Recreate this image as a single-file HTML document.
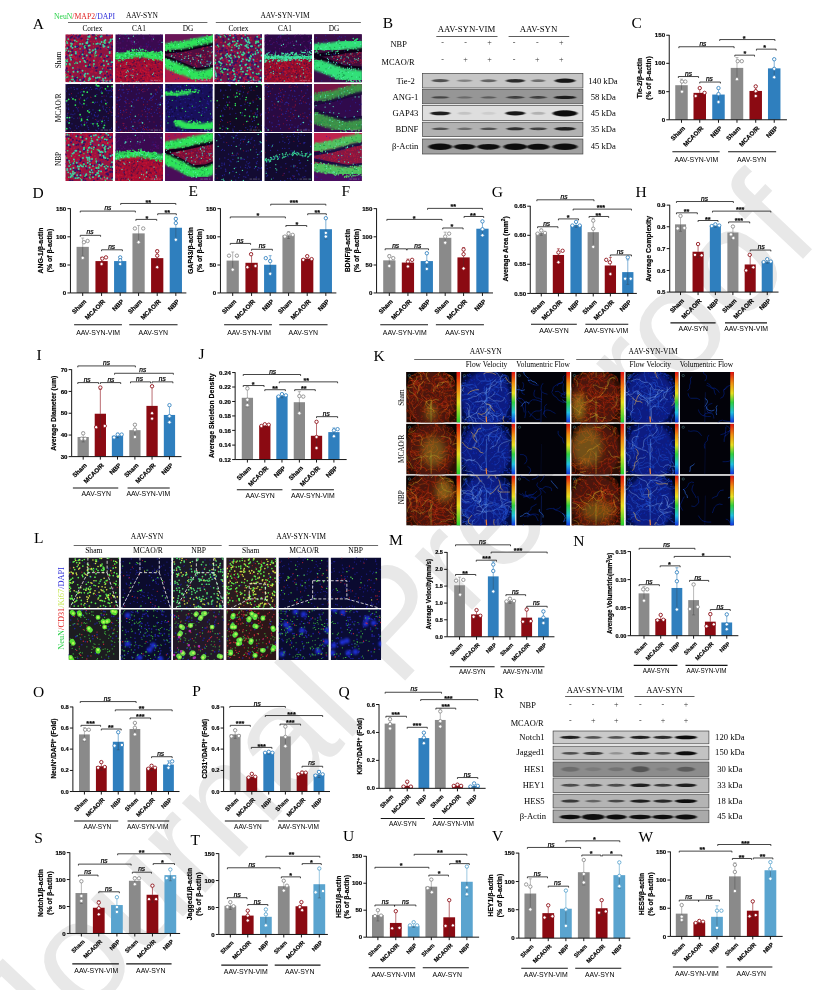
<!DOCTYPE html><html><head><meta charset="utf-8"><title>Figure</title>
<style>html,body{margin:0;padding:0;background:#fff}svg{display:block}.s{font-family:"Liberation Sans", sans-serif}.r{font-family:"Liberation Serif", serif}</style></head><body>
<svg width="816" height="990" viewBox="0 0 816 990">
<rect width="816" height="990" fill="#fff"/>
<text class="s" x="0" y="0" font-size="148.8" fill="#e8e8e8" transform="translate(33.8 1074.8) rotate(-46.7)">Journal Pre-proof</text>
<defs><filter id="b1" x="-20%" y="-20%" width="140%" height="140%"><feGaussianBlur stdDeviation="2.2"/></filter><filter id="b2" x="-20%" y="-20%" width="140%" height="140%"><feGaussianBlur stdDeviation="3"/></filter><filter id="b6" x="-60%" y="-60%" width="220%" height="220%"><feGaussianBlur stdDeviation="7"/></filter><filter id="b05" x="-20%" y="-20%" width="140%" height="140%"><feGaussianBlur stdDeviation="0.7"/></filter><filter id="bb" x="-30%" y="-80%" width="160%" height="260%"><feGaussianBlur stdDeviation="1.1 0.55"/></filter><filter id="bb2" x="-30%" y="-80%" width="160%" height="260%"><feGaussianBlur stdDeviation="1.6 0.9"/></filter><linearGradient id="cb1" x1="0" y1="0" x2="0" y2="1"><stop offset="0" stop-color="#e01010"/><stop offset="0.3" stop-color="#f08010"/><stop offset="0.6" stop-color="#e8e020"/><stop offset="1" stop-color="#20d030"/></linearGradient><linearGradient id="cb2" x1="0" y1="0" x2="0" y2="1"><stop offset="0" stop-color="#e01010"/><stop offset="0.22" stop-color="#f09010"/><stop offset="0.42" stop-color="#e8e020"/><stop offset="0.6" stop-color="#30d040"/><stop offset="0.8" stop-color="#20c0e0"/><stop offset="1" stop-color="#1030e0"/></linearGradient></defs>
<svg x="65.30" y="34.30" width="47.70" height="48.00" viewBox="0 0 100 100" preserveAspectRatio="none"><rect width="100" height="100" fill="#8e1440"/><g filter="url(#b05)"><path d="M32 15h.1M65 7h.1M54 37h.1M6 51h.1M4 43h.1M7 9h.1M42 83h.1M12 22h.1M63 95h.1M58 40h.1M98 5h.1M86 29h.1M14 12h.1M31 82h.1M18 58h.1M64 37h.1M55 6h.1M6 21h.1M68 43h.1M31 59h.1M45 30h.1M79 70h.1M24 57h.1M53 88h.1M73 29h.1M98 12h.1M42 76h.1M15 49h.1M4 67h.1M76 57h.1M88 31h.1M70 59h.1M58 46h.1M84 94h.1M47 66h.1M6 70h.1M65 99h.1M82 28h.1M39 67h.1M2 46h.1M17 12h.1M6 77h.1M13 25h.1M39 87h.1M8 45h.1M55 88h.1M82 86h.1M28 42h.1M36 88h.1M96 15h.1M18 23h.1M23 48h.1M59 26h.1M0 42h.1M37 57h.1M95 69h.1M52 62h.1M68 5h.1M90 78h.1M87 80h.1M39 40h.1M10 63h.1M6 7h.1M21 16h.1M34 5h.1M0 15h.1M10 36h.1M3 87h.1M61 15h.1M25 35h.1M36 12h.1M85 99h.1M47 48h.1M9 10h.1M34 26h.1M83 16h.1M2 95h.1M53 15h.1M54 3h.1M53 98h.1M86 70h.1M26 37h.1M17 77h.1M53 78h.1M33 22h.1M81 98h.1M85 81h.1M82 74h.1M23 52h.1M36 3h.1M3 28h.1M26 69h.1M96 45h.1M94 99h.1M96 36h.1M22 23h.1M20 20h.1M62 90h.1M84 48h.1M65 80h.1M8 66h.1M91 78h.1M75 48h.1M18 79h.1M33 80h.1M97 40h.1M40 95h.1M72 17h.1M13 15h.1M90 81h.1M15 83h.1M98 66h.1M35 55h.1M13 1h.1M97 65h.1M53 93h.1M43 87h.1M83 21h.1M25 29h.1M24 59h.1M26 42h.1M13 91h.1M35 46h.1M58 90h.1M42 92h.1M50 53h.1M52 2h.1M44 18h.1M0 80h.1M17 47h.1M73 56h.1M33 52h.1M56 78h.1M11 56h.1M25 28h.1M77 51h.1M56 76h.1M91 44h.1M61 51h.1M51 69h.1M45 53h.1M48 94h.1M70 88h.1M94 26h.1M56 94h.1M84 14h.1M12 44h.1M7 24h.1M7 67h.1M78 90h.1M15 72h.1M66 14h.1M88 97h.1M22 95h.1M40 49h.1M99 83h.1M16 43h.1M52 34h.1M20 32h.1M72 2h.1M55 44h.1M2 33h.1M62 51h.1M6 99h.1M79 97h.1M10 27h.1M4 78h.1M27 13h.1M42 91h.1M82 26h.1M15 92h.1M57 70h.1M9 6h.1M69 43h.1M7 94h.1M63 80h.1M8 86h.1M7 86h.1M45 34h.1M55 93h.1M27 13h.1M53 24h.1M11 16h.1M5 20h.1M31 31h.1M76 29h.1M50 18h.1M35 2h.1M25 2h.1M73 55h.1M19 47h.1M93 11h.1M82 43h.1M50 83h.1M39 51h.1M69 98h.1M34 83h.1M71 64h.1M40 35h.1M5 13h.1M7 74h.1M26 16h.1M8 84h.1M87 67h.1M28 24h.1M29 46h.1M16 45h.1M26 96h.1M97 55h.1M24 97h.1M31 36h.1M0 38h.1M47 50h.1M20 50h.1M0 26h.1M9 40h.1M4 2h.1M30 23h.1M59 53h.1M75 66h.1M72 88h.1M39 33h.1M98 15h.1M72 64h.1M4 84h.1M89 63h.1M73 81h.1M14 52h.1M50 83h.1M80 83h.1M58 89h.1M68 69h.1M23 3h.1M13 36h.1M10 84h.1M56 63h.1M63 68h.1M49 0h.1M80 75h.1M50 54h.1" stroke="#c8143a" stroke-width="3.6" stroke-linecap="round" fill="none" stroke-opacity="0.8"/><path d="M66 7h.1M74 25h.1M7 27h.1M73 21h.1M74 98h.1M49 38h.1M48 68h.1M77 62h.1M64 8h.1M15 25h.1M74 30h.1M57 1h.1M6 27h.1M67 69h.1M68 29h.1M52 46h.1M47 12h.1M89 20h.1M98 94h.1M2 46h.1M82 97h.1M45 27h.1M21 95h.1M21 58h.1M14 52h.1M95 13h.1M82 51h.1M89 70h.1M23 90h.1M49 2h.1M0 49h.1M45 30h.1M14 34h.1M32 84h.1M0 75h.1M84 12h.1M93 71h.1M90 29h.1M37 39h.1M100 59h.1M36 43h.1M28 5h.1M10 83h.1M29 94h.1M25 27h.1M51 19h.1M37 96h.1M88 81h.1M63 91h.1M94 55h.1M72 5h.1M73 45h.1M75 64h.1M29 5h.1M93 13h.1M47 34h.1M30 74h.1M98 26h.1M66 30h.1M56 39h.1M17 16h.1M21 91h.1M50 22h.1M91 100h.1M45 14h.1M19 9h.1M34 9h.1M24 26h.1M57 89h.1M75 41h.1M41 52h.1M38 34h.1M6 28h.1M97 13h.1M50 63h.1M86 22h.1M27 25h.1M40 45h.1M95 85h.1M87 2h.1M3 71h.1M90 47h.1M59 0h.1M39 93h.1M83 86h.1M97 25h.1M11 15h.1M52 68h.1M94 72h.1M65 76h.1M46 55h.1M4 78h.1M23 92h.1M65 30h.1M13 25h.1M64 70h.1M11 7h.1M52 58h.1M39 22h.1M60 1h.1M30 46h.1M96 64h.1M88 48h.1M23 25h.1M96 70h.1M31 2h.1M50 67h.1M42 26h.1M67 93h.1M23 3h.1M34 42h.1M68 20h.1M80 74h.1M50 21h.1M97 31h.1M82 23h.1M22 76h.1M29 95h.1M50 19h.1M22 42h.1M67 95h.1M15 39h.1M21 97h.1M14 5h.1M6 39h.1M90 88h.1M73 100h.1M93 33h.1M19 94h.1M75 3h.1" stroke="#24106a" stroke-width="4.2" stroke-linecap="round" fill="none" stroke-opacity="0.85"/><path d="M66 38h.1M37 33h.1M17 0h.1M28 35h.1M96 12h.1M96 21h.1M36 82h.1M82 43h.1M5 47h.1M37 92h.1M19 36h.1M90 3h.1M41 81h.1M77 4h.1M3 6h.1M92 26h.1M75 90h.1M34 27h.1M96 62h.1M26 72h.1M32 28h.1M0 76h.1M92 63h.1M94 2h.1M23 48h.1M96 95h.1M39 25h.1M43 49h.1M93 18h.1M80 74h.1M82 77h.1M61 33h.1M32 36h.1M78 8h.1M20 75h.1M25 6h.1M3 55h.1M33 98h.1M88 99h.1M26 8h.1M10 50h.1M71 45h.1M23 42h.1M62 67h.1M75 85h.1M66 12h.1M84 29h.1M57 37h.1M74 20h.1M25 25h.1" stroke="#3434b8" stroke-width="2.6" stroke-linecap="round" fill="none" stroke-opacity="0.8"/><path d="M15 88h.1M58 33h.1M40 99h.1M51 23h.1M81 65h.1M99 10h.1M47 82h.1M84 91h.1M4 29h.1M12 19h.1M97 58h.1M93 37h.1M87 45h.1M26 78h.1M95 11h.1M60 62h.1M22 37h.1M14 20h.1M25 60h.1M65 20h.1M1 33h.1M68 19h.1M31 20h.1M80 55h.1M6 10h.1M40 55h.1M64 9h.1M16 70h.1M41 28h.1M31 95h.1M31 57h.1M36 42h.1M86 100h.1M36 20h.1M73 20h.1M1 90h.1M42 82h.1M41 88h.1M46 16h.1M1 55h.1M64 91h.1M9 62h.1M37 50h.1M15 28h.1M52 93h.1M11 49h.1M80 97h.1M20 13h.1M94 98h.1M48 5h.1M93 39h.1M90 62h.1M82 16h.1M79 22h.1M40 85h.1M83 18h.1M22 40h.1M52 38h.1M12 25h.1M72 90h.1M4 56h.1M76 4h.1M84 12h.1M60 55h.1M63 31h.1M42 58h.1M43 66h.1M45 44h.1M2 62h.1M49 24h.1M76 78h.1M46 18h.1M47 11h.1M13 43h.1M9 44h.1M51 4h.1M64 8h.1M73 78h.1M51 5h.1M50 38h.1M95 14h.1M86 100h.1M73 81h.1M19 98h.1M49 96h.1M92 17h.1M79 93h.1M7 35h.1M76 16h.1M90 27h.1M82 14h.1M50 92h.1M21 26h.1M51 32h.1M4 18h.1M16 94h.1M68 90h.1M17 78h.1M12 53h.1M64 36h.1M87 56h.1M58 88h.1M10 99h.1M63 39h.1M80 26h.1M99 58h.1M36 76h.1M44 18h.1M74 5h.1M82 25h.1" stroke="#3fd0a0" stroke-width="4.0" stroke-linecap="round" fill="none"/><path d="M64 98h.1M59 66h.1M31 0h.1M3 15h.1M62 43h.1M51 90h.1M13 23h.1M65 2h.1M0 35h.1M11 36h.1M22 58h.1M59 20h.1M62 47h.1M13 94h.1M24 15h.1M10 64h.1M87 78h.1M40 26h.1M1 64h.1M56 35h.1M65 44h.1M94 73h.1M25 90h.1M4 53h.1M41 24h.1M6 78h.1M1 55h.1M94 14h.1M20 61h.1M51 64h.1M81 17h.1M31 30h.1M5 89h.1M78 72h.1M1 84h.1M75 47h.1" stroke="#30e070" stroke-width="3.0" stroke-linecap="round" fill="none"/></g><path d="M74 96H95" stroke="#d8d8e8" stroke-width="1.4" stroke-opacity="0.5" stroke-dasharray="5 2 9 2 3"/></svg>
<svg x="115.30" y="34.30" width="47.70" height="48.00" viewBox="0 0 100 100" preserveAspectRatio="none"><rect width="100" height="100" fill="#3a0a50"/><path d="M-5 48 L20 45 L45 39 L60 40 L80 45 L105 46 L110 110 L-10 110Z" fill="#a01030" filter="url(#b1)" fill-opacity="1"/><path d="M34 75h.1M70 85h.1M79 52h.1M27 64h.1M74 94h.1M24 91h.1M63 69h.1M67 98h.1M47 84h.1M70 86h.1M44 72h.1M21 62h.1M8 91h.1M11 93h.1M69 63h.1M70 74h.1M7 59h.1M36 82h.1M82 89h.1M7 87h.1M91 94h.1M85 81h.1M63 83h.1M28 72h.1M85 62h.1M44 77h.1M35 70h.1M76 98h.1M49 80h.1M35 83h.1M26 94h.1M11 64h.1M8 79h.1M70 79h.1M38 88h.1M53 75h.1M75 65h.1M16 84h.1M66 74h.1M77 58h.1M70 84h.1M98 73h.1M10 96h.1M98 79h.1M20 64h.1M40 79h.1M69 50h.1M14 60h.1M40 74h.1M57 75h.1M72 88h.1M77 70h.1M85 68h.1M31 63h.1M78 71h.1M68 93h.1M18 65h.1M49 97h.1M16 78h.1M10 57h.1M54 72h.1M51 64h.1M41 95h.1M21 68h.1M39 76h.1M12 98h.1M42 70h.1M22 74h.1M22 80h.1M13 78h.1M81 63h.1M47 56h.1M23 96h.1M35 64h.1M82 82h.1M0 72h.1M43 64h.1M93 85h.1M6 83h.1M91 78h.1M14 83h.1M1 95h.1M23 78h.1M90 79h.1M17 89h.1M61 78h.1M67 89h.1M79 84h.1M20 69h.1M53 74h.1M44 88h.1M49 50h.1M54 86h.1M1 84h.1M47 56h.1M67 84h.1M64 64h.1M3 61h.1M68 93h.1M33 98h.1M51 48h.1M72 63h.1M34 86h.1M53 77h.1M42 55h.1M51 97h.1M65 79h.1M30 59h.1M63 78h.1M4 72h.1M89 55h.1M92 61h.1M66 79h.1M91 61h.1M62 63h.1M70 60h.1M77 91h.1M82 79h.1M64 93h.1M5 57h.1M81 58h.1M59 94h.1M0 68h.1M12 97h.1M9 87h.1M5 77h.1M71 86h.1M63 71h.1M46 93h.1M25 96h.1M1 65h.1M31 73h.1M17 86h.1M37 57h.1M44 68h.1M14 80h.1M36 64h.1M39 79h.1M94 78h.1M6 97h.1M70 83h.1M33 61h.1M98 83h.1M43 89h.1M38 68h.1M60 90h.1M42 59h.1M82 89h.1M4 83h.1M81 87h.1M85 81h.1M68 91h.1M55 80h.1M20 75h.1M61 68h.1M25 75h.1M9 81h.1M58 90h.1M48 59h.1M18 70h.1M36 56h.1M40 52h.1M11 63h.1M3 99h.1M95 77h.1M82 96h.1M56 87h.1M46 95h.1M12 96h.1M26 56h.1M64 96h.1M97 99h.1M90 90h.1M79 71h.1M65 99h.1M75 94h.1M59 76h.1M4 93h.1M22 93h.1M87 89h.1M10 93h.1M84 63h.1M71 55h.1M14 87h.1M32 90h.1M11 98h.1M6 90h.1M36 99h.1M100 93h.1M83 53h.1M18 77h.1M61 50h.1M61 71h.1M81 58h.1M84 86h.1M19 83h.1M37 59h.1M45 52h.1M12 71h.1M82 87h.1M32 71h.1M38 75h.1M6 87h.1M51 53h.1M25 82h.1M2 60h.1M58 52h.1M87 72h.1M49 50h.1M59 86h.1M15 57h.1M83 94h.1M40 94h.1M44 98h.1M80 91h.1M82 85h.1M96 93h.1M43 50h.1M97 78h.1M94 63h.1" stroke="#c81434" stroke-width="3.0" stroke-linecap="round" fill="none" stroke-opacity="0.8"/><path d="M81 88h.1M54 92h.1M31 65h.1M12 59h.1M9 55h.1M84 61h.1M57 65h.1M20 71h.1M46 55h.1M38 59h.1M56 49h.1M28 99h.1M30 77h.1M44 74h.1M96 74h.1M35 68h.1M62 85h.1M74 74h.1M78 71h.1M77 59h.1M50 96h.1M78 87h.1M39 56h.1M79 85h.1M14 58h.1M84 84h.1M43 91h.1M56 50h.1M92 77h.1M54 100h.1M52 52h.1M36 59h.1M35 95h.1M68 53h.1M40 56h.1M57 88h.1M44 62h.1M53 82h.1M98 83h.1M89 69h.1M82 99h.1M51 50h.1M63 60h.1M35 99h.1M41 79h.1M31 69h.1M84 59h.1M50 55h.1M27 65h.1M53 100h.1M52 82h.1M61 81h.1M10 90h.1M5 89h.1M58 96h.1M44 62h.1M93 85h.1M31 90h.1M60 96h.1M50 95h.1M31 88h.1M48 79h.1M12 83h.1M16 71h.1M44 84h.1M35 72h.1M38 96h.1M21 95h.1M90 59h.1M51 54h.1M27 77h.1M38 66h.1M18 85h.1M32 66h.1M11 56h.1M36 50h.1M13 72h.1M91 77h.1M88 86h.1M3 68h.1M41 66h.1M12 91h.1M73 71h.1M84 57h.1M43 68h.1M83 78h.1M85 61h.1M11 79h.1M21 91h.1M75 83h.1" stroke="#40104a" stroke-width="3.0" stroke-linecap="round" fill="none" stroke-opacity="0.8"/><path d="M28 9h.1M93 13h.1M76 4h.1M54 25h.1M6 36h.1M41 20h.1M31 14h.1M24 24h.1M94 35h.1M11 29h.1M36 21h.1M6 28h.1M45 11h.1M36 17h.1M7 1h.1M43 19h.1M54 1h.1M65 25h.1M25 14h.1M84 30h.1M33 18h.1M83 32h.1M24 4h.1M16 30h.1M58 8h.1M69 16h.1M9 4h.1M44 19h.1M72 0h.1M90 16h.1M20 9h.1M81 6h.1M65 30h.1M3 19h.1M11 18h.1M25 9h.1M53 25h.1M59 8h.1M41 7h.1M76 11h.1M39 17h.1M77 14h.1M78 6h.1M21 30h.1M12 37h.1M72 4h.1M60 10h.1M68 25h.1M11 2h.1M38 14h.1M95 1h.1M34 15h.1M80 4h.1M48 16h.1M8 33h.1M59 4h.1M17 36h.1M33 2h.1M5 15h.1M67 27h.1M99 3h.1M36 28h.1M6 34h.1M24 23h.1M35 14h.1M57 30h.1M17 7h.1M30 31h.1M94 34h.1M8 18h.1" stroke="#5a1070" stroke-width="3.0" stroke-linecap="round" fill="none" stroke-opacity="0.7"/><path d="M58 99h.1M36 77h.1M43 87h.1M7 48h.1M90 28h.1M26 2h.1M16 27h.1M70 22h.1M40 20h.1M60 86h.1M65 20h.1M73 96h.1M60 8h.1M81 88h.1M34 14h.1M19 54h.1M88 64h.1M92 21h.1M33 75h.1M65 41h.1M68 34h.1M6 41h.1M5 63h.1M33 49h.1M60 26h.1M46 1h.1M93 56h.1M99 6h.1M61 72h.1M33 9h.1M16 14h.1M77 9h.1M81 42h.1M54 59h.1M55 66h.1M60 33h.1M74 26h.1M71 76h.1M78 31h.1M77 98h.1" stroke="#2525a0" stroke-width="2.4" stroke-linecap="round" fill="none" stroke-opacity="0.7"/><path d="M-5 48 L20 45 L45 39 L60 40 L80 45 L105 46" stroke="#2fe45a" stroke-width="15" fill="none" filter="url(#b1)" stroke-opacity="1"/><path d="M77 36h.1M6 50h.1M94 37h.1M98 50h.1M64 34h.1M80 46h.1M26 43h.1M60 45h.1M12 49h.1M14 43h.1M35 50h.1M4 51h.1M40 32h.1M39 39h.1M85 51h.1M74 38h.1M71 39h.1M52 48h.1M93 53h.1M80 52h.1M70 45h.1M68 37h.1M37 34h.1M20 42h.1M44 37h.1M76 38h.1M46 46h.1M84 41h.1M71 48h.1M51 42h.1M54 37h.1M58 37h.1M53 41h.1M56 32h.1M6 43h.1M80 50h.1M58 32h.1M9 46h.1M73 43h.1M94 53h.1M29 35h.1M75 50h.1M33 45h.1M60 46h.1M3 51h.1M35 37h.1M87 48h.1M12 47h.1M16 54h.1M51 37h.1M20 40h.1M3 39h.1M81 46h.1M94 41h.1M59 44h.1M96 53h.1M0 49h.1M81 42h.1M60 46h.1M70 44h.1M96 36h.1M96 51h.1M25 35h.1M10 55h.1M86 51h.1M63 38h.1M91 50h.1M54 42h.1M14 52h.1M30 38h.1M32 44h.1M39 39h.1M76 47h.1M7 55h.1M77 39h.1M34 39h.1M7 41h.1M75 50h.1M80 36h.1M6 45h.1M63 34h.1M81 54h.1M3 50h.1M58 40h.1M71 45h.1M52 44h.1M26 36h.1M80 46h.1M98 44h.1M73 38h.1M89 53h.1M91 38h.1M47 40h.1M69 47h.1M23 39h.1M16 51h.1M98 55h.1M52 46h.1M35 32h.1M9 44h.1M25 41h.1M79 53h.1M18 44h.1M11 49h.1M30 41h.1M69 44h.1M98 38h.1M25 37h.1M29 38h.1M38 37h.1M64 47h.1M23 44h.1M36 47h.1M94 52h.1M92 46h.1M45 32h.1M98 48h.1M2 47h.1M23 50h.1M86 37h.1" stroke="#2fe45a" stroke-width="3.4" stroke-linecap="round" fill="none"/><path d="M23 48h.1M100 46h.1M32 41h.1M26 45h.1M59 45h.1M94 41h.1M1 48h.1M23 43h.1M41 42h.1M2 53h.1M32 42h.1M69 39h.1M26 42h.1M12 51h.1M52 36h.1M32 48h.1M37 45h.1M13 47h.1M77 44h.1M43 34h.1M26 47h.1M37 35h.1M66 38h.1M54 34h.1M55 46h.1M46 40h.1M89 47h.1M36 36h.1M43 38h.1M94 44h.1M14 46h.1M16 41h.1M18 48h.1M40 35h.1M43 35h.1M69 39h.1M92 40h.1M55 40h.1M48 33h.1M37 39h.1M43 39h.1M6 53h.1M58 45h.1M34 40h.1M59 43h.1M87 44h.1M10 49h.1M64 38h.1M3 48h.1M19 50h.1" stroke="#189048" stroke-width="2.6" stroke-linecap="round" fill="none" stroke-opacity="0.8"/><path d="M93 47h.1M85 44h.1M55 41h.1M27 37h.1M97 39h.1M5 43h.1M52 32h.1M97 41h.1M16 50h.1M9 48h.1M39 34h.1M6 51h.1M67 43h.1M22 40h.1M10 50h.1M20 52h.1M48 34h.1M28 50h.1M50 42h.1M78 52h.1M51 38h.1M29 40h.1M21 45h.1M96 52h.1M49 37h.1M27 49h.1M44 42h.1M77 37h.1M44 40h.1M31 42h.1" stroke="#60f0c0" stroke-width="2.2" stroke-linecap="round" fill="none" stroke-opacity="0.9"/><path d="M36 90h.1M12 99h.1M24 86h.1M24 59h.1M38 4h.1M80 81h.1M27 78h.1M48 99h.1M5 38h.1M23 62h.1M78 84h.1M55 39h.1M80 10h.1M26 75h.1M44 99h.1M9 46h.1M21 0h.1M9 9h.1M37 43h.1M51 29h.1M70 52h.1M98 17h.1M51 49h.1M37 86h.1M21 88h.1M36 34h.1M61 56h.1M28 8h.1M96 37h.1M11 66h.1M53 33h.1M33 85h.1M34 42h.1M96 36h.1M40 16h.1M66 66h.1M45 41h.1M23 79h.1M46 83h.1M37 73h.1" stroke="#4fe0b8" stroke-width="2.6" stroke-linecap="round" fill="none"/><path d="M74 96H95" stroke="#d8d8e8" stroke-width="1.4" stroke-opacity="0.5" stroke-dasharray="5 2 9 2 3"/></svg>
<svg x="165.10" y="34.30" width="47.70" height="48.00" viewBox="0 0 100 100" preserveAspectRatio="none"><rect width="100" height="100" fill="#4a0e48"/><path d="M-5 27 L40 22 L70 15 L105 8 L110 -10 L-10 -10Z" fill="#6a1258" filter="url(#b1)" fill-opacity="1"/><path d="M-5 58 L30 72 L65 86 L85 84 L105 78 L110 110 L-10 110Z" fill="#b01c48" filter="url(#b1)" fill-opacity="1"/><path d="M-5 27 L40 22 L70 15 L105 8 L105 78 L85 84 L65 86 L30 72 L-5 58Z" fill="#521040" filter="url(#b2)" fill-opacity="0.9"/><path d="M-5 27 L40 22 L70 15 L105 8" stroke="#0c0418" stroke-width="6.3" fill="none" filter="url(#b05)" transform="translate(0 11.1)"/><path d="M-5 58 L30 72 L65 86 L85 84 L105 78" stroke="#0c0418" stroke-width="6.08" fill="none" filter="url(#b05)" transform="translate(0 -12.920000000000002)"/><path d="M68 50h.1M68 55h.1M36 45h.1M83 52h.1M69 53h.1M90 34h.1M99 44h.1M80 28h.1M55 61h.1M70 46h.1M79 46h.1M70 40h.1M95 37h.1M51 50h.1M66 41h.1M92 47h.1M64 48h.1M22 44h.1M55 60h.1M78 29h.1M10 41h.1M19 48h.1M54 44h.1M77 57h.1M78 31h.1M37 48h.1M30 46h.1M51 44h.1M83 48h.1M18 41h.1M89 41h.1M66 56h.1M46 57h.1M63 63h.1M84 47h.1M66 66h.1M79 31h.1M39 50h.1M97 38h.1M97 32h.1M52 43h.1M82 42h.1M94 41h.1M69 59h.1M37 41h.1M89 27h.1M81 56h.1M96 39h.1M42 37h.1M65 40h.1M57 52h.1M99 47h.1M88 27h.1M79 48h.1M44 38h.1M58 50h.1M97 37h.1M27 40h.1M63 60h.1M93 37h.1M65 66h.1M45 46h.1M76 32h.1M78 59h.1M49 40h.1M65 51h.1M84 59h.1M54 38h.1M49 40h.1M80 60h.1" stroke="#c01838" stroke-width="2.8" stroke-linecap="round" fill="none" stroke-opacity="0.7"/><path d="M12 60h.1M87 99h.1M76 5h.1M88 67h.1M28 92h.1M83 90h.1M25 58h.1M38 30h.1M76 62h.1M33 54h.1M93 57h.1M91 57h.1M99 3h.1M46 55h.1M73 97h.1M62 48h.1M63 53h.1M70 95h.1M1 32h.1M88 6h.1M79 3h.1M65 80h.1M24 38h.1M23 70h.1M53 61h.1M33 59h.1M95 78h.1M95 25h.1M52 39h.1M35 80h.1M17 56h.1M77 94h.1M2 27h.1M49 94h.1M16 84h.1M40 55h.1M93 6h.1M33 16h.1M13 30h.1M70 58h.1M12 80h.1M51 14h.1M82 82h.1M22 94h.1M81 23h.1M0 87h.1M83 10h.1M77 77h.1M63 83h.1M98 33h.1" stroke="#2828a8" stroke-width="2.6" stroke-linecap="round" fill="none" stroke-opacity="0.7"/><path d="M-5 27 L40 22 L70 15 L105 8" stroke="#2fe45a" stroke-width="15" fill="none" filter="url(#b1)" stroke-opacity="1"/><path d="M-5 58 L30 72 L65 86 L85 84 L105 78" stroke="#2fe45a" stroke-width="19" fill="none" filter="url(#b1)" stroke-opacity="1"/><path d="M57 28h.1M10 28h.1M82 16h.1M88 16h.1M8 25h.1M3 34h.1M29 28h.1M74 21h.1M33 28h.1M51 29h.1M96 14h.1M99 3h.1M73 9h.1M43 25h.1M56 21h.1M65 22h.1M45 23h.1M19 18h.1M56 19h.1M10 33h.1M99 1h.1M88 3h.1M77 22h.1M67 21h.1M73 20h.1M10 35h.1M56 25h.1M1 33h.1M32 20h.1M18 25h.1M61 10h.1M4 27h.1M53 17h.1M79 10h.1M13 22h.1M89 20h.1M60 10h.1M96 10h.1M96 8h.1M21 15h.1M58 13h.1M80 13h.1M27 24h.1M2 33h.1M98 12h.1M57 13h.1M97 9h.1M24 25h.1M46 15h.1M62 10h.1M73 12h.1M61 11h.1M56 17h.1M16 26h.1M17 19h.1M13 21h.1M38 27h.1M21 18h.1M7 26h.1M25 29h.1M65 11h.1M43 24h.1M85 12h.1M10 20h.1M28 27h.1M35 19h.1M25 16h.1M51 18h.1M87 11h.1M17 24h.1M2 32h.1M78 13h.1M69 11h.1M41 16h.1M13 16h.1M40 13h.1M80 9h.1M12 26h.1M54 10h.1M32 15h.1M34 32h.1M8 20h.1M96 4h.1M93 5h.1M1 24h.1M78 15h.1M85 15h.1M32 26h.1M83 8h.1M12 35h.1" stroke="#2fe45a" stroke-width="3.2" stroke-linecap="round" fill="none"/><path d="M99 83h.1M86 88h.1M85 82h.1M27 74h.1M59 83h.1M6 54h.1M58 93h.1M95 88h.1M24 71h.1M100 80h.1M46 79h.1M56 85h.1M2 54h.1M26 81h.1M86 88h.1M10 63h.1M11 75h.1M13 61h.1M47 69h.1M55 90h.1M63 74h.1M25 69h.1M65 87h.1M3 53h.1M26 78h.1M30 61h.1M92 92h.1M90 81h.1M11 73h.1M81 79h.1M84 83h.1M77 80h.1M77 93h.1M41 74h.1M70 89h.1M5 72h.1M21 72h.1M63 93h.1M59 79h.1M98 79h.1M22 66h.1M86 91h.1M82 83h.1M52 85h.1M24 59h.1M23 78h.1M22 71h.1M32 74h.1M49 80h.1M37 64h.1M21 80h.1M57 86h.1M61 86h.1M31 83h.1M94 92h.1M26 74h.1M52 79h.1M10 58h.1M64 97h.1M97 86h.1M13 61h.1M62 86h.1M57 86h.1M47 71h.1M2 51h.1M84 90h.1M7 63h.1M44 68h.1M3 64h.1M57 92h.1M55 92h.1M20 62h.1M93 76h.1M16 71h.1M92 87h.1M65 81h.1M6 56h.1M90 77h.1M33 66h.1M27 77h.1M49 87h.1M28 80h.1M76 84h.1M36 69h.1M94 90h.1M87 90h.1M56 74h.1M16 76h.1M97 83h.1M79 95h.1M82 81h.1M5 65h.1M42 76h.1M14 68h.1M77 86h.1M87 94h.1M57 88h.1M21 65h.1M52 82h.1M31 80h.1M23 63h.1M8 58h.1M22 70h.1M17 69h.1M89 83h.1M34 82h.1M68 84h.1M40 80h.1M69 93h.1M9 54h.1" stroke="#2fe45a" stroke-width="3.2" stroke-linecap="round" fill="none"/><path d="M88 87h.1M18 75h.1M6 21h.1M17 31h.1M18 19h.1M70 81h.1M76 16h.1M35 74h.1M84 17h.1M92 89h.1M22 20h.1M83 9h.1M14 30h.1M21 23h.1M63 11h.1M71 86h.1M88 7h.1M51 22h.1M80 87h.1M68 11h.1M0 26h.1M68 19h.1M83 79h.1M33 74h.1M56 13h.1M89 13h.1M75 79h.1M32 65h.1M85 11h.1M60 79h.1M27 18h.1M92 13h.1M7 25h.1M68 15h.1M80 84h.1M82 8h.1M9 65h.1M15 67h.1M48 21h.1M52 87h.1M72 21h.1M12 26h.1M100 73h.1M37 70h.1M92 16h.1M46 73h.1M77 18h.1M13 65h.1M41 25h.1M75 88h.1" stroke="#189048" stroke-width="2.6" stroke-linecap="round" fill="none" stroke-opacity="0.8"/><path d="M29 26h.1M70 15h.1M98 14h.1M97 75h.1M81 75h.1M18 24h.1M4 55h.1M8 19h.1M97 16h.1M81 10h.1M76 20h.1M28 21h.1M15 73h.1M26 76h.1M52 77h.1M22 31h.1M75 89h.1M46 85h.1M74 78h.1M39 17h.1M11 57h.1M57 75h.1M49 77h.1M64 91h.1M1 63h.1M87 8h.1M51 80h.1M71 94h.1M81 11h.1M11 68h.1M100 5h.1M78 11h.1M98 71h.1M51 75h.1M38 71h.1M20 62h.1" stroke="#60f0c0" stroke-width="2.2" stroke-linecap="round" fill="none" stroke-opacity="0.9"/><path d="M18 35h.1M94 45h.1M78 65h.1M8 52h.1M61 69h.1M18 57h.1M97 25h.1M67 44h.1M42 47h.1M90 36h.1M88 56h.1M71 45h.1M24 56h.1M34 42h.1M99 36h.1M53 56h.1M92 62h.1M70 55h.1M13 46h.1M98 38h.1M14 44h.1M58 49h.1M35 52h.1M49 50h.1M49 45h.1M41 50h.1M19 48h.1M74 58h.1M75 47h.1M59 52h.1M77 53h.1M75 43h.1M84 67h.1M96 58h.1M80 34h.1M93 66h.1M95 61h.1M75 60h.1M74 45h.1M88 62h.1" stroke="#4fe0b8" stroke-width="2.6" stroke-linecap="round" fill="none"/><path d="M74 96H95" stroke="#d8d8e8" stroke-width="1.4" stroke-opacity="0.5" stroke-dasharray="5 2 9 2 3"/></svg>
<svg x="214.30" y="34.30" width="47.70" height="48.00" viewBox="0 0 100 100" preserveAspectRatio="none"><rect width="100" height="100" fill="#701448"/><g filter="url(#b05)"><path d="M75 82h.1M44 45h.1M43 36h.1M78 88h.1M30 71h.1M22 1h.1M69 78h.1M33 99h.1M72 32h.1M76 84h.1M14 91h.1M43 27h.1M38 53h.1M53 29h.1M6 63h.1M72 70h.1M40 86h.1M2 13h.1M2 55h.1M52 23h.1M53 0h.1M4 96h.1M89 7h.1M66 51h.1M54 84h.1M64 94h.1M68 92h.1M12 82h.1M32 92h.1M79 97h.1M76 39h.1M52 78h.1M6 54h.1M57 72h.1M34 61h.1M74 38h.1M68 90h.1M37 53h.1M48 84h.1M27 29h.1M39 65h.1M15 98h.1M50 73h.1M41 3h.1M39 57h.1M9 98h.1M59 46h.1M3 25h.1M34 65h.1M17 49h.1M27 56h.1M69 52h.1M75 62h.1M8 66h.1M48 76h.1M94 35h.1M85 23h.1M65 1h.1M82 45h.1M45 50h.1M37 23h.1M69 63h.1M5 27h.1M93 28h.1M29 58h.1M37 95h.1M98 13h.1M22 17h.1M44 28h.1M67 89h.1M7 3h.1M11 31h.1M13 43h.1M36 73h.1M97 98h.1M42 64h.1M13 61h.1M88 89h.1M14 17h.1M90 70h.1M76 7h.1M62 2h.1M74 79h.1M32 0h.1M73 100h.1M62 37h.1M33 81h.1M97 37h.1M22 100h.1M43 44h.1M31 72h.1M98 47h.1M86 40h.1M42 80h.1M97 76h.1M70 83h.1M92 95h.1M53 39h.1M1 53h.1M36 0h.1M99 31h.1M93 2h.1M36 78h.1M67 67h.1M49 9h.1M83 76h.1M48 56h.1M80 49h.1M48 48h.1M74 74h.1M33 78h.1M38 67h.1M38 90h.1M94 78h.1M38 35h.1M43 60h.1M3 55h.1M93 6h.1M89 57h.1M100 72h.1M72 75h.1M42 12h.1M85 88h.1M72 22h.1M50 51h.1M36 49h.1M46 98h.1M63 98h.1M91 18h.1M77 38h.1M60 56h.1M74 30h.1M68 37h.1M78 49h.1M64 100h.1M28 0h.1M90 52h.1M65 83h.1M89 39h.1M99 39h.1M73 83h.1M36 42h.1M37 34h.1M41 85h.1M6 99h.1M79 56h.1M64 30h.1M76 87h.1M38 50h.1M22 25h.1M85 64h.1M45 64h.1M19 0h.1M36 58h.1M18 54h.1M33 26h.1M74 36h.1M74 75h.1M38 3h.1M84 55h.1M58 69h.1M55 91h.1M1 97h.1M62 41h.1M91 90h.1M60 1h.1M62 41h.1M57 83h.1M13 84h.1M31 25h.1M4 11h.1M27 53h.1M94 17h.1M29 37h.1M64 35h.1M67 15h.1M4 58h.1M72 13h.1M5 67h.1M7 93h.1M69 16h.1M41 6h.1M9 35h.1M88 91h.1M75 64h.1M58 51h.1M66 50h.1M40 84h.1M30 41h.1M68 96h.1M34 43h.1M40 21h.1M35 79h.1M19 48h.1M28 58h.1M77 12h.1M49 19h.1M65 68h.1M22 23h.1M30 33h.1M89 87h.1M79 39h.1M46 20h.1M46 95h.1M9 39h.1M20 84h.1M30 49h.1M5 69h.1M51 80h.1M72 74h.1M26 25h.1M60 5h.1M94 72h.1M49 36h.1M8 55h.1M77 12h.1M10 69h.1M47 79h.1M41 98h.1M87 32h.1M54 59h.1M45 82h.1M71 82h.1M25 50h.1M54 58h.1M2 81h.1M45 16h.1M85 56h.1M74 74h.1M62 91h.1M6 33h.1M16 64h.1M22 3h.1M14 17h.1M54 46h.1M46 1h.1M53 25h.1M9 6h.1M15 40h.1M17 46h.1" stroke="#c8143a" stroke-width="3.6" stroke-linecap="round" fill="none" stroke-opacity="0.8"/><path d="M16 74h.1M88 32h.1M7 97h.1M8 65h.1M76 48h.1M89 15h.1M72 91h.1M90 85h.1M44 51h.1M85 38h.1M26 3h.1M20 14h.1M93 31h.1M35 97h.1M69 43h.1M11 37h.1M29 95h.1M42 97h.1M27 5h.1M90 8h.1M79 60h.1M28 83h.1M43 98h.1M56 94h.1M93 38h.1M69 73h.1M66 2h.1M69 76h.1M19 10h.1M7 54h.1M11 85h.1M42 100h.1M73 43h.1M18 43h.1M61 86h.1M89 32h.1M2 66h.1M69 65h.1M80 81h.1M63 82h.1M13 95h.1M67 9h.1M17 64h.1M31 94h.1M28 49h.1M50 94h.1M30 89h.1M72 57h.1M95 88h.1M75 55h.1M4 22h.1M65 12h.1M64 35h.1M39 82h.1M84 75h.1M45 54h.1M99 93h.1M61 8h.1M90 5h.1M12 66h.1M20 75h.1M69 17h.1M91 100h.1M66 98h.1M80 47h.1M82 94h.1M70 8h.1M37 70h.1M37 17h.1M46 14h.1M47 10h.1M73 21h.1M94 11h.1M63 64h.1M20 63h.1M55 62h.1M19 48h.1M84 62h.1M24 33h.1M88 5h.1M48 51h.1M43 0h.1M11 84h.1M46 29h.1M45 5h.1M8 83h.1M76 20h.1M32 8h.1M32 52h.1M75 51h.1M85 100h.1M57 4h.1M13 67h.1M13 90h.1M5 6h.1M100 41h.1M56 60h.1M12 34h.1M37 74h.1M78 69h.1M18 46h.1M92 17h.1M35 62h.1M100 3h.1M69 46h.1M53 84h.1M10 60h.1M32 76h.1M71 42h.1M15 76h.1M70 56h.1M75 95h.1M24 69h.1M81 27h.1M90 31h.1M96 58h.1M97 88h.1M78 37h.1M46 59h.1M81 42h.1M90 22h.1M52 15h.1M17 29h.1M5 57h.1M62 40h.1M80 55h.1M68 9h.1M33 2h.1M16 85h.1M14 60h.1M38 67h.1M87 83h.1M96 97h.1M40 99h.1M76 28h.1M33 52h.1M85 10h.1M89 67h.1M59 41h.1M38 41h.1M72 44h.1M71 88h.1M9 2h.1M94 19h.1M81 40h.1M22 1h.1M43 60h.1M5 1h.1M29 88h.1M75 26h.1M40 42h.1M71 28h.1M36 50h.1M24 43h.1M75 50h.1M6 35h.1M57 23h.1M39 56h.1M36 18h.1M87 7h.1M91 9h.1M55 55h.1M41 63h.1M88 32h.1M6 20h.1M88 60h.1M75 39h.1M32 69h.1M57 91h.1M16 34h.1M69 91h.1M47 79h.1M11 64h.1M33 69h.1M30 19h.1M27 72h.1M71 91h.1M41 7h.1M81 26h.1M72 49h.1M44 3h.1M23 75h.1M46 88h.1M81 53h.1M98 0h.1M40 53h.1M5 87h.1M15 58h.1M27 38h.1M47 29h.1" stroke="#24106a" stroke-width="4.2" stroke-linecap="round" fill="none" stroke-opacity="0.85"/><path d="M17 67h.1M63 8h.1M97 11h.1M22 28h.1M36 49h.1M90 10h.1M57 62h.1M26 36h.1M44 89h.1M78 48h.1M7 36h.1M82 43h.1M39 64h.1M4 65h.1M69 11h.1M42 86h.1M26 53h.1M35 55h.1M39 34h.1M92 69h.1M100 33h.1M47 37h.1M87 37h.1M68 18h.1M54 27h.1M91 37h.1M95 57h.1M34 55h.1M93 69h.1M82 57h.1M62 14h.1M83 64h.1M65 30h.1M76 53h.1M32 99h.1M77 68h.1M84 70h.1M38 96h.1M91 67h.1M43 50h.1M5 89h.1M83 59h.1M47 80h.1M2 40h.1M25 61h.1M35 61h.1M90 41h.1M11 1h.1M84 47h.1M44 3h.1" stroke="#3434b8" stroke-width="2.6" stroke-linecap="round" fill="none" stroke-opacity="0.8"/><path d="M10 0h.1M90 5h.1M32 47h.1M57 22h.1M65 64h.1M98 9h.1M30 10h.1M29 21h.1M3 81h.1M28 74h.1M81 80h.1M2 59h.1M85 63h.1M60 43h.1M82 53h.1M35 50h.1M47 19h.1M67 83h.1M65 1h.1M41 77h.1M13 51h.1M68 53h.1M33 2h.1M70 17h.1M60 52h.1M72 11h.1M97 75h.1M87 18h.1M72 38h.1M70 70h.1M41 95h.1M44 47h.1M72 15h.1M90 33h.1M89 15h.1M12 59h.1M24 44h.1M20 72h.1M74 69h.1M13 5h.1M58 8h.1M72 55h.1M93 82h.1M66 83h.1M51 29h.1M6 70h.1M67 63h.1M51 46h.1M92 38h.1M14 95h.1M76 90h.1M99 44h.1M16 49h.1M49 39h.1M79 25h.1M97 21h.1M28 83h.1M23 72h.1M27 41h.1M47 25h.1M82 94h.1M92 16h.1M3 44h.1M74 55h.1M96 99h.1M68 26h.1M40 7h.1M39 75h.1M32 19h.1M54 90h.1M65 11h.1M43 23h.1M81 42h.1M44 88h.1M30 45h.1M98 31h.1M54 65h.1M33 63h.1M42 83h.1M56 73h.1M57 70h.1M39 15h.1M36 33h.1M1 77h.1M52 48h.1M70 7h.1M13 72h.1M4 87h.1M51 97h.1M86 41h.1M34 43h.1M77 46h.1M72 99h.1M75 51h.1M74 49h.1M58 42h.1M94 99h.1M57 56h.1M10 57h.1M93 24h.1M77 25h.1M71 28h.1M60 78h.1M3 84h.1M52 24h.1M31 55h.1M74 18h.1M7 23h.1M63 40h.1M76 73h.1M37 59h.1M15 61h.1M65 24h.1M67 14h.1M97 55h.1M92 67h.1M21 73h.1M61 38h.1M69 76h.1M68 22h.1M97 91h.1M43 93h.1M99 34h.1M19 24h.1M49 14h.1" stroke="#3fd0a0" stroke-width="4.0" stroke-linecap="round" fill="none"/><path d="M24 73h.1M2 61h.1M41 71h.1M26 48h.1M21 2h.1M86 37h.1M30 93h.1M37 54h.1M14 41h.1M88 82h.1M82 91h.1M23 5h.1M13 65h.1M55 37h.1M71 22h.1M61 42h.1M14 78h.1M18 80h.1M76 44h.1M45 21h.1M14 70h.1M37 56h.1M37 27h.1M16 76h.1M43 15h.1M87 15h.1M23 16h.1M56 78h.1M3 92h.1M70 83h.1M42 44h.1M9 26h.1M87 29h.1M90 83h.1M92 14h.1M42 83h.1M31 24h.1M2 53h.1M55 21h.1M26 63h.1M17 79h.1" stroke="#30e070" stroke-width="3.0" stroke-linecap="round" fill="none"/></g><path d="M74 96H95" stroke="#d8d8e8" stroke-width="1.4" stroke-opacity="0.5" stroke-dasharray="5 2 9 2 3"/></svg>
<svg x="264.30" y="34.30" width="47.70" height="48.00" viewBox="0 0 100 100" preserveAspectRatio="none"><rect width="100" height="100" fill="#2c0846"/><path d="M-5 50 L30 48 L60 47 L105 47 L110 110 L-10 110Z" fill="#92102c" filter="url(#b1)" fill-opacity="1"/><path d="M13 57h.1M71 56h.1M72 92h.1M35 59h.1M60 54h.1M55 59h.1M63 89h.1M61 77h.1M12 87h.1M93 59h.1M83 55h.1M48 71h.1M79 89h.1M52 94h.1M3 72h.1M19 85h.1M52 77h.1M22 96h.1M59 68h.1M60 92h.1M69 57h.1M28 91h.1M19 70h.1M12 60h.1M34 55h.1M5 82h.1M60 97h.1M72 91h.1M35 96h.1M77 92h.1M77 57h.1M27 87h.1M26 90h.1M80 57h.1M12 83h.1M96 96h.1M28 94h.1M91 82h.1M22 88h.1M22 84h.1M97 81h.1M93 97h.1M41 79h.1M52 60h.1M61 95h.1M97 56h.1M34 65h.1M73 68h.1M55 81h.1M42 57h.1M11 76h.1M45 62h.1M43 79h.1M25 93h.1M43 68h.1M78 97h.1M27 62h.1M27 89h.1M22 62h.1M61 74h.1M34 63h.1M46 93h.1M53 59h.1M49 66h.1M60 100h.1M97 81h.1M66 71h.1M59 61h.1M51 92h.1M65 76h.1M28 71h.1M89 71h.1M3 92h.1M3 57h.1M93 72h.1M86 87h.1M31 58h.1M7 87h.1M47 87h.1M14 63h.1M23 90h.1M80 95h.1M95 97h.1M99 91h.1M49 66h.1M92 80h.1M11 91h.1M100 82h.1M50 75h.1M36 66h.1M87 78h.1M93 78h.1M83 81h.1M24 74h.1M74 77h.1M43 77h.1M83 69h.1M81 97h.1M4 94h.1M45 78h.1M81 64h.1M30 74h.1M19 80h.1M60 77h.1M62 99h.1M59 57h.1M80 82h.1M97 69h.1M71 65h.1M94 75h.1M4 78h.1M74 76h.1M66 60h.1M25 67h.1M58 97h.1M91 62h.1M34 65h.1M80 60h.1M45 99h.1M97 72h.1M47 64h.1M17 60h.1M34 67h.1M21 62h.1M98 91h.1M37 72h.1M50 67h.1M42 98h.1M57 70h.1M79 86h.1M28 56h.1M99 91h.1M11 81h.1M11 69h.1M18 71h.1M45 97h.1M56 81h.1M95 93h.1M83 64h.1M70 54h.1M95 79h.1M84 98h.1M34 91h.1M0 80h.1M64 79h.1M89 81h.1M39 67h.1M37 63h.1M58 66h.1M33 58h.1M11 62h.1M0 92h.1M26 64h.1M78 84h.1M40 67h.1M4 93h.1M21 96h.1M43 59h.1M51 75h.1M79 73h.1M4 77h.1M10 56h.1M95 62h.1M73 61h.1M56 87h.1M22 60h.1M39 92h.1M92 72h.1M91 86h.1M91 82h.1M29 80h.1M14 85h.1M43 68h.1M53 95h.1M48 98h.1M50 99h.1M90 69h.1M7 90h.1M27 98h.1M13 90h.1M76 56h.1M74 60h.1M46 81h.1M85 65h.1M14 84h.1M80 97h.1M42 100h.1M28 62h.1M7 87h.1M50 84h.1M67 81h.1M45 58h.1M33 82h.1M48 66h.1M91 55h.1M62 77h.1M64 95h.1M95 74h.1M26 71h.1M58 86h.1M17 66h.1M65 63h.1M89 70h.1M91 61h.1M65 89h.1M75 63h.1M72 85h.1M44 84h.1M14 88h.1M22 99h.1M87 91h.1M86 73h.1M72 60h.1M90 76h.1M44 85h.1M58 97h.1M24 85h.1M66 92h.1M30 66h.1M89 88h.1" stroke="#c81434" stroke-width="3.0" stroke-linecap="round" fill="none" stroke-opacity="0.8"/><path d="M70 84h.1M63 55h.1M98 95h.1M24 84h.1M18 77h.1M94 63h.1M91 74h.1M6 74h.1M89 66h.1M17 75h.1M27 99h.1M28 80h.1M74 64h.1M83 92h.1M3 79h.1M3 90h.1M81 76h.1M21 95h.1M98 70h.1M18 89h.1M60 64h.1M78 91h.1M36 79h.1M33 94h.1M34 63h.1M26 72h.1M72 83h.1M21 77h.1M67 72h.1M35 60h.1M26 79h.1M65 82h.1M68 86h.1M67 78h.1M84 60h.1M29 56h.1M89 83h.1M19 59h.1M81 87h.1M2 86h.1M11 71h.1M54 81h.1M93 78h.1M84 62h.1M98 56h.1M41 74h.1M87 100h.1M11 78h.1M77 70h.1M50 83h.1M78 59h.1M6 85h.1M40 70h.1M70 87h.1M96 57h.1M57 72h.1M73 63h.1M69 64h.1M38 98h.1M41 80h.1M12 60h.1M26 89h.1M64 72h.1M52 71h.1M96 74h.1M30 88h.1M83 89h.1M48 91h.1M65 95h.1M58 84h.1M55 57h.1M71 90h.1M8 83h.1M34 81h.1M90 54h.1M98 54h.1M95 69h.1M15 79h.1M16 64h.1M71 93h.1M24 66h.1M0 67h.1M89 61h.1M51 69h.1M50 74h.1M18 89h.1M47 85h.1M23 89h.1M24 60h.1M42 96h.1" stroke="#40104a" stroke-width="3.0" stroke-linecap="round" fill="none" stroke-opacity="0.8"/><path d="M71 22h.1M5 2h.1M27 18h.1M94 35h.1M36 23h.1M71 1h.1M11 14h.1M34 8h.1M43 27h.1M35 23h.1M81 38h.1M23 28h.1M92 15h.1M26 10h.1M19 39h.1M59 15h.1M38 14h.1M50 17h.1M32 30h.1M76 2h.1M64 5h.1M96 25h.1M67 21h.1M12 34h.1M95 29h.1M7 1h.1M6 33h.1M49 37h.1M34 5h.1M83 15h.1M7 21h.1M79 18h.1M79 7h.1M15 9h.1M85 0h.1M35 7h.1M55 17h.1M61 20h.1M34 20h.1M17 20h.1M50 20h.1M20 17h.1M97 33h.1M12 13h.1M12 36h.1M38 26h.1M1 26h.1M41 19h.1M89 29h.1M46 22h.1M95 14h.1M48 1h.1M1 15h.1M30 5h.1M32 35h.1M71 1h.1M93 5h.1M91 36h.1M2 4h.1M96 22h.1M43 12h.1M86 27h.1M46 25h.1M2 17h.1M85 25h.1M90 32h.1M89 32h.1M68 16h.1M64 30h.1M65 2h.1" stroke="#5a1070" stroke-width="3.0" stroke-linecap="round" fill="none" stroke-opacity="0.7"/><path d="M46 12h.1M100 10h.1M64 54h.1M13 93h.1M57 62h.1M26 15h.1M33 3h.1M20 50h.1M39 76h.1M14 21h.1M52 69h.1M31 21h.1M13 36h.1M38 80h.1M24 34h.1M75 21h.1M4 97h.1M91 32h.1M28 46h.1M21 79h.1M89 71h.1M40 84h.1M94 18h.1M67 17h.1M99 80h.1M41 74h.1M29 6h.1M51 8h.1M46 85h.1M58 27h.1M21 56h.1M51 90h.1M17 47h.1M45 38h.1M19 38h.1M54 19h.1M32 53h.1M94 48h.1M35 3h.1M52 34h.1" stroke="#2525a0" stroke-width="2.4" stroke-linecap="round" fill="none" stroke-opacity="0.7"/><path d="M-5 50 L30 48 L60 47 L105 47" stroke="#40dca0" stroke-width="14" fill="none" filter="url(#b1)" stroke-opacity="1"/><path d="M12 47h.1M40 53h.1M70 47h.1M49 53h.1M95 54h.1M79 38h.1M54 52h.1M19 53h.1M1 54h.1M85 38h.1M30 53h.1M35 47h.1M96 48h.1M32 48h.1M1 44h.1M30 53h.1M37 56h.1M60 38h.1M45 44h.1M66 40h.1M89 49h.1M44 44h.1M1 58h.1M1 50h.1M37 39h.1M98 40h.1M71 46h.1M73 51h.1M47 55h.1M42 44h.1M22 50h.1M73 52h.1M77 55h.1M55 49h.1M50 50h.1M6 43h.1M46 42h.1M97 54h.1M40 51h.1M66 53h.1M72 47h.1M23 44h.1M32 55h.1M93 43h.1M23 47h.1M2 51h.1M53 54h.1M54 42h.1M67 47h.1M87 49h.1M40 40h.1M52 43h.1M75 50h.1M27 48h.1M46 52h.1M5 41h.1M27 45h.1M58 38h.1M55 54h.1M23 41h.1M46 55h.1M58 40h.1M6 49h.1M78 55h.1M64 43h.1M84 45h.1M68 47h.1M65 42h.1M47 42h.1M91 49h.1M49 46h.1M97 39h.1M87 48h.1M98 45h.1M85 46h.1M79 45h.1M75 42h.1M16 43h.1M9 52h.1M25 50h.1M24 51h.1M73 54h.1M3 57h.1M95 48h.1M43 51h.1M42 55h.1M90 52h.1M99 48h.1M67 40h.1M37 41h.1M2 44h.1M35 52h.1M29 56h.1M21 49h.1M6 41h.1M30 44h.1M63 45h.1M91 52h.1M52 49h.1M71 47h.1M58 51h.1M95 38h.1M28 55h.1M22 45h.1M20 46h.1M70 44h.1M1 52h.1M44 54h.1M11 57h.1M13 47h.1M14 46h.1M67 43h.1M29 54h.1M5 46h.1M56 39h.1M82 38h.1M49 40h.1M94 56h.1M17 55h.1M67 39h.1" stroke="#40dca0" stroke-width="3.4" stroke-linecap="round" fill="none"/><path d="M0 54h.1M26 48h.1M41 51h.1M79 42h.1M92 52h.1M13 46h.1M52 45h.1M92 41h.1M64 45h.1M8 46h.1M10 51h.1M95 46h.1M95 49h.1M41 47h.1M26 50h.1M33 51h.1M9 44h.1M54 46h.1M91 49h.1M35 44h.1M20 45h.1M93 45h.1M69 44h.1M19 46h.1M87 49h.1M5 50h.1M13 48h.1M78 46h.1M72 50h.1M60 47h.1M12 49h.1M49 50h.1M59 50h.1M30 50h.1M11 45h.1M6 54h.1M81 48h.1M42 45h.1M93 42h.1M79 42h.1M72 43h.1M62 43h.1M89 49h.1M30 50h.1M31 52h.1M80 51h.1M54 45h.1M42 53h.1M76 43h.1M35 51h.1" stroke="#189048" stroke-width="2.6" stroke-linecap="round" fill="none" stroke-opacity="0.8"/><path d="M96 53h.1M9 46h.1M12 42h.1M5 54h.1M13 50h.1M80 43h.1M2 55h.1M47 52h.1M63 41h.1M94 46h.1M72 47h.1M30 44h.1M53 49h.1M37 44h.1M37 44h.1M4 55h.1M18 47h.1M15 48h.1M59 42h.1M56 50h.1M82 52h.1M78 50h.1M32 54h.1M89 41h.1M42 52h.1M18 49h.1M2 43h.1M64 51h.1M0 44h.1M44 54h.1" stroke="#60f0c0" stroke-width="2.2" stroke-linecap="round" fill="none" stroke-opacity="0.9"/><path d="M76 87h.1M58 53h.1M10 38h.1M19 77h.1M67 14h.1M58 87h.1M85 38h.1M37 53h.1M42 97h.1M85 89h.1M100 11h.1M95 36h.1M26 60h.1M40 21h.1M97 18h.1M8 39h.1M82 81h.1M45 40h.1M14 80h.1M76 22h.1M67 89h.1M36 23h.1M74 62h.1M39 0h.1M32 70h.1M19 48h.1M77 35h.1M13 68h.1M69 61h.1M91 37h.1M51 45h.1M86 33h.1M24 37h.1M82 74h.1M19 82h.1M99 34h.1M79 69h.1M62 23h.1M0 87h.1M33 82h.1" stroke="#4fe0b8" stroke-width="2.6" stroke-linecap="round" fill="none"/><path d="M74 96H95" stroke="#d8d8e8" stroke-width="1.4" stroke-opacity="0.5" stroke-dasharray="5 2 9 2 3"/></svg>
<svg x="314.10" y="34.30" width="47.70" height="48.00" viewBox="0 0 100 100" preserveAspectRatio="none"><rect width="100" height="100" fill="#3a0c48"/><path d="M-5 30 L35 27 L70 21 L105 18 L110 -10 L-10 -10Z" fill="#3a0a4a" filter="url(#b1)" fill-opacity="1"/><path d="M-5 60 L30 72 L60 84 L105 88 L110 110 L-10 110Z" fill="#3a0c48" filter="url(#b1)" fill-opacity="1"/><path d="M-5 30 L35 27 L70 21 L105 18 L105 88 L60 84 L30 72 L-5 60Z" fill="#42103c" filter="url(#b2)" fill-opacity="0.9"/><path d="M-5 30 L35 27 L70 21 L105 18" stroke="#0c0418" stroke-width="7.9799999999999995" fill="none" filter="url(#b05)" transform="translate(0 14.06)"/><path d="M-5 60 L30 72 L60 84 L105 88" stroke="#0c0418" stroke-width="7.68" fill="none" filter="url(#b05)" transform="translate(0 -16.32)"/><path d="M87 55h.1M49 48h.1M41 46h.1M63 57h.1M97 53h.1M62 53h.1M51 44h.1M99 58h.1M61 58h.1M45 46h.1M56 53h.1M96 56h.1M63 56h.1M53 54h.1M96 46h.1M95 38h.1M82 57h.1M52 48h.1M63 52h.1M91 42h.1M85 59h.1M75 54h.1M62 56h.1M98 39h.1M64 50h.1M79 58h.1M74 43h.1M92 52h.1M81 61h.1M86 55h.1M49 47h.1M71 46h.1M41 50h.1M89 58h.1M77 57h.1M66 41h.1M77 56h.1M93 40h.1M81 46h.1M85 45h.1M51 47h.1M98 61h.1M75 43h.1M80 40h.1M84 50h.1M61 55h.1M42 50h.1M47 54h.1M49 47h.1M92 39h.1M99 54h.1M67 60h.1M58 44h.1M73 59h.1M63 51h.1M65 44h.1M53 46h.1M79 43h.1M56 44h.1M85 55h.1" stroke="#c01838" stroke-width="2.8" stroke-linecap="round" fill="none" stroke-opacity="0.7"/><path d="M65 63h.1M79 83h.1M96 95h.1M34 95h.1M25 11h.1M65 5h.1M88 98h.1M80 26h.1M53 5h.1M45 82h.1M20 16h.1M35 35h.1M33 32h.1M7 64h.1M49 61h.1M33 90h.1M77 56h.1M38 85h.1M44 42h.1M57 6h.1M50 8h.1M92 79h.1M12 21h.1M66 54h.1M41 41h.1M23 41h.1M5 7h.1M24 3h.1M24 20h.1M35 59h.1M99 70h.1M82 56h.1M76 63h.1M1 37h.1M13 69h.1M36 43h.1M16 97h.1M28 14h.1M37 32h.1M19 70h.1M43 1h.1M95 12h.1M87 99h.1M55 77h.1M1 20h.1M79 69h.1M12 27h.1M8 79h.1M64 35h.1M57 50h.1" stroke="#2828a8" stroke-width="2.6" stroke-linecap="round" fill="none" stroke-opacity="0.7"/><path d="M-5 30 L35 27 L70 21 L105 18" stroke="#30e078" stroke-width="19" fill="none" filter="url(#b1)" stroke-opacity="1"/><path d="M-5 60 L30 72 L60 84 L105 88" stroke="#30e078" stroke-width="24" fill="none" filter="url(#b1)" stroke-opacity="1"/><path d="M96 16h.1M89 18h.1M50 35h.1M49 36h.1M30 23h.1M30 22h.1M2 30h.1M82 30h.1M93 21h.1M1 30h.1M48 16h.1M13 31h.1M61 29h.1M66 13h.1M3 37h.1M58 26h.1M99 23h.1M86 27h.1M14 26h.1M64 20h.1M32 18h.1M14 31h.1M47 26h.1M85 14h.1M93 19h.1M3 30h.1M28 20h.1M32 30h.1M88 30h.1M38 35h.1M11 31h.1M84 25h.1M83 19h.1M52 14h.1M6 36h.1M95 15h.1M21 33h.1M60 22h.1M41 26h.1M17 31h.1M6 28h.1M85 23h.1M98 24h.1M4 22h.1M16 20h.1M46 24h.1M55 30h.1M91 10h.1M62 23h.1M52 13h.1M46 31h.1M49 36h.1M20 22h.1M30 38h.1M87 12h.1M31 18h.1M79 17h.1M48 16h.1M85 13h.1M17 32h.1M98 23h.1M84 24h.1M26 23h.1M35 30h.1M31 25h.1M66 24h.1M9 18h.1M88 11h.1M46 18h.1M16 20h.1M90 10h.1M6 22h.1M17 20h.1M88 13h.1M71 32h.1M91 23h.1M20 22h.1M46 23h.1M60 22h.1M89 18h.1M48 26h.1M82 9h.1M37 24h.1M21 22h.1M67 23h.1M5 33h.1M21 21h.1M77 29h.1M82 29h.1M11 30h.1" stroke="#30e078" stroke-width="3.2" stroke-linecap="round" fill="none"/><path d="M4 54h.1M43 87h.1M25 65h.1M39 68h.1M74 77h.1M16 72h.1M45 89h.1M37 88h.1M79 73h.1M39 68h.1M11 71h.1M17 58h.1M93 81h.1M68 98h.1M29 72h.1M83 73h.1M79 88h.1M24 61h.1M44 76h.1M87 79h.1M7 55h.1M27 69h.1M3 71h.1M77 97h.1M32 69h.1M94 86h.1M59 94h.1M21 81h.1M73 74h.1M29 73h.1M28 71h.1M38 81h.1M57 90h.1M63 88h.1M21 61h.1M9 69h.1M52 78h.1M18 70h.1M48 93h.1M22 71h.1M7 55h.1M65 85h.1M26 80h.1M87 75h.1M16 63h.1M41 79h.1M77 96h.1M89 98h.1M44 77h.1M45 92h.1M38 69h.1M91 93h.1M2 70h.1M30 81h.1M48 90h.1M49 69h.1M53 93h.1M61 71h.1M26 83h.1M66 73h.1M44 84h.1M22 78h.1M83 74h.1M2 58h.1M70 82h.1M11 58h.1M79 99h.1M73 81h.1M68 84h.1M4 59h.1M53 69h.1M26 70h.1M17 70h.1M23 62h.1M22 64h.1M79 94h.1M30 79h.1M96 92h.1M61 71h.1M32 64h.1M40 74h.1M80 81h.1M72 96h.1M76 92h.1M70 73h.1M91 93h.1M37 71h.1M33 79h.1M49 86h.1M63 93h.1M24 66h.1M97 99h.1M66 93h.1M87 76h.1M26 61h.1M15 54h.1M53 68h.1M9 73h.1M82 99h.1M11 61h.1M30 80h.1M11 72h.1M25 80h.1M95 97h.1M4 72h.1M94 85h.1M95 90h.1M87 92h.1M22 61h.1M54 93h.1" stroke="#30e078" stroke-width="3.2" stroke-linecap="round" fill="none"/><path d="M11 69h.1M9 29h.1M54 77h.1M61 84h.1M18 62h.1M54 21h.1M86 14h.1M89 27h.1M67 77h.1M6 70h.1M6 56h.1M1 62h.1M0 51h.1M23 60h.1M35 31h.1M36 34h.1M36 85h.1M99 24h.1M0 51h.1M97 20h.1M64 85h.1M73 14h.1M49 85h.1M44 68h.1M50 18h.1M53 84h.1M33 28h.1M79 88h.1M59 80h.1M35 70h.1M60 88h.1M19 79h.1M30 69h.1M43 27h.1M53 89h.1M72 92h.1M57 26h.1M12 31h.1M11 22h.1M69 94h.1M9 27h.1M78 14h.1M2 57h.1M25 72h.1M98 12h.1M62 86h.1M41 33h.1M7 31h.1M95 89h.1M65 25h.1" stroke="#189048" stroke-width="2.6" stroke-linecap="round" fill="none" stroke-opacity="0.8"/><path d="M23 28h.1M52 31h.1M63 74h.1M35 64h.1M71 91h.1M61 27h.1M33 22h.1M96 97h.1M30 70h.1M24 77h.1M56 78h.1M89 89h.1M97 21h.1M57 92h.1M54 18h.1M28 19h.1M47 18h.1M85 18h.1M53 28h.1M94 26h.1M17 79h.1M8 64h.1M72 79h.1M15 30h.1M25 25h.1M81 82h.1M13 29h.1M77 75h.1M97 18h.1M25 32h.1M42 87h.1M61 90h.1M32 68h.1M87 18h.1M73 28h.1M40 85h.1" stroke="#60f0c0" stroke-width="2.2" stroke-linecap="round" fill="none" stroke-opacity="0.9"/><path d="M41 58h.1M77 41h.1M58 60h.1M90 38h.1M38 47h.1M26 41h.1M78 68h.1M13 43h.1M70 70h.1M56 50h.1M74 71h.1M46 36h.1M30 57h.1M28 50h.1M78 73h.1M92 54h.1M58 60h.1M92 33h.1M85 51h.1M29 59h.1M69 47h.1M52 45h.1M57 47h.1M8 39h.1M70 33h.1M70 60h.1M86 72h.1M74 63h.1M72 49h.1M45 39h.1M47 59h.1M63 57h.1M49 52h.1M30 53h.1M31 42h.1M45 62h.1M93 72h.1M93 50h.1M51 40h.1M88 52h.1" stroke="#4fe0b8" stroke-width="2.6" stroke-linecap="round" fill="none"/><path d="M74 96H95" stroke="#d8d8e8" stroke-width="1.4" stroke-opacity="0.5" stroke-dasharray="5 2 9 2 3"/></svg>
<svg x="65.30" y="84.00" width="47.70" height="48.00" viewBox="0 0 100 100" preserveAspectRatio="none"><rect width="100" height="100" fill="#170b34"/><path d="M77 26h.1M50 53h.1M31 41h.1M2 15h.1M33 68h.1M58 71h.1M9 22h.1M93 14h.1M17 56h.1M46 87h.1M86 58h.1M45 44h.1M99 11h.1M48 76h.1M67 10h.1M81 93h.1M75 17h.1M90 14h.1M2 70h.1M69 78h.1M53 7h.1M4 65h.1M76 35h.1M76 38h.1M46 69h.1M69 65h.1M14 69h.1M78 75h.1M63 59h.1M24 100h.1M97 26h.1M66 75h.1M47 29h.1M35 16h.1M80 52h.1M100 21h.1M98 65h.1M55 11h.1M7 50h.1M12 63h.1M24 92h.1M65 5h.1M86 68h.1M22 37h.1M68 89h.1M40 81h.1M94 95h.1M62 82h.1M7 71h.1M85 35h.1M85 35h.1M83 33h.1M55 62h.1M12 8h.1M35 43h.1M64 96h.1M94 13h.1M71 12h.1M7 10h.1M90 71h.1M52 58h.1M63 10h.1M48 91h.1M3 71h.1M7 53h.1M18 7h.1M6 43h.1M97 15h.1M44 31h.1M37 22h.1M40 98h.1M14 83h.1M79 46h.1M69 55h.1M99 5h.1M76 82h.1M65 97h.1M5 61h.1M75 7h.1M54 82h.1M67 38h.1M82 91h.1M23 25h.1M82 76h.1M43 99h.1M98 59h.1M38 9h.1M1 39h.1M43 9h.1M22 87h.1M75 36h.1M11 93h.1M90 76h.1M68 68h.1M27 56h.1M0 32h.1M19 11h.1M72 44h.1M32 78h.1M64 67h.1M90 19h.1M45 7h.1M73 75h.1M3 34h.1M7 82h.1M61 25h.1M70 93h.1M88 39h.1M2 37h.1M26 71h.1M33 85h.1M28 89h.1M93 54h.1M4 79h.1M86 13h.1M73 9h.1M32 29h.1M16 64h.1M99 50h.1M94 27h.1M13 28h.1M82 33h.1M35 87h.1M61 40h.1M87 14h.1M20 62h.1M49 68h.1M81 68h.1M18 72h.1M24 10h.1M30 38h.1M50 12h.1M63 38h.1M99 48h.1M83 81h.1M61 66h.1M9 91h.1M97 92h.1M8 21h.1M32 17h.1M26 10h.1M59 87h.1M34 84h.1M87 57h.1M86 25h.1M61 64h.1M0 99h.1M26 52h.1M79 48h.1M13 99h.1M87 49h.1M32 1h.1M31 98h.1M76 15h.1M65 9h.1M49 95h.1M3 50h.1M97 10h.1M45 80h.1M84 54h.1M58 54h.1M67 98h.1M66 22h.1M23 49h.1M67 79h.1M27 19h.1M9 76h.1M3 1h.1M44 81h.1M98 27h.1" stroke="#2a2ab0" stroke-width="2.6" stroke-linecap="round" fill="none" stroke-opacity="0.8"/><path d="M35 11h.1M13 20h.1M79 71h.1M70 77h.1M20 97h.1M53 27h.1M81 25h.1M2 76h.1M13 99h.1M84 34h.1M97 59h.1M54 28h.1M90 61h.1M29 31h.1M30 33h.1M94 58h.1M63 74h.1M6 60h.1M78 8h.1M93 49h.1M2 97h.1M41 83h.1M98 3h.1M27 49h.1M30 71h.1M36 48h.1M41 78h.1M54 39h.1M87 44h.1M99 13h.1" stroke="#a01030" stroke-width="2.2" stroke-linecap="round" fill="none" stroke-opacity="0.8"/><path d="M9 70h.1M89 5h.1M34 73h.1M72 55h.1M69 87h.1M58 38h.1M21 33h.1M82 86h.1M36 23h.1M98 5h.1M39 41h.1M70 4h.1M68 4h.1M21 44h.1M77 19h.1M65 2h.1M16 31h.1M8 81h.1M58 83h.1M47 56h.1M3 93h.1M31 64h.1M85 41h.1M34 76h.1M80 91h.1M40 34h.1M50 59h.1M67 83h.1M63 25h.1M77 78h.1M84 10h.1M40 85h.1M39 16h.1M4 70h.1M3 35h.1M46 17h.1M46 74h.1M7 32h.1" stroke="#2fe45a" stroke-width="3.6" stroke-linecap="round" fill="none"/><path d="M74 96H95" stroke="#d8d8e8" stroke-width="1.4" stroke-opacity="0.5" stroke-dasharray="5 2 9 2 3"/></svg>
<svg x="115.30" y="84.00" width="47.70" height="48.00" viewBox="0 0 100 100" preserveAspectRatio="none"><rect width="100" height="100" fill="#2c0a47"/><path d="M67 62h.1M56 28h.1M36 93h.1M48 29h.1M47 12h.1M57 94h.1M65 0h.1M84 20h.1M4 28h.1M53 0h.1M99 41h.1M1 68h.1M98 2h.1M16 12h.1M36 38h.1M3 96h.1M77 28h.1M63 48h.1M80 24h.1M96 73h.1M63 57h.1M65 2h.1M89 49h.1M20 36h.1M72 78h.1M22 38h.1M99 6h.1M39 95h.1M72 52h.1M45 7h.1M75 34h.1M7 97h.1M9 47h.1M69 54h.1M39 74h.1M25 70h.1M42 97h.1M85 22h.1M89 44h.1M34 15h.1M17 4h.1M22 39h.1M68 90h.1M69 96h.1M95 87h.1M29 4h.1M59 37h.1M98 2h.1M95 28h.1M68 73h.1M48 77h.1M84 12h.1M82 99h.1M82 59h.1M60 10h.1M56 30h.1M23 93h.1M26 20h.1M86 54h.1M88 17h.1M90 42h.1M88 61h.1M34 36h.1M11 55h.1M7 90h.1M26 32h.1M39 48h.1M93 8h.1M35 54h.1M52 87h.1M54 67h.1M67 37h.1M44 21h.1M11 96h.1M68 12h.1M84 41h.1M41 79h.1M30 68h.1M78 67h.1M17 12h.1M75 61h.1M36 94h.1M55 99h.1M18 83h.1M98 17h.1M20 47h.1M32 59h.1M11 4h.1M9 11h.1M34 79h.1M58 16h.1M60 98h.1M96 14h.1M70 9h.1M86 32h.1M63 91h.1M45 32h.1M6 67h.1M67 68h.1M8 34h.1M27 16h.1M11 23h.1M86 87h.1M61 32h.1M33 90h.1M14 12h.1M95 27h.1M95 29h.1M10 32h.1M86 86h.1M61 53h.1M44 34h.1M94 39h.1M11 59h.1M38 32h.1M94 67h.1M46 92h.1M18 18h.1M97 11h.1M74 29h.1M11 95h.1M72 32h.1M21 72h.1M75 30h.1M4 35h.1M55 30h.1M77 47h.1M22 54h.1M14 71h.1M98 23h.1M18 58h.1M24 11h.1M50 19h.1M68 51h.1M22 91h.1M55 79h.1M79 26h.1M22 29h.1M51 74h.1M12 26h.1" stroke="#2a2ab0" stroke-width="2.6" stroke-linecap="round" fill="none" stroke-opacity="0.8"/><path d="M2 80h.1M93 59h.1M59 43h.1M33 37h.1M0 23h.1M48 34h.1M62 15h.1M39 93h.1M22 99h.1M0 97h.1M97 91h.1M100 98h.1M50 81h.1M18 82h.1M17 86h.1M77 68h.1M78 33h.1M81 92h.1M64 68h.1M23 40h.1M71 59h.1M55 13h.1M2 48h.1M82 99h.1M14 98h.1M28 98h.1M41 80h.1M57 64h.1M7 13h.1M91 6h.1M61 95h.1M64 58h.1M71 79h.1M29 11h.1M31 63h.1M22 35h.1M47 34h.1M65 94h.1M54 80h.1M23 89h.1M86 11h.1M2 42h.1M25 1h.1M16 82h.1M49 64h.1M50 11h.1M98 94h.1M45 97h.1M67 42h.1M12 99h.1M4 42h.1M32 73h.1M38 6h.1M39 3h.1M59 93h.1M67 96h.1M56 56h.1M57 2h.1M31 47h.1M54 90h.1M71 34h.1M99 61h.1M7 52h.1M29 40h.1M61 84h.1M72 95h.1M57 11h.1M59 88h.1M33 97h.1M7 61h.1M23 59h.1M24 53h.1M19 92h.1M92 51h.1M17 55h.1M20 92h.1M84 12h.1M15 64h.1M26 12h.1M17 4h.1M86 14h.1M7 28h.1M3 78h.1M76 53h.1M98 92h.1M58 16h.1M75 1h.1M96 79h.1M67 12h.1M81 79h.1" stroke="#a01030" stroke-width="2.2" stroke-linecap="round" fill="none" stroke-opacity="0.8"/><path d="M94 43h.1M37 88h.1M42 67h.1M75 21h.1M57 81h.1M98 25h.1M34 46h.1M17 0h.1" stroke="#4fe0b8" stroke-width="3.2" stroke-linecap="round" fill="none"/><path d="M74 96H95" stroke="#d8d8e8" stroke-width="1.4" stroke-opacity="0.5" stroke-dasharray="5 2 9 2 3"/></svg>
<svg x="165.10" y="84.00" width="47.70" height="48.00" viewBox="0 0 100 100" preserveAspectRatio="none"><rect width="100" height="100" fill="#18105a"/><path d="M66 74h.1M42 14h.1M40 12h.1M62 7h.1M27 5h.1M50 92h.1M68 12h.1M14 67h.1M9 59h.1M4 10h.1M88 40h.1M32 5h.1M73 55h.1M71 10h.1M38 32h.1M1 43h.1M53 50h.1M72 45h.1M47 18h.1M40 23h.1M43 65h.1M48 23h.1M75 14h.1M83 88h.1M20 18h.1M56 4h.1M51 49h.1M79 19h.1M75 8h.1M52 42h.1M37 48h.1M34 71h.1M67 0h.1M42 30h.1M66 83h.1M78 90h.1M93 55h.1M2 71h.1M88 91h.1M43 12h.1M49 15h.1M30 18h.1M84 97h.1M83 59h.1M88 91h.1M42 38h.1M30 19h.1M82 32h.1M41 86h.1M59 4h.1M62 10h.1M50 25h.1M78 57h.1M45 76h.1M91 42h.1M70 15h.1M95 8h.1M65 39h.1M10 13h.1M40 15h.1M52 99h.1M76 88h.1M45 18h.1M4 57h.1M41 68h.1M31 28h.1M64 91h.1M45 77h.1M3 51h.1M87 3h.1M78 44h.1M9 64h.1M98 37h.1M13 53h.1M6 97h.1M63 48h.1M7 37h.1M0 14h.1M48 30h.1M48 68h.1M4 94h.1M63 55h.1M4 96h.1M38 24h.1M70 48h.1M21 10h.1M88 81h.1M97 68h.1M43 92h.1M7 45h.1M87 54h.1M80 78h.1M29 96h.1M3 77h.1M1 12h.1M4 19h.1M56 42h.1M57 90h.1M33 7h.1M90 98h.1M97 91h.1M55 10h.1M93 95h.1M36 18h.1M5 40h.1M23 35h.1M34 80h.1M41 17h.1M60 49h.1M7 47h.1M29 26h.1M90 100h.1M49 89h.1M42 86h.1M51 31h.1M32 90h.1M87 93h.1M92 25h.1M3 68h.1M59 33h.1M25 73h.1M78 15h.1M33 32h.1M28 76h.1M2 34h.1M79 7h.1M43 97h.1M98 70h.1M78 62h.1M41 3h.1M49 0h.1M9 52h.1M90 40h.1M51 13h.1M62 91h.1M98 5h.1M24 47h.1M47 92h.1M72 59h.1M18 67h.1M50 68h.1M0 38h.1M33 41h.1M51 79h.1M53 21h.1M48 57h.1M5 58h.1M56 64h.1M67 76h.1M9 32h.1M27 63h.1M89 36h.1M78 2h.1M25 54h.1M90 73h.1M89 96h.1M27 94h.1M16 58h.1M20 11h.1M32 70h.1M69 16h.1M35 97h.1M59 82h.1M100 12h.1M5 82h.1M81 31h.1M81 69h.1M33 69h.1M79 51h.1M54 20h.1" stroke="#261e98" stroke-width="3" stroke-linecap="round" fill="none" stroke-opacity="0.8"/><path d="M7 6h.1M79 99h.1M81 87h.1M47 11h.1M92 54h.1M59 72h.1M23 93h.1M56 61h.1M34 57h.1M95 17h.1M22 70h.1M71 49h.1M75 53h.1M21 31h.1M31 37h.1M15 90h.1M34 19h.1M12 48h.1M7 44h.1M14 48h.1M13 24h.1M96 5h.1M51 82h.1M76 14h.1M31 56h.1M73 92h.1M54 14h.1M3 57h.1M87 25h.1M69 75h.1M0 19h.1M49 23h.1M11 65h.1M15 62h.1M100 3h.1M25 10h.1M48 78h.1M76 32h.1M32 54h.1M54 8h.1M91 80h.1M74 9h.1M55 14h.1M93 18h.1M10 51h.1M49 44h.1M73 56h.1M42 88h.1M21 53h.1M7 79h.1M20 57h.1M70 8h.1M9 50h.1M61 20h.1M34 94h.1M65 17h.1M61 27h.1M3 1h.1M80 96h.1M24 73h.1M77 16h.1M96 89h.1M5 24h.1M73 39h.1M13 3h.1M89 94h.1M45 74h.1M67 99h.1M30 48h.1M61 94h.1M92 78h.1M53 34h.1M98 74h.1M97 28h.1M47 46h.1M42 88h.1M49 74h.1M51 90h.1M83 30h.1M100 86h.1M80 68h.1M44 14h.1M10 36h.1M63 87h.1M38 70h.1M60 90h.1M92 1h.1M74 29h.1M94 7h.1M37 4h.1" stroke="#12083a" stroke-width="3.4" stroke-linecap="round" fill="none" stroke-opacity="0.85"/><path d="M0 20 L25 22 L55 16" stroke="#2fe45a" stroke-width="7" fill="none" filter="url(#b1)" stroke-opacity="1"/><path d="M61 17h.1M4 23h.1M44 12h.1M15 18h.1M53 12h.1M32 18h.1M28 15h.1M63 12h.1M69 18h.1M40 15h.1M13 15h.1M46 16h.1M62 17h.1M2 20h.1M58 16h.1M25 25h.1M53 15h.1M64 16h.1M24 15h.1M33 19h.1M25 21h.1M20 21h.1M36 15h.1M24 21h.1M12 17h.1M24 16h.1M1 18h.1M11 20h.1M13 22h.1M52 13h.1M41 16h.1M47 22h.1M8 20h.1M49 12h.1M35 13h.1M44 19h.1M39 20h.1M26 22h.1M3 17h.1M71 14h.1" stroke="#2fe45a" stroke-width="3.4" stroke-linecap="round" fill="none"/><path d="M22 78 L45 88 L75 90 L105 86" stroke="#2fe45a" stroke-width="14" fill="none" filter="url(#b1)" stroke-opacity="1"/><path d="M92 84h.1M67 83h.1M74 80h.1M82 88h.1M68 81h.1M98 82h.1M95 87h.1M47 84h.1M47 89h.1M60 79h.1M27 79h.1M75 92h.1M89 79h.1M83 91h.1M58 83h.1M31 85h.1M63 91h.1M94 94h.1M22 83h.1M76 89h.1M51 84h.1M61 91h.1M32 78h.1M66 84h.1M99 85h.1M36 83h.1M35 90h.1M83 93h.1M52 87h.1M54 87h.1M61 81h.1M35 84h.1M71 92h.1M76 88h.1M49 79h.1M66 85h.1M41 88h.1M59 92h.1M88 88h.1M86 83h.1M82 88h.1M77 87h.1M22 76h.1M61 90h.1M49 84h.1M99 90h.1M22 78h.1M90 83h.1M94 89h.1M41 87h.1M25 87h.1M60 84h.1M60 81h.1M52 78h.1M54 84h.1M37 87h.1M19 79h.1M72 79h.1M50 87h.1M67 77h.1M63 82h.1M68 88h.1M85 93h.1M58 88h.1M90 94h.1M41 85h.1M97 82h.1M60 88h.1M23 87h.1M83 94h.1" stroke="#2fe45a" stroke-width="3.4" stroke-linecap="round" fill="none"/><path d="M91 26h.1M5 20h.1M55 76h.1M51 87h.1M36 51h.1M48 83h.1M57 46h.1M37 96h.1M45 3h.1M90 99h.1M73 36h.1M66 12h.1M15 34h.1M24 50h.1M71 59h.1M43 85h.1M35 16h.1M86 49h.1M8 68h.1M6 81h.1M43 57h.1M76 65h.1M96 35h.1M21 76h.1M95 62h.1" stroke="#2fe45a" stroke-width="2.6" stroke-linecap="round" fill="none"/><path d="M74 96H95" stroke="#d8d8e8" stroke-width="1.4" stroke-opacity="0.5" stroke-dasharray="5 2 9 2 3"/></svg>
<svg x="214.30" y="84.00" width="47.70" height="48.00" viewBox="0 0 100 100" preserveAspectRatio="none"><rect width="100" height="100" fill="#110a24"/><path d="M15 56h.1M23 45h.1M90 24h.1M97 65h.1M61 17h.1M42 89h.1M66 91h.1M77 92h.1M31 27h.1M13 12h.1M70 39h.1M19 30h.1M26 38h.1M56 97h.1M53 97h.1M77 56h.1M53 15h.1M54 31h.1M0 38h.1M6 49h.1M48 13h.1M91 45h.1M33 63h.1M10 44h.1M55 15h.1M13 15h.1M86 63h.1M87 60h.1M57 45h.1M33 50h.1M17 95h.1M46 23h.1M86 91h.1M18 88h.1M90 54h.1M33 2h.1M66 54h.1M90 66h.1M88 69h.1M70 95h.1M40 99h.1M59 25h.1M84 76h.1M25 48h.1M17 76h.1M74 69h.1M24 13h.1M55 45h.1M25 91h.1M64 42h.1M70 20h.1M77 13h.1M58 65h.1M39 97h.1M99 63h.1M20 23h.1M81 37h.1M38 52h.1M34 12h.1M32 38h.1M33 4h.1M80 89h.1M15 74h.1M70 77h.1M82 38h.1M34 83h.1M73 45h.1M45 61h.1M14 13h.1M59 60h.1M74 8h.1M78 6h.1M29 2h.1M18 65h.1M75 88h.1M87 89h.1M22 53h.1M18 67h.1M25 92h.1M80 78h.1M93 28h.1M91 58h.1M84 71h.1M56 4h.1M90 64h.1M20 50h.1M39 94h.1M31 3h.1M100 86h.1M17 66h.1" stroke="#2a2ab0" stroke-width="2.6" stroke-linecap="round" fill="none" stroke-opacity="0.8"/><path d="M11 85h.1M41 23h.1M61 84h.1M63 9h.1M65 37h.1M90 91h.1M81 62h.1M81 34h.1M64 97h.1M13 78h.1M59 5h.1M78 73h.1M22 99h.1M71 78h.1M50 16h.1M28 80h.1M88 31h.1M83 13h.1M33 78h.1M70 17h.1M97 66h.1M81 98h.1M84 60h.1M31 39h.1M85 99h.1M96 62h.1M32 49h.1M72 16h.1M63 5h.1M32 52h.1" stroke="#a01030" stroke-width="2.2" stroke-linecap="round" fill="none" stroke-opacity="0.8"/><path d="M92 84h.1M53 21h.1M48 26h.1M99 1h.1M44 27h.1M55 60h.1M46 1h.1M96 31h.1M44 45h.1M28 27h.1M12 92h.1M75 40h.1M89 5h.1M68 78h.1M89 69h.1M13 67h.1M44 41h.1M74 67h.1M47 19h.1M90 52h.1M28 44h.1M67 28h.1M46 72h.1M65 53h.1M66 33h.1M97 99h.1M83 68h.1M6 35h.1M28 93h.1M64 66h.1" stroke="#2fe45a" stroke-width="3.2" stroke-linecap="round" fill="none"/><path d="M74 96H95" stroke="#d8d8e8" stroke-width="1.4" stroke-opacity="0.5" stroke-dasharray="5 2 9 2 3"/></svg>
<svg x="264.30" y="84.00" width="47.70" height="48.00" viewBox="0 0 100 100" preserveAspectRatio="none"><rect width="100" height="100" fill="#290a42"/><path d="M61 100h.1M52 23h.1M98 27h.1M64 55h.1M96 77h.1M99 79h.1M63 14h.1M16 36h.1M35 18h.1M64 90h.1M55 76h.1M37 38h.1M64 15h.1M72 69h.1M34 93h.1M81 72h.1M46 57h.1M63 99h.1M64 26h.1M85 60h.1M45 61h.1M48 39h.1M53 85h.1M89 94h.1M67 1h.1M85 2h.1M88 40h.1M47 38h.1M77 83h.1M92 30h.1M100 38h.1M55 59h.1M16 54h.1M30 20h.1M3 60h.1M7 71h.1M65 72h.1M32 84h.1M89 68h.1M25 89h.1M50 29h.1M31 35h.1M47 85h.1M23 50h.1M12 15h.1M45 39h.1M29 84h.1M2 5h.1M7 1h.1M34 26h.1M75 34h.1M11 50h.1M94 52h.1M16 81h.1M9 26h.1M75 72h.1M51 41h.1M8 50h.1M44 16h.1M73 24h.1M26 32h.1M56 52h.1M74 41h.1M43 42h.1M1 90h.1M30 77h.1M76 84h.1M71 87h.1M28 69h.1M16 100h.1M95 42h.1M59 25h.1M61 64h.1M6 7h.1M90 3h.1M44 72h.1M25 30h.1M78 40h.1M11 54h.1M30 26h.1M87 19h.1M80 27h.1M95 64h.1M17 89h.1M23 22h.1M86 94h.1M5 92h.1M48 52h.1M1 90h.1M11 79h.1M41 24h.1M93 84h.1M78 14h.1M55 14h.1M55 91h.1M58 85h.1M33 52h.1M39 63h.1M67 31h.1M48 76h.1M26 29h.1M70 90h.1M19 67h.1M21 1h.1M8 16h.1M100 97h.1M17 44h.1M80 80h.1M90 12h.1M38 62h.1" stroke="#2a2ab0" stroke-width="2.6" stroke-linecap="round" fill="none" stroke-opacity="0.8"/><path d="M40 27h.1M38 35h.1M91 71h.1M36 54h.1M36 63h.1M82 37h.1M31 67h.1M3 32h.1M22 49h.1M41 22h.1M20 66h.1M56 7h.1M91 5h.1M31 19h.1M57 13h.1M9 5h.1M52 6h.1M59 62h.1M66 55h.1M15 97h.1M54 3h.1M69 6h.1M33 46h.1M81 61h.1M79 29h.1M86 38h.1M82 26h.1M32 10h.1M83 68h.1M65 36h.1M47 76h.1M64 5h.1M32 87h.1M70 98h.1M38 11h.1M51 44h.1M52 93h.1M76 34h.1M62 68h.1M32 52h.1M78 16h.1M34 37h.1M65 45h.1M1 26h.1M97 59h.1M34 14h.1M5 2h.1M60 48h.1M59 33h.1M90 70h.1M13 20h.1M40 83h.1M17 10h.1M22 42h.1M84 24h.1M65 42h.1M63 48h.1M21 41h.1M28 44h.1M9 59h.1M66 99h.1M7 51h.1M58 71h.1M1 3h.1M50 56h.1M52 67h.1M7 21h.1M36 32h.1M98 85h.1M76 64h.1" stroke="#a01030" stroke-width="2.2" stroke-linecap="round" fill="none" stroke-opacity="0.8"/><path d="M82 80h.1M29 37h.1M78 100h.1M70 96h.1M72 67h.1M8 96h.1" stroke="#4fe0b8" stroke-width="3.2" stroke-linecap="round" fill="none"/><path d="M74 96H95" stroke="#d8d8e8" stroke-width="1.4" stroke-opacity="0.5" stroke-dasharray="5 2 9 2 3"/></svg>
<svg x="314.10" y="84.00" width="47.70" height="48.00" viewBox="0 0 100 100" preserveAspectRatio="none"><rect width="100" height="100" fill="#300a4c"/><path d="M-5 30 L40 22 L75 12 L105 6 L110 -10 L-10 -10Z" fill="#7a1644" filter="url(#b1)" fill-opacity="1"/><path d="M-5 68 L30 80 L65 90 L105 84 L110 110 L-10 110Z" fill="#3a0c50" filter="url(#b1)" fill-opacity="1"/><path d="M-5 30 L40 22 L75 12 L105 6" stroke="#1a0838" stroke-width="6.72" fill="none" filter="url(#b05)" transform="translate(0 11.84)"/><path d="M-5 68 L30 80 L65 90 L105 84" stroke="#1a0838" stroke-width="7.04" fill="none" filter="url(#b05)" transform="translate(0 -14.96)"/><path d="M55 41h.1M24 40h.1M7 70h.1M69 100h.1M60 84h.1M83 69h.1M9 68h.1M24 31h.1M34 56h.1M78 16h.1M69 92h.1M34 19h.1M63 17h.1M17 100h.1M38 82h.1M53 0h.1M55 31h.1M15 13h.1M62 26h.1M19 75h.1M36 21h.1M8 29h.1M49 35h.1M76 46h.1M0 0h.1M31 81h.1M81 33h.1M96 53h.1M64 70h.1M87 72h.1M15 16h.1M35 36h.1M99 42h.1M25 21h.1M24 60h.1M2 26h.1M84 10h.1M87 39h.1M75 55h.1M2 95h.1M23 11h.1M38 92h.1M44 79h.1M32 31h.1M6 22h.1M95 43h.1M86 7h.1M66 56h.1M22 80h.1M58 37h.1" stroke="#2828a8" stroke-width="2.6" stroke-linecap="round" fill="none" stroke-opacity="0.7"/><path d="M-5 30 L40 22 L75 12 L105 6" stroke="#3e9c48" stroke-width="16" fill="none" filter="url(#b1)" stroke-opacity="0.9"/><path d="M-5 68 L30 80 L65 90 L105 84" stroke="#3e9c48" stroke-width="22" fill="none" filter="url(#b1)" stroke-opacity="0.9"/><path d="M41 27h.1M18 21h.1M92 14h.1M79 19h.1M7 32h.1M34 21h.1M82 5h.1M41 29h.1M14 17h.1M44 20h.1M28 21h.1M81 10h.1M57 11h.1M51 22h.1M66 15h.1M32 30h.1M84 17h.1M11 22h.1M22 17h.1M85 7h.1M61 22h.1M85 8h.1M7 35h.1M41 27h.1M22 20h.1M18 23h.1M80 15h.1M82 1h.1M87 12h.1M52 9h.1M67 23h.1M10 18h.1M32 20h.1M80 19h.1M18 25h.1M30 33h.1M37 20h.1M22 23h.1M72 18h.1M10 22h.1M56 9h.1M63 11h.1M5 30h.1M33 23h.1M80 13h.1M26 17h.1M29 16h.1M61 11h.1M79 2h.1M92 2h.1M37 23h.1M19 27h.1M21 35h.1M60 11h.1M18 19h.1M65 8h.1M2 29h.1M17 23h.1M68 23h.1M30 22h.1M64 13h.1M65 13h.1M93 11h.1M61 25h.1M83 16h.1M40 20h.1M26 16h.1M1 24h.1M24 34h.1M18 17h.1M69 5h.1M35 32h.1M35 29h.1M95 8h.1M81 3h.1M46 15h.1M34 14h.1M58 27h.1M71 21h.1M91 3h.1M54 14h.1M56 10h.1M44 16h.1M74 20h.1M91 8h.1M18 35h.1M7 28h.1M85 7h.1M3 19h.1M15 27h.1" stroke="#3e9c48" stroke-width="3.2" stroke-linecap="round" fill="none"/><path d="M8 65h.1M19 82h.1M45 88h.1M88 99h.1M19 72h.1M94 85h.1M45 93h.1M61 79h.1M13 75h.1M94 80h.1M0 63h.1M53 76h.1M18 66h.1M26 84h.1M86 93h.1M71 83h.1M0 63h.1M97 79h.1M5 69h.1M3 62h.1M27 71h.1M25 84h.1M37 70h.1M39 95h.1M53 85h.1M64 83h.1M25 74h.1M93 98h.1M6 71h.1M58 85h.1M27 67h.1M2 83h.1M42 84h.1M48 89h.1M82 92h.1M17 87h.1M3 72h.1M24 90h.1M32 70h.1M6 61h.1M55 95h.1M8 63h.1M83 79h.1M93 91h.1M56 79h.1M92 92h.1M39 71h.1M25 72h.1M86 82h.1M4 69h.1M38 75h.1M71 89h.1M60 80h.1M24 86h.1M33 71h.1M1 79h.1M7 85h.1M83 84h.1M75 81h.1M22 77h.1M3 60h.1M46 90h.1M19 65h.1M41 76h.1M52 86h.1M65 97h.1M65 92h.1M58 88h.1M48 81h.1M8 60h.1M21 86h.1M57 85h.1M66 81h.1M21 79h.1M33 80h.1M96 91h.1M6 60h.1M53 77h.1M16 81h.1M74 78h.1M11 86h.1M25 79h.1M28 85h.1M78 84h.1M89 93h.1M96 79h.1M21 70h.1M60 83h.1M84 93h.1M37 85h.1M12 63h.1M14 66h.1M43 75h.1M12 65h.1M51 85h.1M66 98h.1M56 99h.1M91 91h.1M88 78h.1M7 82h.1M70 90h.1M13 75h.1M4 70h.1M80 91h.1M80 97h.1M40 78h.1M84 85h.1M37 95h.1M95 97h.1M96 74h.1" stroke="#3e9c48" stroke-width="3.2" stroke-linecap="round" fill="none"/><path d="M56 22h.1M21 80h.1M44 21h.1M35 21h.1M71 16h.1M7 22h.1M28 79h.1M82 7h.1M68 86h.1M69 15h.1M79 8h.1M44 87h.1M37 73h.1M8 81h.1M22 24h.1M65 13h.1M100 75h.1M66 95h.1M6 63h.1M66 91h.1M10 81h.1M15 80h.1M54 16h.1M73 92h.1M58 92h.1M52 88h.1M59 12h.1M64 21h.1M6 26h.1M37 74h.1M1 24h.1M16 27h.1M50 24h.1M11 29h.1M95 85h.1M12 79h.1M33 21h.1M62 97h.1M32 81h.1M25 22h.1M80 91h.1M33 82h.1M72 94h.1M55 18h.1M69 83h.1M93 87h.1M64 15h.1M95 87h.1M17 76h.1M60 83h.1" stroke="#189048" stroke-width="2.6" stroke-linecap="round" fill="none" stroke-opacity="0.8"/><path d="M39 22h.1M53 80h.1M71 95h.1M64 8h.1M79 11h.1M14 25h.1M66 95h.1M6 63h.1M23 28h.1M79 98h.1M34 86h.1M29 24h.1M13 27h.1M34 75h.1M24 23h.1M67 99h.1M89 85h.1M53 79h.1M74 93h.1M3 64h.1M32 75h.1M51 25h.1M57 10h.1M38 78h.1M24 25h.1M99 85h.1M15 84h.1M63 16h.1M59 84h.1M52 93h.1M54 87h.1M75 18h.1M50 76h.1M60 78h.1M70 14h.1M58 19h.1" stroke="#60f0c0" stroke-width="2.2" stroke-linecap="round" fill="none" stroke-opacity="0.9"/><path d="M20 59h.1M65 69h.1M33 59h.1M33 41h.1M94 27h.1M52 61h.1M84 68h.1M41 60h.1M91 57h.1M23 48h.1M49 68h.1M40 47h.1M52 29h.1M4 45h.1M86 27h.1" stroke="#4fe0b8" stroke-width="2.6" stroke-linecap="round" fill="none"/><path d="M74 96H95" stroke="#d8d8e8" stroke-width="1.4" stroke-opacity="0.5" stroke-dasharray="5 2 9 2 3"/></svg>
<svg x="65.30" y="133.00" width="47.70" height="48.00" viewBox="0 0 100 100" preserveAspectRatio="none"><rect width="100" height="100" fill="#9a1440"/><g filter="url(#b05)"><path d="M45 95h.1M96 82h.1M77 82h.1M16 98h.1M90 77h.1M15 2h.1M83 21h.1M5 11h.1M61 69h.1M2 75h.1M22 88h.1M33 62h.1M91 59h.1M33 7h.1M63 93h.1M32 65h.1M28 72h.1M53 78h.1M20 49h.1M15 58h.1M4 23h.1M8 78h.1M35 45h.1M5 19h.1M94 19h.1M71 73h.1M30 65h.1M52 97h.1M13 33h.1M50 71h.1M22 45h.1M77 19h.1M3 15h.1M50 47h.1M96 4h.1M51 10h.1M23 22h.1M57 52h.1M90 24h.1M65 70h.1M59 77h.1M27 18h.1M14 2h.1M98 16h.1M49 58h.1M24 88h.1M25 89h.1M73 59h.1M62 7h.1M70 6h.1M2 94h.1M52 2h.1M26 43h.1M25 35h.1M46 39h.1M33 2h.1M58 60h.1M46 73h.1M100 54h.1M54 65h.1M84 84h.1M45 6h.1M42 14h.1M11 14h.1M14 60h.1M59 84h.1M44 3h.1M78 47h.1M35 90h.1M19 7h.1M87 96h.1M87 5h.1M27 61h.1M74 63h.1M63 78h.1M92 55h.1M53 50h.1M45 65h.1M19 3h.1M95 50h.1M83 82h.1M17 87h.1M38 48h.1M48 41h.1M87 22h.1M51 46h.1M29 8h.1M75 76h.1M7 49h.1M51 68h.1M18 93h.1M70 14h.1M99 53h.1M75 70h.1M44 47h.1M3 83h.1M67 7h.1M62 74h.1M19 85h.1M69 33h.1M54 74h.1M84 83h.1M29 54h.1M94 76h.1M18 14h.1M93 1h.1M13 3h.1M62 3h.1M28 93h.1M25 44h.1M34 77h.1M2 43h.1M5 96h.1M93 87h.1M45 94h.1M76 17h.1M42 50h.1M15 62h.1M73 8h.1M59 75h.1M88 82h.1M71 11h.1M67 64h.1M36 19h.1M37 9h.1M65 52h.1M98 27h.1M33 16h.1M92 45h.1M79 2h.1M88 82h.1M51 25h.1M59 98h.1M19 51h.1M97 74h.1M2 13h.1M45 29h.1M26 55h.1M72 62h.1M81 18h.1M21 8h.1M62 95h.1M19 32h.1M51 18h.1M86 23h.1M71 12h.1M100 39h.1M46 41h.1M56 28h.1M53 57h.1M12 41h.1M85 40h.1M60 0h.1M63 7h.1M36 94h.1M47 27h.1M77 44h.1M42 24h.1M27 13h.1M51 42h.1M50 38h.1M60 30h.1M17 53h.1M31 3h.1M57 45h.1M39 17h.1M87 95h.1M14 79h.1M92 19h.1M83 72h.1M48 61h.1M36 36h.1M67 87h.1M30 16h.1M49 68h.1M22 8h.1M5 29h.1M67 66h.1M94 19h.1M15 67h.1M61 29h.1M3 55h.1M52 48h.1M30 56h.1M57 64h.1M13 48h.1M81 13h.1M69 97h.1M6 23h.1M76 54h.1M53 82h.1M31 55h.1M92 97h.1M37 47h.1M11 53h.1M70 12h.1M70 63h.1M63 42h.1M14 79h.1M78 69h.1M69 14h.1M89 69h.1M98 7h.1M90 39h.1M3 74h.1M63 4h.1M32 50h.1M95 29h.1M3 98h.1M17 81h.1M6 51h.1M62 58h.1M98 26h.1M29 55h.1M18 72h.1M70 39h.1M27 32h.1M50 45h.1M6 18h.1M78 95h.1M17 45h.1M45 38h.1M56 0h.1M99 100h.1M59 66h.1M49 22h.1M86 17h.1M3 95h.1M76 6h.1M79 31h.1M69 14h.1M88 44h.1M55 53h.1M5 48h.1M53 9h.1M62 48h.1M82 23h.1M56 36h.1M24 14h.1M44 14h.1" stroke="#c8143a" stroke-width="3.6" stroke-linecap="round" fill="none" stroke-opacity="0.8"/><path d="M21 79h.1M76 90h.1M79 43h.1M6 7h.1M68 96h.1M84 36h.1M85 78h.1M63 85h.1M22 65h.1M77 52h.1M81 69h.1M25 66h.1M74 64h.1M26 6h.1M45 74h.1M75 92h.1M82 49h.1M32 53h.1M88 29h.1M20 89h.1M95 73h.1M98 81h.1M61 67h.1M55 88h.1M26 78h.1M70 41h.1M2 8h.1M88 70h.1M85 54h.1M33 42h.1M39 24h.1M32 42h.1M16 14h.1M90 87h.1M4 26h.1M51 43h.1M79 50h.1M31 59h.1M71 63h.1M10 99h.1M39 19h.1M36 12h.1M20 93h.1M18 91h.1M80 24h.1M91 7h.1M42 99h.1M31 85h.1M55 66h.1M94 81h.1M24 68h.1M38 62h.1M80 27h.1M24 15h.1M15 99h.1M84 15h.1M11 10h.1M64 76h.1M52 27h.1M27 24h.1M54 4h.1M87 77h.1M40 92h.1M89 56h.1M4 56h.1M31 79h.1M57 79h.1M23 25h.1M23 36h.1M53 46h.1M97 65h.1M63 29h.1M74 3h.1M60 99h.1M11 87h.1M27 34h.1M39 37h.1M93 45h.1M36 8h.1M93 51h.1M99 22h.1M33 56h.1M89 84h.1M83 7h.1M49 51h.1M73 17h.1M42 69h.1M1 45h.1M45 91h.1M99 75h.1M60 88h.1M71 8h.1M51 5h.1M18 76h.1M93 11h.1M70 74h.1M96 66h.1M73 61h.1M97 8h.1M42 35h.1M98 94h.1M30 17h.1M56 25h.1M97 70h.1M78 34h.1M54 58h.1M73 51h.1M41 19h.1M23 76h.1M66 62h.1M88 15h.1M86 36h.1M38 97h.1M36 26h.1M95 73h.1M47 65h.1M10 29h.1M53 78h.1M92 96h.1M86 85h.1M67 62h.1M11 66h.1M84 39h.1M12 20h.1M89 87h.1M29 17h.1M72 41h.1M28 90h.1M15 63h.1M96 10h.1" stroke="#24106a" stroke-width="4.2" stroke-linecap="round" fill="none" stroke-opacity="0.85"/><path d="M59 8h.1M62 8h.1M55 58h.1M77 39h.1M13 90h.1M64 67h.1M50 93h.1M54 24h.1M47 72h.1M47 43h.1M32 28h.1M36 35h.1M69 59h.1M1 36h.1M0 72h.1M26 85h.1M65 66h.1M79 59h.1M74 78h.1M7 68h.1M84 26h.1M38 86h.1M93 24h.1M50 49h.1M58 20h.1M38 85h.1M24 86h.1M97 8h.1M91 27h.1M12 47h.1M100 59h.1M27 58h.1M71 17h.1M94 46h.1M15 65h.1M51 29h.1M88 2h.1M28 61h.1M15 2h.1M76 15h.1M19 39h.1M43 48h.1M8 77h.1M1 64h.1M62 23h.1M26 92h.1M73 28h.1M11 77h.1M13 18h.1M70 57h.1" stroke="#3434b8" stroke-width="2.6" stroke-linecap="round" fill="none" stroke-opacity="0.8"/><path d="M70 9h.1M34 98h.1M70 36h.1M32 9h.1M24 62h.1M26 70h.1M33 0h.1M4 3h.1M67 83h.1M55 77h.1M55 16h.1M23 37h.1M57 82h.1M84 39h.1M82 31h.1M58 69h.1M70 73h.1M70 25h.1M85 74h.1M84 28h.1M39 34h.1M84 52h.1M64 87h.1M37 52h.1M49 31h.1M51 59h.1M8 58h.1M35 20h.1M67 84h.1M69 84h.1M18 41h.1M23 7h.1M67 14h.1M83 51h.1M44 86h.1M32 88h.1M71 66h.1M81 51h.1M37 70h.1M17 73h.1M11 92h.1M94 29h.1M34 69h.1M95 48h.1M45 51h.1M11 85h.1M65 73h.1M83 13h.1M29 70h.1M18 55h.1M51 30h.1M8 58h.1M11 75h.1M87 14h.1M65 59h.1M60 30h.1M25 94h.1M77 10h.1M21 37h.1M44 12h.1M89 70h.1M31 39h.1M17 24h.1M25 88h.1M54 7h.1M90 32h.1M4 75h.1M75 80h.1M12 90h.1M17 63h.1M99 71h.1M39 65h.1M52 65h.1M58 92h.1M75 39h.1M75 68h.1M26 69h.1M57 17h.1M56 54h.1M52 82h.1M70 90h.1M17 86h.1M86 1h.1M43 88h.1M28 93h.1M6 82h.1M98 61h.1M51 54h.1M39 31h.1M73 40h.1M60 5h.1M99 97h.1M28 75h.1M55 77h.1M20 83h.1M47 62h.1M64 4h.1M51 72h.1M15 43h.1M53 20h.1M78 26h.1M47 56h.1M16 80h.1M0 16h.1M78 65h.1M71 89h.1M70 79h.1M21 94h.1M71 37h.1M79 25h.1M82 70h.1M14 88h.1M73 46h.1M80 48h.1M90 4h.1M8 69h.1M50 51h.1M32 67h.1M99 46h.1M78 40h.1M47 52h.1M83 34h.1M4 77h.1M88 94h.1M36 17h.1M7 25h.1M55 32h.1M43 69h.1M47 36h.1M16 84h.1" stroke="#3fd0a0" stroke-width="4.0" stroke-linecap="round" fill="none"/><path d="M3 52h.1M51 92h.1M38 66h.1M51 80h.1M52 95h.1M55 12h.1M94 9h.1M5 37h.1M65 62h.1M9 62h.1M70 70h.1M59 34h.1M7 12h.1M13 48h.1M64 54h.1M67 35h.1M19 59h.1M83 37h.1M16 91h.1M11 66h.1M39 43h.1M89 21h.1M82 92h.1M84 99h.1M79 8h.1M32 9h.1M29 47h.1M41 90h.1M95 71h.1M52 87h.1M8 4h.1M89 53h.1M86 68h.1M55 38h.1M74 94h.1M53 24h.1M40 30h.1M83 34h.1M55 40h.1M7 92h.1M67 73h.1M32 95h.1M47 40h.1" stroke="#30e070" stroke-width="3.0" stroke-linecap="round" fill="none"/></g><path d="M74 96H95" stroke="#d8d8e8" stroke-width="1.4" stroke-opacity="0.5" stroke-dasharray="5 2 9 2 3"/></svg>
<svg x="115.30" y="133.00" width="47.70" height="48.00" viewBox="0 0 100 100" preserveAspectRatio="none"><rect width="100" height="100" fill="#3a0a50"/><path d="M-5 48 L25 44 L50 42 L75 47 L105 53 L110 110 L-10 110Z" fill="#a41032" filter="url(#b1)" fill-opacity="1"/><path d="M5 69h.1M65 64h.1M11 68h.1M22 80h.1M36 73h.1M60 88h.1M31 91h.1M22 84h.1M83 71h.1M9 99h.1M30 84h.1M14 78h.1M98 83h.1M37 62h.1M82 59h.1M70 73h.1M16 61h.1M95 96h.1M33 89h.1M93 81h.1M68 71h.1M49 52h.1M99 85h.1M20 81h.1M71 53h.1M12 57h.1M65 54h.1M79 85h.1M19 65h.1M96 68h.1M55 52h.1M38 50h.1M3 57h.1M77 92h.1M29 59h.1M43 53h.1M32 52h.1M17 52h.1M62 57h.1M31 64h.1M43 93h.1M83 74h.1M76 65h.1M90 94h.1M21 83h.1M37 73h.1M49 69h.1M3 95h.1M48 50h.1M5 88h.1M35 93h.1M86 91h.1M78 84h.1M87 72h.1M58 63h.1M48 73h.1M30 68h.1M7 99h.1M52 54h.1M9 76h.1M23 88h.1M18 95h.1M82 99h.1M81 61h.1M21 80h.1M78 95h.1M84 72h.1M3 70h.1M6 95h.1M97 59h.1M68 93h.1M3 71h.1M94 77h.1M22 76h.1M15 52h.1M8 72h.1M41 91h.1M12 88h.1M14 54h.1M52 53h.1M48 56h.1M90 68h.1M5 78h.1M95 75h.1M14 75h.1M72 87h.1M1 65h.1M38 93h.1M22 90h.1M59 74h.1M39 87h.1M65 63h.1M61 87h.1M41 58h.1M61 87h.1M97 96h.1M89 65h.1M35 65h.1M63 84h.1M63 95h.1M93 77h.1M16 70h.1M80 94h.1M22 75h.1M19 95h.1M77 61h.1M70 76h.1M16 83h.1M38 83h.1M29 52h.1M46 52h.1M70 87h.1M45 77h.1M10 74h.1M59 90h.1M10 97h.1M94 59h.1M52 84h.1M30 79h.1M69 61h.1M69 86h.1M80 61h.1M43 53h.1M53 68h.1M37 77h.1M18 62h.1M38 97h.1M16 72h.1M67 83h.1M4 95h.1M44 89h.1M69 80h.1M14 89h.1M38 58h.1M44 65h.1M20 93h.1M95 78h.1M88 96h.1M60 68h.1M60 86h.1M58 63h.1M75 77h.1M82 82h.1M98 86h.1M84 72h.1M59 75h.1M45 92h.1M24 60h.1M14 89h.1M65 62h.1M77 74h.1M62 67h.1M7 97h.1M82 98h.1M0 72h.1M72 79h.1M1 70h.1M55 86h.1M12 65h.1M81 91h.1M88 79h.1M90 57h.1M75 90h.1M53 61h.1M1 73h.1M38 59h.1M23 66h.1M44 62h.1M38 70h.1M89 63h.1M50 82h.1M71 54h.1M9 62h.1M21 60h.1M75 75h.1M75 55h.1M3 71h.1M36 52h.1M9 55h.1M18 64h.1M60 79h.1M21 94h.1M82 70h.1M62 62h.1M7 89h.1M58 62h.1M23 82h.1M37 91h.1M85 72h.1M35 70h.1M6 91h.1M31 54h.1M40 68h.1M22 51h.1M26 78h.1M29 80h.1M50 60h.1M6 53h.1M32 53h.1M37 78h.1M38 63h.1M19 64h.1M28 92h.1M49 95h.1M83 82h.1M58 93h.1M9 87h.1M23 98h.1M15 98h.1M0 98h.1M56 78h.1M60 52h.1M92 97h.1M3 60h.1M66 85h.1M31 97h.1M2 56h.1M22 80h.1M1 85h.1M18 65h.1" stroke="#c81434" stroke-width="3.0" stroke-linecap="round" fill="none" stroke-opacity="0.8"/><path d="M42 75h.1M73 70h.1M40 63h.1M8 59h.1M98 97h.1M35 70h.1M82 74h.1M55 79h.1M22 95h.1M13 95h.1M54 53h.1M38 77h.1M71 77h.1M34 87h.1M9 77h.1M81 61h.1M19 81h.1M70 84h.1M52 50h.1M47 67h.1M19 80h.1M2 83h.1M68 89h.1M69 57h.1M86 83h.1M21 96h.1M66 78h.1M16 57h.1M37 82h.1M98 88h.1M66 77h.1M3 78h.1M3 68h.1M3 63h.1M4 96h.1M1 96h.1M83 78h.1M48 81h.1M74 82h.1M47 59h.1M17 95h.1M0 65h.1M87 62h.1M7 69h.1M92 66h.1M75 84h.1M57 60h.1M75 56h.1M35 73h.1M11 98h.1M20 87h.1M52 97h.1M25 60h.1M76 70h.1M10 62h.1M51 57h.1M69 56h.1M54 68h.1M16 64h.1M11 69h.1M71 81h.1M29 68h.1M38 64h.1M67 87h.1M39 77h.1M23 66h.1M60 53h.1M39 72h.1M91 63h.1M40 58h.1M83 97h.1M34 80h.1M83 91h.1M25 77h.1M6 59h.1M35 60h.1M35 66h.1M35 89h.1M72 92h.1M17 57h.1M45 71h.1M33 89h.1M7 67h.1M84 94h.1M34 97h.1M57 70h.1M4 66h.1M46 84h.1M19 85h.1M39 79h.1" stroke="#40104a" stroke-width="3.0" stroke-linecap="round" fill="none" stroke-opacity="0.8"/><path d="M29 36h.1M26 7h.1M78 36h.1M25 13h.1M46 11h.1M74 35h.1M0 36h.1M51 24h.1M51 23h.1M57 8h.1M72 9h.1M26 17h.1M80 24h.1M31 26h.1M88 3h.1M34 33h.1M33 18h.1M44 1h.1M90 32h.1M53 4h.1M85 27h.1M85 19h.1M90 31h.1M3 2h.1M57 12h.1M7 16h.1M20 32h.1M98 28h.1M27 11h.1M11 38h.1M98 21h.1M61 1h.1M51 33h.1M17 29h.1M87 31h.1M90 26h.1M93 6h.1M71 5h.1M37 2h.1M57 5h.1M98 13h.1M57 37h.1M88 43h.1M1 9h.1M49 34h.1M87 28h.1M4 18h.1M27 34h.1M20 14h.1M31 12h.1M12 7h.1M95 0h.1M58 20h.1M47 22h.1M61 36h.1M25 19h.1M47 10h.1M68 1h.1M82 24h.1M14 33h.1M95 19h.1M81 25h.1M11 26h.1M52 16h.1M81 32h.1M2 20h.1M34 14h.1M2 36h.1M59 16h.1M31 34h.1" stroke="#5a1070" stroke-width="3.0" stroke-linecap="round" fill="none" stroke-opacity="0.7"/><path d="M84 24h.1M100 14h.1M28 63h.1M58 81h.1M12 70h.1M84 28h.1M19 18h.1M19 74h.1M49 75h.1M1 58h.1M9 50h.1M8 82h.1M85 81h.1M47 63h.1M34 32h.1M77 25h.1M79 19h.1M43 27h.1M19 58h.1M8 12h.1M83 9h.1M79 90h.1M20 93h.1M89 73h.1M6 32h.1M99 73h.1M65 76h.1M17 82h.1M49 40h.1M99 99h.1M22 49h.1M50 55h.1M54 48h.1M80 62h.1M21 51h.1M100 1h.1M54 33h.1M6 53h.1M91 89h.1M45 21h.1" stroke="#2525a0" stroke-width="2.4" stroke-linecap="round" fill="none" stroke-opacity="0.7"/><path d="M-5 48 L25 44 L50 42 L75 47 L105 53" stroke="#2fe45a" stroke-width="13" fill="none" filter="url(#b1)" stroke-opacity="1"/><path d="M63 53h.1M86 46h.1M49 35h.1M36 48h.1M85 48h.1M16 39h.1M28 46h.1M10 50h.1M27 51h.1M53 41h.1M90 51h.1M4 49h.1M9 38h.1M55 38h.1M11 44h.1M64 41h.1M28 47h.1M50 45h.1M31 37h.1M63 41h.1M38 49h.1M50 41h.1M17 46h.1M84 47h.1M30 41h.1M22 45h.1M2 55h.1M10 40h.1M25 40h.1M10 41h.1M28 38h.1M28 48h.1M59 44h.1M69 44h.1M16 39h.1M15 44h.1M77 52h.1M76 47h.1M42 44h.1M64 43h.1M6 48h.1M19 49h.1M17 50h.1M20 46h.1M25 37h.1M37 45h.1M84 45h.1M83 45h.1M64 48h.1M11 50h.1M58 39h.1M20 39h.1M77 50h.1M17 51h.1M84 44h.1M48 39h.1M70 42h.1M7 54h.1M36 49h.1M61 39h.1M85 57h.1M33 41h.1M60 51h.1M54 34h.1M9 48h.1M11 41h.1M25 37h.1M0 53h.1M41 40h.1M42 49h.1M2 49h.1M28 51h.1M87 58h.1M43 39h.1M25 49h.1M43 44h.1M19 47h.1M81 43h.1M59 39h.1M52 41h.1M4 38h.1M30 41h.1M85 41h.1M26 43h.1M80 41h.1M53 39h.1M56 45h.1M40 38h.1M54 39h.1M26 47h.1M93 53h.1M82 49h.1M29 51h.1M12 50h.1M69 40h.1M53 37h.1M100 51h.1M41 45h.1M82 40h.1M42 50h.1M86 43h.1M47 46h.1M76 52h.1M74 54h.1M28 50h.1M17 48h.1M77 46h.1M77 44h.1M96 59h.1M81 51h.1M93 58h.1M1 55h.1M24 41h.1M8 46h.1M12 40h.1M3 54h.1M37 36h.1M75 50h.1M99 44h.1M66 47h.1" stroke="#2fe45a" stroke-width="3.4" stroke-linecap="round" fill="none"/><path d="M86 49h.1M53 47h.1M80 43h.1M4 46h.1M79 51h.1M78 45h.1M9 50h.1M90 55h.1M21 43h.1M19 46h.1M89 48h.1M18 44h.1M19 45h.1M12 41h.1M23 44h.1M66 47h.1M83 47h.1M67 50h.1M66 44h.1M30 43h.1M77 45h.1M85 48h.1M23 42h.1M77 51h.1M7 42h.1M93 52h.1M36 48h.1M56 47h.1M98 55h.1M58 44h.1M14 51h.1M87 44h.1M14 50h.1M43 42h.1M57 48h.1M61 42h.1M99 56h.1M6 43h.1M67 49h.1M10 44h.1M3 47h.1M0 48h.1M83 53h.1M81 51h.1M98 53h.1M94 47h.1M19 43h.1M61 44h.1M7 43h.1M14 44h.1" stroke="#189048" stroke-width="2.6" stroke-linecap="round" fill="none" stroke-opacity="0.8"/><path d="M42 41h.1M6 50h.1M3 53h.1M66 44h.1M61 38h.1M11 48h.1M26 48h.1M45 41h.1M72 50h.1M38 46h.1M54 37h.1M39 42h.1M92 50h.1M46 41h.1M0 53h.1M89 49h.1M86 51h.1M68 44h.1M81 53h.1M52 42h.1M26 49h.1M65 47h.1M51 40h.1M97 50h.1M37 48h.1M84 53h.1M51 48h.1M19 48h.1M5 42h.1M57 45h.1" stroke="#60f0c0" stroke-width="2.2" stroke-linecap="round" fill="none" stroke-opacity="0.9"/><path d="M22 18h.1M18 63h.1M66 81h.1M32 18h.1M51 93h.1M85 89h.1M65 91h.1M30 99h.1M55 86h.1M42 5h.1M14 76h.1M45 44h.1M69 40h.1M81 71h.1M45 46h.1M55 54h.1M42 5h.1M61 96h.1M86 43h.1M30 61h.1M22 20h.1M66 47h.1M96 10h.1M65 83h.1M55 45h.1M47 18h.1M59 87h.1M10 57h.1M13 51h.1M1 52h.1M20 65h.1M86 92h.1M20 21h.1M47 59h.1M8 44h.1M82 96h.1M52 19h.1M27 96h.1M61 15h.1M100 69h.1" stroke="#4fe0b8" stroke-width="2.6" stroke-linecap="round" fill="none"/><path d="M74 96H95" stroke="#d8d8e8" stroke-width="1.4" stroke-opacity="0.5" stroke-dasharray="5 2 9 2 3"/></svg>
<svg x="165.10" y="133.00" width="47.70" height="48.00" viewBox="0 0 100 100" preserveAspectRatio="none"><rect width="100" height="100" fill="#561048"/><path d="M-5 28 L40 20 L75 12 L105 6 L110 -10 L-10 -10Z" fill="#a01850" filter="url(#b1)" fill-opacity="1"/><path d="M-5 52 L30 68 L60 84 L85 82 L105 74 L110 110 L-10 110Z" fill="#4a1058" filter="url(#b1)" fill-opacity="1"/><path d="M-5 28 L40 20 L75 12 L105 6 L105 74 L85 82 L60 84 L30 68 L-5 52Z" fill="#7a1238" filter="url(#b2)" fill-opacity="0.9"/><path d="M-5 28 L40 20 L75 12 L105 6" stroke="#0c0418" stroke-width="7.14" fill="none" filter="url(#b05)" transform="translate(0 12.58)"/><path d="M-5 52 L30 68 L60 84 L85 82 L105 74" stroke="#0c0418" stroke-width="6.4" fill="none" filter="url(#b05)" transform="translate(0 -13.600000000000001)"/><path d="M91 45h.1M96 38h.1M55 39h.1M52 52h.1M63 36h.1M78 51h.1M91 33h.1M89 29h.1M95 47h.1M73 40h.1M81 53h.1M33 42h.1M81 37h.1M35 46h.1M59 49h.1M30 48h.1M94 28h.1M78 49h.1M51 43h.1M73 61h.1M85 58h.1M42 38h.1M80 38h.1M65 57h.1M57 60h.1M81 58h.1M87 47h.1M70 37h.1M75 32h.1M38 49h.1M75 34h.1M78 29h.1M93 38h.1M96 38h.1M31 40h.1M91 41h.1M64 54h.1M89 52h.1M50 58h.1M72 48h.1M68 41h.1M70 35h.1M68 51h.1M59 41h.1M80 48h.1M30 47h.1M30 39h.1M56 44h.1M31 41h.1M81 35h.1M36 40h.1M42 44h.1M32 38h.1M84 60h.1M92 53h.1M96 38h.1M74 63h.1M95 53h.1M78 57h.1M75 51h.1M58 41h.1M40 52h.1M56 60h.1M76 36h.1M27 40h.1M83 43h.1M90 50h.1M50 42h.1M67 60h.1M56 42h.1M90 40h.1M69 48h.1M48 45h.1M28 40h.1M78 60h.1M55 42h.1M87 32h.1M75 60h.1M30 43h.1M54 53h.1M66 52h.1M49 44h.1M56 48h.1M80 49h.1M30 47h.1M89 28h.1M49 42h.1M74 29h.1M98 51h.1M87 51h.1M87 58h.1M71 49h.1M60 54h.1M96 48h.1M64 61h.1M55 49h.1M92 32h.1M95 45h.1M75 40h.1M91 52h.1M62 56h.1M88 39h.1M95 29h.1M96 32h.1M69 33h.1M60 58h.1M56 34h.1M86 51h.1M80 38h.1M60 48h.1" stroke="#c01838" stroke-width="2.8" stroke-linecap="round" fill="none" stroke-opacity="0.7"/><path d="M24 57h.1M30 29h.1M48 11h.1M64 91h.1M86 33h.1M93 27h.1M38 14h.1M79 46h.1M60 76h.1M26 16h.1M93 12h.1M74 100h.1M37 91h.1M43 52h.1M87 43h.1M39 77h.1M85 20h.1M37 92h.1M54 67h.1M55 38h.1M68 48h.1M98 42h.1M60 53h.1M100 64h.1M4 21h.1M93 48h.1M76 31h.1M44 87h.1M10 13h.1M87 23h.1M67 41h.1M86 68h.1M45 72h.1M14 45h.1M50 17h.1M86 95h.1M5 20h.1M76 73h.1M18 18h.1M6 87h.1M54 19h.1M52 79h.1M34 2h.1M19 65h.1M21 4h.1M45 55h.1M71 34h.1M64 98h.1M72 54h.1M8 7h.1" stroke="#2828a8" stroke-width="2.6" stroke-linecap="round" fill="none" stroke-opacity="0.7"/><path d="M-5 28 L40 20 L75 12 L105 6" stroke="#2fe45a" stroke-width="17" fill="none" filter="url(#b1)" stroke-opacity="1"/><path d="M-5 52 L30 68 L60 84 L85 82 L105 74" stroke="#2fe45a" stroke-width="20" fill="none" filter="url(#b1)" stroke-opacity="1"/><path d="M96 16h.1M72 14h.1M56 24h.1M59 6h.1M16 19h.1M17 25h.1M83 20h.1M77 14h.1M91 9h.1M48 9h.1M46 13h.1M12 17h.1M58 23h.1M99 5h.1M21 31h.1M1 26h.1M11 27h.1M78 5h.1M71 12h.1M92 1h.1M42 19h.1M83 13h.1M70 18h.1M6 25h.1M98 9h.1M25 24h.1M95 4h.1M81 7h.1M37 30h.1M42 20h.1M46 24h.1M39 19h.1M79 15h.1M89 3h.1M51 23h.1M24 24h.1M51 9h.1M85 6h.1M79 8h.1M52 26h.1M67 12h.1M66 16h.1M13 20h.1M33 23h.1M74 9h.1M19 22h.1M23 30h.1M49 27h.1M69 9h.1M32 28h.1M67 22h.1M88 17h.1M62 19h.1M95 9h.1M38 20h.1M36 13h.1M40 29h.1M40 22h.1M37 14h.1M86 6h.1M25 26h.1M18 24h.1M52 24h.1M46 27h.1M88 0h.1M30 28h.1M11 21h.1M15 17h.1M36 30h.1M6 34h.1M45 17h.1M85 18h.1M73 18h.1M54 24h.1M39 16h.1M85 10h.1M10 25h.1M4 25h.1M10 27h.1M92 5h.1M31 28h.1M25 26h.1M30 22h.1M26 17h.1M51 12h.1M71 23h.1M15 22h.1M4 19h.1M27 13h.1M95 10h.1" stroke="#2fe45a" stroke-width="3.2" stroke-linecap="round" fill="none"/><path d="M6 52h.1M77 72h.1M35 77h.1M43 72h.1M10 53h.1M31 68h.1M23 68h.1M11 57h.1M31 73h.1M78 82h.1M77 77h.1M40 73h.1M21 75h.1M23 72h.1M7 58h.1M42 69h.1M5 66h.1M54 79h.1M26 70h.1M36 65h.1M80 71h.1M10 48h.1M44 86h.1M88 83h.1M57 82h.1M60 73h.1M33 60h.1M56 88h.1M1 53h.1M41 71h.1M65 92h.1M71 85h.1M38 70h.1M6 60h.1M0 53h.1M97 76h.1M28 75h.1M12 61h.1M36 64h.1M11 67h.1M5 52h.1M46 76h.1M85 83h.1M37 80h.1M75 74h.1M86 74h.1M68 77h.1M56 87h.1M57 77h.1M32 68h.1M0 46h.1M53 86h.1M40 63h.1M15 63h.1M19 64h.1M32 69h.1M77 81h.1M51 73h.1M2 51h.1M85 81h.1M22 58h.1M14 59h.1M78 80h.1M41 82h.1M7 69h.1M74 88h.1M40 85h.1M62 75h.1M16 61h.1M62 73h.1M49 71h.1M61 74h.1M89 85h.1M20 60h.1M48 70h.1M1 50h.1M98 66h.1M82 82h.1M34 81h.1M80 86h.1M67 87h.1M48 72h.1M9 66h.1M35 63h.1M88 90h.1M21 69h.1M72 89h.1M79 85h.1M96 86h.1M92 76h.1M19 65h.1M13 56h.1M79 76h.1M41 65h.1M63 86h.1M84 76h.1M72 77h.1M76 82h.1M7 57h.1M23 55h.1M59 91h.1M41 72h.1M14 61h.1M30 65h.1M85 73h.1M47 88h.1M18 60h.1M54 80h.1M99 70h.1M17 56h.1" stroke="#2fe45a" stroke-width="3.2" stroke-linecap="round" fill="none"/><path d="M67 91h.1M78 86h.1M59 76h.1M54 77h.1M35 68h.1M83 16h.1M18 19h.1M62 88h.1M14 58h.1M89 77h.1M32 62h.1M73 83h.1M7 26h.1M25 18h.1M19 25h.1M77 89h.1M45 22h.1M63 90h.1M22 64h.1M94 14h.1M24 64h.1M83 81h.1M93 3h.1M32 74h.1M82 85h.1M22 62h.1M38 80h.1M58 75h.1M49 76h.1M35 62h.1M5 62h.1M65 10h.1M11 25h.1M77 10h.1M93 85h.1M62 76h.1M44 74h.1M6 52h.1M88 6h.1M82 15h.1M35 17h.1M79 78h.1M36 64h.1M76 77h.1M15 59h.1M69 76h.1M30 66h.1M48 11h.1M78 12h.1M23 16h.1" stroke="#189048" stroke-width="2.6" stroke-linecap="round" fill="none" stroke-opacity="0.8"/><path d="M50 77h.1M52 21h.1M19 58h.1M8 67h.1M66 92h.1M68 20h.1M46 82h.1M63 18h.1M84 16h.1M77 18h.1M6 33h.1M64 17h.1M3 28h.1M64 82h.1M58 9h.1M1 29h.1M66 91h.1M87 76h.1M33 20h.1M23 64h.1M59 81h.1M33 78h.1M13 23h.1M12 18h.1M60 90h.1M45 67h.1M43 73h.1M83 8h.1M58 15h.1M92 84h.1M56 92h.1M31 19h.1M68 86h.1M36 77h.1M82 73h.1M40 13h.1" stroke="#60f0c0" stroke-width="2.2" stroke-linecap="round" fill="none" stroke-opacity="0.9"/><path d="M25 41h.1M44 54h.1M94 55h.1M82 38h.1M67 50h.1M92 43h.1M77 37h.1M66 46h.1M100 49h.1M3 36h.1M71 73h.1M79 29h.1M78 46h.1M38 60h.1M48 63h.1M78 42h.1M74 34h.1M1 43h.1M43 58h.1M15 45h.1M56 58h.1M76 53h.1M58 25h.1M88 58h.1M46 51h.1M82 31h.1M74 32h.1M55 51h.1M17 46h.1M29 40h.1M96 43h.1M72 22h.1M39 38h.1M63 60h.1M27 51h.1M60 66h.1M93 20h.1M11 40h.1M93 46h.1M44 43h.1" stroke="#4fe0b8" stroke-width="2.6" stroke-linecap="round" fill="none"/><path d="M74 96H95" stroke="#d8d8e8" stroke-width="1.4" stroke-opacity="0.5" stroke-dasharray="5 2 9 2 3"/></svg>
<svg x="214.30" y="133.00" width="47.70" height="48.00" viewBox="0 0 100 100" preserveAspectRatio="none"><rect width="100" height="100" fill="#130b32"/><path d="M55 71h.1M45 98h.1M47 60h.1M62 14h.1M23 75h.1M14 11h.1M46 46h.1M88 62h.1M22 52h.1M69 73h.1M88 34h.1M83 53h.1M98 99h.1M43 10h.1M16 67h.1M89 64h.1M72 69h.1M29 55h.1M24 80h.1M90 51h.1M30 26h.1M94 44h.1M3 86h.1M66 92h.1M68 83h.1M37 47h.1M25 1h.1M20 19h.1M41 18h.1M37 7h.1M1 11h.1M70 20h.1M1 96h.1M75 71h.1M20 8h.1M77 13h.1M90 59h.1M98 50h.1M42 90h.1M31 85h.1M94 73h.1M68 24h.1M30 44h.1M91 77h.1M48 1h.1M71 64h.1M67 38h.1M36 26h.1M72 19h.1M17 89h.1M53 86h.1M98 21h.1M11 4h.1M14 73h.1M71 37h.1M11 54h.1M88 92h.1M51 93h.1M16 63h.1M55 21h.1M52 25h.1M65 72h.1M9 3h.1M45 72h.1M92 72h.1M64 13h.1M76 21h.1M66 67h.1M96 40h.1M60 54h.1M39 55h.1M58 13h.1M72 14h.1M21 66h.1M47 5h.1M21 36h.1M71 88h.1M49 11h.1M21 63h.1M21 87h.1M62 91h.1M45 6h.1M74 62h.1M33 58h.1M24 77h.1M86 72h.1M69 81h.1M48 42h.1M65 8h.1M56 55h.1M15 36h.1M63 55h.1M84 16h.1M84 74h.1M12 6h.1M79 10h.1M88 40h.1M85 25h.1M98 74h.1M17 34h.1M68 60h.1M70 50h.1M39 80h.1M94 23h.1M35 60h.1M74 72h.1M99 72h.1M55 15h.1M41 47h.1M32 67h.1" stroke="#2a2ab0" stroke-width="2.6" stroke-linecap="round" fill="none" stroke-opacity="0.8"/><path d="M82 29h.1M50 44h.1M26 20h.1M47 28h.1M61 18h.1M6 94h.1M61 37h.1M39 45h.1M33 98h.1M4 74h.1" stroke="#a01030" stroke-width="2.2" stroke-linecap="round" fill="none" stroke-opacity="0.8"/><path d="M10 69h.1M71 19h.1M96 18h.1M98 20h.1M40 10h.1M36 99h.1M59 78h.1M20 99h.1M46 28h.1M16 97h.1M32 83h.1M99 38h.1M38 42h.1M5 16h.1M92 3h.1M19 96h.1M56 52h.1M8 28h.1M91 45h.1M55 33h.1M42 74h.1M87 70h.1M50 59h.1M76 35h.1M50 52h.1M72 18h.1M46 82h.1M61 99h.1" stroke="#3fd0a0" stroke-width="2.8" stroke-linecap="round" fill="none"/><path d="M74 96H95" stroke="#d8d8e8" stroke-width="1.4" stroke-opacity="0.5" stroke-dasharray="5 2 9 2 3"/></svg>
<svg x="264.30" y="133.00" width="47.70" height="48.00" viewBox="0 0 100 100" preserveAspectRatio="none"><rect width="100" height="100" fill="#120a2e"/><path d="M19 49h.1M72 17h.1M59 55h.1M64 95h.1M70 96h.1M29 54h.1M5 4h.1M5 90h.1M85 20h.1M76 62h.1M21 53h.1M90 41h.1M84 5h.1M25 82h.1M70 27h.1M32 51h.1M81 50h.1M37 3h.1M51 14h.1M81 92h.1M62 67h.1M9 26h.1M69 79h.1M13 36h.1M62 72h.1M56 37h.1M52 81h.1M49 7h.1M54 95h.1M83 22h.1M68 78h.1M99 64h.1M63 7h.1M35 71h.1M39 17h.1M85 91h.1M74 63h.1M50 49h.1M4 67h.1M68 40h.1M7 88h.1M60 89h.1M28 36h.1M10 56h.1M52 32h.1M32 19h.1M87 79h.1M73 57h.1M32 49h.1M72 85h.1M2 2h.1M97 28h.1M42 84h.1M83 20h.1M54 7h.1M38 32h.1M71 8h.1M65 42h.1M53 19h.1M55 94h.1M51 22h.1M43 20h.1M60 38h.1M100 1h.1M60 41h.1M18 24h.1M95 40h.1M79 45h.1M56 97h.1M12 72h.1M45 64h.1M6 74h.1M16 53h.1M87 68h.1M21 51h.1M61 3h.1M73 87h.1M9 60h.1M19 94h.1M56 69h.1M56 45h.1M72 2h.1M43 99h.1M27 51h.1M81 73h.1M34 99h.1M43 32h.1M65 68h.1M63 41h.1M5 61h.1M39 9h.1M69 72h.1M4 81h.1M63 90h.1M15 29h.1M61 46h.1M75 74h.1M70 12h.1M49 95h.1M77 4h.1" stroke="#2a2ab0" stroke-width="2.6" stroke-linecap="round" fill="none" stroke-opacity="0.8"/><path d="M4 16h.1M39 88h.1M61 91h.1M47 9h.1M75 22h.1M62 17h.1M2 41h.1M41 85h.1M46 74h.1M66 69h.1" stroke="#a01030" stroke-width="2.2" stroke-linecap="round" fill="none" stroke-opacity="0.8"/><path d="M17 27h.1M96 96h.1M62 69h.1M15 96h.1M91 57h.1M4 84h.1M24 74h.1M24 66h.1M26 46h.1M26 77h.1" stroke="#3fd0a0" stroke-width="2.6" stroke-linecap="round" fill="none"/><path d="M2 55h.1M28 55h.1M85 48h.1M10 57h.1M61 41h.1M32 45h.1M68 45h.1M79 43h.1M6 56h.1M9 55h.1M97 45h.1M64 42h.1M79 47h.1M97 44h.1M86 43h.1M45 49h.1M66 43h.1M1 57h.1M58 45h.1M75 46h.1M91 50h.1M78 39h.1M86 48h.1M87 46h.1M44 45h.1M63 38h.1M4 58h.1M0 57h.1M46 41h.1M3 56h.1M59 42h.1M72 42h.1M81 48h.1M95 46h.1M4 53h.1M9 56h.1M40 50h.1M96 44h.1M53 44h.1M98 44h.1M38 52h.1M45 44h.1M61 45h.1M86 43h.1M72 44h.1M69 46h.1M42 50h.1M22 52h.1M20 55h.1M27 49h.1M13 56h.1M16 55h.1M59 47h.1M29 53h.1M13 51h.1M13 59h.1M89 43h.1M39 46h.1M20 49h.1M28 50h.1M11 60h.1M5 60h.1M69 41h.1M24 48h.1M93 49h.1M86 43h.1M49 46h.1M15 52h.1M63 42h.1M38 43h.1" stroke="#35d090" stroke-width="3.0" stroke-linecap="round" fill="none"/><path d="M74 96H95" stroke="#d8d8e8" stroke-width="1.4" stroke-opacity="0.5" stroke-dasharray="5 2 9 2 3"/></svg>
<svg x="314.10" y="133.00" width="47.70" height="48.00" viewBox="0 0 100 100" preserveAspectRatio="none"><rect width="100" height="100" fill="#5a1048"/><path d="M-5 32 L40 24 L75 14 L105 8 L110 -10 L-10 -10Z" fill="#c0204e" filter="url(#b1)" fill-opacity="1"/><path d="M-5 68 L35 76 L70 82 L105 78 L110 110 L-10 110Z" fill="#4a1060" filter="url(#b1)" fill-opacity="1"/><path d="M-5 32 L40 24 L75 14 L105 8 L105 78 L70 82 L35 76 L-5 68Z" fill="#8a1640" filter="url(#b2)" fill-opacity="0.9"/><path d="M-5 32 L40 24 L75 14 L105 8" stroke="#1a0a40" stroke-width="7.14" fill="none" filter="url(#b05)" transform="translate(0 12.58)"/><path d="M-5 68 L35 76 L70 82 L105 78" stroke="#1a0a40" stroke-width="6.08" fill="none" filter="url(#b05)" transform="translate(0 -12.920000000000002)"/><path d="M70 36h.1M21 46h.1M92 36h.1M77 42h.1M97 39h.1M95 33h.1M92 49h.1M86 48h.1M43 57h.1M86 53h.1M46 55h.1M16 50h.1M45 41h.1M58 42h.1M96 55h.1M27 48h.1M44 51h.1M42 52h.1M85 33h.1M80 35h.1M66 61h.1M64 44h.1M91 40h.1M86 33h.1M85 55h.1M93 44h.1M32 44h.1M83 49h.1M58 60h.1M75 44h.1M32 54h.1M89 44h.1M96 41h.1M78 48h.1M65 48h.1M91 53h.1M91 60h.1M57 47h.1M34 50h.1M70 50h.1M71 36h.1M83 48h.1M65 39h.1M53 50h.1M49 39h.1M42 47h.1M40 51h.1M84 44h.1M81 32h.1M91 56h.1M82 36h.1M30 45h.1M98 32h.1M53 53h.1M22 51h.1M87 58h.1M36 54h.1M32 51h.1M69 55h.1M91 31h.1M63 55h.1M53 45h.1M71 34h.1M80 43h.1M39 49h.1M39 43h.1M91 29h.1M86 58h.1M58 51h.1M79 36h.1M76 49h.1M49 43h.1M43 48h.1M84 60h.1M57 57h.1M75 46h.1M75 37h.1M39 48h.1M45 50h.1M74 61h.1M100 28h.1M87 35h.1M20 46h.1M66 41h.1M80 42h.1M85 29h.1M97 38h.1M93 44h.1M69 43h.1M20 53h.1M44 50h.1M77 59h.1M37 55h.1M57 46h.1M99 44h.1M82 46h.1M68 35h.1M27 44h.1M96 29h.1M48 53h.1" stroke="#c01838" stroke-width="2.8" stroke-linecap="round" fill="none" stroke-opacity="0.7"/><path d="M12 44h.1M36 84h.1M15 97h.1M54 54h.1M98 78h.1M76 43h.1M47 87h.1M37 44h.1M11 53h.1M33 10h.1M13 43h.1M16 55h.1M36 79h.1M46 87h.1M61 47h.1M50 87h.1M92 36h.1M71 71h.1M93 14h.1M72 98h.1M58 35h.1M74 93h.1M34 50h.1M27 46h.1M64 35h.1M2 90h.1M6 92h.1M40 23h.1M26 7h.1M80 94h.1M84 62h.1M92 3h.1M98 92h.1M96 21h.1M58 13h.1M22 71h.1M25 64h.1M54 49h.1M57 69h.1M2 54h.1M89 66h.1M73 49h.1M51 55h.1M43 92h.1M92 96h.1M55 44h.1M34 36h.1M32 84h.1M0 75h.1M1 48h.1" stroke="#2828a8" stroke-width="2.6" stroke-linecap="round" fill="none" stroke-opacity="0.7"/><path d="M-5 32 L40 24 L75 14 L105 8" stroke="#50c860" stroke-width="17" fill="none" filter="url(#b1)" stroke-opacity="0.95"/><path d="M-5 68 L35 76 L70 82 L105 78" stroke="#50c860" stroke-width="19" fill="none" filter="url(#b1)" stroke-opacity="0.95"/><path d="M72 17h.1M77 10h.1M85 12h.1M68 11h.1M8 22h.1M83 15h.1M58 22h.1M7 33h.1M50 23h.1M19 30h.1M97 6h.1M21 23h.1M89 6h.1M12 30h.1M54 16h.1M42 31h.1M61 27h.1M4 24h.1M37 28h.1M72 22h.1M97 7h.1M58 20h.1M97 18h.1M95 19h.1M26 19h.1M87 1h.1M3 25h.1M80 13h.1M43 19h.1M32 21h.1M23 18h.1M56 20h.1M71 10h.1M79 16h.1M56 13h.1M33 30h.1M17 36h.1M21 25h.1M47 25h.1M38 30h.1M41 18h.1M31 21h.1M69 10h.1M66 10h.1M53 16h.1M66 9h.1M23 35h.1M6 31h.1M90 13h.1M49 16h.1M34 17h.1M52 16h.1M55 12h.1M56 22h.1M93 2h.1M4 21h.1M19 31h.1M60 11h.1M8 27h.1M4 25h.1M11 33h.1M6 35h.1M60 9h.1M14 29h.1M94 9h.1M13 35h.1M17 39h.1M24 30h.1M69 24h.1M63 18h.1M43 32h.1M19 32h.1M65 25h.1M42 15h.1M19 25h.1M12 31h.1M14 38h.1M34 22h.1M61 19h.1M22 27h.1M93 7h.1M46 14h.1M68 14h.1M7 22h.1M30 19h.1M32 17h.1M55 25h.1M91 11h.1M93 18h.1M91 2h.1" stroke="#50c860" stroke-width="3.2" stroke-linecap="round" fill="none"/><path d="M61 86h.1M16 80h.1M30 64h.1M24 69h.1M19 67h.1M67 90h.1M55 82h.1M74 74h.1M73 85h.1M69 89h.1M79 76h.1M64 91h.1M72 80h.1M64 92h.1M94 86h.1M61 86h.1M36 80h.1M5 80h.1M63 78h.1M52 74h.1M14 62h.1M99 88h.1M49 79h.1M85 70h.1M68 85h.1M22 78h.1M73 90h.1M61 75h.1M74 82h.1M98 76h.1M63 77h.1M36 75h.1M43 80h.1M9 70h.1M79 91h.1M6 63h.1M3 63h.1M73 81h.1M90 88h.1M68 91h.1M34 72h.1M76 75h.1M45 88h.1M99 75h.1M86 89h.1M71 74h.1M36 75h.1M93 72h.1M97 79h.1M64 91h.1M51 87h.1M11 70h.1M95 72h.1M20 64h.1M40 70h.1M41 85h.1M72 91h.1M11 73h.1M97 84h.1M18 74h.1M83 89h.1M88 71h.1M76 86h.1M14 77h.1M28 76h.1M40 85h.1M14 62h.1M11 79h.1M80 70h.1M76 70h.1M79 81h.1M68 92h.1M40 72h.1M16 70h.1M26 80h.1M76 88h.1M23 82h.1M65 72h.1M86 77h.1M99 69h.1M33 81h.1M94 73h.1M36 82h.1M10 66h.1M78 79h.1M60 81h.1M100 68h.1M35 68h.1M23 84h.1M27 69h.1M11 64h.1M60 87h.1M7 81h.1M77 76h.1M16 81h.1M41 67h.1M93 82h.1M20 76h.1M95 73h.1M47 77h.1M25 85h.1M72 83h.1M57 74h.1M91 74h.1M43 87h.1M71 79h.1M1 78h.1M51 77h.1M15 81h.1M47 86h.1" stroke="#50c860" stroke-width="3.2" stroke-linecap="round" fill="none"/><path d="M52 80h.1M88 10h.1M4 77h.1M80 80h.1M45 17h.1M34 27h.1M68 20h.1M23 80h.1M81 86h.1M55 14h.1M23 72h.1M54 76h.1M80 14h.1M14 25h.1M69 81h.1M70 19h.1M16 34h.1M84 74h.1M11 64h.1M76 84h.1M21 20h.1M3 63h.1M63 10h.1M59 72h.1M2 28h.1M86 18h.1M23 66h.1M88 84h.1M12 29h.1M89 76h.1M30 69h.1M35 79h.1M20 25h.1M54 26h.1M59 79h.1M54 17h.1M31 71h.1M82 85h.1M85 76h.1M78 9h.1M79 87h.1M88 76h.1M22 26h.1M20 26h.1M50 75h.1M44 82h.1M51 81h.1M83 17h.1M41 30h.1M7 68h.1" stroke="#189048" stroke-width="2.6" stroke-linecap="round" fill="none" stroke-opacity="0.8"/><path d="M13 26h.1M8 80h.1M26 74h.1M100 69h.1M31 23h.1M15 63h.1M67 72h.1M26 69h.1M31 82h.1M85 72h.1M81 84h.1M93 77h.1M81 88h.1M41 81h.1M76 10h.1M2 72h.1M64 19h.1M39 83h.1M60 77h.1M22 20h.1M44 28h.1M89 74h.1M21 64h.1M94 87h.1M80 83h.1M47 85h.1M93 87h.1M10 78h.1M47 23h.1M52 23h.1M22 65h.1M58 19h.1M25 32h.1M34 74h.1M7 65h.1M43 82h.1" stroke="#60f0c0" stroke-width="2.2" stroke-linecap="round" fill="none" stroke-opacity="0.9"/><path d="M76 44h.1M24 39h.1M99 25h.1M64 60h.1M82 65h.1M67 31h.1M28 42h.1M98 34h.1M58 47h.1M72 61h.1M94 40h.1M96 68h.1M52 59h.1M70 29h.1M47 67h.1M98 51h.1M38 44h.1M81 27h.1M70 30h.1M51 47h.1" stroke="#4fe0b8" stroke-width="2.6" stroke-linecap="round" fill="none"/><path d="M74 96H95" stroke="#d8d8e8" stroke-width="1.4" stroke-opacity="0.5" stroke-dasharray="5 2 9 2 3"/></svg>
<text class="r" x="54.00" y="18.60" font-size="7.7" fill="#000"><tspan fill="#2bd14a">NeuN</tspan><tspan fill="#e02020">/MAP2</tspan><tspan fill="#2a2ad8">/DAPI</tspan></text>
<text class="r" x="142.00" y="18.20" font-size="7.5" text-anchor="middle" fill="#000">AAV-SYN</text>
<text class="r" x="285.00" y="18.20" font-size="7.5" text-anchor="middle" fill="#000">AAV-SYN-VIM</text>
<path d="M68 22.5H207.4M215.8 22.5H360.9" stroke="#444" stroke-width="0.8"/>
<text class="r" x="92.40" y="30.50" font-size="7.3" text-anchor="middle" fill="#000">Cortex</text>
<text class="r" x="139.00" y="30.50" font-size="7.3" text-anchor="middle" fill="#000">CA1</text>
<text class="r" x="187.90" y="30.50" font-size="7.3" text-anchor="middle" fill="#000">DG</text>
<text class="r" x="238.40" y="30.50" font-size="7.3" text-anchor="middle" fill="#000">Cortex</text>
<text class="r" x="285.00" y="30.50" font-size="7.3" text-anchor="middle" fill="#000">CA1</text>
<text class="r" x="333.90" y="30.50" font-size="7.3" text-anchor="middle" fill="#000">DG</text>
<text class="r" x="61.30" y="60.00" font-size="7.3" text-anchor="middle" fill="#000" transform="rotate(-90 61.30 60.00)">Sham</text>
<text class="r" x="61.30" y="107.80" font-size="7.3" text-anchor="middle" fill="#000" transform="rotate(-90 61.30 107.80)">MCAO/R</text>
<text class="r" x="61.30" y="159.00" font-size="7.3" text-anchor="middle" fill="#000" transform="rotate(-90 61.30 159.00)">NBP</text>
<rect x="422.60" y="73.40" width="160.30" height="14.60" fill="#c6c6c6" stroke="#444" stroke-width="0.7"/>
<svg x="422.60" y="73.40" width="160.30" height="14.60" viewBox="422.60 73.40 160.30 14.60">
<ellipse cx="440.3" cy="80.70" rx="8.5" ry="1.60" fill="#0a0a0a" fill-opacity="0.6" filter="url(#bb)"/>
<ellipse cx="464.6" cy="80.70" rx="7.5" ry="1.30" fill="#0a0a0a" fill-opacity="0.35" filter="url(#bb)"/>
<ellipse cx="488.6" cy="80.70" rx="8.0" ry="1.50" fill="#0a0a0a" fill-opacity="0.5" filter="url(#bb)"/>
<ellipse cx="515.3" cy="80.70" rx="9.5" ry="1.80" fill="#0a0a0a" fill-opacity="0.85" filter="url(#bb)"/>
<ellipse cx="538.2" cy="80.70" rx="7.0" ry="1.40" fill="#0a0a0a" fill-opacity="0.45" filter="url(#bb)"/>
<ellipse cx="565.0" cy="80.70" rx="10.5" ry="2.10" fill="#0a0a0a" fill-opacity="0.95" filter="url(#bb)"/>
</svg>
<rect x="422.60" y="89.60" width="160.30" height="14.20" fill="#969696" stroke="#444" stroke-width="0.7"/>
<svg x="422.60" y="89.60" width="160.30" height="14.20" viewBox="422.60 89.60 160.30 14.20">
<ellipse cx="440.3" cy="97.41" rx="8.5" ry="1.20" fill="#0a0a0a" fill-opacity="0.55" filter="url(#bb)"/>
<ellipse cx="464.6" cy="97.41" rx="7.5" ry="1.10" fill="#0a0a0a" fill-opacity="0.3" filter="url(#bb)"/>
<ellipse cx="488.6" cy="97.41" rx="7.5" ry="1.10" fill="#0a0a0a" fill-opacity="0.4" filter="url(#bb)"/>
<ellipse cx="515.3" cy="97.41" rx="9.0" ry="1.30" fill="#0a0a0a" fill-opacity="0.65" filter="url(#bb)"/>
<ellipse cx="538.2" cy="97.41" rx="8.5" ry="1.30" fill="#0a0a0a" fill-opacity="0.65" filter="url(#bb)"/>
<ellipse cx="565.0" cy="97.41" rx="11.0" ry="1.70" fill="#0a0a0a" fill-opacity="0.9" filter="url(#bb)"/>
</svg>
<rect x="422.60" y="105.60" width="160.30" height="14.90" fill="#dedede" stroke="#444" stroke-width="0.7"/>
<svg x="422.60" y="105.60" width="160.30" height="14.90" viewBox="422.60 105.60 160.30 14.90">
<ellipse cx="440.3" cy="113.35" rx="10.0" ry="1.90" fill="#0a0a0a" fill-opacity="0.92" filter="url(#bb)"/>
<ellipse cx="464.6" cy="113.35" rx="7.0" ry="1.50" fill="#0a0a0a" fill-opacity="0.12" filter="url(#bb)"/>
<ellipse cx="488.6" cy="113.35" rx="7.0" ry="1.50" fill="#0a0a0a" fill-opacity="0.08" filter="url(#bb)"/>
<ellipse cx="515.3" cy="113.35" rx="10.0" ry="2.10" fill="#0a0a0a" fill-opacity="0.95" filter="url(#bb)"/>
<ellipse cx="538.2" cy="113.35" rx="7.0" ry="1.50" fill="#0a0a0a" fill-opacity="0.2" filter="url(#bb)"/>
<ellipse cx="565.0" cy="113.35" rx="12.5" ry="3.10" fill="#0a0a0a" fill-opacity="1" filter="url(#bb)"/>
</svg>
<rect x="422.60" y="122.20" width="160.30" height="14.40" fill="#b2b2b2" stroke="#444" stroke-width="0.7"/>
<svg x="422.60" y="122.20" width="160.30" height="14.40" viewBox="422.60 122.20 160.30 14.40">
<ellipse cx="440.3" cy="128.82" rx="8.5" ry="1.30" fill="#0a0a0a" fill-opacity="0.55" filter="url(#bb)"/>
<ellipse cx="464.6" cy="128.82" rx="7.5" ry="1.20" fill="#0a0a0a" fill-opacity="0.4" filter="url(#bb)"/>
<ellipse cx="488.6" cy="128.82" rx="8.5" ry="1.30" fill="#0a0a0a" fill-opacity="0.55" filter="url(#bb)"/>
<ellipse cx="515.3" cy="128.82" rx="9.0" ry="1.50" fill="#0a0a0a" fill-opacity="0.8" filter="url(#bb)"/>
<ellipse cx="538.2" cy="128.82" rx="8.5" ry="1.40" fill="#0a0a0a" fill-opacity="0.7" filter="url(#bb)"/>
<ellipse cx="565.0" cy="128.82" rx="10.5" ry="1.80" fill="#0a0a0a" fill-opacity="0.9" filter="url(#bb)"/>
</svg>
<rect x="422.60" y="139.00" width="160.30" height="15.00" fill="#a0a0a0" stroke="#444" stroke-width="0.7"/>
<svg x="422.60" y="139.00" width="160.30" height="15.00" viewBox="422.60 139.00 160.30 15.00">
<ellipse cx="440.3" cy="146.80" rx="12.0" ry="3.20" fill="#0a0a0a" fill-opacity="1" filter="url(#bb)"/>
<ellipse cx="464.6" cy="146.80" rx="11.0" ry="2.90" fill="#0a0a0a" fill-opacity="1" filter="url(#bb)"/>
<ellipse cx="488.6" cy="146.80" rx="11.5" ry="2.90" fill="#0a0a0a" fill-opacity="1" filter="url(#bb)"/>
<ellipse cx="515.3" cy="146.80" rx="12.0" ry="3.20" fill="#0a0a0a" fill-opacity="1" filter="url(#bb)"/>
<ellipse cx="538.2" cy="146.80" rx="11.5" ry="3.00" fill="#0a0a0a" fill-opacity="1" filter="url(#bb)"/>
<ellipse cx="565.0" cy="146.80" rx="12.5" ry="3.25" fill="#0a0a0a" fill-opacity="1" filter="url(#bb)"/>
</svg>
<text class="r" x="466.50" y="32.30" font-size="8.8" text-anchor="middle" fill="#000">AAV-SYN-VIM</text>
<text class="r" x="538.50" y="32.30" font-size="8.8" text-anchor="middle" fill="#000">AAV-SYN</text>
<path d="M436.3 36.5H497.5M508.6 36.5H569.2" stroke="#333" stroke-width="0.8"/>
<text class="r" x="406.80" y="47.30" font-size="8.4" text-anchor="end" fill="#000">NBP</text>
<text class="r" x="414.60" y="64.80" font-size="8.4" text-anchor="end" fill="#000">MCAO/R</text>
<text class="r" x="442.70" y="45.00" font-size="8" text-anchor="middle" fill="#333">-</text>
<text class="r" x="465.60" y="45.00" font-size="8" text-anchor="middle" fill="#333">-</text>
<text class="r" x="489.50" y="45.00" font-size="8" text-anchor="middle" fill="#333">+</text>
<text class="r" x="514.00" y="45.00" font-size="8" text-anchor="middle" fill="#333">-</text>
<text class="r" x="537.30" y="45.00" font-size="8" text-anchor="middle" fill="#333">-</text>
<text class="r" x="561.20" y="45.00" font-size="8" text-anchor="middle" fill="#333">+</text>
<text class="r" x="442.70" y="62.20" font-size="8" text-anchor="middle" fill="#333">-</text>
<text class="r" x="465.60" y="62.20" font-size="8" text-anchor="middle" fill="#333">+</text>
<text class="r" x="489.50" y="62.20" font-size="8" text-anchor="middle" fill="#333">+</text>
<text class="r" x="514.00" y="62.20" font-size="8" text-anchor="middle" fill="#333">-</text>
<text class="r" x="537.30" y="62.20" font-size="8" text-anchor="middle" fill="#333">+</text>
<text class="r" x="561.20" y="62.20" font-size="8" text-anchor="middle" fill="#333">+</text>
<text class="r" x="414.80" y="83.90" font-size="8.6" text-anchor="end" fill="#000">Tie-2</text>
<text class="r" x="418.40" y="99.80" font-size="8.6" text-anchor="end" fill="#000">ANG-1</text>
<text class="r" x="418.40" y="115.80" font-size="8.6" text-anchor="end" fill="#000">GAP43</text>
<text class="r" x="418.40" y="131.70" font-size="8.6" text-anchor="end" fill="#000">BDNF</text>
<text class="r" x="418.40" y="148.60" font-size="8.6" text-anchor="end" fill="#000">β-Actin</text>
<text class="r" x="588.30" y="83.90" font-size="8.6" fill="#000">140 kDa</text>
<text class="r" x="590.80" y="99.80" font-size="8.6" fill="#000">58 kDa</text>
<text class="r" x="590.80" y="115.80" font-size="8.6" fill="#000">45 kDa</text>
<text class="r" x="590.80" y="131.70" font-size="8.6" fill="#000">35 kDa</text>
<text class="r" x="590.80" y="148.60" font-size="8.6" fill="#000">45 kDa</text>
<rect x="553.10" y="731.00" width="155.80" height="12.80" fill="#cacaca" stroke="#444" stroke-width="0.7"/>
<svg x="553.10" y="731.00" width="155.80" height="12.80" viewBox="553.10 731.00 155.80 12.80">
<ellipse cx="570.3" cy="737.40" rx="10.0" ry="1.60" fill="#0a0a0a" fill-opacity="0.9" filter="url(#bb)"/>
<ellipse cx="593.2" cy="737.40" rx="8.5" ry="1.40" fill="#0a0a0a" fill-opacity="0.6" filter="url(#bb)"/>
<ellipse cx="616.2" cy="737.40" rx="8.5" ry="1.40" fill="#0a0a0a" fill-opacity="0.6" filter="url(#bb)"/>
<ellipse cx="640.3" cy="737.40" rx="10.0" ry="1.60" fill="#0a0a0a" fill-opacity="0.9" filter="url(#bb)"/>
<ellipse cx="662.9" cy="737.40" rx="9.5" ry="1.60" fill="#0a0a0a" fill-opacity="0.85" filter="url(#bb)"/>
<ellipse cx="685.9" cy="737.40" rx="11.0" ry="1.90" fill="#0a0a0a" fill-opacity="1" filter="url(#bb)"/>
</svg>
<rect x="553.10" y="746.20" width="155.80" height="13.70" fill="#c2c2c2" stroke="#444" stroke-width="0.7"/>
<svg x="553.10" y="746.20" width="155.80" height="13.70" viewBox="553.10 746.20 155.80 13.70">
<ellipse cx="570.3" cy="753.32" rx="8.5" ry="1.40" fill="#0a0a0a" fill-opacity="0.6" filter="url(#bb)"/>
<ellipse cx="593.2" cy="753.32" rx="10.0" ry="1.60" fill="#0a0a0a" fill-opacity="0.75" filter="url(#bb)"/>
<ellipse cx="616.2" cy="753.32" rx="7.0" ry="1.20" fill="#0a0a0a" fill-opacity="0.25" filter="url(#bb)"/>
<ellipse cx="640.3" cy="753.32" rx="9.5" ry="1.60" fill="#0a0a0a" fill-opacity="0.85" filter="url(#bb)"/>
<ellipse cx="662.9" cy="753.32" rx="8.0" ry="1.40" fill="#0a0a0a" fill-opacity="0.6" filter="url(#bb)"/>
<ellipse cx="685.9" cy="753.32" rx="11.0" ry="2.00" fill="#0a0a0a" fill-opacity="1" filter="url(#bb)"/>
</svg>
<rect x="553.10" y="762.00" width="155.80" height="14.40" fill="#8c8c8c" stroke="#444" stroke-width="0.7"/>
<svg x="553.10" y="762.00" width="155.80" height="14.40" viewBox="553.10 762.00 155.80 14.40">
<ellipse cx="570.3" cy="769.20" rx="9.0" ry="2.50" fill="#0a0a0a" fill-opacity="0.22" filter="url(#bb)"/>
<ellipse cx="593.2" cy="769.20" rx="8.0" ry="2.00" fill="#0a0a0a" fill-opacity="0.12" filter="url(#bb)"/>
<ellipse cx="616.2" cy="769.20" rx="8.0" ry="2.00" fill="#0a0a0a" fill-opacity="0.18" filter="url(#bb)"/>
<ellipse cx="640.3" cy="769.20" rx="9.0" ry="3.00" fill="#0a0a0a" fill-opacity="0.4" filter="url(#bb)"/>
<ellipse cx="662.9" cy="769.20" rx="7.0" ry="2.00" fill="#0a0a0a" fill-opacity="0.1" filter="url(#bb)"/>
<ellipse cx="685.9" cy="769.20" rx="9.0" ry="2.50" fill="#0a0a0a" fill-opacity="0.35" filter="url(#bb)"/>
</svg>
<rect x="553.10" y="778.00" width="155.80" height="14.50" fill="#bababa" stroke="#444" stroke-width="0.7"/>
<svg x="553.10" y="778.00" width="155.80" height="14.50" viewBox="553.10 778.00 155.80 14.50">
<ellipse cx="570.3" cy="785.25" rx="9.0" ry="1.40" fill="#0a0a0a" fill-opacity="0.65" filter="url(#bb)"/>
<ellipse cx="593.2" cy="785.25" rx="9.0" ry="1.40" fill="#0a0a0a" fill-opacity="0.65" filter="url(#bb)"/>
<ellipse cx="616.2" cy="785.25" rx="9.0" ry="1.40" fill="#0a0a0a" fill-opacity="0.65" filter="url(#bb)"/>
<ellipse cx="640.3" cy="785.25" rx="10.0" ry="1.70" fill="#0a0a0a" fill-opacity="0.9" filter="url(#bb)"/>
<ellipse cx="662.9" cy="785.25" rx="9.0" ry="1.50" fill="#0a0a0a" fill-opacity="0.75" filter="url(#bb)"/>
<ellipse cx="685.9" cy="785.25" rx="10.5" ry="1.80" fill="#0a0a0a" fill-opacity="0.9" filter="url(#bb)"/>
</svg>
<rect x="553.10" y="794.20" width="155.80" height="13.80" fill="#b4b4b4" stroke="#444" stroke-width="0.7"/>
<svg x="553.10" y="794.20" width="155.80" height="13.80" viewBox="553.10 794.20 155.80 13.80">
<ellipse cx="570.3" cy="801.10" rx="9.0" ry="1.50" fill="#0a0a0a" fill-opacity="0.75" filter="url(#bb)"/>
<ellipse cx="593.2" cy="801.10" rx="8.0" ry="1.30" fill="#0a0a0a" fill-opacity="0.45" filter="url(#bb)"/>
<ellipse cx="616.2" cy="801.10" rx="8.5" ry="1.40" fill="#0a0a0a" fill-opacity="0.6" filter="url(#bb)"/>
<ellipse cx="640.3" cy="801.10" rx="10.0" ry="1.70" fill="#0a0a0a" fill-opacity="0.9" filter="url(#bb)"/>
<ellipse cx="662.9" cy="801.10" rx="9.5" ry="1.60" fill="#0a0a0a" fill-opacity="0.85" filter="url(#bb)"/>
<ellipse cx="685.9" cy="801.10" rx="11.0" ry="1.90" fill="#0a0a0a" fill-opacity="1" filter="url(#bb)"/>
</svg>
<rect x="553.10" y="810.00" width="155.80" height="12.70" fill="#aaaaaa" stroke="#444" stroke-width="0.7"/>
<svg x="553.10" y="810.00" width="155.80" height="12.70" viewBox="553.10 810.00 155.80 12.70">
<ellipse cx="570.3" cy="816.99" rx="10.5" ry="2.30" fill="#0a0a0a" fill-opacity="1" filter="url(#bb)"/>
<ellipse cx="593.2" cy="816.99" rx="11.5" ry="3.00" fill="#0a0a0a" fill-opacity="1" filter="url(#bb)"/>
<ellipse cx="616.2" cy="816.99" rx="10.5" ry="2.50" fill="#0a0a0a" fill-opacity="1" filter="url(#bb)"/>
<ellipse cx="640.3" cy="816.99" rx="11.0" ry="2.30" fill="#0a0a0a" fill-opacity="1" filter="url(#bb)"/>
<ellipse cx="662.9" cy="816.99" rx="10.5" ry="2.30" fill="#0a0a0a" fill-opacity="1" filter="url(#bb)"/>
<ellipse cx="685.9" cy="816.99" rx="11.0" ry="2.50" fill="#0a0a0a" fill-opacity="1" filter="url(#bb)"/>
</svg>
<text class="r" x="594.60" y="693.30" font-size="8.5" text-anchor="middle" fill="#000">AAV-SYN-VIM</text>
<text class="r" x="664.40" y="693.30" font-size="8.5" text-anchor="middle" fill="#000">AAV-SYN</text>
<path d="M565.1 696.5H624.1M634.4 696.5H694.5" stroke="#333" stroke-width="0.8"/>
<text class="r" x="535.80" y="708.40" font-size="8.4" text-anchor="end" fill="#000">NBP</text>
<text class="r" x="543.70" y="725.90" font-size="8.4" text-anchor="end" fill="#000">MCAO/R</text>
<text class="r" x="570.30" y="706.60" font-size="8" text-anchor="middle" fill="#333">-</text>
<text class="r" x="593.20" y="706.60" font-size="8" text-anchor="middle" fill="#333">-</text>
<text class="r" x="616.20" y="706.60" font-size="8" text-anchor="middle" fill="#333">+</text>
<text class="r" x="640.30" y="706.60" font-size="8" text-anchor="middle" fill="#333">-</text>
<text class="r" x="662.90" y="706.60" font-size="8" text-anchor="middle" fill="#333">-</text>
<text class="r" x="685.90" y="706.60" font-size="8" text-anchor="middle" fill="#333">+</text>
<text class="r" x="570.30" y="723.20" font-size="8" text-anchor="middle" fill="#333">-</text>
<text class="r" x="593.20" y="723.20" font-size="8" text-anchor="middle" fill="#333">+</text>
<text class="r" x="616.20" y="723.20" font-size="8" text-anchor="middle" fill="#333">+</text>
<text class="r" x="640.30" y="723.20" font-size="8" text-anchor="middle" fill="#333">-</text>
<text class="r" x="662.90" y="723.20" font-size="8" text-anchor="middle" fill="#333">+</text>
<text class="r" x="685.90" y="723.20" font-size="8" text-anchor="middle" fill="#333">+</text>
<text class="r" x="544.60" y="740.30" font-size="8.6" text-anchor="end" fill="#000">Notch1</text>
<text class="r" x="544.60" y="755.10" font-size="8.6" text-anchor="end" fill="#000">Jagged1</text>
<text class="r" x="544.60" y="772.30" font-size="8.6" text-anchor="end" fill="#000">HES1</text>
<text class="r" x="544.60" y="788.40" font-size="8.6" text-anchor="end" fill="#000">HEY1</text>
<text class="r" x="544.60" y="803.80" font-size="8.6" text-anchor="end" fill="#000">HES5</text>
<text class="r" x="546.00" y="819.30" font-size="8.6" text-anchor="end" fill="#000">β-Actin</text>
<text class="r" x="715.10" y="740.30" font-size="8.6" fill="#000">120 kDa</text>
<text class="r" x="715.10" y="755.10" font-size="8.6" fill="#000">150 kDa</text>
<text class="r" x="717.20" y="772.30" font-size="8.6" fill="#000">30 kDa</text>
<text class="r" x="717.20" y="788.40" font-size="8.6" fill="#000">33 kDa</text>
<text class="r" x="717.20" y="803.80" font-size="8.6" fill="#000">18 kDa</text>
<text class="r" x="717.20" y="819.30" font-size="8.6" fill="#000">45 kDa</text>
<svg x="406.20" y="372.00" width="54.10" height="50.60" viewBox="0 0 100 100" preserveAspectRatio="none"><rect width="100" height="100" fill="#2a0e05"/><ellipse cx="46" cy="54" rx="45" ry="54" fill="#4c1508" filter="url(#b2)"/><g filter="url(#b05)"><path d="M15 47h.1M71 71h.1M68 44h.1M74 54h.1M9 47h.1M6 93h.1M87 35h.1M30 77h.1M20 19h.1M19 36h.1M58 96h.1M21 96h.1M52 90h.1M76 18h.1M60 14h.1M3 41h.1M72 57h.1M19 84h.1M84 25h.1M42 65h.1M83 14h.1M52 97h.1M57 72h.1M72 52h.1M28 60h.1M50 36h.1M79 38h.1M46 77h.1M75 89h.1M61 27h.1M78 91h.1M66 77h.1M48 50h.1M54 16h.1M63 86h.1M17 76h.1M66 14h.1M7 60h.1M22 32h.1M58 66h.1M69 58h.1M32 3h.1M12 21h.1M49 73h.1M21 40h.1M86 41h.1M66 63h.1M61 49h.1M51 71h.1M17 80h.1M81 7h.1M20 26h.1M10 16h.1M60 14h.1M8 95h.1M38 55h.1M45 36h.1M43 21h.1M54 27h.1M15 22h.1M39 93h.1M56 98h.1M38 28h.1M66 21h.1M92 40h.1M26 29h.1M29 94h.1M91 57h.1M23 3h.1M9 31h.1M60 63h.1M79 82h.1M34 68h.1M42 73h.1M19 98h.1M4 63h.1M34 80h.1M15 89h.1M2 74h.1M65 52h.1M18 39h.1M42 23h.1M16 85h.1M51 29h.1M58 64h.1M14 59h.1M55 13h.1M29 87h.1M54 24h.1M37 47h.1M66 86h.1M10 7h.1M42 4h.1M16 12h.1M10 63h.1M11 58h.1M89 16h.1M70 59h.1M17 95h.1M68 39h.1M82 12h.1M77 85h.1M12 92h.1M73 92h.1M27 74h.1M72 36h.1M5 3h.1M48 56h.1M13 64h.1M7 49h.1M48 22h.1M6 90h.1M79 60h.1M5 53h.1M89 77h.1M64 6h.1M54 25h.1M91 3h.1M22 88h.1M13 31h.1M30 88h.1M65 94h.1M19 11h.1M33 77h.1M58 94h.1M66 10h.1M30 22h.1M26 67h.1M42 76h.1M3 91h.1M17 75h.1M78 6h.1M51 98h.1M3 51h.1M40 39h.1M19 20h.1M26 23h.1M28 90h.1M87 27h.1M4 28h.1M79 19h.1M62 11h.1M34 19h.1M57 38h.1M72 53h.1M38 4h.1M77 6h.1M47 99h.1M73 37h.1M86 27h.1M54 58h.1M67 30h.1M38 34h.1M85 74h.1M33 78h.1M58 26h.1M47 12h.1M21 10h.1M9 62h.1M77 84h.1M22 95h.1M32 70h.1M56 49h.1M64 89h.1M65 52h.1M80 75h.1M36 98h.1M38 6h.1M89 94h.1M50 76h.1M65 12h.1M74 64h.1M89 49h.1M27 77h.1M52 88h.1M6 69h.1M84 20h.1M10 50h.1M61 64h.1M50 35h.1M66 99h.1M48 41h.1M89 19h.1M53 84h.1M73 75h.1M63 46h.1M89 2h.1M40 46h.1M67 30h.1M20 46h.1M59 54h.1M81 48h.1M20 65h.1M37 4h.1M38 13h.1M60 91h.1M68 96h.1M15 84h.1M71 26h.1M45 19h.1M30 53h.1M37 40h.1M66 68h.1M12 58h.1M72 5h.1M69 4h.1M41 39h.1M4 9h.1M62 28h.1M49 18h.1M57 94h.1M70 38h.1M88 36h.1M27 43h.1M91 40h.1M28 55h.1M59 76h.1M66 68h.1M39 45h.1M90 50h.1M70 37h.1M3 40h.1M49 41h.1M21 18h.1M6 71h.1M49 82h.1M80 76h.1M73 90h.1M84 82h.1M83 36h.1M92 90h.1M75 85h.1M69 58h.1M49 93h.1M28 65h.1M86 28h.1M16 32h.1M42 52h.1M23 26h.1M15 48h.1" stroke="#74190a" stroke-width="3.2" stroke-linecap="round" fill="none" stroke-opacity="0.8"/><path d="M16 36L17 41L18 46L20 50L18 55L18 60L15 63M30 56L26 53L21 51L18 47L16 42L15 37L13 32M28 41L30 36L34 34L39 34L42 38L47 41L52 42M90 43L88 38L83 36L78 37L74 38L70 42L70 47M65 55L60 55L56 57L51 60L48 63L44 66L40 69M54 55L49 57L44 56L41 52L36 52L32 49L27 46M68 4L72 5L77 7L82 5L87 6L91 4L96 5M72 71L74 67L76 62L75 58L75 53L73 48L68 47M69 8L70 3L71 -2L73 -7L76 -10L81 -12L86 -14M8 97L8 92L8 87L7 82L3 78L-2 79L-7 80M53 12L56 16L61 16L65 19L70 19L73 23L76 26M31 9L26 9L21 10L17 7L15 3L15 -2L16 -7M57 73L58 69L61 65L66 65L71 66L76 66L79 62M34 5L32 1L33 -4L36 -8L39 -12L43 -15L47 -16M52 8L56 5L59 1L64 -0L67 -4L66 -9L67 -14M66 53L62 49L62 44L62 39L65 35L68 31L68 26M73 7L75 11L78 15L77 20L79 25L80 30L84 33M76 37L78 32L78 27L76 23L77 18L74 14L74 9M18 43L13 46L8 47L3 47L-1 46L-6 48L-10 51M20 95L18 90L14 88L11 83L8 79L5 76L-0 76M56 87L51 87L47 84L43 82L38 82L34 78L29 78M7 66L3 63L-1 59L-5 58L-9 55L-14 52L-17 49M21 8L26 8L30 6L32 1L35 -2L40 -4L45 -6M77 80L82 79L87 80L90 76L95 74L97 70L101 67M75 60L70 61L65 63L60 63L57 60L52 60L47 61M73 19L69 21L64 22L60 25L56 29L54 33L52 38M89 26L85 28L80 30L75 31L71 28L66 30L63 33M16 19L21 19L25 22L26 27L25 32L24 36L21 41M86 29L83 26L78 23L74 20L71 16L66 15L61 14M18 37L18 32L16 27L14 22L11 19L10 14L8 10M30 33L25 35L21 37L17 40L16 45L18 50L17 55M76 73L72 70L67 70L63 73L58 73L53 72L49 71M48 71L48 66L47 61L50 56L53 53L58 51L63 53M15 45L14 40L13 35L13 30L16 26L17 21L16 16M30 16L27 13L27 8L28 3L26 -2L22 -4L18 -8M16 15L12 13L7 13L2 15L0 20L-4 22L-9 22M49 9L54 9L59 10L63 12L67 15L72 18L75 22M12 28L7 27L2 25L-2 23L-7 24L-10 28L-10 33M61 64L66 62L69 58L74 57L79 58L84 57L89 55M54 78L58 81L60 86L61 91L63 95L67 98L71 101M7 62L6 57L8 53L12 50L13 45L16 41L21 39M55 24L51 21L48 17L49 12L52 8L56 5L61 4M45 15L40 17L35 19L34 24L33 29L29 32L24 32M69 71L67 66L66 61L69 57L72 54L75 50L80 47M80 43L82 47L82 52L85 57L89 59L90 64L94 66M13 79L13 74L17 71L19 66L22 63L24 58L27 54M9 76L9 81L9 86L8 90L8 95L11 99L16 101M26 98L30 101L35 102L39 101L44 102L49 103L53 101M28 31L25 27L22 23L17 23L12 24L7 25L4 28M52 16L52 21L52 26L56 29L59 33L62 37L60 42M30 13L26 14L22 17L17 16L12 17L7 17L3 21M54 76L49 78L44 79L40 76L35 75L31 72L28 69M89 28L88 23L90 19L89 14L87 10L82 8L77 7M80 22L76 19L71 19L66 18L65 13L63 8L59 5M30 57L35 58L40 58L43 54L48 52L52 50L56 47M74 32L77 27L81 25L84 21L87 17L92 16L96 13M12 7L8 4L7 -1L9 -6L11 -10L13 -14L18 -17M63 7L62 12L63 17L59 21L60 26L57 30L52 31M37 37L32 37L29 33L27 28L25 24L22 20L19 16M56 72L58 67L55 63L53 59L50 55L49 50L46 46M31 29L27 31L22 29L20 24L17 21L14 17L9 17M58 45L53 46L50 43L47 38L47 33L48 28L52 25M53 93L54 98L55 103L57 107L58 112L62 115L63 120M72 17L75 12L79 10L80 5L84 1L88 -1L92 -3M37 50L37 55L36 60L35 65L34 70L35 75L34 80M86 97L82 100L77 98L74 94L73 89L73 84L76 80" stroke="#a8240c" stroke-width="1.1" fill="none" stroke-opacity="0.85"/><path d="M31 35L31 40L30 45L33 49L36 53L40 56M39 16L39 11L35 8L34 3L29 1L24 1M90 18L86 15L82 12L78 8L77 4L72 2M31 19L36 22L40 22L45 23L50 26L53 29M68 76L73 74L76 71L78 66L75 61L71 58M41 44L44 48L45 53L47 57L46 62L44 66M85 49L87 44L91 41L94 37L97 33L102 32M26 43L29 46L29 51L32 55L36 58L39 62M78 97L77 92L80 88L80 83L81 78L80 73M84 8L79 7L76 3L72 1L68 -3L63 -3M25 38L24 33L23 28L19 25L14 23L9 25M77 43L72 43L68 41L63 39L58 38L54 36M7 71L8 76L12 79L13 84L14 89L19 91M89 78L88 74L85 70L83 65L82 60L83 55M64 66L69 67L74 68L79 66L84 64L88 63M42 92L38 89L38 84L41 79L40 74L39 69M35 73L39 72L44 72L49 74L53 77L58 77M61 88L64 84L66 80L71 78L76 80L79 84M43 12L38 12L34 15L31 18L29 23L24 26M31 56L27 59L25 64L21 67L17 70L13 72M85 11L89 15L93 16L97 19L102 21L107 22M15 51L12 55L10 60L11 64L12 69L16 73M5 46L3 42L3 37L-1 33L-5 31L-10 29M77 64L77 69L74 74L70 77L66 79L61 80M89 87L85 85L82 81L79 77L75 74L70 74M75 12L70 14L65 12L61 13L56 13L51 15M66 48L64 43L67 39L69 34L66 30L62 27M5 8L10 7L15 6L19 3L22 -1L26 -3M52 37L54 33L59 32L64 30L69 30L73 32M31 21L27 19L22 22L18 20L13 18L8 16M46 21L50 25L51 30L49 34L52 39L55 42M70 52L73 48L78 46L83 47L88 47L92 45M8 14L7 9L4 5L-0 2L-5 3L-9 6M26 3L27 -2L26 -7L29 -11L34 -12L38 -10" stroke="#d04c10" stroke-width="0.8" fill="none" stroke-opacity="0.85"/><path d="M58 31L58 25L62 21L68 21L73 19L79 20M12 30L6 31L0 29L-5 26L-8 21L-11 16M28 16L28 10L26 4L22 -0L22 -6L19 -11M5 35L8 40L13 42L17 47L21 52L22 58M59 8L60 3L64 -2L67 -8L67 -13L64 -18M12 15L8 11L2 11L-3 7L-8 4L-11 -1M32 18L29 23L24 26L23 32L22 38L20 44M48 56L42 56L37 59L36 65L40 70L46 73M44 20L40 14L38 9L37 3L42 -1L43 -7M85 31L81 27L81 21L84 17L85 11L81 6M50 40L51 34L54 29L60 26L66 25L69 19M46 72L46 66L46 60L50 56L55 54L61 56M79 10L81 5L85 -0L91 -1L95 -5L101 -7M52 81L50 75L46 72L44 66L39 63L37 57M5 53L2 47L-1 42L-4 37L-8 33L-12 28M20 9L19 15L15 19L13 25L16 30L20 35" stroke="#c8b028" stroke-width="0.9" fill="none" stroke-opacity="0.8"/></g><ellipse cx="46" cy="80" rx="10" ry="18" fill="#b0a820" fill-opacity="0.44000000000000006" filter="url(#b6)"/><path d="M47 55 L46 75 L47 100" stroke="#a8b030" stroke-width="1.8" fill="none" filter="url(#b1)" stroke-opacity="0.8"/><path d="M0 0H20L5 10L0 34ZM93 0H70L86 8L93 26Z" fill="#070302"/><rect x="93.2" y="0" width="6.8" height="100" fill="url(#cb1)"/><circle cx="6" cy="7" r="2.2" fill="none" stroke="#4a8080" stroke-width="1"/></svg>
<svg x="461.20" y="372.00" width="54.10" height="50.60" viewBox="0 0 100 100" preserveAspectRatio="none"><rect width="100" height="100" fill="#040c40"/><ellipse cx="46" cy="54" rx="45" ry="56" fill="#081a82" filter="url(#b2)"/><g filter="url(#b05)"><path d="M54 21h.1M89 93h.1M44 67h.1M21 24h.1M28 70h.1M21 97h.1M8 21h.1M10 77h.1M35 48h.1M31 64h.1M38 22h.1M41 32h.1M12 83h.1M63 67h.1M81 41h.1M36 43h.1M38 68h.1M3 47h.1M50 36h.1M4 71h.1M3 57h.1M16 5h.1M18 8h.1M16 69h.1M68 38h.1M61 49h.1M47 88h.1M30 87h.1M64 69h.1M3 10h.1M5 36h.1M87 88h.1M77 14h.1M66 78h.1M75 80h.1M15 20h.1M73 74h.1M82 46h.1M82 16h.1M88 89h.1M32 9h.1M51 70h.1M34 8h.1M27 83h.1M10 94h.1M25 22h.1M12 98h.1M83 33h.1M11 66h.1M82 3h.1M59 86h.1M43 58h.1M74 25h.1M27 67h.1M52 54h.1M32 94h.1M28 69h.1M82 41h.1M7 24h.1M8 17h.1M13 36h.1M35 46h.1M62 68h.1M64 38h.1M62 56h.1M13 55h.1M31 68h.1M68 26h.1M41 47h.1M29 6h.1M6 99h.1M69 45h.1M62 28h.1M66 95h.1M72 48h.1M91 92h.1M7 42h.1M43 29h.1M57 16h.1M69 86h.1M8 70h.1M26 65h.1M64 98h.1M74 35h.1M68 16h.1M66 43h.1M26 25h.1M22 80h.1M11 25h.1M19 17h.1M68 60h.1M62 90h.1M42 6h.1M19 53h.1M66 92h.1M48 24h.1M55 94h.1M32 93h.1M83 59h.1M45 15h.1M12 6h.1M57 72h.1M91 61h.1M91 41h.1M14 8h.1M28 54h.1M91 31h.1M23 73h.1M37 57h.1M16 86h.1M85 76h.1M86 35h.1M5 32h.1M83 48h.1M20 17h.1M17 45h.1M85 89h.1M70 76h.1M19 78h.1M22 54h.1M5 89h.1M14 60h.1M62 65h.1M63 38h.1M73 94h.1M58 98h.1M78 7h.1M62 11h.1M62 38h.1M79 6h.1M87 6h.1M7 2h.1M13 99h.1M77 92h.1M19 69h.1M74 73h.1M26 97h.1M68 69h.1M28 41h.1M70 53h.1M46 92h.1M40 86h.1M6 54h.1M66 3h.1M65 30h.1M58 63h.1M14 94h.1M24 15h.1M42 8h.1M11 77h.1M11 55h.1M82 46h.1M75 83h.1M17 9h.1M73 87h.1M79 72h.1M48 96h.1M69 77h.1M84 7h.1M69 59h.1M3 27h.1M66 54h.1M53 30h.1M53 88h.1M90 56h.1M68 11h.1M15 57h.1M76 14h.1M15 51h.1M29 16h.1M16 44h.1M73 19h.1M75 9h.1M25 68h.1M3 34h.1M16 25h.1M82 18h.1M67 91h.1M24 87h.1M31 78h.1M54 36h.1M82 70h.1M31 58h.1M28 30h.1M86 98h.1M16 92h.1M66 3h.1M12 45h.1M82 88h.1M25 46h.1M85 23h.1M11 43h.1M63 88h.1M81 3h.1M18 15h.1M56 42h.1M85 62h.1M57 69h.1M20 90h.1M80 83h.1" stroke="#0e28a4" stroke-width="3" stroke-linecap="round" fill="none" stroke-opacity="0.8"/><path d="M71 19L77 19L83 22L89 22L94 25L95 31L95 37M46 16L44 11L43 5L44 -1L47 -6L47 -12L51 -17M32 42L26 42L22 47L17 50L12 54L6 54L0 56M53 95L57 100L61 104L66 107L72 107L78 105L84 106M21 94L16 96L10 95L4 93L1 87L-4 85L-8 81M6 20L3 24L1 30L-2 35L-6 39L-10 44L-14 48M71 24L75 19L78 14L83 11L86 6L88 -0L86 -6M88 86L93 89L99 89L102 84L103 78L106 73L110 68M29 58L35 59L40 56L46 57L52 56L58 58L64 58M40 57L39 63L35 68L36 74L40 79L46 79L52 79M13 52L16 57L21 61L24 66L23 72L18 76L14 80M80 85L75 86L70 82L64 82L59 79L55 75L51 69M65 29L70 25L72 19L78 17L84 18L88 13L88 7M19 66L22 61L28 59L32 55L33 49L30 44L26 39M40 39L44 34L50 32L55 33L60 37L64 42L69 45M50 46L51 40L53 35L53 29L54 23L54 17L51 12M13 45L19 45L23 41L29 41L35 43L40 46L46 44M31 34L26 38L21 41L16 44L10 44L4 45L-2 45M14 81L20 80L25 82L31 81L36 78L38 72L42 67M78 92L76 86L77 81L74 75L69 73L65 68L67 62M66 61L60 62L54 64L52 69L47 73L46 79L43 84M60 13L56 17L50 18L44 17L38 17L34 21L30 26M42 60L47 57L48 51L51 46L53 40L58 36L63 33M51 80L50 86L52 92L55 97L57 103L58 109L63 112M43 29L43 35L44 41L48 46L50 51L47 57L41 59M20 24L14 27L8 27L2 27L-4 26L-7 21L-6 15M73 26L69 22L70 16L72 10L78 8L83 5L89 5M26 91L31 92L37 91L43 92L49 93L53 97L56 103M71 92L77 91L82 87L83 81L85 75L89 71L90 65M47 26L52 24L57 20L62 17L68 20L73 18L79 16M44 62L43 68L44 74L45 80L46 86L47 92L44 97M57 35L61 30L67 30L73 31L79 30L83 34L85 40M48 80L54 81L60 82L63 86L68 90L67 96L66 102M66 77L66 83L65 89L67 94L73 97L76 102L79 107M84 85L78 84L73 80L73 74L70 69L68 63L63 60M8 8L3 11L-3 11L-8 8L-10 2L-13 -3L-13 -9M32 38L29 32L27 27L21 25L15 25L9 24L4 21M17 29L20 35L24 39L29 42L34 46L37 51L39 56M67 41L70 35L67 30L62 27L57 24L51 23L45 26M5 78L10 81L10 87L14 92L16 97L14 103L13 109M83 5L80 0L76 -4L76 -10L80 -14L86 -15L92 -16M63 86L57 86L52 89L47 91L44 97L45 103L40 107M47 97L52 94L57 90L60 85L58 79L53 75L49 71M56 16L51 19L45 18L39 19L34 17L29 13L29 7M28 28L23 31L17 33L12 30L7 27L1 27L-3 31M58 45L64 44L70 46L75 49L80 51L83 56L81 62M6 24L1 21L-5 22L-11 20L-13 14L-16 9L-13 3M54 62L49 59L47 53L46 47L44 41L46 36L51 32M61 17L66 21L71 19L77 16L81 12L82 6L79 1M59 88L58 93L57 99L62 103L62 109L66 114L70 118" stroke="#2454d0" stroke-width="1.0" fill="none" stroke-opacity="0.85"/><path d="M5 29L3 35L0 40L-6 42L-12 42L-17 43L-23 40M43 69L37 69L32 72L30 78L26 82L21 85L16 88M8 61L13 63L16 69L16 75L13 80L14 86L12 91M7 96L9 91L15 88L20 89L26 92L27 98L32 101M11 70L13 75L15 81L15 87L19 92L22 96L23 102M67 19L64 24L59 27L54 30L52 36L49 40L43 43M60 95L59 90L55 85L50 81L49 75L54 71L54 65M58 68L52 65L46 64L43 59L37 57L32 59L26 59M5 39L1 35L-5 34L-10 31L-15 26L-16 21L-17 15M84 45L89 41L94 40L99 36L105 33L111 33L115 29M71 10L68 4L64 1L58 -2L52 -1L46 -2L40 -1M75 38L74 33L73 27L74 21L72 15L74 9L77 4M52 66L54 71L53 77L50 82L47 87L41 88L36 85M65 14L61 18L57 22L54 28L52 33L47 36L45 42M12 53L17 52L22 49L28 48L33 44L38 41L44 41M62 40L60 45L55 49L49 51L45 55L43 61L38 64M75 82L71 86L66 88L60 85L56 81L50 81L46 85M28 79L30 84L32 90L37 94L42 97L46 101L50 106M51 51L56 54L61 57L67 57L73 58L78 56L80 50" stroke="#8ab8f4" stroke-width="0.8" fill="none" stroke-opacity="0.9"/><path d="M12 44L16 39L21 37L27 35L33 35M49 72L47 78L43 82L37 84L31 82M62 78L58 74L55 69L52 64L46 63M79 87L77 93L79 98L76 104L78 109M41 4L46 1L52 1L58 2L64 5M82 10L85 16L89 20L94 22L100 24" stroke="#e0b050" stroke-width="1.2" fill="none" stroke-opacity="0.9"/></g><path d="M47 30 L46 60 L47 100" stroke="#5a98f0" stroke-width="1.2" fill="none" filter="url(#b05)" stroke-opacity="0.7"/><path d="M46 88L47 100" stroke="#f08030" stroke-width="2.2"/><path d="M0 0H18L4 8L0 28ZM93 0H72L87 8L93 24Z" fill="#02030c"/><rect x="93.2" y="0" width="6.8" height="100" fill="url(#cb2)"/><circle cx="6" cy="7" r="2.2" fill="none" stroke="#4a8080" stroke-width="1"/></svg>
<svg x="516.20" y="372.00" width="53.80" height="50.60" viewBox="0 0 100 100" preserveAspectRatio="none"><rect width="100" height="100" fill="#020209"/><g filter="url(#b05)"><path d="M17 61L17 67L17 73L18 79L17 85L16 91M8 53L3 49L3 43L5 37L5 31L3 25M15 80L14 74L12 68L11 62L6 58L2 54M17 62L14 56L9 52L3 53L-2 55L-8 55M48 74L43 77L37 77L32 79L28 84L25 89M58 44L52 42L47 39L46 33L47 27L50 22M44 93L38 94L33 90L30 86L25 82L22 77M56 90L52 85L52 79L53 74L53 68L57 63M85 19L88 24L87 30L87 36L89 41L90 47M85 22L79 23L74 26L69 30L68 35L66 41M24 10L22 16L25 21L30 24L36 26L42 26M67 42L70 47L75 50L78 55L83 58L89 61M73 82L68 79L63 76L57 75L52 78L50 84M72 39L78 38L83 42L88 45L94 42L98 38M23 64L25 59L30 55L36 55L42 57L47 59M76 28L79 23L85 21L88 16L87 10L91 6M16 45L11 42L10 36L13 31L14 25L12 20M83 46L86 50L92 50L98 52L104 50L110 50M83 48L86 43L91 40L97 39L102 43L108 42M48 55L43 52L37 51L33 47L33 41L35 35" stroke="#0c2494" stroke-width="1.4" fill="none" stroke-opacity="0.75"/><path d="M86 55L90 59L95 60L99 62L102 66M22 17L27 16L31 19L35 20L39 24M16 35L11 37L6 35L1 35L-4 35M22 12L19 9L15 5L14 -0L9 -2M9 68L12 64L15 60L19 59L24 62" stroke="#2a66d8" stroke-width="1.4" fill="none" stroke-opacity="0.9"/></g><path d="M47 40 L46 100" stroke="#1438b8" stroke-width="1.2" fill="none" stroke-opacity="0.65"/><rect x="93.2" y="0" width="6.8" height="100" fill="url(#cb2)"/><circle cx="6" cy="7" r="2.2" fill="none" stroke="#4a8080" stroke-width="1"/></svg>
<svg x="571.30" y="372.00" width="52.90" height="50.60" viewBox="0 0 100 100" preserveAspectRatio="none"><rect width="100" height="100" fill="#2a0e05"/><ellipse cx="46" cy="54" rx="45" ry="54" fill="#4c1508" filter="url(#b2)"/><g filter="url(#b05)"><path d="M90 47h.1M67 74h.1M21 10h.1M56 14h.1M36 89h.1M80 14h.1M9 24h.1M77 4h.1M22 13h.1M13 53h.1M19 42h.1M68 73h.1M39 79h.1M54 83h.1M24 38h.1M54 95h.1M58 49h.1M25 30h.1M21 99h.1M82 90h.1M50 71h.1M29 49h.1M15 43h.1M25 12h.1M85 11h.1M75 71h.1M10 50h.1M92 99h.1M53 78h.1M66 31h.1M51 61h.1M37 82h.1M42 75h.1M8 46h.1M6 65h.1M81 55h.1M53 63h.1M23 40h.1M54 65h.1M36 49h.1M32 56h.1M63 34h.1M64 85h.1M50 98h.1M30 92h.1M18 38h.1M76 5h.1M57 87h.1M87 69h.1M33 35h.1M59 9h.1M5 88h.1M58 18h.1M41 30h.1M80 30h.1M67 75h.1M31 27h.1M49 41h.1M55 34h.1M74 43h.1M14 78h.1M83 69h.1M51 87h.1M86 3h.1M46 4h.1M32 26h.1M44 68h.1M79 28h.1M3 100h.1M72 56h.1M12 7h.1M86 54h.1M79 79h.1M70 81h.1M25 26h.1M41 77h.1M73 76h.1M54 49h.1M19 67h.1M61 52h.1M67 98h.1M87 13h.1M28 62h.1M64 30h.1M86 47h.1M71 7h.1M27 4h.1M73 53h.1M88 61h.1M31 37h.1M36 21h.1M12 66h.1M30 46h.1M66 29h.1M42 34h.1M31 67h.1M11 41h.1M12 68h.1M29 97h.1M45 67h.1M49 82h.1M65 65h.1M5 16h.1M70 42h.1M90 64h.1M76 75h.1M89 66h.1M86 44h.1M26 13h.1M25 90h.1M61 6h.1M5 47h.1M51 37h.1M4 28h.1M81 73h.1M76 28h.1M62 21h.1M29 96h.1M21 31h.1M22 87h.1M64 60h.1M79 47h.1M84 78h.1M29 25h.1M50 46h.1M73 66h.1M69 61h.1M26 75h.1M90 64h.1M66 25h.1M13 46h.1M55 73h.1M45 55h.1M10 7h.1M13 33h.1M24 16h.1M32 35h.1M76 94h.1M91 74h.1M3 25h.1M92 70h.1M79 22h.1M24 12h.1M49 38h.1M44 16h.1M4 40h.1M85 66h.1M53 8h.1M41 38h.1M59 41h.1M74 29h.1M68 2h.1M15 80h.1M79 32h.1M20 96h.1M55 11h.1M91 57h.1M29 52h.1M35 59h.1M39 39h.1M68 32h.1M77 75h.1M87 17h.1M79 72h.1M18 91h.1M47 19h.1M21 100h.1M74 25h.1M82 6h.1M65 64h.1M80 91h.1M68 85h.1M44 93h.1M41 73h.1M70 42h.1M76 72h.1M16 60h.1M46 60h.1M5 71h.1M38 74h.1M24 4h.1M44 65h.1M72 55h.1M81 18h.1M13 42h.1M61 77h.1M8 61h.1M33 54h.1M11 18h.1M59 35h.1M90 52h.1M33 20h.1M49 52h.1M25 97h.1M48 78h.1M64 84h.1M11 96h.1M56 18h.1M56 8h.1M40 12h.1M6 46h.1M78 76h.1M86 78h.1M58 61h.1M88 15h.1M49 55h.1M3 88h.1M63 35h.1M74 49h.1M67 56h.1M79 51h.1M10 77h.1M23 58h.1M86 73h.1M8 84h.1M89 48h.1M25 47h.1M50 7h.1M78 65h.1M38 82h.1M18 89h.1M79 49h.1M12 46h.1M12 56h.1M15 53h.1M39 34h.1M54 54h.1M81 46h.1M54 73h.1M17 55h.1M18 51h.1M48 91h.1M89 32h.1M79 38h.1M25 60h.1M29 95h.1M83 5h.1M91 89h.1M14 67h.1M52 18h.1" stroke="#74190a" stroke-width="3.2" stroke-linecap="round" fill="none" stroke-opacity="0.8"/><path d="M65 3L62 7L57 9L53 12L50 16L48 20L45 24M38 11L39 6L36 2L32 -1L31 -5L27 -8L23 -12M53 24L51 19L47 17L42 18L37 19L34 22L30 26M60 12L64 8L66 3L70 1L72 -4L77 -6L81 -7M69 38L69 43L67 48L70 52L74 54L79 53L82 49M69 95L64 96L59 98L55 96L51 93L48 89L45 85M83 61L80 66L82 71L86 73L91 73L96 72L101 72M75 26L80 27L84 31L85 35L85 40L86 45L90 49M37 24L37 29L34 32L31 36L32 41L35 45L39 48M11 67L8 71L6 75L6 80L2 84L-1 87L-6 88M62 74L62 69L61 64L61 59L57 56L52 54L49 51M77 4L77 -1L75 -5L77 -10L79 -15L79 -20L83 -23M10 70L11 65L12 60L12 55L9 51L8 46L7 41M6 69L8 64L10 59L13 55L17 52L22 51L26 48M23 83L26 86L29 91L28 96L25 99L20 99L17 103M85 29L90 31L95 30L96 26L95 21L95 16L91 13M69 2L73 6L78 6L81 3L85 -1L85 -6L82 -10M4 82L7 86L9 91L12 94L17 96L19 100L21 105M16 52L19 48L20 43L18 38L20 34L21 29L19 24M28 59L32 56L36 54L40 51L42 47L45 43L48 38M30 73L35 74L39 71L44 71L49 71L52 67L57 66M51 48L55 51L60 53L62 58L61 62L63 67L61 72M38 4L41 -1L45 -3L48 -7L51 -10L56 -10L59 -6M35 83L36 88L36 93L35 98L31 101L30 106L31 111M9 70L13 67L18 66L23 64L27 66L32 65L37 65M21 79L25 82L30 81L35 82L39 84L44 82L49 80M66 71L64 75L62 80L62 85L63 90L61 94L57 98M58 2L54 5L52 9L54 14L57 17L62 18L67 19M32 81L32 76L35 72L40 71L44 74L45 79L42 83M85 46L89 44L94 43L97 39L102 38L106 39L110 36M87 63L83 66L78 65L75 61L70 60L65 61L62 64M7 16L3 12L2 7L4 2L7 -1L12 -2L15 -6M88 44L89 40L92 36L96 33L98 29L101 24L99 19M79 73L79 78L81 83L85 86L89 89L91 93L95 97M41 85L37 82L32 82L29 78L26 73L22 71L17 69M36 60L41 59L44 55L46 51L45 46L41 42L39 38M61 52L58 48L53 47L48 49L43 48L38 47L33 47M78 29L83 30L88 28L93 28L98 29L103 28L106 25M15 40L14 35L16 31L16 26L18 21L19 16L21 11M60 49L62 54L67 56L71 58L75 61L80 60L85 61M11 16L14 12L17 8L20 4L24 1L26 -4L31 -5M60 50L55 51L51 50L46 49L41 51L39 55L34 57M89 79L86 75L84 71L79 69L74 69L69 70L66 74M50 91L49 86L48 81L50 77L53 73L54 68L56 63M18 79L15 83L11 85L8 90L5 94L6 99L8 104M34 96L32 91L27 89L22 90L17 92L12 92L9 88M46 17L50 20L53 24L52 29L55 33L60 34L65 32M47 78L46 83L49 88L52 92L56 95L59 99L62 102M59 17L55 15L51 11L46 10L41 11L38 15L34 18M80 54L75 53L72 49L69 45L64 46L59 48L55 51M21 36L24 32L23 27L19 24L14 23L9 21L5 19M31 55L33 60L38 61L42 61L47 63L51 66L55 70M28 17L30 12L31 7L33 3L36 -1L41 -3L44 -6M82 41L83 46L80 50L76 53L73 57L68 57L64 60M29 9L26 13L21 14L16 15L11 13L9 9L10 4M30 63L31 58L30 53L30 48L33 44L36 40L35 35M73 6L70 10L67 14L62 15L58 12L56 8L58 3M6 58L2 56L-2 53L-5 49L-10 49L-14 45L-15 40M45 55L48 59L48 64L51 67L55 71L60 72L62 76M68 84L64 81L59 80L54 79L50 77L47 72L43 69M5 47L8 51L13 53L16 57L19 61L23 64L28 65M54 50L54 45L57 41L58 36L59 31L63 28L68 26M16 51L12 54L9 58L5 61L1 64L-4 66L-9 66M34 27L37 31L38 36L41 40L44 43L49 43L53 47M62 93L58 95L54 98L50 101L48 106L43 108L39 111M20 34L23 30L28 28L33 29L37 26L40 22L44 19" stroke="#a8240c" stroke-width="1.1" fill="none" stroke-opacity="0.85"/><path d="M36 46L33 42L29 41L24 42L20 45L15 47M7 14L8 9L9 4L11 -0L13 -5L18 -7M16 79L17 74L21 71L25 68L27 63L28 58M22 45L17 46L12 45L7 46L2 45L-2 42M37 89L37 84L35 79L34 74L35 70L38 66M62 71L58 67L53 67L49 66L44 64L39 62M6 10L6 5L5 0L5 -5L1 -8L-2 -11M88 61L88 56L92 53L96 50L101 48L106 48M27 64L31 62L35 59L39 56L40 51L37 47M23 3L28 3L31 7L33 11L37 15L42 15M75 84L78 89L81 92L86 92L91 90L95 87M13 86L16 81L16 76L18 72L20 67L24 65M84 77L88 74L93 73L97 70L101 68L105 64M18 62L22 59L22 54L20 49L22 44L21 40M42 25L41 30L45 34L45 39L47 44L47 49M27 73L23 71L18 68L17 64L14 59L10 57M8 58L6 54L1 52L-3 49L-3 44L-4 39M37 6L42 4L43 -1L42 -6L38 -9L37 -14M76 88L80 91L85 92L89 95L94 95L99 94M59 46L63 48L68 48L73 47L77 44L78 39M19 26L18 31L20 36L22 40L24 45L22 50M83 32L81 36L82 41L85 45L86 50L90 52M16 86L16 81L16 76L17 71L20 67L23 63M88 81L85 85L81 88L78 92L75 96L70 95M67 44L62 44L58 42L53 41L49 38L45 35M88 80L92 82L96 85L101 87L105 89L109 92M72 43L74 48L79 49L84 50L87 46L92 46M57 36L54 40L54 45L57 49L62 49L67 48M43 68L39 67L34 68L30 71L26 74L21 75M33 20L34 15L33 10L34 6L38 3L43 1M60 37L59 42L56 46L53 50L48 51L43 51M39 24L39 29L35 32L35 37L37 41L37 46M13 60L16 56L16 51L18 46L17 42L16 37M77 48L79 52L80 57L84 59L86 64L89 68" stroke="#d04c10" stroke-width="0.8" fill="none" stroke-opacity="0.85"/><path d="M38 89L43 87L49 86L54 90L60 90L66 92M49 50L55 48L58 43L62 39L65 34L65 28M41 26L47 26L52 30L58 31L63 33L69 32M68 29L69 23L69 17L73 13L78 11L84 14M66 87L62 91L60 97L55 100L52 105L48 110M35 85L40 81L46 82L49 87L48 93L50 99M20 81L14 79L10 74L5 71L1 66L-2 61M47 10L47 4L47 -2L52 -6L53 -12L53 -18M85 50L87 55L85 61L84 67L79 70L75 74M25 96L31 95L35 90L41 89L45 84L51 84M11 29L12 23L10 17L5 13L4 7L3 2M66 30L70 25L71 19L74 13L79 11L85 9M62 10L62 4L59 -1L60 -7L57 -13L52 -14M18 6L21 1L24 -4L30 -6L32 -12L34 -18M28 46L30 52L34 56L40 56L45 60L51 61M46 50L41 53L38 58L32 59L26 60L20 62" stroke="#c8b028" stroke-width="0.9" fill="none" stroke-opacity="0.8"/></g><ellipse cx="14" cy="70" rx="12" ry="28" fill="#b0a820" fill-opacity="0.5599999999999999" filter="url(#b6)"/><path d="M47 55 L46 75 L47 100" stroke="#a8b030" stroke-width="1.8" fill="none" filter="url(#b1)" stroke-opacity="0.8"/><path d="M0 0H20L5 10L0 34ZM93 0H70L86 8L93 26Z" fill="#070302"/><rect x="93.2" y="0" width="6.8" height="100" fill="url(#cb1)"/><circle cx="6" cy="7" r="2.2" fill="none" stroke="#4a8080" stroke-width="1"/></svg>
<svg x="625.50" y="372.00" width="53.10" height="50.60" viewBox="0 0 100 100" preserveAspectRatio="none"><rect width="100" height="100" fill="#040c40"/><ellipse cx="46" cy="54" rx="45" ry="56" fill="#081a82" filter="url(#b2)"/><g filter="url(#b05)"><path d="M88 87h.1M68 24h.1M32 72h.1M75 4h.1M17 90h.1M13 66h.1M32 65h.1M80 59h.1M37 34h.1M58 64h.1M39 48h.1M50 27h.1M18 58h.1M11 61h.1M74 83h.1M25 43h.1M85 36h.1M91 22h.1M78 6h.1M62 81h.1M51 64h.1M84 100h.1M18 53h.1M6 39h.1M15 18h.1M58 10h.1M16 3h.1M75 26h.1M9 63h.1M67 64h.1M51 54h.1M67 32h.1M78 70h.1M79 89h.1M78 53h.1M49 74h.1M54 5h.1M85 22h.1M46 46h.1M10 59h.1M55 82h.1M57 32h.1M53 96h.1M59 85h.1M3 70h.1M21 18h.1M32 19h.1M10 23h.1M23 26h.1M74 10h.1M20 7h.1M48 24h.1M50 25h.1M20 50h.1M8 89h.1M53 41h.1M51 95h.1M46 41h.1M22 39h.1M72 62h.1M27 90h.1M14 37h.1M72 92h.1M43 3h.1M52 44h.1M5 36h.1M81 6h.1M18 18h.1M74 32h.1M64 68h.1M3 45h.1M13 80h.1M46 38h.1M75 83h.1M8 11h.1M31 33h.1M42 44h.1M90 68h.1M89 63h.1M23 58h.1M16 59h.1M15 93h.1M29 90h.1M22 22h.1M24 83h.1M77 75h.1M54 16h.1M23 5h.1M86 15h.1M66 2h.1M28 61h.1M18 9h.1M83 30h.1M3 71h.1M91 55h.1M5 43h.1M57 26h.1M40 75h.1M61 83h.1M88 53h.1M90 14h.1M49 68h.1M86 48h.1M41 89h.1M44 8h.1M43 28h.1M61 82h.1M6 33h.1M83 81h.1M73 40h.1M88 85h.1M76 55h.1M60 15h.1M5 3h.1M7 52h.1M87 58h.1M73 76h.1M87 29h.1M47 93h.1M32 70h.1M39 17h.1M20 37h.1M5 88h.1M34 26h.1M74 3h.1M71 46h.1M10 41h.1M91 6h.1M28 19h.1M55 21h.1M78 38h.1M88 14h.1M23 5h.1M6 20h.1M55 56h.1M67 25h.1M56 98h.1M31 25h.1M19 97h.1M59 50h.1M47 10h.1M22 71h.1M25 52h.1M83 20h.1M45 77h.1M69 83h.1M84 59h.1M22 52h.1M85 21h.1M28 21h.1M81 12h.1M16 62h.1M68 43h.1M69 71h.1M37 9h.1M64 63h.1M88 71h.1M8 21h.1M30 73h.1M30 25h.1M19 29h.1M47 71h.1M78 12h.1M52 97h.1M38 14h.1M61 83h.1M6 10h.1M30 38h.1M12 10h.1M40 96h.1M53 29h.1M88 30h.1M15 14h.1M4 92h.1M50 98h.1M51 9h.1M35 36h.1M16 10h.1M64 87h.1M86 25h.1M57 27h.1M78 91h.1M3 21h.1M80 98h.1M78 8h.1M56 77h.1M53 55h.1M72 8h.1M53 97h.1M51 37h.1M14 89h.1M62 96h.1M89 70h.1M79 82h.1M69 43h.1M63 79h.1M26 79h.1M56 39h.1M41 92h.1M8 6h.1" stroke="#0e28a4" stroke-width="3" stroke-linecap="round" fill="none" stroke-opacity="0.8"/><path d="M47 12L53 11L58 9L63 5L69 3L74 5L79 8M81 35L75 34L70 31L64 29L58 28L54 24L51 19M50 26L50 32L53 37L58 40L64 39L70 39L76 40M77 56L75 62L71 66L70 72L74 77L78 81L83 83M38 17L37 11L35 6L36 -0L32 -5L26 -5L20 -2M71 28L69 23L67 17L64 12L61 7L60 1L61 -5M51 15L57 16L60 21L61 27L65 32L69 36L72 41M19 81L13 80L9 76L4 73L-2 71L-8 69L-13 71M26 22L32 22L37 26L41 30L46 33L52 35L54 41M57 60L51 59L45 60L40 57L36 53L34 47L37 42M46 53L40 54L35 52L31 47L26 45L22 40L16 39M59 19L56 24L57 30L55 36L52 41L46 43L41 46M76 73L71 70L65 69L60 68L54 68L49 72L44 75M84 47L85 53L90 57L93 62L94 68L97 73L103 76M42 66L45 60L48 55L54 55L59 51L62 46L68 44M72 40L78 39L83 38L86 33L90 28L96 27L101 25M34 29L28 32L24 36L25 42L29 46L29 52L28 58M15 42L14 36L14 30L19 27L23 22L27 17L27 11M64 48L58 49L52 48L47 46L44 41L43 35L39 31M15 39L20 43L26 43L30 47L36 46L42 49L47 51M67 46L69 52L67 58L62 61L57 64L52 67L46 68M17 47L14 52L8 54L6 60L5 66L4 71L5 77M82 44L87 42L92 38L95 33L94 27L96 22L99 17M65 46L60 50L54 49L48 52L43 55L39 59L37 65M13 94L9 98L3 100L-3 98L-8 96L-14 95L-18 91M51 24L45 25L40 28L34 30L28 29L24 25L20 20M71 96L65 98L60 101L54 102L49 106L43 106L38 109M17 72L13 76L11 81L11 87L12 93L10 99L8 105M86 92L87 98L83 102L81 108L80 113L78 119L72 121M26 31L28 25L33 22L39 19L44 22L50 22L56 20M70 79L66 75L62 70L61 64L62 58L68 55L74 55M62 70L62 64L61 58L62 52L64 47L61 41L58 37M29 36L34 40L39 42L44 45L50 45L56 44L62 46M59 75L60 69L63 63L62 58L57 54L56 48L56 42M58 71L56 66L52 61L48 57L43 53L38 50L32 47M88 92L90 87L92 81L94 76L93 70L91 64L89 58M9 9L14 6L16 -0L20 -5L23 -10L28 -13L30 -18M6 37L4 31L2 25L3 20L6 15L10 10L9 4M17 19L12 17L6 18L-0 17L-5 14L-11 11L-14 6M16 96L22 97L27 94L30 89L28 83L27 77L23 72M89 52L90 58L95 61L100 64L106 66L112 65L118 65" stroke="#2454d0" stroke-width="1.0" fill="none" stroke-opacity="0.85"/><path d="M12 49L7 46L4 41L-2 39L-6 35L-11 32L-16 28M8 37L4 40L-2 43L-8 42L-13 43L-18 47L-22 51M9 13L3 12L-2 7L-7 6L-12 9L-14 15L-12 20M85 30L81 35L76 39L72 42L71 48L75 53L80 55M31 45L27 41L22 37L17 39L13 44L7 44L1 46M73 36L67 37L61 35L55 35L50 31L48 26L44 21M65 97L63 102L60 108L59 113L61 119L58 124L59 130M24 42L28 46L33 49L38 52L42 57L42 63L42 68M9 86L10 80L14 75L13 70L14 64L14 58L15 52M11 5L5 5L0 1L-6 -0L-11 -3L-16 -6L-22 -8M58 67L52 68L48 73L49 79L49 85L49 91L51 96M70 35L67 40L62 43L57 46L55 51L51 56L45 57M65 59L68 54L73 51L75 46L78 40L79 34L78 29M39 51L45 52L51 50L56 49L60 44L61 38L65 34M42 20L37 21L31 19L26 15L21 14L15 16L10 19M44 63L40 58L35 55L29 54L25 49L23 44L23 38" stroke="#8ab8f4" stroke-width="0.8" fill="none" stroke-opacity="0.9"/><path d="M27 44L23 48L21 54L19 60L17 65M55 3L56 -2L59 -7L59 -13L59 -19M32 61L27 58L21 58L16 54L12 50M87 67L91 62L93 56L92 51L90 45M61 13L58 8L57 2L54 -3L48 -5" stroke="#e0b050" stroke-width="1.2" fill="none" stroke-opacity="0.9"/></g><path d="M47 30 L46 60 L47 100" stroke="#5a98f0" stroke-width="1.2" fill="none" filter="url(#b05)" stroke-opacity="0.7"/><path d="M46 88L47 100" stroke="#f08030" stroke-width="2.2"/><path d="M0 0H18L4 8L0 28ZM93 0H72L87 8L93 24Z" fill="#02030c"/><rect x="93.2" y="0" width="6.8" height="100" fill="url(#cb2)"/><circle cx="6" cy="7" r="2.2" fill="none" stroke="#4a8080" stroke-width="1"/></svg>
<svg x="680.00" y="372.00" width="53.90" height="50.60" viewBox="0 0 100 100" preserveAspectRatio="none"><rect width="100" height="100" fill="#020209"/><g filter="url(#b05)"><path d="M80 36L85 33L89 28L94 26L99 22L101 17M34 74L36 80L40 85L45 87L51 88L57 88M44 87L47 82L53 81L59 81L62 86L63 92M49 26L55 29L59 32L65 32L70 36L73 41M80 96L85 97L91 98L97 99L103 100L108 103M58 81L52 80L49 74L50 68L54 64L60 62M15 42L16 48L20 52L26 52L32 52L37 55M79 95L73 97L69 102L70 108L67 113L66 119M66 45L64 40L63 34L58 30L55 25L50 22M88 28L84 32L81 37L82 43L80 49L75 52M46 18L49 13L49 7L44 3L43 -3L40 -8M14 37L18 32L18 26L20 20L19 14L22 9" stroke="#0c2494" stroke-width="1.4" fill="none" stroke-opacity="0.75"/><path d="M46 68L49 64L51 59L50 55L46 52M64 75L59 77L54 76L50 73L49 68M69 66L67 70L68 75L67 80L68 85" stroke="#2a66d8" stroke-width="1.4" fill="none" stroke-opacity="0.9"/></g><path d="M47 40 L46 100" stroke="#1438b8" stroke-width="1.2" fill="none" stroke-opacity="0.44999999999999996"/><rect x="93.2" y="0" width="6.8" height="100" fill="url(#cb2)"/><circle cx="6" cy="7" r="2.2" fill="none" stroke="#4a8080" stroke-width="1"/></svg>
<svg x="406.20" y="423.70" width="54.10" height="50.70" viewBox="0 0 100 100" preserveAspectRatio="none"><rect width="100" height="100" fill="#2a0e05"/><ellipse cx="46" cy="54" rx="45" ry="54" fill="#4c1508" filter="url(#b2)"/><g filter="url(#b05)"><path d="M66 90h.1M4 94h.1M76 8h.1M75 81h.1M19 97h.1M35 46h.1M61 70h.1M69 29h.1M46 15h.1M27 50h.1M9 36h.1M75 20h.1M41 6h.1M68 12h.1M18 75h.1M42 56h.1M57 51h.1M40 17h.1M15 22h.1M24 33h.1M82 23h.1M14 28h.1M14 83h.1M88 77h.1M88 56h.1M43 40h.1M61 25h.1M49 40h.1M62 87h.1M61 16h.1M55 74h.1M50 8h.1M10 55h.1M67 50h.1M68 56h.1M76 23h.1M77 75h.1M12 24h.1M28 79h.1M59 9h.1M68 32h.1M80 29h.1M11 34h.1M44 44h.1M50 13h.1M27 6h.1M91 50h.1M28 18h.1M56 2h.1M16 67h.1M50 71h.1M78 34h.1M71 81h.1M76 54h.1M71 5h.1M19 59h.1M52 62h.1M39 7h.1M31 22h.1M62 25h.1M70 55h.1M37 62h.1M82 35h.1M7 86h.1M28 89h.1M45 42h.1M78 13h.1M80 29h.1M72 96h.1M77 35h.1M89 54h.1M29 38h.1M10 64h.1M42 57h.1M82 46h.1M4 61h.1M10 61h.1M51 46h.1M61 11h.1M34 22h.1M21 14h.1M22 86h.1M90 62h.1M72 3h.1M33 73h.1M84 7h.1M91 97h.1M10 42h.1M84 36h.1M17 59h.1M58 78h.1M22 51h.1M19 94h.1M84 95h.1M14 19h.1M75 48h.1M78 65h.1M5 13h.1M67 29h.1M38 63h.1M7 12h.1M46 4h.1M33 40h.1M11 10h.1M71 69h.1M46 46h.1M84 48h.1M18 52h.1M46 56h.1M33 51h.1M6 68h.1M82 74h.1M78 98h.1M46 43h.1M69 24h.1M29 60h.1M5 98h.1M86 52h.1M58 36h.1M43 11h.1M33 21h.1M38 67h.1M79 10h.1M14 63h.1M86 57h.1M49 86h.1M21 2h.1M47 60h.1M13 69h.1M57 84h.1M32 9h.1M22 25h.1M32 66h.1M26 98h.1M17 88h.1M24 93h.1M22 56h.1M24 72h.1M57 74h.1M38 18h.1M31 86h.1M47 19h.1M9 53h.1M77 68h.1M72 8h.1M42 31h.1M23 94h.1M79 36h.1M91 22h.1M77 47h.1M41 99h.1M73 70h.1M61 65h.1M76 70h.1M34 60h.1M40 22h.1M10 91h.1M40 53h.1M16 55h.1M83 71h.1M61 58h.1M3 3h.1M11 61h.1M77 95h.1M68 73h.1M19 8h.1M71 28h.1M60 90h.1" stroke="#74190a" stroke-width="3.2" stroke-linecap="round" fill="none" stroke-opacity="0.8"/><path d="M10 77L7 82L5 86L1 89L-4 90L-9 88L-12 84M73 78L68 78L64 77L59 80L59 85L60 90L61 95M9 69L8 74L4 77L-1 76L-6 77L-11 77L-14 81M7 54L11 57L16 57L20 55L25 55L29 51L34 50M5 49L2 52L0 57L-4 60L-7 64L-7 69L-6 74M39 43L34 42L29 42L24 43L19 43L15 41L10 40M16 34L17 29L17 24L17 19L14 15L9 13L8 8M46 65L51 65L54 69L59 69L64 71L69 71L74 71M45 22L40 20L36 17L33 13L28 13L24 10L21 6M54 42L57 46L58 51L55 55L51 57L46 55L42 52M29 54L33 53L36 48L38 44L43 42L48 41L52 40M54 8L55 3L52 -1L52 -6L53 -11L54 -16L52 -20M58 68L59 63L59 58L62 54L67 55L72 54L77 55M21 77L25 74L27 70L32 69L36 65L41 64L46 64M71 45L75 47L79 50L84 50L87 54L86 59L85 64M10 38L10 33L13 30L16 26L19 22L23 19L28 18M61 64L56 64L51 67L48 71L48 76L47 81L50 85M79 34L81 29L79 25L82 20L85 16L88 13L93 13M83 45L78 44L74 46L71 51L70 55L67 59L62 58M82 94L78 92L73 90L69 87L65 85L60 82L56 80M57 11L58 16L55 21L54 26L51 29L50 34L50 39M6 76L4 81L1 85L-3 88L-5 92L-5 97L-9 100M17 90L16 85L18 81L22 78L25 74L30 72L33 69M77 85L72 83L69 80L64 77L60 76L56 72L54 68M46 89L47 94L47 99L49 103L53 106L58 106L62 105M5 90L5 85L4 80L2 75L-2 72L-5 69L-9 65M57 29L61 32L64 36L69 37L74 35L78 32L82 29M89 67L87 63L85 58L80 56L79 51L80 47L79 42M30 69L26 65L23 62L22 57L18 54L13 53L9 56M55 16L56 11L57 6L58 2L62 -2L62 -7L59 -11M38 94L36 89L32 86L27 87L22 87L18 84L15 80M14 78L19 77L24 80L27 83L31 86L36 88L38 93M46 36L51 36L56 37L60 35L64 32L67 28L72 26M14 92L19 92L23 88L27 85L30 82L34 78L37 75M41 78L40 73L37 69L33 66L29 63L24 62L19 62M34 27L29 26L24 25L19 25L14 23L12 19L8 15M59 75L64 76L69 73L74 74L78 71L78 66L79 61M23 6L22 1L20 -3L19 -8L17 -12L14 -16L12 -21M77 37L79 41L79 46L78 51L74 54L69 55L66 59M35 68L38 71L38 76L41 81L45 82L48 86L47 91M31 19L30 24L28 28L30 33L33 37L38 37L43 37M32 53L30 57L26 60L21 63L16 62L14 58L9 57M60 95L64 91L66 87L71 84L73 80L77 77L81 73M37 25L39 30L43 34L42 39L39 43L40 48L38 52M30 63L34 59L37 56L42 56L47 54L49 50L52 46M33 23L28 23L23 21L18 19L13 20L8 20L3 21" stroke="#a8240c" stroke-width="1.1" fill="none" stroke-opacity="0.85"/><path d="M65 24L70 21L71 16L69 12L68 7L69 2M6 19L10 22L14 25L19 25L23 23L28 21M89 42L87 37L89 33L91 28L91 23L93 18M19 65L17 60L15 56L11 53L9 48L12 44M20 74L17 70L13 67L9 64L8 59L8 54M64 89L69 86L71 82L72 77L72 72L73 67M34 16L37 19L38 24L41 28L44 32L48 36M11 37L15 35L20 34L25 32L30 31L32 27M27 43L26 39L24 34L19 32L14 31L10 34M75 15L80 18L83 22L88 24L92 26L96 28M4 96L-0 93L-4 90L-6 86L-10 83L-11 78M34 62L38 58L42 56L46 52L47 47L50 43M19 91L21 96L18 100L20 105L17 109L13 112M43 28L46 25L47 20L51 16L53 12L52 7M35 94L40 91L44 89L49 90L54 90L58 94M17 87L12 88L7 87L3 84L-1 82L-6 81M57 12L53 15L51 20L47 23L43 26L38 27M66 15L63 11L61 7L56 4L53 1L53 -4M67 68L70 64L74 61L79 61L83 64L86 68M86 49L91 51L95 54L100 55L105 55L109 56M7 21L2 20L-2 17L-2 12L2 8L4 4M31 30L36 28L39 24L44 24L49 25L54 24M16 43L14 38L10 35L9 30L5 26L2 23" stroke="#d04c10" stroke-width="0.8" fill="none" stroke-opacity="0.85"/><path d="M88 18L94 17L97 12L101 8L107 7L112 10M85 42L90 39L96 39L101 37L107 39L113 38M43 70L45 64L51 62L57 64L61 68L67 67M12 87L9 82L7 77L3 73L3 67L0 61M27 62L28 68L28 74L27 79L28 85L26 91M12 71L18 69L24 66L30 66L35 63L41 65M4 15L6 9L9 4L8 -2L5 -7L1 -11M22 23L27 24L30 30L28 35L28 41L33 46M17 12L13 16L7 17L2 14L-2 9L-6 5M64 25L70 25L75 27L81 29L83 34L82 40M87 2L93 5L98 8L102 12L108 15L113 18" stroke="#c8b028" stroke-width="0.9" fill="none" stroke-opacity="0.8"/></g><ellipse cx="50" cy="55" rx="22" ry="30" fill="#b0a820" fill-opacity="0.4" filter="url(#b6)"/><path d="M47 55 L46 75 L47 100" stroke="#a8b030" stroke-width="1.8" fill="none" filter="url(#b1)" stroke-opacity="0.8"/><path d="M0 0H20L5 10L0 34ZM93 0H70L86 8L93 26Z" fill="#070302"/><rect x="93.2" y="0" width="6.8" height="100" fill="url(#cb1)"/><circle cx="6" cy="7" r="2.2" fill="none" stroke="#4a8080" stroke-width="1"/></svg>
<svg x="461.20" y="423.70" width="54.10" height="50.70" viewBox="0 0 100 100" preserveAspectRatio="none"><rect width="100" height="100" fill="#040c40"/><ellipse cx="46" cy="54" rx="45" ry="56" fill="#081a82" filter="url(#b2)"/><g filter="url(#b05)"><path d="M24 59h.1M90 66h.1M45 32h.1M14 100h.1M70 27h.1M55 71h.1M84 29h.1M30 20h.1M55 92h.1M68 16h.1M35 9h.1M16 50h.1M16 29h.1M24 43h.1M79 25h.1M57 41h.1M28 31h.1M72 85h.1M68 89h.1M68 31h.1M23 58h.1M57 79h.1M84 80h.1M90 68h.1M63 80h.1M47 80h.1M81 52h.1M33 39h.1M57 57h.1M47 40h.1M68 69h.1M86 96h.1M3 41h.1M69 55h.1M58 27h.1M37 86h.1M62 88h.1M85 92h.1M80 92h.1M83 93h.1M39 42h.1M42 77h.1M90 68h.1M41 10h.1M14 9h.1M15 2h.1M38 32h.1M87 17h.1M10 90h.1M85 52h.1M51 35h.1M38 30h.1M11 98h.1M80 87h.1M15 64h.1M7 72h.1M8 62h.1M16 98h.1M84 44h.1M85 79h.1M18 86h.1M81 27h.1M62 32h.1M4 47h.1M14 82h.1M65 26h.1M38 8h.1M34 61h.1M77 97h.1M58 46h.1M81 59h.1M75 37h.1M82 21h.1M38 24h.1M36 62h.1M86 6h.1M54 23h.1M76 75h.1M89 97h.1M60 27h.1M67 47h.1M26 13h.1M82 45h.1M15 24h.1M14 7h.1M69 48h.1M29 34h.1M27 52h.1M53 9h.1M39 88h.1M66 52h.1M38 34h.1M15 32h.1M13 5h.1M13 99h.1M88 6h.1M34 13h.1M33 62h.1M24 46h.1M18 52h.1M15 33h.1M39 29h.1M46 78h.1M41 85h.1M17 72h.1M77 95h.1M64 33h.1M64 64h.1M38 61h.1M6 3h.1M18 92h.1M4 27h.1M71 88h.1M39 52h.1M84 30h.1M11 29h.1M67 34h.1M54 9h.1M76 96h.1M83 17h.1M89 89h.1M22 43h.1M16 38h.1M71 11h.1M61 80h.1M7 18h.1M72 82h.1M28 89h.1M60 3h.1M68 20h.1M32 82h.1M3 83h.1M34 61h.1M28 58h.1M22 59h.1M42 62h.1M2 74h.1M22 82h.1M45 68h.1M41 14h.1M90 73h.1M90 68h.1M39 41h.1M73 84h.1M72 23h.1M25 40h.1M6 21h.1M35 17h.1M23 56h.1M64 34h.1M78 4h.1M7 20h.1M72 24h.1M69 32h.1M74 50h.1M20 91h.1M92 92h.1M42 59h.1M26 84h.1M37 57h.1M55 94h.1M42 42h.1M85 14h.1M7 33h.1M5 92h.1M47 84h.1M7 47h.1M74 3h.1M71 95h.1M78 16h.1M46 51h.1M45 84h.1M30 21h.1M86 57h.1M62 55h.1M57 13h.1M12 16h.1M42 8h.1M79 16h.1M78 69h.1M18 29h.1M59 99h.1M36 25h.1M19 80h.1M15 8h.1M62 75h.1M19 51h.1M2 41h.1M5 59h.1M39 55h.1M84 43h.1M23 8h.1M51 63h.1M72 44h.1M37 57h.1M68 31h.1M28 86h.1M17 20h.1M42 54h.1M28 81h.1" stroke="#0e28a4" stroke-width="3" stroke-linecap="round" fill="none" stroke-opacity="0.8"/><path d="M18 49L23 46L24 40L27 35L33 32L35 27L34 21M12 52L13 57L17 62L19 68L19 74L21 79L26 81M13 39L16 34L18 29L20 23L24 18L25 12L29 8M79 57L78 63L80 69L81 75L80 81L81 87L86 90M39 11L45 12L51 12L56 10L61 7L67 7L72 11M80 14L75 18L69 19L65 23L60 26L54 25L48 23M82 11L84 5L88 1L94 2L100 4L106 5L110 9M42 13L36 15L30 16L25 12L22 7L21 1L18 -4M83 12L86 18L89 22L93 27L92 33L88 38L86 44M34 42L38 39L41 33L42 27L45 22L50 20L55 17M77 29L75 23L74 17L75 12L73 6L67 5L61 7M59 66L64 64L70 63L74 67L80 67L86 66L92 66M66 35L69 30L67 24L62 21L56 20L50 23L44 23M80 3L80 -3L79 -9L75 -14L71 -18L71 -24L67 -28M4 34L10 37L13 41L12 47L9 52L5 56L-1 58M11 73L8 78L4 82L-2 84L-7 87L-13 85L-18 83M34 6L36 11L38 17L42 21L46 26L49 31L53 35M58 50L60 44L59 38L56 33L52 29L52 23L57 19M41 29L40 35L37 40L33 44L27 47L23 51L17 49M90 75L85 72L81 67L77 63L75 57L78 52L83 48M62 82L67 79L70 75L70 69L74 64L77 58L82 57M44 64L45 70L44 76L39 78L37 84L38 90L35 95M46 16L43 11L38 8L37 2L41 -3L43 -9L49 -11M78 53L73 56L67 57L62 60L60 65L55 69L52 75M68 39L72 35L71 29L66 25L60 25L54 24L50 20M7 7L7 13L4 18L2 24L-2 28L-0 34L-2 40M35 56L36 50L33 45L32 39L31 33L27 28L27 22M55 40L59 36L64 32L63 26L65 20L67 15L68 9M81 3L82 -3L82 -9L84 -15L90 -17L95 -19L99 -24M50 39L47 44L48 50L45 56L40 60L36 64L32 69M77 30L83 31L89 32L95 34L101 34L106 31L110 26M63 4L66 -1L67 -7L66 -13L68 -19L69 -24L72 -30" stroke="#2454d0" stroke-width="1.0" fill="none" stroke-opacity="0.85"/><path d="M9 73L15 71L21 72L26 74L31 78L34 83L38 87M53 50L57 45L63 44L66 39L67 33L71 28L73 22M85 13L89 9L95 7L99 2L101 -3L107 -5L112 -9M65 93L59 94L53 95L48 92L42 92L36 90L34 84M7 92L13 94L18 94L23 98L24 104L28 109L32 113M68 56L69 50L70 44L74 40L79 37L85 35L90 33M52 34L50 28L51 22L55 18L60 15L66 13L69 8M8 83L3 87L-0 92L-6 94L-11 97L-15 101L-19 106M6 7L7 1L7 -5L10 -10L9 -16L10 -22L5 -26M26 70L21 73L15 71L9 72L4 68L-2 67L-8 66M24 46L26 40L29 35L28 29L26 23L29 18L30 12M89 54L94 51L100 51L106 54L110 58L114 63L119 64" stroke="#8ab8f4" stroke-width="0.8" fill="none" stroke-opacity="0.9"/><path d="M41 58L35 56L32 51L27 48L21 46M37 9L31 11L29 16L25 21L24 27M18 16L22 21L22 27L25 32L29 37M20 50L14 49L9 45L5 41L2 36" stroke="#e0b050" stroke-width="1.2" fill="none" stroke-opacity="0.9"/></g><path d="M47 30 L46 60 L47 100" stroke="#5a98f0" stroke-width="1.2" fill="none" filter="url(#b05)" stroke-opacity="0.7"/><path d="M46 88L47 100" stroke="#f08030" stroke-width="2.2"/><path d="M0 0H18L4 8L0 28ZM93 0H72L87 8L93 24Z" fill="#02030c"/><rect x="93.2" y="0" width="6.8" height="100" fill="url(#cb2)"/><circle cx="6" cy="7" r="2.2" fill="none" stroke="#4a8080" stroke-width="1"/></svg>
<svg x="516.20" y="423.70" width="53.80" height="50.70" viewBox="0 0 100 100" preserveAspectRatio="none"><rect width="100" height="100" fill="#020209"/><g filter="url(#b05)"><path d="M15 80L19 75L20 70L18 64L13 61L7 61M21 84L26 88L27 93L24 98L25 104L27 110M89 39L87 34L86 28L81 25L78 20L78 14" stroke="#0c2494" stroke-width="1.4" fill="none" stroke-opacity="0.75"/><path d="" stroke="#2a66d8" stroke-width="1.4" fill="none" stroke-opacity="0.9"/></g><path d="M47 40 L46 100" stroke="#1438b8" stroke-width="1.2" fill="none" stroke-opacity="0.22499999999999998"/><rect x="93.2" y="0" width="6.8" height="100" fill="url(#cb2)"/><circle cx="6" cy="7" r="2.2" fill="none" stroke="#4a8080" stroke-width="1"/></svg>
<svg x="571.30" y="423.70" width="52.90" height="50.70" viewBox="0 0 100 100" preserveAspectRatio="none"><rect width="100" height="100" fill="#2a0e05"/><ellipse cx="46" cy="54" rx="45" ry="54" fill="#4c1508" filter="url(#b2)"/><g filter="url(#b05)"><path d="M27 47h.1M51 12h.1M47 96h.1M53 53h.1M73 46h.1M27 84h.1M17 89h.1M82 56h.1M48 8h.1M18 78h.1M68 63h.1M14 73h.1M91 87h.1M62 46h.1M40 17h.1M6 97h.1M38 40h.1M46 98h.1M84 70h.1M73 54h.1M60 80h.1M62 7h.1M44 59h.1M62 93h.1M72 43h.1M45 78h.1M70 37h.1M38 62h.1M47 67h.1M79 43h.1M54 22h.1M75 70h.1M56 35h.1M10 26h.1M26 77h.1M54 86h.1M86 28h.1M16 73h.1M40 84h.1M42 24h.1M87 75h.1M74 71h.1M88 88h.1M8 10h.1M6 75h.1M47 72h.1M11 19h.1M81 63h.1M16 14h.1M74 84h.1M12 98h.1M13 40h.1M58 82h.1M81 4h.1M25 16h.1M9 68h.1M15 43h.1M63 78h.1M50 70h.1M61 25h.1M22 96h.1M25 91h.1M7 33h.1M63 25h.1M92 63h.1M81 68h.1M79 15h.1M35 26h.1M36 14h.1M14 52h.1M87 65h.1M60 91h.1M54 58h.1M56 54h.1M17 11h.1M79 48h.1M74 7h.1M47 92h.1M3 97h.1M34 52h.1M58 60h.1M31 94h.1M29 2h.1M3 97h.1M24 36h.1M55 53h.1M33 73h.1M54 13h.1M65 71h.1M69 71h.1M4 8h.1M81 26h.1M91 100h.1M79 71h.1M5 85h.1M38 85h.1M86 8h.1M36 29h.1M17 95h.1M64 58h.1M71 57h.1M4 56h.1M63 71h.1M75 30h.1M56 76h.1M41 96h.1M32 53h.1M40 91h.1M78 74h.1M64 60h.1M66 33h.1M9 44h.1M89 9h.1M55 15h.1M4 71h.1M63 27h.1M55 57h.1M46 72h.1M73 79h.1M55 94h.1M89 75h.1M27 19h.1M64 79h.1M91 94h.1M37 10h.1M59 54h.1M61 21h.1M56 64h.1M3 11h.1M42 66h.1M74 19h.1M88 23h.1M90 24h.1M61 88h.1M20 39h.1M84 77h.1M73 11h.1M84 45h.1M20 83h.1M44 81h.1M77 5h.1M24 66h.1M13 18h.1M58 85h.1" stroke="#74190a" stroke-width="3.2" stroke-linecap="round" fill="none" stroke-opacity="0.8"/><path d="M19 17L19 12L18 7L17 2L21 -2L25 -4L29 -8M42 89L40 84L37 81L37 76L33 72L29 69L24 69M22 15L21 20L24 24L28 28L33 27L36 24L38 19M33 88L28 88L25 84L21 80L18 77L17 72L20 68M89 24L87 28L84 32L82 37L83 41L86 46L85 51M37 35L39 30L38 25L35 21L31 18L30 13L27 9M34 25L31 30L30 34L25 37L21 36L16 36L12 40M8 41L5 46L4 50L4 55L6 60L7 65L8 70M76 90L75 85L71 81L70 76L70 71L73 67L77 64M76 90L77 95L74 99L70 102L66 105L64 110L60 113M25 71L30 73L34 75L37 79L40 83L45 84L50 84M52 40L55 36L59 33L63 30L64 25L61 20L61 15M27 16L22 15L18 17L13 16L8 17L3 16L-1 13M54 32L58 36L60 40L64 42L66 47L64 51L59 54M46 6L47 11L51 14L56 14L61 16L64 19L67 24M43 29L48 30L53 28L57 31L62 31L67 30L72 30M77 35L74 38L72 43L68 46L64 49L63 54L58 56M34 11L35 16L38 20L39 25L42 29L42 34L43 39M16 51L11 52L7 49L4 44L5 40L2 35L3 31M8 95L8 90L7 85L3 82L-2 83L-7 83L-11 80M43 27L46 23L46 18L48 13L47 8L44 5L42 -0M89 64L88 59L86 55L82 52L80 47L79 42L78 37M9 88L8 83L5 79L0 77L-5 78L-7 82L-11 85M15 24L15 20L15 15L16 10L14 5L9 3L4 2M85 6L84 11L84 16L84 21L84 26L82 31L82 36M49 11L54 12L59 11L62 7L62 2L66 -1L65 -6M58 74L57 79L57 84L53 88L49 89L44 88L39 89M68 80L71 84L75 88L75 93L76 98L77 103L74 107M81 89L77 86L73 84L68 86L65 90L62 94L62 99M83 65L83 70L80 74L76 77L71 78L66 77L62 80M88 77L93 76L97 72L96 68L94 63L92 58L92 53M28 6L32 9L36 11L41 12L46 11L51 10L56 9M50 20L48 16L45 12L45 7L48 2L49 -2L52 -7M6 27L9 31L13 34L18 35L22 33L26 31L28 26M81 16L83 11L87 9L91 5L95 3L97 -1L100 -5M11 6L13 1L16 -3L19 -6L24 -9L25 -14L26 -18M40 41L39 37L40 32L44 29L46 24L51 23L55 20M34 21L32 16L27 14L25 10L21 6L19 2L18 -3M18 76L23 74L27 71L31 69L36 69L41 70L46 70" stroke="#a8240c" stroke-width="1.1" fill="none" stroke-opacity="0.85"/><path d="M22 91L18 88L17 84L17 79L21 75L22 70M37 33L32 32L27 31L23 33L20 37L15 39M25 75L21 78L16 79L12 78L7 80L2 78M39 49L34 50L31 54L29 59L25 62L21 65M5 85L9 88L13 90L18 89L23 87L27 85M58 30L63 30L67 28L72 26L77 24L79 20M17 94L22 96L25 100L29 102L34 99L37 95M9 83L4 82L-0 81L-5 80L-9 76L-13 74M73 5L69 3L65 0L60 -1L55 -1L50 -2M57 60L55 56L52 51L51 46L49 42L45 39M41 50L43 46L47 44L52 45L56 48L60 51M70 71L75 71L78 67L82 65L87 64L92 66M20 88L25 89L29 86L32 82L32 77L32 72M35 54L37 58L35 63L34 68L33 73L30 76M69 29L67 34L68 39L71 43L76 43L80 46M55 64L50 65L46 63L44 58L40 55L36 52M73 68L68 68L63 70L61 74L56 75L51 76M26 80L27 75L25 70L21 68L16 67L12 69M69 25L74 23L78 21L80 16L79 11L78 6M8 83L13 81L17 79L19 74L23 71L27 68" stroke="#d04c10" stroke-width="0.8" fill="none" stroke-opacity="0.85"/><path d="M88 76L94 75L100 78L103 82L107 87L111 91M49 7L55 7L59 4L65 4L70 8L75 12M78 88L84 87L90 85L96 83L98 77L100 72M84 8L84 2L88 -3L89 -9L90 -14L88 -20M39 9L44 7L50 7L56 9L62 8L66 4M28 94L22 95L17 97L13 101L7 104L3 108M55 40L49 43L45 47L40 50L34 51L30 56M69 53L73 57L75 63L80 66L86 65L92 68M84 21L81 15L81 9L85 5L88 -1L90 -6" stroke="#c8b028" stroke-width="0.9" fill="none" stroke-opacity="0.8"/></g><ellipse cx="30" cy="45" rx="28" ry="40" fill="#b0a820" fill-opacity="0.4" filter="url(#b6)"/><path d="M47 55 L46 75 L47 100" stroke="#a8b030" stroke-width="1.8" fill="none" filter="url(#b1)" stroke-opacity="0.8"/><path d="M0 0H20L5 10L0 34ZM93 0H70L86 8L93 26Z" fill="#070302"/><rect x="93.2" y="0" width="6.8" height="100" fill="url(#cb1)"/><circle cx="6" cy="7" r="2.2" fill="none" stroke="#4a8080" stroke-width="1"/></svg>
<svg x="625.50" y="423.70" width="53.10" height="50.70" viewBox="0 0 100 100" preserveAspectRatio="none"><rect width="100" height="100" fill="#040c40"/><ellipse cx="46" cy="54" rx="45" ry="56" fill="#081a82" filter="url(#b2)"/><g filter="url(#b05)"><path d="M86 40h.1M76 26h.1M45 29h.1M51 9h.1M40 33h.1M6 82h.1M84 17h.1M59 54h.1M40 60h.1M62 29h.1M35 52h.1M91 93h.1M72 47h.1M84 98h.1M82 21h.1M39 24h.1M43 86h.1M47 34h.1M17 16h.1M76 95h.1M82 2h.1M26 16h.1M44 22h.1M46 46h.1M59 52h.1M47 6h.1M87 44h.1M80 34h.1M10 99h.1M46 19h.1M89 93h.1M12 95h.1M14 15h.1M15 88h.1M57 56h.1M65 31h.1M7 10h.1M23 59h.1M9 6h.1M20 3h.1M7 15h.1M13 35h.1M78 67h.1M3 9h.1M32 47h.1M43 55h.1M67 64h.1M24 29h.1M91 53h.1M84 93h.1M75 63h.1M69 30h.1M21 40h.1M19 20h.1M12 19h.1M3 15h.1M68 7h.1M66 71h.1M17 49h.1M56 94h.1M57 15h.1M7 19h.1M14 82h.1M78 13h.1M72 91h.1M22 51h.1M23 44h.1M71 22h.1M47 64h.1M80 96h.1M83 41h.1M33 91h.1M80 81h.1M57 96h.1M14 20h.1M70 29h.1M59 59h.1M57 28h.1M89 57h.1M2 33h.1M49 87h.1M57 95h.1M32 7h.1M42 92h.1M51 85h.1M77 90h.1M47 4h.1M53 12h.1M36 25h.1M34 49h.1M64 96h.1M78 82h.1M16 59h.1M36 45h.1M10 47h.1M88 88h.1M77 11h.1M78 42h.1M33 51h.1M31 27h.1M83 59h.1M43 54h.1M8 11h.1M5 37h.1M81 6h.1M28 88h.1M20 52h.1M83 77h.1M37 32h.1M27 34h.1M91 59h.1M41 94h.1M37 25h.1M48 13h.1M87 2h.1M36 5h.1M21 87h.1M16 78h.1M61 7h.1M89 7h.1M77 96h.1M38 39h.1M36 70h.1M59 18h.1M14 17h.1M9 11h.1M46 15h.1M63 32h.1M87 9h.1M58 46h.1M69 5h.1M19 94h.1M44 37h.1M10 59h.1M89 63h.1M88 64h.1M4 63h.1M52 98h.1M73 71h.1M14 45h.1M70 55h.1M54 10h.1M50 11h.1M4 74h.1M39 22h.1M44 10h.1M59 97h.1M74 88h.1M63 96h.1M40 13h.1M18 3h.1M21 13h.1M17 76h.1M36 35h.1M13 77h.1M25 89h.1M11 3h.1M76 50h.1M78 71h.1M65 27h.1M61 12h.1M84 86h.1M59 13h.1M21 47h.1M14 97h.1M85 49h.1M24 52h.1M91 46h.1M69 46h.1M14 32h.1M40 69h.1M37 24h.1M10 94h.1M78 44h.1M70 42h.1M26 9h.1M58 3h.1M83 17h.1M85 41h.1M63 21h.1M20 78h.1M51 57h.1M34 62h.1M90 97h.1M81 56h.1M41 85h.1M76 40h.1M49 3h.1M59 52h.1M14 95h.1M66 51h.1M77 57h.1M48 4h.1M65 50h.1M49 59h.1M68 71h.1M63 100h.1M38 98h.1M10 86h.1M56 49h.1" stroke="#0e28a4" stroke-width="3" stroke-linecap="round" fill="none" stroke-opacity="0.8"/><path d="M26 17L22 21L22 27L21 32L16 36L11 39L5 40M13 35L17 40L15 45L14 51L16 57L17 63L15 69M21 25L25 20L25 14L24 8L25 2L28 -3L34 -4M83 44L85 38L88 33L94 32L98 28L104 26L109 24M7 47L9 41L6 36L2 32L-3 28L-6 23L-12 21M56 32L52 27L51 21L47 17L44 12L42 6L39 1M85 74L90 77L91 83L96 87L100 91L106 90L112 92M25 60L20 56L15 53L9 55L4 58L-2 56L-8 54M16 37L17 43L15 48L9 50L3 49L-1 45L-7 42M75 62L69 61L63 64L62 70L60 76L55 79L52 84M73 26L67 29L62 31L56 34L53 39L47 41L41 41M23 91L28 88L34 87L40 85L45 83L51 86L56 85M23 22L20 28L21 34L22 40L20 46L16 49L10 51M53 89L52 83L48 79L42 77L36 78L32 82L26 83M47 62L51 66L57 68L59 74L62 79L65 84L71 85M36 72L32 76L26 78L24 84L26 90L28 95L32 100M68 5L69 11L67 17L64 22L60 26L54 28L49 25M68 74L74 71L80 71L84 75L86 81L84 86L81 92M86 45L92 47L95 52L101 55L106 56L112 55L116 50M49 40L47 46L46 52L46 58L50 62L52 67L51 73M24 22L20 27L18 32L19 38L19 44L23 49L29 51M43 52L44 46L42 40L41 34L42 28L46 24L46 18M75 21L69 23L64 25L58 27L57 33L60 38L66 39M47 3L47 -3L50 -9L47 -14L49 -20L55 -22L61 -23M75 48L79 51L83 56L86 61L86 67L87 73L90 79M82 68L77 66L71 68L66 65L64 60L63 54L61 48M47 31L52 28L57 25L61 21L62 15L58 10L54 6" stroke="#2454d0" stroke-width="1.0" fill="none" stroke-opacity="0.85"/><path d="M32 49L34 44L34 38L35 32L40 28L44 24L50 22M15 14L21 13L26 10L32 7L36 3L42 3L48 4M38 65L33 68L27 68L23 72L24 78L19 83L13 83M71 87L75 82L81 81L86 84L92 84L95 89L99 93M43 58L39 53L33 52L28 49L22 47L17 43L12 41M89 89L90 95L87 100L82 102L77 99L71 96L66 93M5 80L6 74L9 69L8 63L3 60L0 55L-2 49M50 25L54 20L58 16L60 10L57 5L57 -1L60 -6M10 50L13 45L14 39L12 34L14 28L19 25L25 26M47 71L47 65L46 59L50 54L50 48L47 43L48 37" stroke="#8ab8f4" stroke-width="0.8" fill="none" stroke-opacity="0.9"/><path d="M23 73L18 76L17 82L16 88L13 93M5 94L-1 96L-7 95L-13 93L-18 90M19 49L23 54L24 60L21 65L21 71" stroke="#e0b050" stroke-width="1.2" fill="none" stroke-opacity="0.9"/></g><path d="M47 30 L46 60 L47 100" stroke="#5a98f0" stroke-width="1.2" fill="none" filter="url(#b05)" stroke-opacity="0.7"/><path d="M46 88L47 100" stroke="#f08030" stroke-width="2.2"/><path d="M0 0H18L4 8L0 28ZM93 0H72L87 8L93 24Z" fill="#02030c"/><rect x="93.2" y="0" width="6.8" height="100" fill="url(#cb2)"/><circle cx="6" cy="7" r="2.2" fill="none" stroke="#4a8080" stroke-width="1"/></svg>
<svg x="680.00" y="423.70" width="53.90" height="50.70" viewBox="0 0 100 100" preserveAspectRatio="none"><rect width="100" height="100" fill="#020209"/><g filter="url(#b05)"><path d="M75 22L81 20L86 17L91 15L95 10L95 4M40 24L37 19L32 15L26 14L20 15L15 14M82 36L82 30L84 24L84 18L85 12L85 6M79 75L85 75L91 74L96 71L98 65L104 64M85 4L90 6L93 11L91 17L87 22L82 25M46 49L45 43L47 37L51 33L51 27L54 22" stroke="#0c2494" stroke-width="1.4" fill="none" stroke-opacity="0.75"/><path d="M18 95L19 90L19 85L24 82L27 79" stroke="#2a66d8" stroke-width="1.4" fill="none" stroke-opacity="0.9"/></g><path d="M47 40 L46 100" stroke="#1438b8" stroke-width="1.2" fill="none" stroke-opacity="0.3"/><rect x="93.2" y="0" width="6.8" height="100" fill="url(#cb2)"/><circle cx="6" cy="7" r="2.2" fill="none" stroke="#4a8080" stroke-width="1"/></svg>
<svg x="406.20" y="475.50" width="54.10" height="50.10" viewBox="0 0 100 100" preserveAspectRatio="none"><rect width="100" height="100" fill="#2a0e05"/><ellipse cx="46" cy="54" rx="45" ry="54" fill="#4c1508" filter="url(#b2)"/><g filter="url(#b05)"><path d="M45 67h.1M58 71h.1M83 76h.1M17 24h.1M43 40h.1M89 73h.1M44 36h.1M22 61h.1M85 18h.1M43 36h.1M57 27h.1M8 68h.1M30 65h.1M84 59h.1M84 81h.1M8 26h.1M62 49h.1M2 83h.1M60 45h.1M49 19h.1M52 16h.1M62 94h.1M21 28h.1M54 88h.1M17 40h.1M56 18h.1M8 75h.1M58 59h.1M51 12h.1M45 50h.1M48 18h.1M8 53h.1M65 67h.1M86 38h.1M37 34h.1M47 68h.1M80 11h.1M54 77h.1M69 44h.1M8 34h.1M56 78h.1M22 34h.1M35 7h.1M90 36h.1M42 97h.1M72 29h.1M87 83h.1M53 45h.1M78 92h.1M62 33h.1M80 67h.1M86 82h.1M64 90h.1M42 61h.1M69 45h.1M14 83h.1M50 47h.1M50 31h.1M78 30h.1M24 64h.1M46 33h.1M9 45h.1M39 56h.1M60 29h.1M8 8h.1M52 94h.1M69 93h.1M16 22h.1M66 42h.1M40 84h.1M9 94h.1M19 59h.1M61 57h.1M66 32h.1M23 67h.1M87 8h.1M11 99h.1M7 15h.1M47 34h.1M65 48h.1M74 13h.1M22 21h.1M74 100h.1M36 24h.1M9 20h.1M91 95h.1M85 20h.1M9 99h.1M67 88h.1M83 87h.1M3 87h.1M53 98h.1M20 40h.1M13 77h.1M55 87h.1M52 79h.1M35 8h.1M8 9h.1M4 74h.1M68 99h.1M73 21h.1M18 38h.1M33 15h.1M71 73h.1M40 58h.1M56 57h.1M57 64h.1M91 32h.1M9 15h.1M56 49h.1M86 55h.1M84 84h.1M34 25h.1M62 43h.1M16 7h.1M77 98h.1M68 14h.1M3 63h.1M38 93h.1M43 70h.1M5 6h.1M70 63h.1M82 38h.1M52 48h.1M71 61h.1M78 17h.1M61 38h.1M73 42h.1M16 3h.1M47 15h.1M70 88h.1M31 75h.1M63 56h.1M10 97h.1M30 9h.1M71 96h.1M75 67h.1M32 97h.1M45 72h.1M73 41h.1M91 42h.1M64 23h.1M24 50h.1M15 70h.1M19 33h.1M83 87h.1M87 78h.1M31 34h.1M72 56h.1M85 93h.1M42 17h.1M82 82h.1M49 64h.1M62 52h.1M28 41h.1M82 87h.1M84 93h.1M46 36h.1M80 2h.1M80 6h.1M63 9h.1M31 11h.1M47 46h.1M81 42h.1M73 92h.1M87 34h.1M85 24h.1M40 91h.1M53 23h.1M39 33h.1M84 69h.1M89 66h.1M91 20h.1M41 19h.1M44 52h.1M81 63h.1M59 58h.1M81 85h.1M30 50h.1M33 5h.1M25 30h.1M82 99h.1M13 36h.1M62 13h.1M42 40h.1M61 96h.1M76 25h.1M19 47h.1M47 70h.1M67 78h.1M23 34h.1M70 52h.1M81 69h.1M36 98h.1M50 22h.1M25 94h.1M21 29h.1M34 87h.1M65 59h.1M65 88h.1M38 87h.1M5 46h.1M78 21h.1M50 45h.1M38 11h.1M72 97h.1M90 90h.1M52 60h.1M86 5h.1M4 54h.1M72 63h.1M7 58h.1M52 74h.1M5 62h.1M39 53h.1M71 33h.1M21 13h.1M71 73h.1M30 59h.1M72 74h.1M30 47h.1M39 11h.1M61 26h.1M63 60h.1M34 35h.1M73 53h.1M81 92h.1M59 76h.1M60 56h.1M38 66h.1M68 14h.1M70 89h.1M92 66h.1M89 56h.1M4 56h.1M65 35h.1M39 60h.1M56 61h.1M58 54h.1M72 21h.1" stroke="#74190a" stroke-width="3.2" stroke-linecap="round" fill="none" stroke-opacity="0.8"/><path d="M5 38L9 36L13 33L17 30L21 28L23 23L26 19M87 15L90 12L90 7L90 2L94 -2L99 -3L103 -5M54 65L59 66L64 64L69 64L72 68L77 70L81 68M68 94L64 97L59 97L54 97L50 100L49 105L51 109M25 52L21 51L18 46L18 41L14 38L11 34L6 33M38 42L39 47L41 52L46 54L50 52L55 50L59 47M19 25L23 28L27 31L30 35L29 40L26 44L26 49M8 20L13 22L18 24L22 26L27 28L31 30L34 35M37 62L33 58L31 54L28 50L25 46L25 41L29 38M66 95L65 91L62 87L57 85L53 83L49 79L45 78M85 61L88 57L90 52L89 47L86 44L83 39L83 35M40 24L41 29L40 34L37 38L34 42L29 43L25 45M52 88L49 92L44 92L40 96L38 100L34 102L29 101M51 3L56 2L60 -1L61 -6L59 -11L62 -15L64 -20M75 96L77 101L81 103L84 107L89 109L94 109L99 110M31 65L27 62L22 62L17 61L13 62L8 63L3 65M45 62L48 66L52 69L57 68L62 69L66 71L71 70M73 42L69 40L64 39L59 40L54 39L50 41L45 42M73 30L70 26L68 22L70 17L68 12L66 8L61 6M81 85L76 87L72 88L67 88L62 86L57 85L52 84M36 12L41 10L46 12L51 13L53 17L55 22L56 27M56 67L51 67L46 69L41 69L37 72L34 76L29 77M5 42L3 38L3 33L2 28L3 23L2 18L4 14M20 58L19 63L18 68L19 73L19 78L18 83L21 87M11 48L6 47L3 44L2 39L-2 35L-5 31L-9 28M21 14L25 10L27 6L31 4L34 -0L36 -5L34 -10M86 21L82 24L83 29L83 34L81 39L77 42L72 41M64 79L59 78L54 77L49 78L44 80L40 82L35 84M60 39L62 34L67 31L71 29L75 26L75 21L72 17M71 14L70 9L67 5L66 0L61 -2L56 -1L51 -1M72 71L68 74L63 74L58 75L54 71L50 69L48 65M12 8L15 4L18 0L18 -5L20 -9L18 -14L15 -18M6 15L3 11L-1 7L-6 8L-9 11L-11 16L-15 18M85 11L80 11L76 14L72 16L67 16L62 16L57 13M59 58L64 55L68 52L69 48L72 44L76 41L78 36M56 73L57 69L56 64L55 59L51 56L47 54L42 52M79 73L83 76L85 80L90 83L93 87L93 92L90 95M56 96L61 95L66 97L71 96L76 96L80 98L84 101M64 64L59 62L55 58L50 57L47 60L42 63L37 61M67 65L66 70L69 74L68 79L71 83L75 86L80 88M50 77L55 77L59 79L64 79L69 80L74 82L79 80M40 81L35 82L32 86L29 90L24 91L21 95L20 100M39 15L35 13L31 9L29 5L25 2L21 -1L16 -3M37 60L36 55L36 50L38 45L43 43L48 44L53 44M55 54L60 53L62 49L64 44L68 41L72 37L74 33M47 13L52 14L57 14L61 11L65 8L69 5L73 2M29 47L34 50L39 49L41 45L40 40L41 35L40 30M40 6L41 1L45 -1L50 -1L54 2L54 7L54 12M78 29L83 28L87 32L92 33L94 38L96 43L98 47M33 40L30 44L28 49L26 53L27 58L27 63L25 68M51 76L53 81L51 85L49 90L49 95L49 100L50 105M35 12L39 16L42 20L41 25L39 30L34 32L29 32M81 15L84 19L88 21L93 20L98 21L100 26L105 27M56 3L59 -1L60 -6L57 -10L57 -15L57 -20L54 -24M10 45L15 45L19 47L23 51L26 54L27 59L29 64M8 81L10 86L9 90L4 92L-1 92L-6 94L-10 94M85 71L84 67L81 62L79 58L78 53L80 48L83 45M42 76L44 81L48 84L48 89L46 93L46 98L43 102M65 67L60 67L56 68L52 72L47 71L42 71L37 71M20 25L17 29L19 34L17 38L14 42L10 46L6 47M74 39L69 36L65 34L61 31L57 27L55 23L53 18M28 98L25 94L21 91L18 87L18 82L14 78L10 76M48 97L47 102L44 106L39 107L35 111L30 111L26 108M54 61L50 58L48 54L49 49L48 44L48 39L44 35M10 70L8 65L10 60L10 56L14 52L18 49L23 49M50 55L46 52L42 49L37 49L33 52L30 56L29 61" stroke="#a8240c" stroke-width="1.1" fill="none" stroke-opacity="0.85"/><path d="M14 81L9 81L5 84L0 86L-3 90L-8 90M7 81L12 83L14 88L16 93L19 96L23 100M10 53L8 57L9 62L11 67L13 71L15 76M82 53L83 48L85 44L87 39L87 34L91 31M15 52L20 51L24 48L27 44L32 45L37 46M8 61L10 56L8 51L9 46L13 43L18 44M74 70L79 68L81 64L86 62L91 61L95 58M18 40L19 45L24 47L26 52L29 56L29 61M34 69L29 68L24 71L20 70L15 69L11 65M37 73L41 69L45 67L47 62L45 57L45 52M25 84L27 80L26 75L29 71L33 68L34 63M7 42L12 44L16 46L20 50L19 55L20 60M31 48L35 51L40 53L45 51L48 47L52 44M12 11L14 16L12 21L9 25L8 30L4 33M59 71L54 73L49 75L45 77L42 81L40 85M34 81L39 81L43 85L45 89L50 90L55 88M13 47L14 42L11 38L12 33L17 31L18 26M13 42L9 39L6 35L1 34L-3 35L-8 33M82 10L83 5L81 0L80 -5L76 -8L75 -12M13 68L18 67L21 63L22 58L23 53L26 50M53 94L56 98L57 103L54 107L49 108L46 111M59 32L58 37L60 42L60 47L60 52L63 56M76 81L81 79L85 82L88 86L89 91L89 96M16 63L21 65L25 67L26 72L30 75L32 79M76 50L77 55L74 59L70 62L68 66L68 71M74 66L69 66L64 66L59 65L55 62L51 60M11 28L6 28L3 24L-2 23L-6 20L-8 15M22 34L19 38L17 42L18 47L21 51L21 56M26 24L21 24L17 27L12 28L7 28L3 24M78 39L74 43L69 43L65 45L61 48L56 48M59 27L60 32L64 35L67 39L71 40L74 45M57 67L54 71L54 76L56 81L59 85L59 90M49 40L46 36L41 34L37 36L34 40L31 44M39 18L35 16L30 17L25 18L21 15L16 12" stroke="#d04c10" stroke-width="0.8" fill="none" stroke-opacity="0.85"/><path d="M62 2L66 6L72 5L78 7L83 11L88 15M85 56L83 62L82 68L85 73L90 76L95 80M4 18L10 19L15 15L21 13L26 9L29 5M8 45L6 50L8 56L6 61L3 67L2 73M89 84L84 88L78 88L73 91L67 91L62 94M75 10L80 12L86 12L92 9L98 9L102 13M7 48L4 43L-0 38L-4 34L-3 28L2 24M36 71L31 74L25 76L20 72L15 70L9 72M5 30L-1 31L-6 27L-9 22L-8 16L-4 12M44 84L42 78L42 72L44 67L47 62L49 56M73 65L78 70L81 74L87 77L89 82L87 88M46 5L50 0L56 -1L62 1L66 4L69 9M19 54L20 48L19 42L15 37L10 34L9 29M65 14L66 20L67 26L72 30L78 32L84 33M82 43L83 37L88 34L93 31L98 27L104 27M51 55L47 51L41 48L36 51L33 57L29 61" stroke="#c8b028" stroke-width="0.9" fill="none" stroke-opacity="0.8"/></g><ellipse cx="70" cy="30" rx="16" ry="22" fill="#b0a820" fill-opacity="0.48" filter="url(#b6)"/><path d="M47 55 L46 75 L47 100" stroke="#a8b030" stroke-width="1.8" fill="none" filter="url(#b1)" stroke-opacity="0.8"/><path d="M0 0H20L5 10L0 34ZM93 0H70L86 8L93 26Z" fill="#070302"/><rect x="93.2" y="0" width="6.8" height="100" fill="url(#cb1)"/><circle cx="6" cy="7" r="2.2" fill="none" stroke="#4a8080" stroke-width="1"/></svg>
<svg x="461.20" y="475.50" width="54.10" height="50.10" viewBox="0 0 100 100" preserveAspectRatio="none"><rect width="100" height="100" fill="#040c40"/><ellipse cx="46" cy="54" rx="45" ry="56" fill="#081a82" filter="url(#b2)"/><g filter="url(#b05)"><path d="M5 87h.1M67 4h.1M51 25h.1M81 86h.1M29 61h.1M47 30h.1M41 41h.1M44 95h.1M68 6h.1M34 97h.1M70 61h.1M60 69h.1M17 42h.1M27 21h.1M64 5h.1M18 72h.1M82 32h.1M79 84h.1M16 92h.1M17 48h.1M10 11h.1M62 84h.1M12 34h.1M57 60h.1M15 70h.1M11 93h.1M62 67h.1M85 25h.1M20 63h.1M82 93h.1M74 61h.1M34 79h.1M59 88h.1M70 50h.1M60 22h.1M28 77h.1M65 5h.1M20 43h.1M53 36h.1M36 95h.1M37 46h.1M86 34h.1M50 18h.1M78 83h.1M23 63h.1M24 84h.1M47 30h.1M89 49h.1M53 97h.1M28 46h.1M84 37h.1M79 63h.1M88 59h.1M82 50h.1M22 36h.1M46 62h.1M43 38h.1M26 52h.1M64 64h.1M5 27h.1M63 50h.1M28 59h.1M6 52h.1M86 37h.1M16 69h.1M56 34h.1M24 2h.1M11 80h.1M39 86h.1M89 74h.1M34 13h.1M84 19h.1M15 43h.1M26 29h.1M18 7h.1M4 93h.1M11 44h.1M60 58h.1M81 96h.1M56 44h.1M59 37h.1M18 49h.1M48 26h.1M43 38h.1M9 96h.1M50 58h.1M10 32h.1M6 88h.1M60 51h.1M65 45h.1M49 100h.1M12 68h.1M39 21h.1M17 59h.1M10 82h.1M40 32h.1M41 42h.1M42 32h.1M38 27h.1M70 60h.1M34 35h.1M33 97h.1M62 94h.1M82 73h.1M57 34h.1M56 13h.1M45 71h.1M48 51h.1M61 59h.1M53 57h.1M37 56h.1M2 62h.1M22 67h.1M8 55h.1M29 48h.1M78 73h.1M77 58h.1M81 99h.1M81 24h.1M13 34h.1M52 24h.1M91 53h.1M89 15h.1M3 52h.1M75 30h.1M89 14h.1M86 100h.1M67 67h.1M62 28h.1M3 68h.1M68 38h.1M35 10h.1M8 78h.1M38 73h.1M82 5h.1M4 92h.1M22 22h.1M47 75h.1M54 85h.1M90 9h.1M62 29h.1M71 75h.1M86 52h.1M25 81h.1M91 72h.1M59 55h.1M63 73h.1M61 27h.1M45 49h.1M24 66h.1M59 90h.1M44 69h.1M83 76h.1M66 56h.1M9 12h.1M42 50h.1M5 54h.1M8 31h.1M30 35h.1M7 15h.1M76 33h.1M51 26h.1M15 27h.1M6 18h.1M19 12h.1M67 86h.1M31 20h.1M20 51h.1M26 84h.1M21 43h.1M7 8h.1M62 9h.1M34 4h.1M22 92h.1M86 21h.1M78 95h.1M47 46h.1M80 18h.1M18 55h.1M45 50h.1M88 78h.1M3 75h.1M22 12h.1M32 54h.1M34 49h.1M82 37h.1M86 47h.1M80 49h.1M39 27h.1M35 91h.1M31 80h.1M67 6h.1M57 31h.1M4 81h.1M37 5h.1M31 33h.1M25 18h.1M47 77h.1M30 32h.1M90 55h.1" stroke="#0e28a4" stroke-width="3" stroke-linecap="round" fill="none" stroke-opacity="0.8"/><path d="M21 27L16 23L12 19L9 14L8 8L5 3L0 -1M6 16L3 21L-2 25L-6 29L-6 35L-10 40L-10 46M71 63L67 59L63 54L57 53L52 51L47 47L41 46M8 78L9 72L12 67L15 62L20 59L26 60L32 62M8 33L2 32L-4 31L-9 34L-15 36L-20 33L-24 29M31 86L27 81L22 78L19 73L13 71L8 68L2 69M74 61L79 65L84 68L89 72L94 75L97 80L95 86M84 66L81 71L77 76L71 77L65 77L59 77L55 72M82 46L86 50L91 53L97 56L99 62L96 67L90 68M17 54L12 52L6 54L1 52L-4 47L-7 42L-11 38M6 46L8 40L14 37L19 34L25 33L29 29L31 23M14 79L9 76L3 79L-2 81L-7 78L-13 76L-19 76M14 21L10 17L11 11L9 5L12 -0L16 -5L21 -8M28 48L25 53L22 58L18 62L12 65L8 69L7 75M18 46L12 48L6 49L1 46L-4 48L-10 46L-15 49M26 91L20 90L14 91L8 92L2 94L-2 98L-7 101M7 55L13 55L19 54L23 50L23 44L22 38L22 32M88 81L83 84L78 86L75 91L71 95L71 101L67 106M50 7L49 2L43 -1L42 -7L39 -13L35 -17L35 -23M83 76L83 70L82 64L76 61L71 59L65 59L60 63M74 96L77 101L81 105L81 111L83 117L82 123L85 128M35 8L30 4L25 3L19 2L13 -1L11 -7L8 -11M53 68L47 70L42 72L39 78L39 84L43 88L43 94M78 53L80 59L82 65L85 70L86 76L82 80L77 84M61 56L56 60L50 59L46 55L40 52L35 50L29 52M84 70L82 76L78 80L76 86L77 91L81 96L87 97M61 72L63 77L68 81L71 86L77 88L81 92L86 94M80 64L74 64L68 65L63 68L59 72L60 78L60 84M56 4L55 10L56 16L54 21L55 27L54 33L55 39M14 82L9 79L3 80L-3 80L-8 77L-9 71L-5 66M26 58L26 53L29 48L32 42L35 37L37 32L35 26M83 23L86 28L86 34L85 40L86 46L83 51L77 52M62 38L58 33L52 33L46 31L41 29L35 31L32 36M65 68L71 68L77 68L81 72L84 78L82 83L80 89M39 53L43 58L48 62L53 63L58 60L64 57L70 56M50 53L44 56L43 62L40 67L39 73L36 78L30 81M33 81L33 87L29 92L25 96L19 97L13 96L8 93M62 68L67 66L72 68L78 71L79 77L78 83L81 88M81 61L76 64L70 65L65 61L63 56L62 50L62 44M75 44L76 50L75 56L78 61L81 66L83 72L81 78M37 65L38 59L37 53L32 50L31 44L30 38L34 33M81 79L85 74L87 68L88 62L93 59L99 59L104 61M11 40L17 39L20 34L22 28L24 22L29 18L32 14M47 51L43 56L38 59L32 57L29 51L25 47L20 45M39 72L42 66L45 61L45 55L44 49L44 43L43 37M49 52L50 46L53 41L52 35L47 32L41 33L35 30M76 19L80 16L81 10L80 4L82 -2L81 -8L80 -14M8 72L2 71L-2 67L-8 66L-14 68L-17 73L-17 79M6 76L10 80L13 85L14 91L11 97L8 102L5 107M35 19L40 23L45 25L51 26L57 29L63 28L67 25M19 88L13 90L7 92L2 90L-4 87L-10 88L-14 92M60 27L64 24L68 19L74 19L80 18L86 19L90 23M65 65L69 69L71 75L73 80L70 86L65 89L64 95M31 47L29 41L31 35L35 31L41 29L47 29L53 29M23 5L20 10L20 16L22 22L23 27L29 30L34 33M9 37L14 40L19 43L25 45L31 42L33 37L38 33M43 41L45 36L50 33L56 32L61 29L66 25L70 21M63 76L59 72L57 66L53 61L47 59L43 55L43 49M38 48L33 51L28 54L25 60L23 65L21 71L24 76" stroke="#2454d0" stroke-width="1.0" fill="none" stroke-opacity="0.85"/><path d="M85 16L90 18L96 19L102 20L106 25L111 28L116 26M26 87L21 91L20 97L23 102L28 106L32 110L32 116M74 63L78 59L83 55L88 53L94 52L100 54L106 53M68 87L68 92L68 98L67 104L65 110L64 116L68 120M31 5L34 11L32 17L28 21L22 23L21 29L16 33M36 52L30 51L24 50L21 45L22 39L20 34L18 28M83 49L77 47L72 43L72 37L68 33L69 27L73 22M8 30L2 30L-3 27L-9 24L-13 20L-19 22L-23 26M80 61L86 60L91 64L94 69L99 72L105 70L108 65M8 95L12 100L11 106L12 112L11 118L5 120L2 125M63 68L57 71L51 71L46 73L40 73L34 71L28 69M50 59L46 63L41 67L39 73L35 77L29 76L24 79M59 55L53 55L48 58L42 58L37 61L31 62L27 66M18 47L24 46L27 41L33 38L34 32L36 27L39 22M15 52L9 53L4 50L-0 46L-2 40L-5 35L-10 33M29 56L35 53L37 47L34 42L37 36L37 30L33 26M61 12L55 9L52 4L49 -1L48 -7L45 -12L40 -15M35 44L36 50L33 55L34 60L38 65L42 70L45 74M17 31L11 30L7 34L2 38L-4 39L-6 44L-11 48M30 48L27 43L22 39L17 37L11 36L5 35L2 30M70 64L75 60L76 54L73 49L74 43L72 37L74 31M54 38L51 33L46 29L43 23L42 17L38 14L38 8M15 85L10 83L5 80L2 74L1 68L-1 63L-4 58" stroke="#8ab8f4" stroke-width="0.8" fill="none" stroke-opacity="0.9"/><path d="M37 13L34 8L31 3L26 -0L23 -5M53 37L58 34L62 30L65 25L69 20M20 79L16 84L13 89L14 95L19 98M65 6L63 1L57 -1L52 1L49 6M67 29L72 33L78 33L84 33L90 33M61 87L60 93L61 99L65 103L70 106M77 30L73 25L72 19L71 13L69 8" stroke="#e0b050" stroke-width="1.2" fill="none" stroke-opacity="0.9"/></g><path d="M47 30 L46 60 L47 100" stroke="#5a98f0" stroke-width="1.2" fill="none" filter="url(#b05)" stroke-opacity="0.7"/><path d="M46 88L47 100" stroke="#f08030" stroke-width="2.2"/><path d="M0 0H18L4 8L0 28ZM93 0H72L87 8L93 24Z" fill="#02030c"/><rect x="93.2" y="0" width="6.8" height="100" fill="url(#cb2)"/><circle cx="6" cy="7" r="2.2" fill="none" stroke="#4a8080" stroke-width="1"/></svg>
<svg x="516.20" y="475.50" width="53.80" height="50.10" viewBox="0 0 100 100" preserveAspectRatio="none"><rect width="100" height="100" fill="#020209"/><g filter="url(#b05)"><path d="M25 11L20 8L16 4L10 3L7 -2L5 -8M29 8L35 6L40 3L42 -3L47 -5L53 -4M44 13L48 9L51 3L53 -2L58 -6L63 -7M83 62L79 66L73 68L68 66L62 66L56 68M88 91L94 90L98 86L103 83L107 78L107 72M49 94L45 99L45 105L46 111L50 116L55 118M11 35L15 39L21 40L27 41L32 45L37 47M13 43L19 42L24 38L30 39L35 35L39 31M5 36L11 39L16 41L22 42L27 39L33 37M42 27L46 31L46 37L41 41L37 45L33 49M14 97L12 102L6 104L-0 105L-6 102L-11 100M22 79L22 73L27 69L28 63L33 60L38 57M14 82L19 81L25 78L31 77L37 77L42 79M40 14L38 19L41 24L47 27L51 31L55 35M20 83L25 80L31 78L36 80L39 86L41 91M43 27L49 26L54 22L60 23L65 25L66 31M37 44L31 43L25 45L20 42L17 36L18 31M69 65L73 69L79 71L84 74L88 78L94 80" stroke="#0c2494" stroke-width="1.4" fill="none" stroke-opacity="0.75"/><path d="M65 10L67 14L71 18L74 22L77 26M50 84L50 79L47 75L43 72L43 67M25 78L20 75L16 76L12 80L7 82M88 93L90 88L91 84L89 79L86 75" stroke="#2a66d8" stroke-width="1.4" fill="none" stroke-opacity="0.9"/></g><path d="M47 40 L46 100" stroke="#1438b8" stroke-width="1.2" fill="none" stroke-opacity="0.6"/><rect x="93.2" y="0" width="6.8" height="100" fill="url(#cb2)"/><circle cx="6" cy="7" r="2.2" fill="none" stroke="#4a8080" stroke-width="1"/></svg>
<svg x="571.30" y="475.50" width="52.90" height="50.10" viewBox="0 0 100 100" preserveAspectRatio="none"><rect width="100" height="100" fill="#2a0e05"/><ellipse cx="46" cy="54" rx="45" ry="54" fill="#4c1508" filter="url(#b2)"/><g filter="url(#b05)"><path d="M83 21h.1M12 13h.1M70 86h.1M91 68h.1M60 69h.1M45 56h.1M15 6h.1M80 81h.1M89 75h.1M55 18h.1M80 54h.1M80 79h.1M73 64h.1M74 44h.1M66 53h.1M57 97h.1M82 72h.1M56 25h.1M78 42h.1M35 86h.1M45 70h.1M19 76h.1M88 62h.1M78 58h.1M67 46h.1M30 93h.1M61 93h.1M32 27h.1M51 60h.1M7 10h.1M56 5h.1M14 95h.1M88 90h.1M28 97h.1M36 81h.1M29 95h.1M17 8h.1M19 61h.1M8 67h.1M76 81h.1M77 69h.1M48 54h.1M26 55h.1M55 51h.1M82 79h.1M30 90h.1M32 52h.1M11 69h.1M7 17h.1M81 92h.1M49 80h.1M46 5h.1M15 62h.1M74 50h.1M86 92h.1M4 11h.1M62 94h.1M54 77h.1M56 66h.1M9 84h.1M76 86h.1M89 74h.1M13 59h.1M3 75h.1M87 25h.1M13 82h.1M84 26h.1M76 74h.1M10 61h.1M90 38h.1M3 3h.1M59 96h.1M19 67h.1M49 48h.1M60 42h.1M32 46h.1M69 62h.1M28 36h.1M9 85h.1M42 16h.1M86 62h.1M76 42h.1M23 24h.1M60 96h.1M28 50h.1M46 61h.1M75 64h.1M3 69h.1M43 92h.1M76 78h.1M91 86h.1M24 96h.1M56 55h.1M32 83h.1M56 60h.1M51 95h.1M52 66h.1M2 4h.1M35 79h.1M73 52h.1M32 62h.1M87 33h.1M64 9h.1M47 24h.1M91 56h.1M70 91h.1M49 58h.1M54 76h.1M80 57h.1M47 25h.1M72 95h.1M69 24h.1M92 56h.1M81 16h.1M53 15h.1M52 14h.1M74 50h.1M78 33h.1M51 19h.1M20 25h.1M53 7h.1M83 59h.1M55 44h.1M88 66h.1M23 40h.1M13 54h.1M4 28h.1M59 40h.1M29 70h.1M28 10h.1M67 72h.1M17 15h.1M83 58h.1M3 18h.1M74 7h.1M16 78h.1M42 18h.1M15 2h.1M10 52h.1M35 3h.1M56 83h.1M17 77h.1M73 13h.1M68 38h.1M91 45h.1M63 78h.1M7 66h.1M6 31h.1M51 11h.1M76 7h.1M39 8h.1M67 86h.1M46 18h.1M82 97h.1M60 87h.1M64 91h.1M88 35h.1M46 60h.1M79 11h.1M47 59h.1M32 33h.1M63 97h.1M76 96h.1M80 52h.1M70 21h.1M18 29h.1M21 4h.1M29 40h.1M55 50h.1M48 66h.1M32 49h.1M65 59h.1M49 71h.1M31 93h.1M41 35h.1M54 56h.1M88 17h.1M69 27h.1M5 51h.1M53 22h.1M86 82h.1M3 100h.1M42 96h.1M41 92h.1M31 18h.1M23 66h.1M46 49h.1M78 19h.1M52 32h.1M10 37h.1M20 74h.1M76 84h.1M70 70h.1M72 60h.1M19 31h.1M53 54h.1M19 90h.1M51 57h.1M60 28h.1M25 88h.1M62 44h.1M71 91h.1M45 90h.1M54 30h.1M63 31h.1M35 79h.1M58 71h.1M86 2h.1M85 74h.1M27 15h.1M13 59h.1M74 35h.1M63 63h.1M65 86h.1M81 32h.1M38 90h.1" stroke="#74190a" stroke-width="3.2" stroke-linecap="round" fill="none" stroke-opacity="0.8"/><path d="M73 87L78 89L83 89L87 92L92 93L96 95L98 100M62 38L58 40L54 44L50 45L45 45L41 49L36 50M10 74L13 78L17 81L19 85L20 90L17 94L16 99M42 54L40 50L40 45L42 40L42 35L41 30L40 25M66 87L70 84L71 79L76 77L79 73L83 71L87 68M7 8L3 10L-2 8L-7 7L-10 3L-11 -1L-13 -6M64 75L63 70L62 65L64 61L66 56L70 53L74 50M67 60L68 65L70 70L74 72L79 71L83 68L88 66M53 44L55 49L59 51L62 55L66 57L71 58L76 55M83 54L78 55L73 55L68 54L64 51L62 47L63 42M7 4L11 1L16 -2L20 -4L25 -4L30 -3L35 -2M78 40L73 41L69 37L68 33L64 30L61 26L56 25M54 60L51 63L51 68L50 73L46 77L48 82L47 87M35 91L30 90L26 87L25 82L28 77L32 76L35 72M19 8L24 8L28 12L27 17L29 22L33 24L37 28M22 71L23 66L20 62L18 58L14 55L9 53L4 52M33 60L28 58L23 57L18 55L14 53L9 52L4 52M86 29L90 25L95 24L99 21L104 21L109 21L114 23M77 54L77 59L76 64L72 67L67 68L63 65L58 64M84 34L79 36L77 41L76 46L76 51L75 56L76 60M23 41L27 44L31 47L35 49L39 53L40 57L40 62M85 32L88 28L92 25L96 21L97 16L101 13L105 10M61 7L56 9L54 14L55 18L58 22L60 27L61 32M69 67L66 63L61 61L59 56L57 52L54 48L49 48M65 2L70 2L74 5L79 4L84 3L87 -1L92 -3M23 85L27 84L32 83L36 80L41 78L43 74L46 70M76 14L80 16L82 21L85 25L87 30L91 31L96 34M60 61L61 56L64 52L65 47L63 42L64 37L67 33M69 62L73 60L78 61L83 63L87 63L92 65L93 70M22 13L18 10L14 7L9 5L4 6L0 9L-0 14M83 96L86 92L88 87L88 82L84 79L82 75L79 71M78 41L74 38L73 33L71 29L68 24L70 20L73 16M15 54L20 54L23 50L27 48L31 45L35 42L35 37M44 81L49 79L53 76L57 74L60 70L58 65L60 61M31 44L36 42L38 37L38 32L36 28L34 23L29 21M5 47L6 52L9 56L13 59L17 61L22 60L25 55M38 47L37 42L36 37L39 32L43 31L48 33L52 35M74 27L69 29L64 28L60 31L56 34L55 39L51 42M83 26L81 22L79 18L79 13L79 8L80 3L83 -2M75 41L78 37L82 33L86 31L88 26L86 22L88 17M10 38L14 41L19 41L24 38L26 34L28 30L32 26M63 51L61 55L60 60L60 65L62 70L66 72L68 77M29 77L24 77L20 80L15 82L11 84L6 85L2 88M36 55L31 56L26 56L22 53L20 49L17 45L16 40M60 76L64 77L69 77L74 78L78 75L83 73L85 69M41 97L46 97L49 101L53 104L56 108L61 110L66 109M64 68L63 63L60 60L55 60L50 62L46 65L45 70M30 82L29 77L28 72L28 67L26 62L24 58L26 53M88 22L85 19L82 15L82 10L79 5L76 2L72 -1M72 57L76 54L81 54L85 52L89 49L94 49L98 47M42 13L45 18L49 21L51 25L53 30L58 31L60 35M69 80L65 83L65 88L66 92L64 97L65 102L63 106M55 54L59 52L61 47L62 42L66 39L70 36L74 33M73 3L77 -0L79 -4L84 -7L85 -12L87 -16L88 -21M35 56L39 60L44 59L48 62L49 67L48 72L50 76M53 19L52 14L48 11L46 7L44 2L43 -3L43 -8M22 21L17 19L13 16L8 15L5 11L5 6L7 1M79 40L75 37L72 34L68 31L65 26L63 22L60 18M83 79L88 81L93 81L96 85L101 86L106 86L111 85" stroke="#a8240c" stroke-width="1.1" fill="none" stroke-opacity="0.85"/><path d="M62 51L62 46L61 41L60 36L62 31L65 27M9 78L11 73L13 69L16 65L15 60L11 57M88 77L92 74L94 69L96 65L98 60L101 56M89 15L94 18L99 18L102 14L106 11L110 8M12 9L7 11L3 14L2 19L-3 21L-8 21M59 4L54 2L52 -2L50 -7L48 -11L46 -16M21 41L16 43L12 45L7 47L2 46L-2 44M49 56L50 51L51 46L55 44L58 39L60 35M19 91L15 87L15 82L17 77L15 73L15 68M90 69L86 73L83 77L79 78L74 78L69 76M79 29L75 31L70 33L65 30L61 32L56 34M89 67L85 63L82 59L81 55L81 50L79 45M65 36L60 38L56 40L51 40L47 37L43 35M58 94L63 94L68 96L72 99L77 99L81 95M53 53L52 48L52 43L49 39L45 37L44 32M8 70L12 67L16 64L21 64L25 61L29 59M14 97L9 96L4 98L-1 97L-5 95L-7 90M17 92L20 96L25 98L26 103L30 106L34 110M84 60L80 63L78 68L74 70L69 72L68 77M14 3L18 6L22 9L25 13L28 17L32 18M87 44L83 47L81 51L79 56L74 57L70 55M25 4L28 -0L31 -4L32 -9L30 -14L25 -16M35 91L34 95L30 98L25 101L23 105L21 110M67 19L62 20L57 18L53 16L49 13L48 8M80 94L79 99L82 102L87 103L92 100L95 97M62 74L61 78L61 83L59 88L57 93L55 97M56 30L58 35L58 40L59 45L57 49L56 54M62 86L67 87L69 92L71 97L69 101L65 104M24 45L29 44L34 45L39 46L43 43L45 39M70 24L68 28L63 29L59 32L57 37L57 42" stroke="#d04c10" stroke-width="0.8" fill="none" stroke-opacity="0.85"/><path d="M18 8L12 9L8 13L2 15L-3 18L-8 21M28 37L34 38L39 42L44 45L47 50L53 51M36 67L35 61L31 57L25 54L20 52L17 46M78 74L83 70L85 65L82 59L81 53L79 48M53 50L58 47L60 41L58 35L56 29L57 23M28 67L22 68L17 64L13 59L8 56L2 54M4 89L10 91L14 96L14 102L14 108L11 113M16 57L13 61L8 65L2 65L-4 66L-10 65M42 41L44 35L50 32L56 31L61 33L66 37M9 28L6 23L9 18L10 12L9 6L9 -0M80 9L83 4L85 -2L85 -8L80 -11L74 -9M52 32L46 35L42 39L41 45L36 48L32 53M68 37L74 37L80 38L83 43L88 46L90 52M9 24L3 23L-2 24L-8 25L-14 24L-19 20" stroke="#c8b028" stroke-width="0.9" fill="none" stroke-opacity="0.8"/></g><ellipse cx="50" cy="70" rx="30" ry="20" fill="#b0a820" fill-opacity="0.36000000000000004" filter="url(#b6)"/><path d="M47 55 L46 75 L47 100" stroke="#a8b030" stroke-width="1.8" fill="none" filter="url(#b1)" stroke-opacity="0.8"/><path d="M0 0H20L5 10L0 34ZM93 0H70L86 8L93 26Z" fill="#070302"/><rect x="93.2" y="0" width="6.8" height="100" fill="url(#cb1)"/><circle cx="6" cy="7" r="2.2" fill="none" stroke="#4a8080" stroke-width="1"/></svg>
<svg x="625.50" y="475.50" width="53.10" height="50.10" viewBox="0 0 100 100" preserveAspectRatio="none"><rect width="100" height="100" fill="#040c40"/><ellipse cx="46" cy="54" rx="45" ry="56" fill="#081a82" filter="url(#b2)"/><g filter="url(#b05)"><path d="M76 61h.1M67 3h.1M60 74h.1M45 49h.1M24 42h.1M55 87h.1M54 46h.1M30 76h.1M31 8h.1M52 53h.1M77 45h.1M64 38h.1M46 10h.1M44 22h.1M38 28h.1M66 39h.1M38 43h.1M59 41h.1M70 71h.1M32 58h.1M59 4h.1M39 30h.1M34 42h.1M88 75h.1M29 6h.1M69 40h.1M5 31h.1M16 100h.1M25 50h.1M5 87h.1M47 4h.1M56 86h.1M45 56h.1M86 43h.1M52 88h.1M62 52h.1M32 62h.1M71 74h.1M21 32h.1M50 13h.1M71 28h.1M28 29h.1M22 84h.1M36 10h.1M74 79h.1M7 15h.1M6 52h.1M60 28h.1M74 18h.1M32 43h.1M40 56h.1M52 19h.1M6 39h.1M35 45h.1M7 87h.1M11 14h.1M42 59h.1M11 84h.1M45 71h.1M41 47h.1M38 40h.1M40 65h.1M66 58h.1M14 20h.1M48 25h.1M35 76h.1M85 12h.1M26 47h.1M14 82h.1M90 77h.1M75 30h.1M22 9h.1M43 41h.1M11 70h.1M35 67h.1M82 12h.1M47 78h.1M66 36h.1M44 20h.1M21 27h.1M6 63h.1M4 57h.1M65 85h.1M71 48h.1M44 72h.1M44 29h.1M9 17h.1M29 61h.1M26 23h.1M47 7h.1M31 95h.1M20 50h.1M29 28h.1M7 3h.1M4 42h.1M42 57h.1M38 52h.1M63 61h.1M60 11h.1M78 54h.1M79 76h.1M14 79h.1M5 78h.1M75 7h.1M60 19h.1M73 68h.1M84 26h.1M32 46h.1M3 47h.1M34 35h.1M17 31h.1M76 39h.1M34 29h.1M75 65h.1M11 16h.1M7 9h.1M87 12h.1M45 53h.1M31 28h.1M20 20h.1M28 66h.1M66 27h.1M30 18h.1M20 40h.1M58 3h.1M8 17h.1M70 83h.1M36 74h.1M5 70h.1M11 4h.1M16 72h.1M86 11h.1M67 8h.1M14 29h.1M82 64h.1M72 38h.1M59 12h.1M73 4h.1M18 27h.1M2 20h.1M39 52h.1M82 80h.1M28 7h.1M83 81h.1M44 48h.1M42 42h.1M11 16h.1M24 79h.1M22 93h.1M34 29h.1M63 29h.1M46 64h.1M78 27h.1M72 97h.1M54 99h.1M90 43h.1M87 54h.1M8 57h.1M34 89h.1M23 48h.1M11 39h.1M51 20h.1M4 43h.1M81 8h.1M29 45h.1M70 76h.1M79 42h.1M46 87h.1M78 59h.1M49 46h.1M88 92h.1M90 49h.1M18 91h.1M28 19h.1M13 92h.1M58 49h.1M70 94h.1M39 79h.1M68 7h.1M65 5h.1M74 23h.1M86 18h.1M47 2h.1M31 51h.1M15 66h.1M78 91h.1M66 28h.1M26 70h.1M65 49h.1M26 26h.1M41 44h.1M39 48h.1M48 31h.1M45 91h.1M16 23h.1M28 78h.1M33 4h.1M83 65h.1M11 62h.1M40 47h.1" stroke="#0e28a4" stroke-width="3" stroke-linecap="round" fill="none" stroke-opacity="0.8"/><path d="M10 71L13 66L11 60L6 57L1 55L-5 55L-11 56M16 78L22 77L26 81L28 87L34 89L39 88L45 90M68 29L66 23L62 19L56 17L52 13L48 9L42 8M81 86L86 90L90 94L96 94L102 92L105 86L108 82M48 73L53 70L54 64L58 59L58 53L58 47L61 42M57 47L52 50L48 54L42 55L36 57L32 61L33 67M59 35L64 31L67 26L73 23L77 20L80 14L83 9M20 60L26 62L31 60L37 57L43 58L47 62L48 68M9 89L12 83L17 81L22 77L26 72L26 66L23 61M73 88L73 82L71 76L67 71L65 66L64 60L58 57M82 36L76 38L71 40L69 46L69 52L67 57L67 63M31 38L34 33L37 28L40 23L44 19L47 13L50 8M17 82L20 77L22 71L28 69L34 68L40 69L46 67M36 25L42 26L47 28L49 34L50 40L48 45L43 49M83 6L79 10L74 14L69 16L63 17L57 20L52 23M88 86L83 85L77 82L72 79L69 74L63 72L58 69M31 43L30 37L28 32L30 26L30 20L26 16L26 10M27 14L23 18L18 21L12 22L6 21L3 16L4 10M39 51L45 53L48 58L53 61L56 66L59 71L63 76M45 54L40 51L36 47L35 41L33 35L32 30L28 25M10 78L16 77L21 74L25 70L30 66L34 61L39 58M20 66L23 60L22 55L17 51L12 48L10 42L6 38M31 62L26 58L21 56L15 54L12 49L14 43L19 40M84 22L90 23L96 22L101 26L106 29L112 32L117 33M8 15L9 10L14 6L14 -0L11 -5L7 -10L6 -16M56 43L51 39L45 38L40 42L34 43L28 40L24 36M24 91L23 85L18 81L15 76L14 70L10 66L4 66M16 29L22 29L27 27L33 27L39 26L45 23L51 24M7 27L1 27L-5 26L-10 24L-16 26L-21 29L-24 34M61 29L67 26L73 24L78 23L83 27L89 27L95 24M80 12L76 7L70 6L65 8L59 10L53 11L49 15M61 78L65 83L69 87L71 93L73 99L71 105L73 110M8 95L3 91L-3 90L-8 87L-13 84L-16 78L-21 75M25 27L29 32L31 38L33 43L39 44L45 42L47 36M79 81L75 85L74 91L70 96L65 98L59 99L54 96M39 49L41 55L44 60L46 65L47 71L52 75L58 77" stroke="#2454d0" stroke-width="1.0" fill="none" stroke-opacity="0.85"/><path d="M22 3L27 6L32 9L38 11L41 16L42 22L47 26M38 63L43 60L49 61L55 59L60 56L66 57L71 55M10 94L9 100L11 106L7 111L7 117L12 121L18 121M13 17L8 20L5 26L0 29L-6 30L-11 29L-17 28M32 39L38 38L44 38L49 36L54 31L58 28L60 22M69 52L66 58L63 63L63 69L67 73L73 73L79 73M68 40L74 40L79 43L81 49L79 54L78 60L82 65M65 68L71 69L76 67L81 63L83 57L89 55L92 49M57 93L61 98L66 102L71 104L76 108L79 113L84 115M7 29L10 34L16 37L21 39L24 44L29 47L35 48M56 8L60 3L66 2L72 2L78 0L84 2L88 6M87 72L82 73L76 75L70 77L65 80L62 85L60 91M40 20L44 15L47 10L53 9L59 10L65 12L70 15M74 44L77 49L79 55L80 61L86 63L91 66L97 66" stroke="#8ab8f4" stroke-width="0.8" fill="none" stroke-opacity="0.9"/><path d="M58 93L55 98L57 104L60 108L66 111M47 47L43 42L44 36L44 30L40 26M80 17L74 16L69 17L63 17L57 14M28 91L22 89L19 84L18 78L15 73" stroke="#e0b050" stroke-width="1.2" fill="none" stroke-opacity="0.9"/></g><path d="M47 30 L46 60 L47 100" stroke="#5a98f0" stroke-width="1.2" fill="none" filter="url(#b05)" stroke-opacity="0.7"/><path d="M46 88L47 100" stroke="#f08030" stroke-width="2.2"/><path d="M0 0H18L4 8L0 28ZM93 0H72L87 8L93 24Z" fill="#02030c"/><rect x="93.2" y="0" width="6.8" height="100" fill="url(#cb2)"/><circle cx="6" cy="7" r="2.2" fill="none" stroke="#4a8080" stroke-width="1"/></svg>
<svg x="680.00" y="475.50" width="53.90" height="50.10" viewBox="0 0 100 100" preserveAspectRatio="none"><rect width="100" height="100" fill="#020209"/><g filter="url(#b05)"><path d="M25 18L23 23L22 29L25 35L28 40L30 45M34 80L37 85L41 90L46 92L52 93L58 93M5 70L2 64L-0 59L3 53L5 48L8 42M85 87L90 89L93 95L95 101L100 103L106 103M33 41L34 47L35 53L32 58L27 62L21 61M5 29L10 26L14 22L16 16L21 13L26 14M60 75L62 69L64 63L68 59L73 57L79 58M81 29L75 30L71 35L69 41L64 43L59 46" stroke="#0c2494" stroke-width="1.4" fill="none" stroke-opacity="0.75"/><path d="M14 45L13 40L10 36L9 31L6 27M89 45L93 43L98 42L103 41L108 42" stroke="#2a66d8" stroke-width="1.4" fill="none" stroke-opacity="0.9"/></g><path d="M47 40 L46 100" stroke="#1438b8" stroke-width="1.2" fill="none" stroke-opacity="0.35"/><rect x="93.2" y="0" width="6.8" height="100" fill="url(#cb2)"/><circle cx="6" cy="7" r="2.2" fill="none" stroke="#4a8080" stroke-width="1"/></svg>
<text class="r" x="485.70" y="353.90" font-size="7.5" text-anchor="middle" fill="#000">AAV-SYN</text>
<text class="r" x="653.00" y="353.90" font-size="7.5" text-anchor="middle" fill="#000">AAV-SYN-VIM</text>
<path d="M414.2 359.5H564.2M576.2 359.5H723.1" stroke="#444" stroke-width="0.8"/>
<text class="r" x="486.50" y="367.10" font-size="7.4" text-anchor="middle" fill="#000">Flow Velocity</text>
<text class="r" x="543.10" y="367.10" font-size="7.4" text-anchor="middle" fill="#000">Volumentric Flow</text>
<text class="r" x="650.30" y="367.10" font-size="7.4" text-anchor="middle" fill="#000">Flow Velocity</text>
<text class="r" x="706.40" y="367.10" font-size="7.4" text-anchor="middle" fill="#000">Volumentric Flow</text>
<text class="r" x="404.20" y="397.60" font-size="7.2" text-anchor="middle" fill="#000" transform="rotate(-90 404.20 397.60)">Sham</text>
<text class="r" x="404.20" y="448.80" font-size="7.2" text-anchor="middle" fill="#000" transform="rotate(-90 404.20 448.80)">MCAO/R</text>
<text class="r" x="404.20" y="497.30" font-size="7.2" text-anchor="middle" fill="#000" transform="rotate(-90 404.20 497.30)">NBP</text>
<svg x="68.60" y="557.50" width="50.70" height="50.50" viewBox="0 0 100 100" preserveAspectRatio="none"><rect width="100" height="100" fill="#1c1c22"/><path d="M16 69h.1M63 48h.1M22 79h.1M81 51h.1M51 24h.1M0 37h.1M59 7h.1M79 23h.1M23 4h.1M100 74h.1M88 62h.1M3 33h.1M50 12h.1M95 37h.1M15 82h.1M12 93h.1M45 55h.1M34 48h.1M19 4h.1M87 23h.1M78 21h.1M97 89h.1M75 76h.1M58 73h.1M12 48h.1M83 20h.1M92 89h.1M41 37h.1M45 39h.1M99 39h.1M3 9h.1M72 99h.1M50 49h.1M55 75h.1M22 61h.1M56 62h.1M18 17h.1M35 93h.1M35 60h.1M31 10h.1" stroke="#2020a0" stroke-width="2.6" stroke-linecap="round" fill="none" stroke-opacity="0.8"/><path d="M7 81h.1M78 37h.1M68 68h.1M90 96h.1M41 99h.1M96 59h.1M88 49h.1M38 25h.1M88 16h.1M7 81h.1M77 48h.1M84 5h.1M26 29h.1M42 17h.1M7 34h.1M90 98h.1M75 48h.1M25 96h.1M53 73h.1M3 21h.1M84 80h.1M88 60h.1M43 58h.1M85 31h.1M53 28h.1" stroke="#c02030" stroke-width="2.4" stroke-linecap="round" fill="none" stroke-opacity="0.9"/><path d="M77 1h.1M69 95h.1M2 59h.1M64 85h.1M58 26h.1M41 96h.1M91 13h.1M9 9h.1M3 45h.1M14 87h.1M66 13h.1M54 32h.1M49 22h.1M17 18h.1M38 71h.1M55 5h.1M71 87h.1M77 79h.1M1 46h.1M6 76h.1M18 71h.1M25 70h.1M31 4h.1M39 31h.1M90 30h.1M50 55h.1M95 10h.1M60 51h.1M73 97h.1M31 70h.1M53 56h.1M6 81h.1M98 36h.1M32 99h.1M11 8h.1M7 81h.1M76 45h.1M62 2h.1M64 44h.1M52 39h.1M40 23h.1M5 43h.1M25 70h.1M82 72h.1M46 24h.1M39 49h.1M63 96h.1M9 48h.1M49 72h.1M89 78h.1M63 76h.1M67 86h.1M70 68h.1M25 92h.1M39 61h.1M82 96h.1M99 1h.1M31 31h.1M39 15h.1M55 8h.1M30 94h.1M74 46h.1M11 96h.1M70 21h.1M34 64h.1M68 26h.1M95 32h.1M25 85h.1M15 68h.1M20 60h.1M28 38h.1M94 47h.1M44 62h.1M28 17h.1M38 27h.1M19 96h.1M3 81h.1M93 70h.1M2 50h.1M4 61h.1M70 24h.1M1 54h.1M9 31h.1M45 89h.1M37 13h.1M79 82h.1M53 5h.1M19 40h.1M55 23h.1M80 84h.1M93 88h.1M2 58h.1M8 90h.1M75 76h.1M19 6h.1M82 61h.1M62 47h.1M80 34h.1M27 35h.1M30 63h.1M89 7h.1M7 51h.1M68 19h.1M27 6h.1M4 50h.1M68 65h.1M16 10h.1M93 54h.1M41 69h.1M73 52h.1M8 83h.1M21 4h.1M35 53h.1M63 17h.1M71 49h.1M16 85h.1M81 91h.1M68 22h.1M78 90h.1M53 91h.1M97 39h.1M94 94h.1M79 1h.1M35 61h.1M61 76h.1M65 16h.1M93 54h.1M88 21h.1M100 55h.1M78 74h.1M88 36h.1M8 41h.1M18 54h.1M81 36h.1M13 3h.1M42 58h.1M3 67h.1M21 11h.1M93 52h.1M90 51h.1M12 24h.1M42 64h.1M77 75h.1M65 25h.1M43 38h.1M49 27h.1M54 46h.1M4 82h.1M59 80h.1M74 73h.1" stroke="#58e848" stroke-width="3.3" stroke-linecap="round" fill="none"/><path d="M99 38h.1M39 0h.1M66 58h.1M58 100h.1M20 23h.1M73 81h.1M48 5h.1M37 83h.1M50 46h.1M39 63h.1M60 69h.1M87 75h.1M37 25h.1M78 79h.1M93 20h.1M85 89h.1M8 31h.1M63 15h.1M83 26h.1M68 30h.1M22 21h.1M50 71h.1M22 69h.1M34 65h.1M37 19h.1M14 6h.1M70 41h.1M12 88h.1M65 2h.1M72 59h.1M44 50h.1M96 37h.1M64 64h.1M37 35h.1M75 64h.1M46 51h.1M22 79h.1M2 64h.1M45 22h.1M59 58h.1M9 49h.1M17 80h.1M33 33h.1M22 5h.1M19 15h.1M62 85h.1M22 11h.1M53 12h.1M41 76h.1M20 70h.1M54 8h.1M24 60h.1M10 20h.1M58 82h.1M52 66h.1M1 30h.1M32 91h.1M36 78h.1M3 50h.1M89 77h.1M58 18h.1M93 8h.1M96 78h.1M72 53h.1M16 34h.1M66 66h.1M39 80h.1M5 29h.1M9 32h.1M79 75h.1M15 31h.1M11 66h.1M44 23h.1M37 87h.1M43 69h.1" stroke="#d0e048" stroke-width="3.0999999999999996" stroke-linecap="round" fill="none"/><path d="M38 0V30H76V0M38 30L2 100M76 30L98 100" stroke="#f4f4f4" stroke-width="1.6" stroke-dasharray="6 3.5" fill="none"/></svg>
<svg x="68.60" y="609.30" width="50.70" height="50.70" viewBox="0 0 100 100" preserveAspectRatio="none"><rect width="100" height="100" fill="#1c1c20"/><path d="M26 2h.1M16 53h.1M87 47h.1M24 59h.1M79 93h.1M56 19h.1M56 50h.1M21 10h.1M87 28h.1M87 57h.1M0 90h.1M98 18h.1M69 4h.1M89 14h.1M62 75h.1M59 88h.1M18 97h.1M65 11h.1M4 21h.1M12 38h.1M12 29h.1M85 70h.1M28 12h.1M9 31h.1M7 14h.1M99 33h.1M83 6h.1M16 5h.1M53 87h.1M85 37h.1M80 39h.1M52 29h.1M33 64h.1M39 20h.1M34 4h.1M38 92h.1M56 27h.1M47 53h.1M14 54h.1M27 11h.1M23 34h.1M72 5h.1M48 58h.1M85 14h.1M78 34h.1M13 67h.1M71 99h.1M26 70h.1M94 53h.1M69 12h.1" stroke="#2424b0" stroke-width="3.2" stroke-linecap="round" fill="none" stroke-opacity="0.8"/><path d="M29 40h.1M19 12h.1M37 64h.1M51 52h.1M52 75h.1M74 33h.1M11 14h.1M36 42h.1M70 10h.1M21 74h.1M85 26h.1M56 55h.1M26 50h.1M6 94h.1M24 91h.1M89 41h.1M17 29h.1M93 6h.1M26 27h.1M36 98h.1M44 92h.1M65 1h.1M36 33h.1M19 23h.1M22 89h.1M56 45h.1M29 63h.1M35 2h.1M16 81h.1M69 69h.1" stroke="#d02838" stroke-width="2.6" stroke-linecap="round" fill="none" stroke-opacity="0.9"/><path d="M43 62h.1M2 63h.1M84 62h.1M52 69h.1M78 41h.1M11 64h.1M65 94h.1M3 58h.1M91 4h.1M68 65h.1M83 54h.1M68 79h.1M22 1h.1M71 16h.1M12 11h.1M89 88h.1M48 73h.1M29 12h.1M61 27h.1M5 72h.1M0 66h.1M19 29h.1M36 74h.1M64 8h.1M32 54h.1M96 44h.1M81 82h.1M76 25h.1M14 79h.1M22 49h.1M42 61h.1M95 22h.1M7 77h.1M23 56h.1M27 86h.1M63 82h.1M35 20h.1M67 19h.1M6 99h.1M85 9h.1M41 8h.1M6 60h.1M79 96h.1M90 39h.1M3 66h.1M49 12h.1M24 16h.1M93 32h.1M98 57h.1M72 78h.1M23 85h.1M93 9h.1M31 26h.1M60 78h.1M87 48h.1M99 64h.1M72 44h.1M62 59h.1M80 51h.1M33 28h.1M36 27h.1M56 99h.1M99 26h.1M41 57h.1M34 7h.1M21 87h.1M45 5h.1M60 24h.1M90 73h.1M3 32h.1M9 29h.1M80 83h.1M89 47h.1M57 57h.1M27 95h.1M17 94h.1M21 78h.1M48 5h.1M79 57h.1M11 100h.1M86 63h.1M9 88h.1M4 96h.1M77 79h.1M91 65h.1M38 43h.1M40 51h.1M68 64h.1M49 76h.1M2 91h.1M25 31h.1M73 49h.1M36 9h.1M71 47h.1M31 41h.1M57 97h.1M63 32h.1M12 28h.1M18 19h.1M75 38h.1M32 16h.1M74 90h.1M70 26h.1M46 11h.1M29 13h.1M50 68h.1M52 76h.1M86 78h.1M43 64h.1M60 69h.1M77 84h.1M46 79h.1M45 85h.1M45 85h.1M13 95h.1M6 99h.1M75 10h.1M30 27h.1M43 23h.1M17 52h.1" stroke="#40d040" stroke-width="2.2" stroke-linecap="round" fill="none" stroke-opacity="0.9"/><g filter="url(#b05)"><path d="M71 35l-0 -0M9 8l-2 -2M4 95l2 4M69 25l-1 -1M87 4l2 2M92 5l-1 2M22 10l-1 -3M76 24l2 -1M40 38l3 3M58 80l0 3M58 16l-0 0M9 67l-2 -4" stroke="#58e030" stroke-width="9.5" stroke-linecap="round" fill="none"/><path d="M71 35h.1M9 8h.1M4 95h.1M69 25h.1M87 4h.1M92 5h.1M22 10h.1M76 24h.1M40 38h.1M58 80h.1M58 16h.1M9 67h.1" stroke="#b8f858" stroke-width="4.75" stroke-linecap="round" fill="none"/></g></svg>
<svg x="120.60" y="557.50" width="50.90" height="50.50" viewBox="0 0 100 100" preserveAspectRatio="none"><rect width="100" height="100" fill="#0b0b2c"/><path d="M63 47h.1M56 36h.1M20 49h.1M30 33h.1M19 91h.1M43 20h.1M3 21h.1M87 34h.1M67 23h.1M65 45h.1M74 53h.1M38 28h.1M59 83h.1M69 48h.1M33 89h.1M85 15h.1M68 77h.1M68 96h.1M88 25h.1M100 33h.1M38 98h.1M17 40h.1M63 27h.1M27 79h.1M61 74h.1M79 87h.1M89 82h.1M98 50h.1M70 51h.1M97 66h.1M43 66h.1M29 13h.1M39 14h.1M0 9h.1M45 76h.1M5 64h.1M11 51h.1M30 45h.1M71 41h.1M39 73h.1M12 35h.1M70 83h.1M98 26h.1M63 31h.1M70 85h.1M14 35h.1M94 35h.1M63 82h.1M28 78h.1M0 34h.1M17 35h.1M21 3h.1M80 17h.1M57 55h.1M85 85h.1M62 17h.1M76 10h.1M93 31h.1M25 22h.1M40 79h.1M85 75h.1M73 24h.1M32 30h.1M43 87h.1M100 8h.1M96 92h.1M46 69h.1M78 19h.1M62 98h.1M88 91h.1M8 71h.1M49 91h.1M17 55h.1M12 80h.1M72 3h.1M31 14h.1M64 63h.1M6 95h.1M97 44h.1M57 36h.1M61 40h.1M44 75h.1M19 30h.1M76 22h.1M7 91h.1M16 41h.1M31 26h.1M35 54h.1M12 53h.1M5 8h.1M20 24h.1M34 29h.1M84 66h.1M47 77h.1M69 32h.1M62 75h.1M53 75h.1M63 93h.1M26 67h.1M98 53h.1M91 9h.1M72 27h.1M75 42h.1M54 25h.1M26 87h.1M64 63h.1M12 29h.1M97 20h.1M54 70h.1M51 55h.1M97 78h.1M24 43h.1M42 68h.1M67 26h.1M69 43h.1M2 29h.1M38 20h.1M67 99h.1M93 63h.1M86 49h.1" stroke="#2020a0" stroke-width="2.6" stroke-linecap="round" fill="none" stroke-opacity="0.8"/><path d="M59 89h.1M6 36h.1M37 34h.1M43 6h.1M68 96h.1M23 19h.1M33 80h.1M23 77h.1M17 60h.1M72 67h.1M8 96h.1M85 48h.1M86 60h.1M17 40h.1" stroke="#c02030" stroke-width="2.4" stroke-linecap="round" fill="none" stroke-opacity="0.9"/><path d="M82 46h.1M4 17h.1M19 59h.1M64 45h.1M40 96h.1M34 67h.1M20 51h.1M18 11h.1M34 12h.1M38 65h.1M55 80h.1M48 8h.1M73 40h.1M75 98h.1M52 25h.1M36 50h.1M32 10h.1M40 66h.1M82 76h.1M88 80h.1M41 64h.1M5 79h.1" stroke="#58e848" stroke-width="2.6" stroke-linecap="round" fill="none"/><path d="M71 27h.1M47 27h.1" stroke="#d0e048" stroke-width="2.4" stroke-linecap="round" fill="none"/><path d="M38 0V30H76V0M38 30L2 100M76 30L98 100" stroke="#f4f4f4" stroke-width="1.6" stroke-dasharray="6 3.5" fill="none"/></svg>
<svg x="120.60" y="609.30" width="50.90" height="50.70" viewBox="0 0 100 100" preserveAspectRatio="none"><rect width="100" height="100" fill="#0a0c2a"/><path d="M43 14h.1M37 49h.1M35 76h.1M79 48h.1M54 99h.1M50 46h.1M72 4h.1M27 20h.1M51 2h.1M77 77h.1M46 91h.1M48 38h.1M10 41h.1M35 72h.1M83 11h.1M52 53h.1M39 45h.1M97 39h.1M41 56h.1M90 61h.1M98 36h.1M79 82h.1M92 100h.1M53 27h.1M53 65h.1M10 71h.1M73 26h.1M30 70h.1M0 91h.1M73 52h.1M55 32h.1M81 24h.1M69 1h.1M4 92h.1M0 8h.1M75 53h.1M14 87h.1M11 45h.1M67 81h.1M68 50h.1M12 24h.1M56 51h.1M30 98h.1M76 93h.1M22 94h.1M95 53h.1M94 97h.1M93 24h.1M21 5h.1M89 14h.1M51 2h.1M78 87h.1M91 26h.1M19 70h.1M53 12h.1M61 39h.1M71 72h.1M37 19h.1M4 92h.1M0 61h.1M68 94h.1M65 99h.1M97 64h.1M50 8h.1M34 7h.1M56 38h.1M92 88h.1M54 14h.1M53 79h.1M87 25h.1M2 71h.1M30 5h.1M29 47h.1M18 75h.1M68 53h.1M41 37h.1M49 31h.1M72 26h.1M45 51h.1M44 10h.1M80 28h.1M28 80h.1M86 62h.1M85 5h.1M8 91h.1M72 28h.1M97 76h.1M86 39h.1M81 5h.1M40 96h.1M99 11h.1M27 29h.1M86 48h.1M98 81h.1M15 44h.1M19 17h.1M28 57h.1M99 82h.1M36 40h.1M42 28h.1M70 40h.1M40 27h.1M23 97h.1M2 98h.1M69 60h.1M69 73h.1M24 6h.1M97 58h.1M77 89h.1M24 6h.1M88 69h.1M47 10h.1M79 2h.1M79 94h.1M37 33h.1M81 10h.1M25 85h.1M29 64h.1M59 69h.1M22 31h.1" stroke="#2424b0" stroke-width="3.2" stroke-linecap="round" fill="none" stroke-opacity="0.8"/><g filter="url(#b1)"><path d="M37 95h.1M14 68h.1M78 98h.1M14 12h.1M57 80h.1M64 71h.1" stroke="#2030e0" stroke-width="11" stroke-linecap="round" fill="none" stroke-opacity="0.9"/></g><path d="M44 88h.1M50 64h.1M4 64h.1M12 18h.1M94 24h.1M90 90h.1" stroke="#d02838" stroke-width="2.6" stroke-linecap="round" fill="none" stroke-opacity="0.9"/><path d="M14 63h.1M3 9h.1M68 1h.1M67 91h.1M24 95h.1M65 3h.1M27 27h.1M22 44h.1M13 64h.1M74 40h.1M9 63h.1M34 28h.1M73 71h.1M9 74h.1M92 62h.1M31 25h.1M39 45h.1M56 91h.1M12 58h.1M63 58h.1M67 91h.1M46 1h.1M53 43h.1M8 82h.1M41 0h.1M60 52h.1M29 66h.1M33 91h.1M23 43h.1M51 40h.1M58 62h.1M81 36h.1M78 38h.1M44 3h.1M42 73h.1M82 51h.1M91 60h.1M48 47h.1M65 33h.1M21 80h.1M15 83h.1M67 89h.1M74 26h.1M63 54h.1M67 72h.1M46 53h.1M28 28h.1M4 42h.1M74 83h.1M66 34h.1M6 82h.1M95 65h.1M82 3h.1M85 60h.1M38 71h.1M3 94h.1M3 80h.1M7 97h.1M95 49h.1M76 41h.1M21 70h.1M48 67h.1M49 92h.1M39 24h.1M80 71h.1M53 4h.1M23 22h.1M96 94h.1M21 39h.1M27 13h.1M88 22h.1M76 47h.1M49 84h.1M42 18h.1M34 89h.1M18 20h.1M22 11h.1M71 16h.1M36 26h.1M37 25h.1M97 31h.1M95 42h.1M79 70h.1M1 23h.1M8 90h.1M51 84h.1M26 85h.1M9 50h.1M69 76h.1M38 31h.1M75 95h.1M33 2h.1M20 55h.1M35 40h.1M17 26h.1M61 45h.1M24 1h.1M42 59h.1M27 72h.1M65 13h.1M41 34h.1M59 97h.1M33 4h.1M55 91h.1M8 2h.1M41 87h.1M69 33h.1M91 40h.1M4 35h.1M6 5h.1" stroke="#40d040" stroke-width="2.2" stroke-linecap="round" fill="none" stroke-opacity="0.9"/></svg>
<svg x="173.00" y="557.50" width="50.80" height="50.50" viewBox="0 0 100 100" preserveAspectRatio="none"><rect width="100" height="100" fill="#1c1a28"/><path d="M80 43h.1M78 92h.1M78 38h.1M34 95h.1M90 19h.1M36 79h.1M76 28h.1M45 96h.1M9 27h.1M66 91h.1M95 47h.1M79 97h.1M33 23h.1M26 78h.1M14 55h.1M93 20h.1M63 53h.1M97 51h.1M49 90h.1M75 15h.1M80 40h.1M97 96h.1M49 42h.1M23 28h.1M21 17h.1M73 5h.1M60 60h.1M74 57h.1M93 28h.1M9 58h.1M27 99h.1M92 69h.1M83 24h.1M48 38h.1M35 37h.1M48 65h.1M3 54h.1M13 97h.1M55 59h.1M32 71h.1M71 91h.1M58 27h.1M63 5h.1M74 31h.1M72 13h.1M60 17h.1M4 26h.1M85 39h.1M52 79h.1M98 26h.1M69 78h.1M79 35h.1M47 78h.1M25 49h.1M63 85h.1M24 67h.1M22 16h.1M48 65h.1M64 95h.1M16 53h.1" stroke="#2020a0" stroke-width="2.6" stroke-linecap="round" fill="none" stroke-opacity="0.8"/><path d="M48 26h.1M92 14h.1M26 4h.1M64 66h.1M22 92h.1M63 20h.1M94 85h.1M31 86h.1M13 35h.1M42 96h.1M30 39h.1M21 82h.1M18 85h.1M34 55h.1M88 27h.1M53 64h.1M58 41h.1M65 31h.1M16 1h.1M61 57h.1" stroke="#c02030" stroke-width="2.4" stroke-linecap="round" fill="none" stroke-opacity="0.9"/><path d="M80 16h.1M67 45h.1M53 83h.1M52 44h.1M65 15h.1M87 52h.1M4 48h.1M95 98h.1M43 27h.1M94 28h.1M2 25h.1M47 67h.1M7 33h.1M73 34h.1M18 71h.1M44 70h.1M48 81h.1M51 98h.1M81 72h.1M49 61h.1M38 8h.1M88 81h.1M77 86h.1M55 99h.1M47 98h.1M8 38h.1M57 82h.1M52 79h.1M37 68h.1M80 60h.1M2 66h.1M0 30h.1M11 76h.1M17 72h.1M7 21h.1M70 92h.1M7 61h.1M40 62h.1M8 2h.1M8 89h.1M49 61h.1M13 69h.1M90 20h.1M78 85h.1M99 57h.1M64 34h.1M78 31h.1M62 63h.1M99 79h.1M10 18h.1M36 40h.1M72 26h.1M56 45h.1M31 64h.1M43 98h.1M13 90h.1M64 46h.1M8 65h.1M80 35h.1M71 53h.1M9 86h.1M31 48h.1M76 88h.1M85 37h.1M85 15h.1M55 43h.1M87 72h.1M66 81h.1M35 44h.1M10 35h.1M20 73h.1M13 91h.1M60 45h.1M12 45h.1M56 14h.1M98 36h.1M43 29h.1M37 28h.1M85 7h.1M36 60h.1M48 32h.1M48 6h.1M31 44h.1M77 43h.1M42 65h.1M28 55h.1M19 62h.1M54 65h.1M87 80h.1M99 23h.1M95 44h.1M37 45h.1M92 95h.1M81 30h.1M12 20h.1M67 70h.1M7 0h.1M100 34h.1M4 47h.1M10 81h.1M53 61h.1M93 12h.1M22 79h.1M61 44h.1M36 62h.1M94 95h.1M92 98h.1M13 3h.1M83 25h.1M52 47h.1M97 44h.1M13 20h.1M90 82h.1M14 96h.1M37 73h.1M56 86h.1M49 3h.1M56 85h.1M41 83h.1M45 36h.1M36 23h.1M50 96h.1M59 77h.1M18 37h.1M58 38h.1M1 87h.1M13 66h.1M98 29h.1M27 33h.1M54 98h.1M14 24h.1M90 28h.1M67 72h.1M0 3h.1M76 92h.1M69 47h.1M10 53h.1M11 32h.1M4 51h.1M47 28h.1M22 7h.1M3 13h.1M98 3h.1M72 46h.1M59 30h.1M98 81h.1M40 43h.1M92 16h.1M87 62h.1M57 53h.1M59 9h.1M25 35h.1M22 9h.1M71 42h.1M74 39h.1M94 24h.1M51 42h.1M79 13h.1M55 45h.1M62 23h.1M54 99h.1M10 97h.1M97 45h.1M8 50h.1M96 0h.1M75 78h.1M12 60h.1M15 10h.1M52 30h.1M66 53h.1" stroke="#50d870" stroke-width="3.3" stroke-linecap="round" fill="none"/><path d="M23 92h.1M1 80h.1M28 90h.1M61 46h.1M22 86h.1M86 96h.1M59 92h.1M89 67h.1M34 60h.1M34 81h.1M55 87h.1M89 75h.1M20 34h.1M9 34h.1M16 30h.1M79 12h.1M92 92h.1M77 24h.1M29 46h.1M62 93h.1M2 9h.1M82 2h.1M89 19h.1M98 47h.1M61 83h.1M82 41h.1M46 79h.1M26 30h.1M87 88h.1M83 34h.1M34 10h.1M83 5h.1M18 2h.1M46 100h.1M7 25h.1M27 70h.1M36 17h.1M69 90h.1M17 6h.1M41 93h.1" stroke="#d0e048" stroke-width="3.0999999999999996" stroke-linecap="round" fill="none"/><path d="M46 2V30H80V2M46 30L6 100M80 30L100 96" stroke="#f4f4f4" stroke-width="1.6" stroke-dasharray="6 3.5" fill="none"/></svg>
<svg x="173.00" y="609.30" width="50.80" height="50.70" viewBox="0 0 100 100" preserveAspectRatio="none"><rect width="100" height="100" fill="#221828"/><path d="M82 25h.1M27 77h.1M31 24h.1M3 85h.1M68 25h.1M99 21h.1M26 37h.1M17 2h.1M23 88h.1M19 46h.1M81 6h.1M55 79h.1M10 84h.1M65 37h.1M92 63h.1M90 83h.1M28 15h.1M4 13h.1M9 77h.1M21 65h.1M2 15h.1M10 17h.1M48 49h.1M21 94h.1M83 14h.1M63 37h.1M71 21h.1M29 17h.1M58 42h.1M40 85h.1M90 10h.1M9 59h.1M32 15h.1M62 75h.1M33 79h.1M14 86h.1M61 57h.1M72 57h.1M37 22h.1M59 61h.1M82 30h.1M49 19h.1M52 72h.1M27 18h.1M82 33h.1M34 59h.1M82 84h.1M64 87h.1M9 31h.1M79 36h.1M30 99h.1M36 29h.1M5 47h.1M19 98h.1M89 49h.1M47 24h.1M93 0h.1M1 11h.1M25 22h.1M84 21h.1" stroke="#2424b0" stroke-width="3.2" stroke-linecap="round" fill="none" stroke-opacity="0.8"/><path d="M68 63h.1M72 1h.1M92 47h.1M9 76h.1M67 35h.1M73 45h.1M53 46h.1M79 82h.1M36 91h.1M82 70h.1M70 43h.1M58 79h.1M74 44h.1M2 54h.1M32 33h.1M35 46h.1M51 80h.1M74 39h.1M89 28h.1M64 70h.1M42 72h.1M92 72h.1M43 11h.1M71 60h.1M53 4h.1M3 12h.1M6 99h.1M43 89h.1M41 84h.1M3 19h.1M74 56h.1M30 9h.1M87 56h.1M54 53h.1M83 15h.1M28 34h.1M52 19h.1M31 9h.1M75 1h.1M11 13h.1M85 15h.1M38 58h.1M69 45h.1M47 10h.1M6 99h.1M52 75h.1M14 63h.1M76 54h.1M94 98h.1M15 25h.1" stroke="#d02838" stroke-width="2.6" stroke-linecap="round" fill="none" stroke-opacity="0.9"/><path d="M44 14h.1M51 26h.1M11 18h.1M4 28h.1M41 62h.1M6 85h.1M79 73h.1M45 10h.1M18 32h.1M64 100h.1M22 86h.1M91 80h.1M29 68h.1M77 81h.1M81 99h.1M78 43h.1M26 11h.1M37 81h.1M12 92h.1M80 13h.1M81 64h.1M25 48h.1M58 36h.1M49 7h.1M34 76h.1M69 93h.1M44 56h.1M34 92h.1M76 63h.1M28 68h.1M88 48h.1M6 35h.1M33 2h.1M14 31h.1M69 99h.1M97 54h.1M91 59h.1M24 61h.1M40 92h.1M32 2h.1M11 64h.1M58 47h.1M83 74h.1M72 29h.1M66 73h.1M8 4h.1M45 65h.1M24 28h.1M25 58h.1M91 5h.1M45 31h.1M47 6h.1M75 70h.1M57 5h.1M10 28h.1M6 25h.1M61 94h.1M7 15h.1M43 74h.1M14 43h.1M10 99h.1M46 50h.1M16 23h.1M55 19h.1M17 3h.1M15 58h.1M38 28h.1M37 8h.1M28 76h.1M54 82h.1M20 97h.1M97 15h.1M32 88h.1M22 56h.1M70 7h.1M49 89h.1M60 89h.1M83 48h.1M11 80h.1M91 74h.1M79 73h.1M41 28h.1M15 59h.1M75 88h.1M63 77h.1M37 17h.1M45 40h.1M31 61h.1M51 19h.1M91 74h.1" stroke="#40d040" stroke-width="2.2" stroke-linecap="round" fill="none" stroke-opacity="0.9"/><g filter="url(#b05)"><path d="M63 8l-3 1M59 95l2 -2M13 94l-2 -2M13 50l2 -3M19 86l1 1M40 86l-3 1M45 10l1 -1M55 16l-1 2M35 32l-1 -0M16 34l3 2M77 35l-0 0M94 93l-3 -1" stroke="#68d848" stroke-width="9.5" stroke-linecap="round" fill="none"/><path d="M63 8h.1M59 95h.1M13 94h.1M13 50h.1M19 86h.1M40 86h.1M45 10h.1M55 16h.1M35 32h.1M16 34h.1M77 35h.1M94 93h.1" stroke="#b8f858" stroke-width="4.75" stroke-linecap="round" fill="none"/></g><path d="M33 43h.1M43 95h.1M51 73h.1M2 90h.1M31 71h.1M12 55h.1M16 83h.1M41 96h.1" stroke="#b030b0" stroke-width="5" stroke-linecap="round" fill="none"/></svg>
<svg x="226.20" y="557.50" width="50.20" height="50.50" viewBox="0 0 100 100" preserveAspectRatio="none"><rect width="100" height="100" fill="#2a1c1e"/><path d="M6 14h.1M65 76h.1M45 5h.1M55 10h.1M7 6h.1M94 10h.1M48 82h.1M20 39h.1M79 56h.1M19 54h.1M99 82h.1M96 2h.1M6 50h.1M1 96h.1M29 55h.1M88 43h.1M77 15h.1M44 73h.1M47 19h.1M86 36h.1M91 31h.1M83 12h.1M67 95h.1M63 41h.1M98 97h.1M82 22h.1M9 61h.1M13 6h.1M56 94h.1M27 82h.1" stroke="#2020a0" stroke-width="2.6" stroke-linecap="round" fill="none" stroke-opacity="0.8"/><path d="M96 94h.1M8 13h.1M96 97h.1M17 18h.1M71 10h.1M10 16h.1M58 37h.1M84 15h.1M90 79h.1M37 60h.1M68 12h.1M93 44h.1M51 85h.1M2 27h.1M3 74h.1M22 72h.1M72 100h.1M18 41h.1M79 44h.1M18 67h.1M79 45h.1M38 13h.1M41 84h.1M35 95h.1M36 48h.1M78 91h.1M84 42h.1M45 13h.1M54 82h.1M19 32h.1M7 45h.1M48 99h.1M67 92h.1M20 44h.1M70 7h.1M57 63h.1M3 20h.1M78 16h.1M64 42h.1M39 88h.1M40 88h.1M82 55h.1M10 33h.1M95 26h.1M59 20h.1M73 69h.1M89 59h.1M11 80h.1M58 94h.1M52 32h.1M44 56h.1M70 63h.1M86 54h.1M20 86h.1M71 16h.1M46 85h.1M58 12h.1M87 73h.1M20 69h.1M86 58h.1M95 54h.1M1 66h.1M83 92h.1M76 94h.1M80 47h.1M6 17h.1M5 93h.1M81 91h.1M78 45h.1M56 3h.1M16 40h.1M5 32h.1M52 16h.1M18 9h.1M46 84h.1M45 70h.1M72 80h.1M80 50h.1M5 17h.1M28 34h.1" stroke="#c02030" stroke-width="2.4" stroke-linecap="round" fill="none" stroke-opacity="0.9"/><path d="M60 50h.1M29 17h.1M74 100h.1M70 14h.1M70 80h.1M54 63h.1M86 48h.1M71 17h.1M84 57h.1M19 62h.1M82 45h.1M31 71h.1M100 96h.1M31 49h.1M38 14h.1M55 29h.1M48 83h.1M56 99h.1M20 19h.1M6 71h.1M29 22h.1M64 99h.1M75 96h.1M93 53h.1M22 76h.1M22 7h.1M37 74h.1M63 41h.1M13 17h.1M60 49h.1M54 74h.1M57 87h.1M92 52h.1M36 50h.1M25 18h.1M72 44h.1M2 39h.1M32 6h.1M2 61h.1M81 84h.1M60 23h.1M64 27h.1M23 33h.1M14 11h.1M99 8h.1M97 69h.1M74 11h.1M68 20h.1M51 45h.1M90 10h.1M1 58h.1M53 65h.1M9 37h.1M71 59h.1M32 1h.1M4 89h.1M27 7h.1M29 21h.1M54 5h.1M54 65h.1M54 60h.1M24 39h.1M75 29h.1M83 19h.1M48 90h.1M66 28h.1M37 28h.1M75 36h.1M84 70h.1M83 53h.1M28 69h.1M44 5h.1M45 19h.1M7 27h.1M95 67h.1M43 58h.1M39 56h.1M26 85h.1M79 44h.1M56 37h.1M77 84h.1M93 11h.1M91 22h.1M11 41h.1M65 12h.1M64 97h.1M78 83h.1M16 34h.1M25 37h.1M88 100h.1M26 56h.1M61 97h.1M45 12h.1M10 15h.1M48 9h.1M69 19h.1M4 72h.1M46 76h.1M58 38h.1M7 85h.1M68 26h.1M8 63h.1M93 74h.1M92 99h.1M13 18h.1M47 11h.1M48 82h.1M26 82h.1M25 82h.1M8 12h.1M5 58h.1M2 69h.1M42 90h.1M39 83h.1M75 37h.1M78 60h.1M59 43h.1M15 52h.1M52 43h.1M98 17h.1M91 56h.1M10 56h.1M19 50h.1M48 77h.1M91 7h.1M88 94h.1M15 8h.1M46 3h.1M12 51h.1M21 60h.1M21 67h.1M62 8h.1M68 92h.1M99 4h.1M69 32h.1M42 46h.1M5 63h.1M13 86h.1M10 62h.1M55 3h.1M11 50h.1M39 16h.1M10 23h.1M81 14h.1M76 11h.1M82 77h.1M88 39h.1M97 41h.1M63 83h.1M15 5h.1" stroke="#58e848" stroke-width="3.3" stroke-linecap="round" fill="none"/><path d="M69 23h.1M22 49h.1M17 27h.1M20 9h.1M82 84h.1M73 44h.1M92 54h.1M55 2h.1M36 22h.1M66 96h.1M63 32h.1M83 8h.1M81 4h.1M96 75h.1M99 48h.1M66 40h.1M75 54h.1M46 80h.1M94 28h.1M26 99h.1M34 37h.1M55 29h.1M46 27h.1M44 80h.1M76 93h.1M93 27h.1M78 69h.1M63 49h.1M92 56h.1M94 11h.1M36 13h.1M72 46h.1M32 34h.1M48 31h.1M49 62h.1M2 22h.1M52 66h.1M59 73h.1M43 91h.1M77 50h.1M57 80h.1M28 28h.1M50 51h.1M5 50h.1M92 87h.1M54 70h.1M37 7h.1M82 54h.1M61 61h.1M97 30h.1M57 73h.1M69 91h.1M4 80h.1M4 32h.1M35 80h.1M89 55h.1M56 67h.1M3 37h.1M45 5h.1M31 28h.1M13 19h.1M37 66h.1M85 32h.1M79 71h.1M10 20h.1M88 14h.1M63 58h.1M81 78h.1M82 14h.1M72 90h.1M67 96h.1M8 47h.1M97 30h.1M35 29h.1M37 43h.1M51 26h.1M50 93h.1M35 25h.1M92 71h.1M79 92h.1M98 30h.1M0 74h.1M66 39h.1M90 80h.1M57 61h.1M42 18h.1M29 73h.1M49 52h.1M65 94h.1M12 9h.1M77 22h.1M57 51h.1M67 64h.1M40 60h.1M93 84h.1M46 73h.1M29 92h.1M0 57h.1M77 91h.1M54 51h.1" stroke="#d0e048" stroke-width="3.0999999999999996" stroke-linecap="round" fill="none"/><path d="M46 52H78V82H46ZM46 82L10 100M78 82L92 100" stroke="#f4f4f4" stroke-width="1.6" stroke-dasharray="6 3.5" fill="none"/></svg>
<svg x="226.20" y="609.30" width="50.20" height="50.70" viewBox="0 0 100 100" preserveAspectRatio="none"><rect width="100" height="100" fill="#2c1618"/><path d="M19 17h.1M44 87h.1M90 24h.1M12 2h.1M48 85h.1M96 78h.1M98 69h.1M41 27h.1M53 95h.1M32 17h.1M98 65h.1M74 59h.1M94 1h.1M46 89h.1M57 40h.1M87 28h.1M81 75h.1M78 79h.1M12 26h.1M33 96h.1M86 67h.1M5 39h.1M28 66h.1M88 30h.1M51 27h.1M2 58h.1M6 96h.1M33 71h.1M61 72h.1M41 2h.1" stroke="#2424b0" stroke-width="3.2" stroke-linecap="round" fill="none" stroke-opacity="0.8"/><path d="M25 57h.1M65 28h.1M74 58h.1M70 90h.1M46 96h.1M4 30h.1M7 67h.1M6 44h.1M2 85h.1M61 75h.1M42 17h.1M25 64h.1M82 56h.1M34 40h.1M80 92h.1M65 9h.1M37 51h.1M33 44h.1M34 5h.1M35 91h.1M9 76h.1M19 66h.1M11 45h.1M36 62h.1M9 66h.1M68 25h.1M4 93h.1M47 33h.1M77 20h.1M97 73h.1M4 0h.1M41 11h.1M45 83h.1M45 57h.1M0 40h.1M86 65h.1M10 34h.1M35 10h.1M60 85h.1M80 93h.1M3 72h.1M58 30h.1M3 3h.1M20 52h.1M31 10h.1M80 68h.1M26 0h.1M61 68h.1M78 80h.1M40 93h.1M15 65h.1M16 90h.1M15 91h.1M78 13h.1M68 78h.1M73 59h.1M3 85h.1M25 20h.1M71 36h.1M11 13h.1M92 15h.1M21 72h.1M65 7h.1M64 49h.1M43 64h.1M21 24h.1M56 50h.1M64 8h.1M19 81h.1M62 48h.1M90 47h.1M26 41h.1M17 47h.1M77 12h.1M33 43h.1M28 21h.1M64 22h.1M8 95h.1M71 90h.1M5 29h.1M56 77h.1M4 81h.1M56 98h.1M50 2h.1M36 76h.1M43 53h.1M56 52h.1M9 20h.1M86 63h.1M37 11h.1M83 9h.1M18 66h.1M32 27h.1M29 29h.1M98 81h.1M100 42h.1M6 44h.1M39 57h.1M62 86h.1M47 6h.1M60 85h.1M15 53h.1M74 16h.1M46 47h.1M34 13h.1M21 54h.1M15 8h.1M98 70h.1M21 85h.1M82 90h.1M91 51h.1M22 49h.1M39 60h.1M34 70h.1M60 19h.1M22 11h.1M7 61h.1M95 10h.1M48 59h.1M26 95h.1M8 87h.1M68 97h.1M42 88h.1M15 45h.1M85 35h.1M44 56h.1M63 86h.1M49 41h.1M31 3h.1M86 6h.1M57 4h.1M72 31h.1M24 29h.1M39 86h.1M87 21h.1M26 83h.1M63 8h.1M47 2h.1M27 18h.1M22 10h.1" stroke="#d02838" stroke-width="2.6" stroke-linecap="round" fill="none" stroke-opacity="0.9"/><path d="M40 18h.1M93 54h.1M75 14h.1M15 44h.1M60 62h.1M2 7h.1M47 58h.1M52 75h.1M41 11h.1M79 53h.1M9 51h.1M54 13h.1M36 89h.1M63 82h.1M65 67h.1M83 76h.1M52 56h.1M58 12h.1M26 6h.1M15 54h.1M15 27h.1M38 11h.1M69 95h.1M41 32h.1M11 35h.1M89 86h.1M83 73h.1M2 42h.1M34 28h.1M89 70h.1M77 14h.1M54 85h.1M40 57h.1M3 62h.1M44 58h.1M66 60h.1M44 76h.1M2 4h.1M17 16h.1M40 42h.1M17 91h.1M64 17h.1M89 58h.1M88 24h.1M67 33h.1M73 93h.1M97 56h.1M12 78h.1M93 41h.1M33 45h.1M21 33h.1M34 54h.1M51 59h.1M52 83h.1M4 92h.1M5 81h.1M65 78h.1M56 20h.1M43 82h.1M40 12h.1M36 56h.1M6 22h.1M43 7h.1M30 3h.1M18 76h.1M4 53h.1M24 65h.1M23 63h.1M77 48h.1M26 5h.1M73 66h.1M25 8h.1M4 89h.1M70 38h.1M64 48h.1M90 36h.1M13 26h.1M74 1h.1M60 60h.1M30 58h.1M66 0h.1M26 15h.1M35 58h.1M24 87h.1M22 16h.1M95 60h.1M90 83h.1M37 61h.1M92 69h.1M12 13h.1" stroke="#40d040" stroke-width="2.2" stroke-linecap="round" fill="none" stroke-opacity="0.9"/><g filter="url(#b05)"><path d="M60 34l-3 -1M58 13l-1 3M14 12l-1 3M58 91l-1 0M72 81l2 -0M50 62l-1 3M51 9l2 2M24 68l3 -1M93 79l2 -4M28 60l-3 1M12 35l1 -3M9 87l0 -3M17 35l-2 0M93 37l1 3M19 49l-2 2M46 18l-1 3M73 18l-0 -1" stroke="#58e040" stroke-width="9.5" stroke-linecap="round" fill="none"/><path d="M60 34h.1M58 13h.1M14 12h.1M58 91h.1M72 81h.1M50 62h.1M51 9h.1M24 68h.1M93 79h.1M28 60h.1M12 35h.1M9 87h.1M17 35h.1M93 37h.1M19 49h.1M46 18h.1M73 18h.1" stroke="#b8f858" stroke-width="4.75" stroke-linecap="round" fill="none"/></g></svg>
<svg x="278.50" y="557.50" width="50.20" height="50.50" viewBox="0 0 100 100" preserveAspectRatio="none"><rect width="100" height="100" fill="#0b0b2e"/><path d="M61 76h.1M37 64h.1M25 8h.1M8 18h.1M41 13h.1M78 69h.1M38 18h.1M42 87h.1M84 69h.1M38 83h.1M51 34h.1M90 67h.1M6 7h.1M47 78h.1M44 53h.1M14 60h.1M41 36h.1M21 59h.1M83 53h.1M61 56h.1M71 70h.1M1 97h.1M49 5h.1M72 76h.1M37 60h.1M4 74h.1M67 81h.1M47 92h.1M41 0h.1M9 32h.1M22 23h.1M9 65h.1M89 93h.1M35 50h.1M53 60h.1M73 43h.1M2 32h.1M1 68h.1M97 57h.1M69 57h.1M97 17h.1M57 33h.1M46 22h.1M78 33h.1M27 86h.1M2 19h.1M93 67h.1M20 13h.1M67 83h.1M100 94h.1M75 8h.1M79 44h.1M53 2h.1M1 52h.1M65 27h.1M97 7h.1M87 93h.1M9 83h.1M61 43h.1M44 55h.1M93 76h.1M47 46h.1M18 55h.1M86 63h.1M60 45h.1M98 85h.1M52 66h.1M81 26h.1M63 29h.1M76 31h.1M96 69h.1M53 57h.1M58 27h.1M2 45h.1M29 47h.1M21 21h.1M98 38h.1M75 14h.1M9 69h.1M44 80h.1M2 50h.1M60 22h.1M72 20h.1M11 16h.1M5 40h.1M78 17h.1M28 34h.1M22 87h.1M83 12h.1M66 91h.1M1 40h.1M3 32h.1M12 46h.1M20 73h.1M38 8h.1M55 46h.1M74 74h.1M25 38h.1M72 97h.1M55 61h.1" stroke="#2020a0" stroke-width="2.6" stroke-linecap="round" fill="none" stroke-opacity="0.8"/><path d="M33 43h.1M32 50h.1M29 32h.1M3 9h.1M87 35h.1M96 25h.1M36 89h.1M44 68h.1M78 39h.1M20 1h.1M86 57h.1M78 98h.1M87 59h.1M11 58h.1M48 10h.1M2 35h.1M37 88h.1M99 92h.1" stroke="#c02030" stroke-width="2.4" stroke-linecap="round" fill="none" stroke-opacity="0.9"/><path d="M32 85h.1M38 36h.1M58 4h.1M67 6h.1M59 75h.1M6 65h.1M51 35h.1M78 32h.1M19 41h.1M37 82h.1M21 40h.1M78 46h.1M34 15h.1M35 53h.1M78 100h.1M53 50h.1M76 47h.1M25 70h.1M83 22h.1M86 6h.1M19 38h.1M90 48h.1M35 24h.1M47 56h.1M60 89h.1M12 72h.1M96 61h.1M71 81h.1M89 32h.1M45 84h.1" stroke="#58e848" stroke-width="2.6" stroke-linecap="round" fill="none"/><path d="M16 45h.1M97 40h.1" stroke="#d0e048" stroke-width="2.4" stroke-linecap="round" fill="none"/><path d="M68 46H100M68 46V82H100M68 82L12 100" stroke="#f4f4f4" stroke-width="1.6" stroke-dasharray="6 3.5" fill="none"/></svg>
<svg x="278.50" y="609.30" width="50.20" height="50.70" viewBox="0 0 100 100" preserveAspectRatio="none"><rect width="100" height="100" fill="#0a0c30"/><path d="M10 99h.1M47 51h.1M31 48h.1M19 46h.1M30 28h.1M71 2h.1M58 3h.1M54 42h.1M89 72h.1M47 14h.1M52 28h.1M48 95h.1M55 47h.1M5 30h.1M12 23h.1M60 51h.1M55 15h.1M13 83h.1M34 0h.1M45 37h.1M26 65h.1M75 78h.1M83 69h.1M77 82h.1M0 34h.1M67 90h.1M69 48h.1M7 78h.1M28 48h.1M35 80h.1M62 89h.1M78 78h.1M54 52h.1M17 13h.1M96 20h.1M35 97h.1M0 46h.1M96 92h.1M5 19h.1M89 59h.1M5 47h.1M9 62h.1M22 89h.1M87 86h.1M47 64h.1M38 14h.1M88 77h.1M82 48h.1M81 10h.1M58 26h.1M38 96h.1M43 29h.1M7 77h.1M44 81h.1M82 11h.1M87 10h.1M26 67h.1M4 50h.1M97 28h.1M2 80h.1M78 17h.1M14 45h.1M56 44h.1M16 4h.1M7 59h.1M86 1h.1M42 50h.1M53 19h.1M62 22h.1M15 6h.1M26 24h.1M47 97h.1M71 32h.1M56 55h.1M88 95h.1M9 4h.1M92 73h.1M23 29h.1M50 78h.1M36 78h.1M65 19h.1M43 44h.1M56 10h.1M34 3h.1M2 28h.1M51 72h.1M13 32h.1M40 85h.1M68 80h.1M46 24h.1" stroke="#2424b0" stroke-width="3.2" stroke-linecap="round" fill="none" stroke-opacity="0.8"/><g filter="url(#b1)"><path d="M15 30h.1M7 88h.1M50 10h.1M22 39h.1M34 5h.1M97 41h.1M95 64h.1M79 83h.1M47 42h.1" stroke="#2030e0" stroke-width="11" stroke-linecap="round" fill="none" stroke-opacity="0.9"/></g><path d="M18 13h.1M61 27h.1M32 31h.1M85 89h.1M36 50h.1M23 70h.1M61 4h.1M89 38h.1M18 26h.1M90 63h.1M29 57h.1M80 45h.1M68 17h.1M95 90h.1" stroke="#d02838" stroke-width="2.6" stroke-linecap="round" fill="none" stroke-opacity="0.9"/><path d="M7 29h.1M88 31h.1M92 34h.1M11 86h.1M34 92h.1M73 70h.1M87 30h.1M35 66h.1M15 20h.1M6 32h.1M29 94h.1M17 60h.1M31 55h.1M31 52h.1M8 48h.1M73 90h.1M48 68h.1M73 19h.1M77 76h.1M65 53h.1M86 97h.1M80 87h.1M36 8h.1M82 72h.1M83 19h.1M86 30h.1M60 14h.1M47 49h.1M41 89h.1M16 65h.1M86 88h.1M24 21h.1M2 57h.1M5 8h.1M89 7h.1M91 34h.1M5 24h.1M79 57h.1M5 48h.1M52 35h.1M13 9h.1M88 78h.1M70 77h.1M59 66h.1M82 72h.1M26 76h.1M73 28h.1M44 49h.1M88 69h.1M79 29h.1M95 86h.1M63 76h.1M85 61h.1M42 53h.1M9 20h.1M56 66h.1M97 47h.1M85 71h.1M64 92h.1M79 29h.1M92 28h.1M18 38h.1M44 90h.1M30 73h.1M83 15h.1M85 39h.1M31 15h.1M71 1h.1M78 80h.1M7 20h.1M74 40h.1M9 90h.1M96 37h.1M13 4h.1M69 90h.1M1 48h.1M35 32h.1M11 84h.1M50 74h.1M98 31h.1M98 71h.1M80 76h.1M47 47h.1M70 27h.1M37 89h.1M15 47h.1M37 20h.1M85 21h.1M72 36h.1M25 40h.1M12 41h.1M27 29h.1M89 40h.1M17 63h.1M64 78h.1M93 44h.1M67 88h.1M68 62h.1M51 55h.1M62 6h.1M79 99h.1M6 40h.1M73 61h.1M52 96h.1M86 97h.1M85 88h.1M23 34h.1M99 73h.1M1 17h.1M69 37h.1M60 65h.1M49 93h.1M14 51h.1M21 58h.1M28 24h.1M78 22h.1M18 45h.1M22 2h.1M67 3h.1M46 36h.1M15 37h.1M5 3h.1M21 35h.1M80 38h.1M39 93h.1M77 26h.1M50 28h.1M67 74h.1M24 62h.1M0 6h.1" stroke="#40d040" stroke-width="2.2" stroke-linecap="round" fill="none" stroke-opacity="0.9"/></svg>
<svg x="330.70" y="557.50" width="50.50" height="50.50" viewBox="0 0 100 100" preserveAspectRatio="none"><rect width="100" height="100" fill="#0a0a30"/><path d="M43 42h.1M48 77h.1M11 46h.1M43 96h.1M85 29h.1M32 99h.1M1 70h.1M2 29h.1M65 68h.1M64 22h.1M40 85h.1M28 54h.1M56 86h.1M80 79h.1M34 74h.1M89 8h.1M73 46h.1M39 64h.1M81 90h.1M80 93h.1M86 51h.1M69 91h.1M59 7h.1M40 68h.1M2 11h.1M84 68h.1M2 78h.1M61 38h.1M65 9h.1M14 69h.1M68 62h.1M44 20h.1M13 94h.1M29 42h.1M51 0h.1M32 20h.1M10 93h.1M17 29h.1M27 79h.1M87 64h.1M63 60h.1M3 66h.1M95 88h.1M91 13h.1M71 99h.1M24 29h.1M98 24h.1M15 68h.1M32 62h.1M25 23h.1M59 43h.1M67 56h.1M24 21h.1M8 8h.1M71 33h.1M0 3h.1M86 63h.1M21 79h.1M89 5h.1M18 68h.1M78 27h.1M48 33h.1M38 84h.1M58 63h.1M91 92h.1M67 3h.1M37 97h.1M48 3h.1M67 55h.1M73 56h.1M28 38h.1M13 42h.1M51 13h.1M5 63h.1M64 77h.1M47 9h.1M52 30h.1M91 22h.1M81 64h.1M30 60h.1M7 27h.1M71 4h.1M56 90h.1M96 77h.1M83 32h.1M36 26h.1M6 8h.1M6 22h.1M33 38h.1M48 84h.1M37 47h.1M80 45h.1M72 97h.1M90 28h.1M84 93h.1M23 15h.1M73 66h.1M21 98h.1M47 98h.1M50 72h.1" stroke="#2020a0" stroke-width="2.6" stroke-linecap="round" fill="none" stroke-opacity="0.8"/><path d="M14 81h.1M44 22h.1M43 66h.1M89 76h.1M92 76h.1M37 17h.1M91 44h.1M96 67h.1M79 59h.1M20 49h.1M66 11h.1M37 80h.1M22 1h.1M22 43h.1M28 52h.1M27 43h.1M92 83h.1M76 44h.1M55 80h.1M21 36h.1M14 46h.1M31 67h.1M36 65h.1M58 59h.1" stroke="#c02030" stroke-width="2.4" stroke-linecap="round" fill="none" stroke-opacity="0.9"/><path d="M43 42h.1M13 65h.1M32 28h.1M90 42h.1M11 62h.1M40 39h.1M60 50h.1M90 30h.1" stroke="#58e848" stroke-width="2.6" stroke-linecap="round" fill="none"/><path d="M81 84h.1" stroke="#d0e048" stroke-width="2.4" stroke-linecap="round" fill="none"/><path d="M0 46H32V82H0M32 82L96 100" stroke="#f4f4f4" stroke-width="1.6" stroke-dasharray="6 3.5" fill="none"/></svg>
<svg x="330.70" y="609.30" width="50.50" height="50.70" viewBox="0 0 100 100" preserveAspectRatio="none"><rect width="100" height="100" fill="#0a0c34"/><path d="M43 76h.1M34 21h.1M80 84h.1M13 67h.1M87 100h.1M95 58h.1M15 57h.1M2 76h.1M95 50h.1M40 97h.1M37 94h.1M14 56h.1M51 4h.1M14 27h.1M58 14h.1M20 37h.1M52 59h.1M14 74h.1M87 77h.1M35 23h.1M40 0h.1M32 88h.1M43 25h.1M36 31h.1M42 69h.1M36 93h.1M1 2h.1M39 30h.1M82 20h.1M92 28h.1M68 30h.1M80 19h.1M56 29h.1M68 13h.1M46 6h.1M79 40h.1M81 9h.1M27 12h.1M87 19h.1M36 36h.1M82 53h.1M36 71h.1M38 16h.1M34 16h.1M53 40h.1M90 99h.1M65 35h.1M22 66h.1M79 11h.1M48 68h.1M21 56h.1M53 5h.1M97 54h.1M38 81h.1M96 79h.1M41 48h.1M55 73h.1M65 65h.1M55 85h.1M56 83h.1M44 97h.1M93 38h.1M31 28h.1M84 68h.1M93 15h.1M42 39h.1M47 31h.1M87 10h.1M61 94h.1M81 92h.1M35 85h.1M16 92h.1M86 53h.1M39 42h.1M7 66h.1M11 57h.1M22 45h.1M82 50h.1M31 31h.1M65 23h.1M94 1h.1M48 24h.1M75 15h.1M6 90h.1M79 37h.1M39 20h.1M96 24h.1M56 97h.1M56 46h.1M1 13h.1" stroke="#2424b0" stroke-width="3.2" stroke-linecap="round" fill="none" stroke-opacity="0.8"/><g filter="url(#b1)"><path d="M35 86h.1M6 71h.1M8 1h.1M24 6h.1M32 62h.1M3 86h.1M100 68h.1M85 27h.1M23 65h.1M49 84h.1M69 29h.1M72 18h.1" stroke="#2030e0" stroke-width="11" stroke-linecap="round" fill="none" stroke-opacity="0.9"/></g><path d="M99 26h.1M72 28h.1M22 10h.1M45 48h.1M87 79h.1M88 32h.1M74 82h.1M9 94h.1M97 16h.1M70 27h.1M30 4h.1M65 63h.1" stroke="#d02838" stroke-width="2.6" stroke-linecap="round" fill="none" stroke-opacity="0.9"/><path d="M69 17h.1M62 66h.1M29 95h.1M38 5h.1M96 21h.1M0 39h.1M6 28h.1M48 68h.1M40 2h.1M4 48h.1M15 47h.1M58 66h.1M98 53h.1M100 16h.1M3 62h.1M75 81h.1M2 26h.1M41 89h.1M60 53h.1M9 28h.1M60 43h.1M90 6h.1M12 100h.1M54 26h.1M60 56h.1M4 24h.1M63 92h.1M31 22h.1M97 13h.1M82 43h.1M52 70h.1M30 95h.1M32 4h.1M52 64h.1M68 40h.1M13 50h.1M37 46h.1M12 88h.1M25 96h.1M70 61h.1M49 0h.1M33 32h.1M86 84h.1M63 48h.1M93 0h.1M48 74h.1M39 42h.1M76 18h.1M46 62h.1M56 78h.1M100 37h.1M53 64h.1M90 14h.1M7 89h.1M83 8h.1M90 37h.1M52 51h.1M33 40h.1M10 7h.1M65 96h.1M76 63h.1M46 29h.1M90 5h.1M53 65h.1M35 29h.1M76 1h.1M76 4h.1M11 8h.1M23 76h.1M19 88h.1" stroke="#40d040" stroke-width="2.2" stroke-linecap="round" fill="none" stroke-opacity="0.9"/></svg>
<text class="r" x="147.10" y="538.50" font-size="7.6" text-anchor="middle" fill="#000">AAV-SYN</text>
<text class="r" x="301.10" y="538.50" font-size="7.6" text-anchor="middle" fill="#000">AAV-SYN-VIM</text>
<path d="M73.7 545.5H221.7M228.8 545.5H378.1" stroke="#444" stroke-width="0.8"/>
<text class="r" x="93.80" y="553.30" font-size="7.6" text-anchor="middle" fill="#000">Sham</text>
<text class="r" x="147.90" y="553.30" font-size="7.6" text-anchor="middle" fill="#000">MCAO/R</text>
<text class="r" x="198.60" y="553.30" font-size="7.6" text-anchor="middle" fill="#000">NBP</text>
<text class="r" x="250.70" y="553.30" font-size="7.6" text-anchor="middle" fill="#000">Sham</text>
<text class="r" x="304.20" y="553.30" font-size="7.6" text-anchor="middle" fill="#000">MCAO/R</text>
<text class="r" x="355.70" y="553.30" font-size="7.6" text-anchor="middle" fill="#000">NBP</text>
<text class="r" x="63.60" y="649.70" font-size="8.3" fill="#000" transform="rotate(-90 63.60 649.70)"><tspan fill="#2bd14a">NeuN</tspan><tspan fill="#e02020">/CD31</tspan><tspan fill="#c8e85a">/Ki67</tspan><tspan fill="#2a2ad8">/DAPI</tspan></text>
<text class="r" x="32.80" y="29.10" font-size="15.5" fill="#000">A</text>
<text class="r" x="382.70" y="27.50" font-size="15.5" fill="#000">B</text>
<text class="r" x="631.50" y="28.00" font-size="15.5" fill="#000">C</text>
<text class="r" x="32.50" y="197.50" font-size="15.5" fill="#000">D</text>
<text class="r" x="188.60" y="196.10" font-size="15.5" fill="#000">E</text>
<text class="r" x="341.50" y="196.10" font-size="15.5" fill="#000">F</text>
<text class="r" x="491.80" y="196.90" font-size="15.5" fill="#000">G</text>
<text class="r" x="635.60" y="197.20" font-size="15.5" fill="#000">H</text>
<text class="r" x="36.60" y="360.30" font-size="15.5" fill="#000">I</text>
<text class="r" x="198.40" y="359.30" font-size="15.5" fill="#000">J</text>
<text class="r" x="373.50" y="360.50" font-size="15.5" fill="#000">K</text>
<text class="r" x="33.90" y="542.90" font-size="15.5" fill="#000">L</text>
<text class="r" x="389.10" y="544.90" font-size="15.5" fill="#000">M</text>
<text class="r" x="573.30" y="546.20" font-size="15.5" fill="#000">N</text>
<text class="r" x="32.90" y="697.20" font-size="15.5" fill="#000">O</text>
<text class="r" x="192.30" y="695.90" font-size="15.5" fill="#000">P</text>
<text class="r" x="338.60" y="697.20" font-size="15.5" fill="#000">Q</text>
<text class="r" x="493.70" y="697.50" font-size="15.5" fill="#000">R</text>
<text class="r" x="34.30" y="842.50" font-size="15.5" fill="#000">S</text>
<text class="r" x="190.60" y="844.50" font-size="15.5" fill="#000">T</text>
<text class="r" x="343.10" y="840.80" font-size="15.5" fill="#000">U</text>
<text class="r" x="491.90" y="840.80" font-size="15.5" fill="#000">V</text>
<text class="r" x="638.50" y="842.00" font-size="15.5" fill="#000">W</text>
<g id="chartC">
<rect x="675.25" y="85.19" width="12.49" height="34.59" fill="#8a8a8a"/>
<rect x="693.50" y="92.87" width="12.49" height="26.90" fill="#8b0a12"/>
<rect x="712.24" y="94.55" width="12.49" height="25.22" fill="#2f7fbe"/>
<rect x="730.74" y="67.89" width="12.49" height="51.89" fill="#8a8a8a"/>
<rect x="749.47" y="90.95" width="12.49" height="28.83" fill="#8b0a12"/>
<rect x="767.97" y="68.37" width="12.49" height="51.41" fill="#2f7fbe"/>
<path d="M681.49 79.18V85.19M679.99 79.18H682.99" stroke="#8a8a8a" stroke-width="0.6" fill="none"/>
<path d="M681.49 85.19V91.67M679.99 91.67H682.99" stroke="#333" stroke-opacity="0.55" stroke-width="0.6" fill="none"/>
<path d="M699.75 88.07V92.87M698.25 88.07H701.25" stroke="#8b0a12" stroke-width="0.6" fill="none"/>
<path d="M699.75 92.87V96.48M698.25 96.48H701.25" stroke="#333" stroke-opacity="0.55" stroke-width="0.6" fill="none"/>
<path d="M718.49 88.07V94.55M716.99 88.07H719.99" stroke="#2f7fbe" stroke-width="0.6" fill="none"/>
<path d="M718.49 94.55V102.48M716.99 102.48H719.99" stroke="#333" stroke-opacity="0.55" stroke-width="0.6" fill="none"/>
<path d="M736.98 57.56V67.89M735.48 57.56H738.48" stroke="#8a8a8a" stroke-width="0.6" fill="none"/>
<path d="M736.98 67.89V78.46M735.48 78.46H738.48" stroke="#333" stroke-opacity="0.55" stroke-width="0.6" fill="none"/>
<path d="M755.72 85.67V90.95M754.22 85.67H757.22" stroke="#8b0a12" stroke-width="0.6" fill="none"/>
<path d="M755.72 90.95V96.48M754.22 96.48H757.22" stroke="#333" stroke-opacity="0.55" stroke-width="0.6" fill="none"/>
<path d="M774.22 59.24V68.37M772.72 59.24H775.72" stroke="#2f7fbe" stroke-width="0.6" fill="none"/>
<path d="M774.22 68.37V77.26M772.72 77.26H775.72" stroke="#333" stroke-opacity="0.55" stroke-width="0.6" fill="none"/>
<circle cx="681.97" cy="81.58" r="1.7" fill="#fff" stroke="#8a8a8a" stroke-width="0.85"/>
<circle cx="685.34" cy="81.58" r="1.7" fill="#fff" stroke="#8a8a8a" stroke-width="0.85"/>
<circle cx="681.97" cy="91.67" r="1.7" fill="#fff" stroke="#8a8a8a" stroke-width="0.85"/>
<circle cx="699.75" cy="88.07" r="1.7" fill="#fff" stroke="#8b0a12" stroke-width="0.85"/>
<circle cx="704.55" cy="92.87" r="1.7" fill="#fff" stroke="#8b0a12" stroke-width="0.85"/>
<circle cx="695.67" cy="96.00" r="1.7" fill="#fff" stroke="#8b0a12" stroke-width="0.85"/>
<circle cx="718.49" cy="88.07" r="1.7" fill="#fff" stroke="#2f7fbe" stroke-width="0.85"/>
<circle cx="718.49" cy="94.07" r="1.7" fill="#fff" stroke="#2f7fbe" stroke-width="0.85"/>
<circle cx="718.49" cy="102.00" r="1.7" fill="#fff" stroke="#2f7fbe" stroke-width="0.85"/>
<circle cx="737.70" cy="61.17" r="1.7" fill="#fff" stroke="#8a8a8a" stroke-width="0.85"/>
<circle cx="741.79" cy="61.17" r="1.7" fill="#fff" stroke="#8a8a8a" stroke-width="0.85"/>
<circle cx="736.98" cy="79.18" r="1.7" fill="#fff" stroke="#8a8a8a" stroke-width="0.85"/>
<circle cx="755.72" cy="86.39" r="1.7" fill="#fff" stroke="#8b0a12" stroke-width="0.85"/>
<circle cx="755.72" cy="91.19" r="1.7" fill="#fff" stroke="#8b0a12" stroke-width="0.85"/>
<circle cx="755.72" cy="96.00" r="1.7" fill="#fff" stroke="#8b0a12" stroke-width="0.85"/>
<circle cx="774.22" cy="59.24" r="1.7" fill="#fff" stroke="#2f7fbe" stroke-width="0.85"/>
<circle cx="774.22" cy="68.85" r="1.7" fill="#fff" stroke="#2f7fbe" stroke-width="0.85"/>
<circle cx="774.22" cy="77.26" r="1.7" fill="#fff" stroke="#2f7fbe" stroke-width="0.85"/>
<path d="M669.24 34.92V119.78H786.95M669.24 35.22h-3M669.24 63.33h-3M669.24 91.67h-3M669.24 119.78h-3M681.49 119.78v3M699.75 119.78v3M718.49 119.78v3M736.98 119.78v3M755.72 119.78v3M774.22 119.78v3" stroke="#161616" stroke-width="1.0" fill="none"/>
<text class="s" x="665.04" y="37.37" font-size="6.1" text-anchor="end" font-weight="bold" stroke="#000" stroke-width="0.18" fill="#000">150</text>
<text class="s" x="665.04" y="65.48" font-size="6.1" text-anchor="end" font-weight="bold" stroke="#000" stroke-width="0.18" fill="#000">100</text>
<text class="s" x="665.04" y="93.82" font-size="6.1" text-anchor="end" font-weight="bold" stroke="#000" stroke-width="0.18" fill="#000">50</text>
<text class="s" x="665.04" y="121.93" font-size="6.1" text-anchor="end" font-weight="bold" stroke="#000" stroke-width="0.18" fill="#000">0</text>
<text class="s" x="685.49" y="128.88" font-size="6.3" text-anchor="end" font-weight="bold" stroke="#000" stroke-width="0.18" fill="#000" transform="rotate(-45 685.49 128.88)">Sham</text>
<text class="s" x="703.75" y="128.88" font-size="6.3" text-anchor="end" font-weight="bold" stroke="#000" stroke-width="0.18" fill="#000" transform="rotate(-45 703.75 128.88)">MCAO/R</text>
<text class="s" x="722.49" y="128.88" font-size="6.3" text-anchor="end" font-weight="bold" stroke="#000" stroke-width="0.18" fill="#000" transform="rotate(-45 722.49 128.88)">NBP</text>
<text class="s" x="740.98" y="128.88" font-size="6.3" text-anchor="end" font-weight="bold" stroke="#000" stroke-width="0.18" fill="#000" transform="rotate(-45 740.98 128.88)">Sham</text>
<text class="s" x="759.72" y="128.88" font-size="6.3" text-anchor="end" font-weight="bold" stroke="#000" stroke-width="0.18" fill="#000" transform="rotate(-45 759.72 128.88)">MCAO/R</text>
<text class="s" x="778.22" y="128.88" font-size="6.3" text-anchor="end" font-weight="bold" stroke="#000" stroke-width="0.18" fill="#000" transform="rotate(-45 778.22 128.88)">NBP</text>
<path d="M672.37 151.72H719.69" stroke="#161616" stroke-width="1.1"/>
<text class="s" x="696.39" y="161.81" font-size="6.9" text-anchor="middle" fill="#000">AAV-SYN-VIM</text>
<path d="M728.10 151.72H776.14" stroke="#161616" stroke-width="1.1"/>
<text class="s" x="751.64" y="161.81" font-size="6.9" text-anchor="middle" fill="#000">AAV-SYN</text>
<text class="s" x="641.62" y="77.98" font-size="6.9" text-anchor="middle" font-weight="bold" stroke="#000" stroke-width="0.18" fill="#000" transform="rotate(-90 641.62 77.98)">Tie-2/β-actin</text>
<text class="s" x="650.74" y="77.98" font-size="6.9" text-anchor="middle" font-weight="bold" stroke="#000" stroke-width="0.18" fill="#000" transform="rotate(-90 650.74 77.98)">(% of β-actin)</text>
<path d="M678.85 48.15V46.75H734.10V48.15" stroke="#161616" stroke-width="0.8" fill="none"/>
<text class="s" x="702.87" y="45.85" font-size="6.6" text-anchor="middle" font-style="italic" fill="#000" stroke="#111" stroke-width="0.25">ns</text>
<path d="M719.69 40.95V39.55H774.94V40.95" stroke="#161616" stroke-width="0.8" fill="none"/>
<text class="s" x="744.19" y="40.65" font-size="7.2" text-anchor="middle" font-weight="bold" stroke="#000" stroke-width="0.18" fill="#000">*</text>
<path d="M734.82 56.56V55.16H754.52V56.56" stroke="#161616" stroke-width="0.8" fill="none"/>
<text class="s" x="744.91" y="56.26" font-size="7.2" text-anchor="middle" font-weight="bold" stroke="#000" stroke-width="0.18" fill="#000">*</text>
<path d="M756.44 50.55V49.15H776.14V50.55" stroke="#161616" stroke-width="0.8" fill="none"/>
<text class="s" x="764.61" y="50.25" font-size="7.2" text-anchor="middle" font-weight="bold" stroke="#000" stroke-width="0.18" fill="#000">*</text>
<path d="M678.37 77.94V76.54H698.55V77.94" stroke="#161616" stroke-width="0.8" fill="none"/>
<text class="s" x="688.46" y="75.64" font-size="6.6" text-anchor="middle" font-style="italic" fill="#000" stroke="#111" stroke-width="0.25">ns</text>
<path d="M699.75 83.46V82.06H720.41V83.46" stroke="#161616" stroke-width="0.8" fill="none"/>
<text class="s" x="709.36" y="81.16" font-size="6.6" text-anchor="middle" font-style="italic" fill="#000" stroke="#111" stroke-width="0.25">ns</text>
</g>
<g id="chartD">
<rect x="76.57" y="246.86" width="12.25" height="46.08" fill="#8a8a8a"/>
<rect x="95.44" y="261.08" width="12.25" height="31.86" fill="#8b0a12"/>
<rect x="114.07" y="261.08" width="12.25" height="31.86" fill="#2f7fbe"/>
<rect x="132.45" y="233.38" width="12.25" height="59.56" fill="#8a8a8a"/>
<rect x="151.08" y="258.14" width="12.25" height="34.80" fill="#8b0a12"/>
<rect x="169.71" y="227.75" width="12.25" height="65.20" fill="#2f7fbe"/>
<path d="M82.70 238.04V246.86M81.20 238.04H84.20" stroke="#8a8a8a" stroke-width="0.6" fill="none"/>
<path d="M82.70 246.86V256.18M81.20 256.18H84.20" stroke="#333" stroke-opacity="0.55" stroke-width="0.6" fill="none"/>
<path d="M101.57 257.40V261.08M100.07 257.40H103.07" stroke="#8b0a12" stroke-width="0.6" fill="none"/>
<path d="M101.57 261.08V264.75M100.07 264.75H103.07" stroke="#333" stroke-opacity="0.55" stroke-width="0.6" fill="none"/>
<path d="M120.20 256.67V261.08M118.70 256.67H121.70" stroke="#2f7fbe" stroke-width="0.6" fill="none"/>
<path d="M120.20 261.08V265.49M118.70 265.49H121.70" stroke="#333" stroke-opacity="0.55" stroke-width="0.6" fill="none"/>
<path d="M138.58 225.54V233.38M137.08 225.54H140.08" stroke="#8a8a8a" stroke-width="0.6" fill="none"/>
<path d="M138.58 233.38V241.47M137.08 241.47H140.08" stroke="#333" stroke-opacity="0.55" stroke-width="0.6" fill="none"/>
<path d="M157.21 250.05V258.14M155.71 250.05H158.71" stroke="#8b0a12" stroke-width="0.6" fill="none"/>
<path d="M157.21 258.14V267.21M155.71 267.21H158.71" stroke="#333" stroke-opacity="0.55" stroke-width="0.6" fill="none"/>
<path d="M175.83 217.45V227.75M174.33 217.45H177.33" stroke="#2f7fbe" stroke-width="0.6" fill="none"/>
<path d="M175.83 227.75V239.02M174.33 239.02H177.33" stroke="#333" stroke-opacity="0.55" stroke-width="0.6" fill="none"/>
<circle cx="83.92" cy="242.21" r="1.7" fill="#fff" stroke="#8a8a8a" stroke-width="0.85"/>
<circle cx="87.60" cy="240.98" r="1.7" fill="#fff" stroke="#8a8a8a" stroke-width="0.85"/>
<circle cx="82.70" cy="257.89" r="1.7" fill="#fff" stroke="#8a8a8a" stroke-width="0.85"/>
<circle cx="102.30" cy="258.63" r="1.7" fill="#fff" stroke="#8b0a12" stroke-width="0.85"/>
<circle cx="105.98" cy="257.40" r="1.7" fill="#fff" stroke="#8b0a12" stroke-width="0.85"/>
<circle cx="101.57" cy="264.02" r="1.7" fill="#fff" stroke="#8b0a12" stroke-width="0.85"/>
<circle cx="120.20" cy="257.40" r="1.7" fill="#fff" stroke="#2f7fbe" stroke-width="0.85"/>
<circle cx="120.20" cy="260.34" r="1.7" fill="#fff" stroke="#2f7fbe" stroke-width="0.85"/>
<circle cx="120.20" cy="264.02" r="1.7" fill="#fff" stroke="#2f7fbe" stroke-width="0.85"/>
<circle cx="134.90" cy="228.48" r="1.7" fill="#fff" stroke="#8a8a8a" stroke-width="0.85"/>
<circle cx="143.24" cy="228.48" r="1.7" fill="#fff" stroke="#8a8a8a" stroke-width="0.85"/>
<circle cx="138.58" cy="242.21" r="1.7" fill="#fff" stroke="#8a8a8a" stroke-width="0.85"/>
<circle cx="157.21" cy="251.27" r="1.7" fill="#fff" stroke="#8b0a12" stroke-width="0.85"/>
<circle cx="157.21" cy="255.69" r="1.7" fill="#fff" stroke="#8b0a12" stroke-width="0.85"/>
<circle cx="157.21" cy="267.21" r="1.7" fill="#fff" stroke="#8b0a12" stroke-width="0.85"/>
<circle cx="175.83" cy="218.92" r="1.7" fill="#fff" stroke="#2f7fbe" stroke-width="0.85"/>
<circle cx="175.83" cy="223.09" r="1.7" fill="#fff" stroke="#2f7fbe" stroke-width="0.85"/>
<circle cx="175.83" cy="239.75" r="1.7" fill="#fff" stroke="#2f7fbe" stroke-width="0.85"/>
<path d="M70.44 208.33V292.94H186.37M70.44 208.63h-3M70.44 236.81h-3M70.44 265.00h-3M70.44 292.94h-3M82.70 292.94v3M101.57 292.94v3M120.20 292.94v3M138.58 292.94v3M157.21 292.94v3M175.83 292.94v3" stroke="#161616" stroke-width="1.0" fill="none"/>
<text class="s" x="66.24" y="210.78" font-size="6.1" text-anchor="end" font-weight="bold" stroke="#000" stroke-width="0.18" fill="#000">150</text>
<text class="s" x="66.24" y="238.96" font-size="6.1" text-anchor="end" font-weight="bold" stroke="#000" stroke-width="0.18" fill="#000">100</text>
<text class="s" x="66.24" y="267.15" font-size="6.1" text-anchor="end" font-weight="bold" stroke="#000" stroke-width="0.18" fill="#000">50</text>
<text class="s" x="66.24" y="295.09" font-size="6.1" text-anchor="end" font-weight="bold" stroke="#000" stroke-width="0.18" fill="#000">0</text>
<text class="s" x="86.70" y="302.04" font-size="6.3" text-anchor="end" font-weight="bold" stroke="#000" stroke-width="0.18" fill="#000" transform="rotate(-45 86.70 302.04)">Sham</text>
<text class="s" x="105.57" y="302.04" font-size="6.3" text-anchor="end" font-weight="bold" stroke="#000" stroke-width="0.18" fill="#000" transform="rotate(-45 105.57 302.04)">MCAO/R</text>
<text class="s" x="124.20" y="302.04" font-size="6.3" text-anchor="end" font-weight="bold" stroke="#000" stroke-width="0.18" fill="#000" transform="rotate(-45 124.20 302.04)">NBP</text>
<text class="s" x="142.58" y="302.04" font-size="6.3" text-anchor="end" font-weight="bold" stroke="#000" stroke-width="0.18" fill="#000" transform="rotate(-45 142.58 302.04)">Sham</text>
<text class="s" x="161.21" y="302.04" font-size="6.3" text-anchor="end" font-weight="bold" stroke="#000" stroke-width="0.18" fill="#000" transform="rotate(-45 161.21 302.04)">MCAO/R</text>
<text class="s" x="179.83" y="302.04" font-size="6.3" text-anchor="end" font-weight="bold" stroke="#000" stroke-width="0.18" fill="#000" transform="rotate(-45 179.83 302.04)">NBP</text>
<path d="M74.12 324.80H121.91" stroke="#161616" stroke-width="1.1"/>
<text class="s" x="98.14" y="334.61" font-size="6.9" text-anchor="middle" fill="#000">AAV-SYN-VIM</text>
<path d="M129.26 324.80H177.55" stroke="#161616" stroke-width="1.1"/>
<text class="s" x="153.28" y="334.61" font-size="6.9" text-anchor="middle" fill="#000">AAV-SYN</text>
<text class="s" x="43.43" y="250.54" font-size="6.9" text-anchor="middle" font-weight="bold" stroke="#000" stroke-width="0.18" fill="#000" transform="rotate(-90 43.43 250.54)">ANG-1/β-actin</text>
<text class="s" x="52.50" y="250.54" font-size="6.9" text-anchor="middle" font-weight="bold" stroke="#000" stroke-width="0.18" fill="#000" transform="rotate(-90 52.50 250.54)">(% of β-actin)</text>
<path d="M80.25 212.48V211.08H135.39V212.48" stroke="#161616" stroke-width="0.8" fill="none"/>
<text class="s" x="107.94" y="210.18" font-size="6.6" text-anchor="middle" font-style="italic" fill="#000" stroke="#111" stroke-width="0.25">ns</text>
<path d="M120.69 204.88V203.48H175.83V204.88" stroke="#161616" stroke-width="0.8" fill="none"/>
<text class="s" x="148.38" y="204.58" font-size="7.2" text-anchor="middle" font-weight="bold" stroke="#000" stroke-width="0.18" fill="#000">**</text>
<path d="M135.88 220.81V219.41H156.72V220.81" stroke="#161616" stroke-width="0.8" fill="none"/>
<text class="s" x="146.91" y="220.51" font-size="7.2" text-anchor="middle" font-weight="bold" stroke="#000" stroke-width="0.18" fill="#000">*</text>
<path d="M157.70 215.17V213.77H176.32V215.17" stroke="#161616" stroke-width="0.8" fill="none"/>
<text class="s" x="167.25" y="214.87" font-size="7.2" text-anchor="middle" font-weight="bold" stroke="#000" stroke-width="0.18" fill="#000">**</text>
<path d="M80.25 236.74V235.34H100.59V236.74" stroke="#161616" stroke-width="0.8" fill="none"/>
<text class="s" x="90.05" y="234.44" font-size="6.6" text-anchor="middle" font-style="italic" fill="#000" stroke="#111" stroke-width="0.25">ns</text>
<path d="M101.57 251.20V249.80H122.40V251.20" stroke="#161616" stroke-width="0.8" fill="none"/>
<text class="s" x="111.62" y="248.90" font-size="6.6" text-anchor="middle" font-style="italic" fill="#000" stroke="#111" stroke-width="0.25">ns</text>
</g>
<g id="chartE">
<rect x="226.57" y="260.59" width="12.25" height="32.35" fill="#8a8a8a"/>
<rect x="245.44" y="262.79" width="12.25" height="30.15" fill="#8b0a12"/>
<rect x="264.07" y="264.75" width="12.25" height="28.19" fill="#2f7fbe"/>
<rect x="282.45" y="235.34" width="12.25" height="57.60" fill="#8a8a8a"/>
<rect x="301.08" y="258.63" width="12.25" height="34.31" fill="#8b0a12"/>
<rect x="319.71" y="229.22" width="12.25" height="63.73" fill="#2f7fbe"/>
<path d="M232.70 252.01V260.59M231.20 252.01H234.20" stroke="#8a8a8a" stroke-width="0.6" fill="none"/>
<path d="M232.70 260.59V269.66M231.20 269.66H234.20" stroke="#333" stroke-opacity="0.55" stroke-width="0.6" fill="none"/>
<path d="M251.57 253.24V262.79M250.07 253.24H253.07" stroke="#8b0a12" stroke-width="0.6" fill="none"/>
<path d="M251.57 262.79V269.66M250.07 269.66H253.07" stroke="#333" stroke-opacity="0.55" stroke-width="0.6" fill="none"/>
<path d="M270.20 255.69V264.75M268.70 255.69H271.70" stroke="#2f7fbe" stroke-width="0.6" fill="none"/>
<path d="M270.20 264.75V273.33M268.70 273.33H271.70" stroke="#333" stroke-opacity="0.55" stroke-width="0.6" fill="none"/>
<path d="M288.58 231.67V235.34M287.08 231.67H290.08" stroke="#8a8a8a" stroke-width="0.6" fill="none"/>
<path d="M288.58 235.34V238.53M287.08 238.53H290.08" stroke="#333" stroke-opacity="0.55" stroke-width="0.6" fill="none"/>
<path d="M307.21 255.69V258.63M305.71 255.69H308.71" stroke="#8b0a12" stroke-width="0.6" fill="none"/>
<path d="M307.21 258.63V261.08M305.71 261.08H308.71" stroke="#333" stroke-opacity="0.55" stroke-width="0.6" fill="none"/>
<path d="M325.83 218.19V229.22M324.33 218.19H327.33" stroke="#2f7fbe" stroke-width="0.6" fill="none"/>
<path d="M325.83 229.22V239.02M324.33 239.02H327.33" stroke="#333" stroke-opacity="0.55" stroke-width="0.6" fill="none"/>
<circle cx="229.02" cy="255.69" r="1.7" fill="#fff" stroke="#8a8a8a" stroke-width="0.85"/>
<circle cx="236.86" cy="255.69" r="1.7" fill="#fff" stroke="#8a8a8a" stroke-width="0.85"/>
<circle cx="232.70" cy="269.66" r="1.7" fill="#fff" stroke="#8a8a8a" stroke-width="0.85"/>
<circle cx="251.08" cy="254.22" r="1.7" fill="#fff" stroke="#8b0a12" stroke-width="0.85"/>
<circle cx="247.40" cy="267.21" r="1.7" fill="#fff" stroke="#8b0a12" stroke-width="0.85"/>
<circle cx="255.49" cy="265.98" r="1.7" fill="#fff" stroke="#8b0a12" stroke-width="0.85"/>
<circle cx="265.78" cy="258.14" r="1.7" fill="#fff" stroke="#2f7fbe" stroke-width="0.85"/>
<circle cx="270.20" cy="261.08" r="1.7" fill="#fff" stroke="#2f7fbe" stroke-width="0.85"/>
<circle cx="270.20" cy="273.82" r="1.7" fill="#fff" stroke="#2f7fbe" stroke-width="0.85"/>
<circle cx="284.90" cy="236.57" r="1.7" fill="#fff" stroke="#8a8a8a" stroke-width="0.85"/>
<circle cx="288.58" cy="233.63" r="1.7" fill="#fff" stroke="#8a8a8a" stroke-width="0.85"/>
<circle cx="292.75" cy="234.85" r="1.7" fill="#fff" stroke="#8a8a8a" stroke-width="0.85"/>
<circle cx="303.28" cy="259.85" r="1.7" fill="#fff" stroke="#8b0a12" stroke-width="0.85"/>
<circle cx="307.21" cy="256.18" r="1.7" fill="#fff" stroke="#8b0a12" stroke-width="0.85"/>
<circle cx="311.62" cy="259.12" r="1.7" fill="#fff" stroke="#8b0a12" stroke-width="0.85"/>
<circle cx="325.83" cy="218.19" r="1.7" fill="#fff" stroke="#2f7fbe" stroke-width="0.85"/>
<circle cx="325.83" cy="232.89" r="1.7" fill="#fff" stroke="#2f7fbe" stroke-width="0.85"/>
<circle cx="325.83" cy="236.57" r="1.7" fill="#fff" stroke="#2f7fbe" stroke-width="0.85"/>
<path d="M220.44 208.33V292.94H336.37M220.44 208.63h-3M220.44 236.81h-3M220.44 265.00h-3M220.44 292.94h-3M232.70 292.94v3M251.57 292.94v3M270.20 292.94v3M288.58 292.94v3M307.21 292.94v3M325.83 292.94v3" stroke="#161616" stroke-width="1.0" fill="none"/>
<text class="s" x="216.24" y="210.78" font-size="6.1" text-anchor="end" font-weight="bold" stroke="#000" stroke-width="0.18" fill="#000">150</text>
<text class="s" x="216.24" y="238.96" font-size="6.1" text-anchor="end" font-weight="bold" stroke="#000" stroke-width="0.18" fill="#000">100</text>
<text class="s" x="216.24" y="267.15" font-size="6.1" text-anchor="end" font-weight="bold" stroke="#000" stroke-width="0.18" fill="#000">50</text>
<text class="s" x="216.24" y="295.09" font-size="6.1" text-anchor="end" font-weight="bold" stroke="#000" stroke-width="0.18" fill="#000">0</text>
<text class="s" x="236.70" y="302.04" font-size="6.3" text-anchor="end" font-weight="bold" stroke="#000" stroke-width="0.18" fill="#000" transform="rotate(-45 236.70 302.04)">Sham</text>
<text class="s" x="255.57" y="302.04" font-size="6.3" text-anchor="end" font-weight="bold" stroke="#000" stroke-width="0.18" fill="#000" transform="rotate(-45 255.57 302.04)">MCAO/R</text>
<text class="s" x="274.20" y="302.04" font-size="6.3" text-anchor="end" font-weight="bold" stroke="#000" stroke-width="0.18" fill="#000" transform="rotate(-45 274.20 302.04)">NBP</text>
<text class="s" x="292.58" y="302.04" font-size="6.3" text-anchor="end" font-weight="bold" stroke="#000" stroke-width="0.18" fill="#000" transform="rotate(-45 292.58 302.04)">Sham</text>
<text class="s" x="311.21" y="302.04" font-size="6.3" text-anchor="end" font-weight="bold" stroke="#000" stroke-width="0.18" fill="#000" transform="rotate(-45 311.21 302.04)">MCAO/R</text>
<text class="s" x="329.83" y="302.04" font-size="6.3" text-anchor="end" font-weight="bold" stroke="#000" stroke-width="0.18" fill="#000" transform="rotate(-45 329.83 302.04)">NBP</text>
<path d="M224.12 324.80H271.91" stroke="#161616" stroke-width="1.1"/>
<text class="s" x="249.12" y="334.61" font-size="6.9" text-anchor="middle" fill="#000">AAV-SYN-VIM</text>
<path d="M279.26 324.80H327.55" stroke="#161616" stroke-width="1.1"/>
<text class="s" x="303.28" y="334.61" font-size="6.9" text-anchor="middle" fill="#000">AAV-SYN</text>
<text class="s" x="193.43" y="250.54" font-size="6.9" text-anchor="middle" font-weight="bold" stroke="#000" stroke-width="0.18" fill="#000" transform="rotate(-90 193.43 250.54)">GAP43/β-actin</text>
<text class="s" x="202.50" y="250.54" font-size="6.9" text-anchor="middle" font-weight="bold" stroke="#000" stroke-width="0.18" fill="#000" transform="rotate(-90 202.50 250.54)">(% of β-actin)</text>
<path d="M230.25 218.36V216.96H285.39V218.36" stroke="#161616" stroke-width="0.8" fill="none"/>
<text class="s" x="257.94" y="218.06" font-size="7.2" text-anchor="middle" font-weight="bold" stroke="#000" stroke-width="0.18" fill="#000">*</text>
<path d="M270.69 205.62V204.22H325.83V205.62" stroke="#161616" stroke-width="0.8" fill="none"/>
<text class="s" x="293.97" y="205.32" font-size="7.2" text-anchor="middle" font-weight="bold" stroke="#000" stroke-width="0.18" fill="#000">***</text>
<path d="M285.88 226.94V225.54H306.72V226.94" stroke="#161616" stroke-width="0.8" fill="none"/>
<text class="s" x="296.91" y="226.64" font-size="7.2" text-anchor="middle" font-weight="bold" stroke="#000" stroke-width="0.18" fill="#000">*</text>
<path d="M307.70 215.17V213.77H326.32V215.17" stroke="#161616" stroke-width="0.8" fill="none"/>
<text class="s" x="317.25" y="214.87" font-size="7.2" text-anchor="middle" font-weight="bold" stroke="#000" stroke-width="0.18" fill="#000">**</text>
<path d="M230.25 244.83V243.43H250.59V244.83" stroke="#161616" stroke-width="0.8" fill="none"/>
<text class="s" x="240.05" y="242.53" font-size="6.6" text-anchor="middle" font-style="italic" fill="#000" stroke="#111" stroke-width="0.25">ns</text>
<path d="M251.57 250.71V249.31H272.40V250.71" stroke="#161616" stroke-width="0.8" fill="none"/>
<text class="s" x="262.11" y="248.41" font-size="6.6" text-anchor="middle" font-style="italic" fill="#000" stroke="#111" stroke-width="0.25">ns</text>
</g>
<g id="chartF">
<rect x="383.19" y="260.34" width="12.25" height="32.60" fill="#8a8a8a"/>
<rect x="401.81" y="262.55" width="12.25" height="30.39" fill="#8b0a12"/>
<rect x="420.69" y="261.08" width="12.25" height="31.86" fill="#2f7fbe"/>
<rect x="439.07" y="237.79" width="12.25" height="55.15" fill="#8a8a8a"/>
<rect x="457.45" y="257.40" width="12.25" height="35.54" fill="#8b0a12"/>
<rect x="476.32" y="228.73" width="12.25" height="64.22" fill="#2f7fbe"/>
<path d="M389.31 254.95V260.34M387.81 254.95H390.81" stroke="#8a8a8a" stroke-width="0.6" fill="none"/>
<path d="M389.31 260.34V266.47M387.81 266.47H390.81" stroke="#333" stroke-opacity="0.55" stroke-width="0.6" fill="none"/>
<path d="M407.94 259.12V262.55M406.44 259.12H409.44" stroke="#8b0a12" stroke-width="0.6" fill="none"/>
<path d="M407.94 262.55V266.47M406.44 266.47H409.44" stroke="#333" stroke-opacity="0.55" stroke-width="0.6" fill="none"/>
<path d="M426.81 252.50V261.08M425.31 252.50H428.31" stroke="#2f7fbe" stroke-width="0.6" fill="none"/>
<path d="M426.81 261.08V269.66M425.31 269.66H428.31" stroke="#333" stroke-opacity="0.55" stroke-width="0.6" fill="none"/>
<path d="M445.20 232.16V237.79M443.70 232.16H446.70" stroke="#8a8a8a" stroke-width="0.6" fill="none"/>
<path d="M445.20 237.79V243.43M443.70 243.43H446.70" stroke="#333" stroke-opacity="0.55" stroke-width="0.6" fill="none"/>
<path d="M463.58 247.60V257.40M462.08 247.60H465.08" stroke="#8b0a12" stroke-width="0.6" fill="none"/>
<path d="M463.58 257.40V267.94M462.08 267.94H465.08" stroke="#333" stroke-opacity="0.55" stroke-width="0.6" fill="none"/>
<path d="M482.45 220.64V228.73M480.95 220.64H483.95" stroke="#2f7fbe" stroke-width="0.6" fill="none"/>
<path d="M482.45 228.73V236.57M480.95 236.57H483.95" stroke="#333" stroke-opacity="0.55" stroke-width="0.6" fill="none"/>
<circle cx="389.31" cy="256.18" r="1.7" fill="#fff" stroke="#8a8a8a" stroke-width="0.85"/>
<circle cx="393.24" cy="258.14" r="1.7" fill="#fff" stroke="#8a8a8a" stroke-width="0.85"/>
<circle cx="389.31" cy="265.98" r="1.7" fill="#fff" stroke="#8a8a8a" stroke-width="0.85"/>
<circle cx="407.94" cy="261.57" r="1.7" fill="#fff" stroke="#8b0a12" stroke-width="0.85"/>
<circle cx="412.11" cy="259.85" r="1.7" fill="#fff" stroke="#8b0a12" stroke-width="0.85"/>
<circle cx="407.94" cy="266.47" r="1.7" fill="#fff" stroke="#8b0a12" stroke-width="0.85"/>
<circle cx="426.81" cy="253.24" r="1.7" fill="#fff" stroke="#2f7fbe" stroke-width="0.85"/>
<circle cx="426.81" cy="262.30" r="1.7" fill="#fff" stroke="#2f7fbe" stroke-width="0.85"/>
<circle cx="426.81" cy="268.92" r="1.7" fill="#fff" stroke="#2f7fbe" stroke-width="0.85"/>
<circle cx="445.20" cy="236.57" r="1.7" fill="#fff" stroke="#8a8a8a" stroke-width="0.85"/>
<circle cx="449.12" cy="233.63" r="1.7" fill="#fff" stroke="#8a8a8a" stroke-width="0.85"/>
<circle cx="445.20" cy="242.70" r="1.7" fill="#fff" stroke="#8a8a8a" stroke-width="0.85"/>
<circle cx="463.58" cy="249.56" r="1.7" fill="#fff" stroke="#8b0a12" stroke-width="0.85"/>
<circle cx="463.58" cy="254.22" r="1.7" fill="#fff" stroke="#8b0a12" stroke-width="0.85"/>
<circle cx="463.58" cy="268.43" r="1.7" fill="#fff" stroke="#8b0a12" stroke-width="0.85"/>
<circle cx="482.45" cy="221.37" r="1.7" fill="#fff" stroke="#2f7fbe" stroke-width="0.85"/>
<circle cx="482.45" cy="229.22" r="1.7" fill="#fff" stroke="#2f7fbe" stroke-width="0.85"/>
<circle cx="482.45" cy="235.34" r="1.7" fill="#fff" stroke="#2f7fbe" stroke-width="0.85"/>
<path d="M376.57 208.33V292.94H492.99M376.57 208.63h-3M376.57 236.81h-3M376.57 265.00h-3M376.57 292.94h-3M389.31 292.94v3M407.94 292.94v3M426.81 292.94v3M445.20 292.94v3M463.58 292.94v3M482.45 292.94v3" stroke="#161616" stroke-width="1.0" fill="none"/>
<text class="s" x="372.37" y="210.78" font-size="6.1" text-anchor="end" font-weight="bold" stroke="#000" stroke-width="0.18" fill="#000">150</text>
<text class="s" x="372.37" y="238.96" font-size="6.1" text-anchor="end" font-weight="bold" stroke="#000" stroke-width="0.18" fill="#000">100</text>
<text class="s" x="372.37" y="267.15" font-size="6.1" text-anchor="end" font-weight="bold" stroke="#000" stroke-width="0.18" fill="#000">50</text>
<text class="s" x="372.37" y="295.09" font-size="6.1" text-anchor="end" font-weight="bold" stroke="#000" stroke-width="0.18" fill="#000">0</text>
<text class="s" x="393.31" y="302.04" font-size="6.3" text-anchor="end" font-weight="bold" stroke="#000" stroke-width="0.18" fill="#000" transform="rotate(-45 393.31 302.04)">Sham</text>
<text class="s" x="411.94" y="302.04" font-size="6.3" text-anchor="end" font-weight="bold" stroke="#000" stroke-width="0.18" fill="#000" transform="rotate(-45 411.94 302.04)">MCAO/R</text>
<text class="s" x="430.81" y="302.04" font-size="6.3" text-anchor="end" font-weight="bold" stroke="#000" stroke-width="0.18" fill="#000" transform="rotate(-45 430.81 302.04)">NBP</text>
<text class="s" x="449.20" y="302.04" font-size="6.3" text-anchor="end" font-weight="bold" stroke="#000" stroke-width="0.18" fill="#000" transform="rotate(-45 449.20 302.04)">Sham</text>
<text class="s" x="467.58" y="302.04" font-size="6.3" text-anchor="end" font-weight="bold" stroke="#000" stroke-width="0.18" fill="#000" transform="rotate(-45 467.58 302.04)">MCAO/R</text>
<text class="s" x="486.45" y="302.04" font-size="6.3" text-anchor="end" font-weight="bold" stroke="#000" stroke-width="0.18" fill="#000" transform="rotate(-45 486.45 302.04)">NBP</text>
<path d="M380.25 324.80H428.04" stroke="#161616" stroke-width="1.1"/>
<text class="s" x="404.75" y="334.61" font-size="6.9" text-anchor="middle" fill="#000">AAV-SYN-VIM</text>
<path d="M435.88 324.80H483.92" stroke="#161616" stroke-width="1.1"/>
<text class="s" x="459.90" y="334.61" font-size="6.9" text-anchor="middle" fill="#000">AAV-SYN</text>
<text class="s" x="350.05" y="250.54" font-size="6.9" text-anchor="middle" font-weight="bold" stroke="#000" stroke-width="0.18" fill="#000" transform="rotate(-90 350.05 250.54)">BDNF/β-actin</text>
<text class="s" x="358.87" y="250.54" font-size="6.9" text-anchor="middle" font-weight="bold" stroke="#000" stroke-width="0.18" fill="#000" transform="rotate(-90 358.87 250.54)">(% of β-actin)</text>
<path d="M386.86 220.81V219.41H442.01V220.81" stroke="#161616" stroke-width="0.8" fill="none"/>
<text class="s" x="414.07" y="220.51" font-size="7.2" text-anchor="middle" font-weight="bold" stroke="#000" stroke-width="0.18" fill="#000">*</text>
<path d="M427.55 209.78V208.38H482.45V209.78" stroke="#161616" stroke-width="0.8" fill="none"/>
<text class="s" x="453.28" y="209.48" font-size="7.2" text-anchor="middle" font-weight="bold" stroke="#000" stroke-width="0.18" fill="#000">**</text>
<path d="M442.75 229.39V227.99H463.09V229.39" stroke="#161616" stroke-width="0.8" fill="none"/>
<text class="s" x="451.81" y="229.09" font-size="7.2" text-anchor="middle" font-weight="bold" stroke="#000" stroke-width="0.18" fill="#000">*</text>
<path d="M464.07 217.87V216.47H483.68V217.87" stroke="#161616" stroke-width="0.8" fill="none"/>
<text class="s" x="472.89" y="217.57" font-size="7.2" text-anchor="middle" font-weight="bold" stroke="#000" stroke-width="0.18" fill="#000">**</text>
<path d="M385.15 250.22V248.82H406.47V250.22" stroke="#161616" stroke-width="0.8" fill="none"/>
<text class="s" x="395.69" y="247.92" font-size="6.6" text-anchor="middle" font-style="italic" fill="#000" stroke="#111" stroke-width="0.25">ns</text>
<path d="M407.21 250.22V248.82H428.53V250.22" stroke="#161616" stroke-width="0.8" fill="none"/>
<text class="s" x="417.75" y="247.92" font-size="6.6" text-anchor="middle" font-style="italic" fill="#000" stroke="#111" stroke-width="0.25">ns</text>
</g>
<g id="chartG">
<rect x="535.64" y="232.89" width="11.27" height="60.54" fill="#8a8a8a"/>
<rect x="552.79" y="254.95" width="11.27" height="38.48" fill="#8b0a12"/>
<rect x="570.44" y="225.05" width="11.27" height="68.38" fill="#2f7fbe"/>
<rect x="587.60" y="232.16" width="11.27" height="61.27" fill="#8a8a8a"/>
<rect x="604.75" y="265.49" width="11.27" height="27.94" fill="#8b0a12"/>
<rect x="622.16" y="272.11" width="11.27" height="21.32" fill="#2f7fbe"/>
<path d="M541.27 229.22V232.89M539.77 229.22H542.77" stroke="#8a8a8a" stroke-width="0.6" fill="none"/>
<path d="M541.27 232.89V235.34M539.77 235.34H542.77" stroke="#333" stroke-opacity="0.55" stroke-width="0.6" fill="none"/>
<path d="M558.43 248.82V254.95M556.93 248.82H559.93" stroke="#8b0a12" stroke-width="0.6" fill="none"/>
<path d="M558.43 254.95V261.08M556.93 261.08H559.93" stroke="#333" stroke-opacity="0.55" stroke-width="0.6" fill="none"/>
<path d="M576.08 221.86V225.05M574.58 221.86H577.58" stroke="#2f7fbe" stroke-width="0.6" fill="none"/>
<path d="M576.08 225.05V227.25M574.58 227.25H577.58" stroke="#333" stroke-opacity="0.55" stroke-width="0.6" fill="none"/>
<path d="M593.24 218.19V232.16M591.74 218.19H594.74" stroke="#8a8a8a" stroke-width="0.6" fill="none"/>
<path d="M593.24 232.16V246.37M591.74 246.37H594.74" stroke="#333" stroke-opacity="0.55" stroke-width="0.6" fill="none"/>
<path d="M610.39 257.40V265.49M608.89 257.40H611.89" stroke="#8b0a12" stroke-width="0.6" fill="none"/>
<path d="M610.39 265.49V274.56M608.89 274.56H611.89" stroke="#333" stroke-opacity="0.55" stroke-width="0.6" fill="none"/>
<path d="M627.79 259.85V272.11M626.29 259.85H629.29" stroke="#2f7fbe" stroke-width="0.6" fill="none"/>
<path d="M627.79 272.11V284.36M626.29 284.36H629.29" stroke="#333" stroke-opacity="0.55" stroke-width="0.6" fill="none"/>
<circle cx="537.60" cy="233.63" r="1.7" fill="#fff" stroke="#8a8a8a" stroke-width="0.85"/>
<circle cx="541.27" cy="230.44" r="1.7" fill="#fff" stroke="#8a8a8a" stroke-width="0.85"/>
<circle cx="544.95" cy="232.89" r="1.7" fill="#fff" stroke="#8a8a8a" stroke-width="0.85"/>
<circle cx="558.43" cy="252.50" r="1.7" fill="#fff" stroke="#8b0a12" stroke-width="0.85"/>
<circle cx="562.60" cy="250.78" r="1.7" fill="#fff" stroke="#8b0a12" stroke-width="0.85"/>
<circle cx="558.43" cy="262.30" r="1.7" fill="#fff" stroke="#8b0a12" stroke-width="0.85"/>
<circle cx="572.40" cy="225.54" r="1.7" fill="#fff" stroke="#2f7fbe" stroke-width="0.85"/>
<circle cx="576.08" cy="221.86" r="1.7" fill="#fff" stroke="#2f7fbe" stroke-width="0.85"/>
<circle cx="579.75" cy="225.54" r="1.7" fill="#fff" stroke="#2f7fbe" stroke-width="0.85"/>
<circle cx="593.24" cy="220.64" r="1.7" fill="#fff" stroke="#8a8a8a" stroke-width="0.85"/>
<circle cx="593.24" cy="228.73" r="1.7" fill="#fff" stroke="#8a8a8a" stroke-width="0.85"/>
<circle cx="593.24" cy="246.86" r="1.7" fill="#fff" stroke="#8a8a8a" stroke-width="0.85"/>
<circle cx="606.23" cy="259.85" r="1.7" fill="#fff" stroke="#8b0a12" stroke-width="0.85"/>
<circle cx="609.90" cy="262.30" r="1.7" fill="#fff" stroke="#8b0a12" stroke-width="0.85"/>
<circle cx="610.39" cy="274.07" r="1.7" fill="#fff" stroke="#8b0a12" stroke-width="0.85"/>
<circle cx="627.79" cy="257.40" r="1.7" fill="#fff" stroke="#2f7fbe" stroke-width="0.85"/>
<circle cx="625.10" cy="278.73" r="1.7" fill="#fff" stroke="#2f7fbe" stroke-width="0.85"/>
<circle cx="630.74" cy="278.73" r="1.7" fill="#fff" stroke="#2f7fbe" stroke-width="0.85"/>
<path d="M530.25 205.88V293.43H636.86M530.25 206.18h-3M530.25 235.34h-3M530.25 264.26h-3M530.25 293.43h-3M541.27 293.43v3M558.43 293.43v3M576.08 293.43v3M593.24 293.43v3M610.39 293.43v3M627.79 293.43v3" stroke="#161616" stroke-width="1.0" fill="none"/>
<text class="s" x="526.05" y="208.33" font-size="6.1" text-anchor="end" font-weight="bold" stroke="#000" stroke-width="0.18" fill="#000">0.65</text>
<text class="s" x="526.05" y="237.49" font-size="6.1" text-anchor="end" font-weight="bold" stroke="#000" stroke-width="0.18" fill="#000">0.60</text>
<text class="s" x="526.05" y="266.41" font-size="6.1" text-anchor="end" font-weight="bold" stroke="#000" stroke-width="0.18" fill="#000">0.55</text>
<text class="s" x="526.05" y="295.58" font-size="6.1" text-anchor="end" font-weight="bold" stroke="#000" stroke-width="0.18" fill="#000">0.50</text>
<text class="s" x="545.27" y="302.53" font-size="6.3" text-anchor="end" font-weight="bold" stroke="#000" stroke-width="0.18" fill="#000" transform="rotate(-45 545.27 302.53)">Sham</text>
<text class="s" x="562.43" y="302.53" font-size="6.3" text-anchor="end" font-weight="bold" stroke="#000" stroke-width="0.18" fill="#000" transform="rotate(-45 562.43 302.53)">MCAO/R</text>
<text class="s" x="580.08" y="302.53" font-size="6.3" text-anchor="end" font-weight="bold" stroke="#000" stroke-width="0.18" fill="#000" transform="rotate(-45 580.08 302.53)">NBP</text>
<text class="s" x="597.24" y="302.53" font-size="6.3" text-anchor="end" font-weight="bold" stroke="#000" stroke-width="0.18" fill="#000" transform="rotate(-45 597.24 302.53)">Sham</text>
<text class="s" x="614.39" y="302.53" font-size="6.3" text-anchor="end" font-weight="bold" stroke="#000" stroke-width="0.18" fill="#000" transform="rotate(-45 614.39 302.53)">MCAO/R</text>
<text class="s" x="631.79" y="302.53" font-size="6.3" text-anchor="end" font-weight="bold" stroke="#000" stroke-width="0.18" fill="#000" transform="rotate(-45 631.79 302.53)">NBP</text>
<path d="M530.98 324.31H576.81" stroke="#161616" stroke-width="1.1"/>
<text class="s" x="554.02" y="332.65" font-size="6.9" text-anchor="middle" fill="#000">AAV-SYN</text>
<path d="M585.39 324.31H628.28" stroke="#161616" stroke-width="1.1"/>
<text class="s" x="606.23" y="332.65" font-size="6.9" text-anchor="middle" fill="#000">AAV-SYN-VIM</text>
<text class="s" x="507.65" y="248.82" font-size="6.9" text-anchor="middle" font-weight="bold" stroke="#000" stroke-width="0.18" fill="#000" transform="rotate(-90 507.65 248.82)">Average Area (mm<tspan dy="-2.2" font-size="5" >2</tspan><tspan dy="2.2" font-size="6.9">​</tspan>)</text>
<path d="M536.86 201.20V199.80H593.97V201.20" stroke="#161616" stroke-width="0.8" fill="none"/>
<text class="s" x="564.07" y="198.90" font-size="6.6" text-anchor="middle" font-style="italic" fill="#000" stroke="#111" stroke-width="0.25">ns</text>
<path d="M573.14 210.52V209.12H631.47V210.52" stroke="#161616" stroke-width="0.8" fill="none"/>
<text class="s" x="600.83" y="210.22" font-size="7.2" text-anchor="middle" font-weight="bold" stroke="#000" stroke-width="0.18" fill="#000">***</text>
<path d="M558.43 220.32V218.92H578.53V220.32" stroke="#161616" stroke-width="0.8" fill="none"/>
<text class="s" x="568.24" y="220.02" font-size="7.2" text-anchor="middle" font-weight="bold" stroke="#000" stroke-width="0.18" fill="#000">*</text>
<path d="M589.07 217.87V216.47H608.68V217.87" stroke="#161616" stroke-width="0.8" fill="none"/>
<text class="s" x="598.38" y="217.57" font-size="7.2" text-anchor="middle" font-weight="bold" stroke="#000" stroke-width="0.18" fill="#000">**</text>
<path d="M537.60 228.16V226.76H557.94V228.16" stroke="#161616" stroke-width="0.8" fill="none"/>
<text class="s" x="546.67" y="225.86" font-size="6.6" text-anchor="middle" font-style="italic" fill="#000" stroke="#111" stroke-width="0.25">ns</text>
<path d="M610.39 256.35V254.95H631.47V256.35" stroke="#161616" stroke-width="0.8" fill="none"/>
<text class="s" x="620.20" y="254.05" font-size="6.6" text-anchor="middle" font-style="italic" fill="#000" stroke="#111" stroke-width="0.25">ns</text>
</g>
<g id="chartH">
<rect x="675.01" y="224.35" width="11.05" height="67.74" fill="#8a8a8a"/>
<rect x="692.54" y="251.73" width="11.05" height="40.36" fill="#8b0a12"/>
<rect x="709.84" y="226.03" width="11.05" height="66.06" fill="#2f7fbe"/>
<rect x="727.37" y="232.52" width="11.05" height="59.57" fill="#8a8a8a"/>
<rect x="744.67" y="264.47" width="11.05" height="27.62" fill="#8b0a12"/>
<rect x="761.72" y="261.58" width="11.05" height="30.51" fill="#2f7fbe"/>
<path d="M680.53 216.42V224.35M679.03 216.42H682.03" stroke="#8a8a8a" stroke-width="0.6" fill="none"/>
<path d="M680.53 224.35V231.32M679.03 231.32H682.03" stroke="#333" stroke-opacity="0.55" stroke-width="0.6" fill="none"/>
<path d="M698.07 244.05V251.73M696.57 244.05H699.57" stroke="#8b0a12" stroke-width="0.6" fill="none"/>
<path d="M698.07 251.73V257.26M696.57 257.26H699.57" stroke="#333" stroke-opacity="0.55" stroke-width="0.6" fill="none"/>
<path d="M715.36 223.63V226.03M713.86 223.63H716.86" stroke="#2f7fbe" stroke-width="0.6" fill="none"/>
<path d="M715.36 226.03V227.23M713.86 227.23H716.86" stroke="#333" stroke-opacity="0.55" stroke-width="0.6" fill="none"/>
<path d="M732.90 226.03V232.52M731.40 226.03H734.40" stroke="#8a8a8a" stroke-width="0.6" fill="none"/>
<path d="M732.90 232.52V239.24M731.40 239.24H734.40" stroke="#333" stroke-opacity="0.55" stroke-width="0.6" fill="none"/>
<path d="M750.19 254.86V264.47M748.69 254.86H751.69" stroke="#8b0a12" stroke-width="0.6" fill="none"/>
<path d="M750.19 264.47V272.87M748.69 272.87H751.69" stroke="#333" stroke-opacity="0.55" stroke-width="0.6" fill="none"/>
<path d="M767.25 258.46V261.58M765.75 258.46H768.75" stroke="#2f7fbe" stroke-width="0.6" fill="none"/>
<path d="M767.25 261.58V263.26M765.75 263.26H768.75" stroke="#333" stroke-opacity="0.55" stroke-width="0.6" fill="none"/>
<circle cx="680.53" cy="215.94" r="1.7" fill="#fff" stroke="#8a8a8a" stroke-width="0.85"/>
<circle cx="677.65" cy="228.43" r="1.7" fill="#fff" stroke="#8a8a8a" stroke-width="0.85"/>
<circle cx="684.38" cy="227.95" r="1.7" fill="#fff" stroke="#8a8a8a" stroke-width="0.85"/>
<circle cx="698.07" cy="244.05" r="1.7" fill="#fff" stroke="#8b0a12" stroke-width="0.85"/>
<circle cx="694.95" cy="254.86" r="1.7" fill="#fff" stroke="#8b0a12" stroke-width="0.85"/>
<circle cx="701.67" cy="255.34" r="1.7" fill="#fff" stroke="#8b0a12" stroke-width="0.85"/>
<circle cx="711.76" cy="226.03" r="1.7" fill="#fff" stroke="#2f7fbe" stroke-width="0.85"/>
<circle cx="715.36" cy="224.35" r="1.7" fill="#fff" stroke="#2f7fbe" stroke-width="0.85"/>
<circle cx="719.21" cy="225.55" r="1.7" fill="#fff" stroke="#2f7fbe" stroke-width="0.85"/>
<circle cx="732.90" cy="226.51" r="1.7" fill="#fff" stroke="#8a8a8a" stroke-width="0.85"/>
<circle cx="730.98" cy="234.44" r="1.7" fill="#fff" stroke="#8a8a8a" stroke-width="0.85"/>
<circle cx="733.38" cy="238.04" r="1.7" fill="#fff" stroke="#8a8a8a" stroke-width="0.85"/>
<circle cx="749.71" cy="254.86" r="1.7" fill="#fff" stroke="#8b0a12" stroke-width="0.85"/>
<circle cx="746.11" cy="270.47" r="1.7" fill="#fff" stroke="#8b0a12" stroke-width="0.85"/>
<circle cx="753.32" cy="267.35" r="1.7" fill="#fff" stroke="#8b0a12" stroke-width="0.85"/>
<circle cx="763.65" cy="262.06" r="1.7" fill="#fff" stroke="#2f7fbe" stroke-width="0.85"/>
<circle cx="767.25" cy="259.18" r="1.7" fill="#fff" stroke="#2f7fbe" stroke-width="0.85"/>
<circle cx="770.85" cy="261.58" r="1.7" fill="#fff" stroke="#2f7fbe" stroke-width="0.85"/>
<path d="M669.72 204.83V292.09H778.54M669.72 205.13h-3M669.72 226.75h-3M669.72 248.61h-3M669.72 270.47h-3M669.72 292.09h-3M680.53 292.09v3M698.07 292.09v3M715.36 292.09v3M732.90 292.09v3M750.19 292.09v3M767.25 292.09v3" stroke="#161616" stroke-width="1.0" fill="none"/>
<text class="s" x="665.52" y="207.28" font-size="6.1" text-anchor="end" font-weight="bold" stroke="#000" stroke-width="0.18" fill="#000">0.9</text>
<text class="s" x="665.52" y="228.90" font-size="6.1" text-anchor="end" font-weight="bold" stroke="#000" stroke-width="0.18" fill="#000">0.8</text>
<text class="s" x="665.52" y="250.76" font-size="6.1" text-anchor="end" font-weight="bold" stroke="#000" stroke-width="0.18" fill="#000">0.7</text>
<text class="s" x="665.52" y="272.62" font-size="6.1" text-anchor="end" font-weight="bold" stroke="#000" stroke-width="0.18" fill="#000">0.6</text>
<text class="s" x="665.52" y="294.24" font-size="6.1" text-anchor="end" font-weight="bold" stroke="#000" stroke-width="0.18" fill="#000">0.5</text>
<text class="s" x="684.53" y="301.19" font-size="6.3" text-anchor="end" font-weight="bold" stroke="#000" stroke-width="0.18" fill="#000" transform="rotate(-45 684.53 301.19)">Sham</text>
<text class="s" x="702.07" y="301.19" font-size="6.3" text-anchor="end" font-weight="bold" stroke="#000" stroke-width="0.18" fill="#000" transform="rotate(-45 702.07 301.19)">MCAO/R</text>
<text class="s" x="719.36" y="301.19" font-size="6.3" text-anchor="end" font-weight="bold" stroke="#000" stroke-width="0.18" fill="#000" transform="rotate(-45 719.36 301.19)">NBP</text>
<text class="s" x="736.90" y="301.19" font-size="6.3" text-anchor="end" font-weight="bold" stroke="#000" stroke-width="0.18" fill="#000" transform="rotate(-45 736.90 301.19)">Sham</text>
<text class="s" x="754.19" y="301.19" font-size="6.3" text-anchor="end" font-weight="bold" stroke="#000" stroke-width="0.18" fill="#000" transform="rotate(-45 754.19 301.19)">MCAO/R</text>
<text class="s" x="771.25" y="301.19" font-size="6.3" text-anchor="end" font-weight="bold" stroke="#000" stroke-width="0.18" fill="#000" transform="rotate(-45 771.25 301.19)">NBP</text>
<path d="M670.44 322.84H715.60" stroke="#161616" stroke-width="1.1"/>
<text class="s" x="693.26" y="331.24" font-size="6.9" text-anchor="middle" fill="#000">AAV-SYN</text>
<path d="M724.97 322.84H767.01" stroke="#161616" stroke-width="1.1"/>
<text class="s" x="746.11" y="331.24" font-size="6.9" text-anchor="middle" fill="#000">AAV-SYN-VIM</text>
<text class="s" x="651.23" y="248.85" font-size="6.9" text-anchor="middle" font-weight="bold" stroke="#000" stroke-width="0.18" fill="#000" transform="rotate(-90 651.23 248.85)">Average Complexity</text>
<path d="M676.45 202.93V201.53H733.38V202.93" stroke="#161616" stroke-width="0.8" fill="none"/>
<text class="s" x="704.55" y="200.63" font-size="6.6" text-anchor="middle" font-style="italic" fill="#000" stroke="#111" stroke-width="0.25">ns</text>
<path d="M676.45 214.22V212.82H697.35V214.22" stroke="#161616" stroke-width="0.8" fill="none"/>
<text class="s" x="686.54" y="213.92" font-size="7.2" text-anchor="middle" font-weight="bold" stroke="#000" stroke-width="0.18" fill="#000">**</text>
<path d="M698.07 221.91V220.51H718.01V221.91" stroke="#161616" stroke-width="0.8" fill="none"/>
<text class="s" x="707.68" y="221.61" font-size="7.2" text-anchor="middle" font-weight="bold" stroke="#000" stroke-width="0.18" fill="#000">**</text>
<path d="M712.48 212.54V211.14H770.85V212.54" stroke="#161616" stroke-width="0.8" fill="none"/>
<text class="s" x="740.11" y="212.24" font-size="7.2" text-anchor="middle" font-weight="bold" stroke="#000" stroke-width="0.18" fill="#000">***</text>
<path d="M728.58 223.35V221.95H749.71V223.35" stroke="#161616" stroke-width="0.8" fill="none"/>
<text class="s" x="738.90" y="223.05" font-size="7.2" text-anchor="middle" font-weight="bold" stroke="#000" stroke-width="0.18" fill="#000">***</text>
<path d="M750.19 251.45V250.05H770.85V251.45" stroke="#161616" stroke-width="0.8" fill="none"/>
<text class="s" x="761.24" y="249.15" font-size="6.6" text-anchor="middle" font-style="italic" fill="#000" stroke="#111" stroke-width="0.25">ns</text>
</g>
<g id="chartI">
<rect x="77.55" y="437.01" width="11.27" height="19.61" fill="#8a8a8a"/>
<rect x="94.71" y="413.73" width="11.27" height="42.89" fill="#8b0a12"/>
<rect x="111.86" y="435.78" width="11.27" height="20.83" fill="#2f7fbe"/>
<rect x="129.26" y="430.15" width="11.27" height="26.47" fill="#8a8a8a"/>
<rect x="146.42" y="405.88" width="11.27" height="50.74" fill="#8b0a12"/>
<rect x="163.82" y="414.95" width="11.27" height="41.67" fill="#2f7fbe"/>
<path d="M83.19 432.11V437.01M81.69 432.11H84.69" stroke="#8a8a8a" stroke-width="0.6" fill="none"/>
<path d="M83.19 437.01V441.91M81.69 441.91H84.69" stroke="#333" stroke-opacity="0.55" stroke-width="0.6" fill="none"/>
<path d="M100.34 389.22V413.73M98.84 389.22H101.84" stroke="#8b0a12" stroke-width="0.6" fill="none"/>
<path d="M100.34 413.73V437.01M98.84 437.01H101.84" stroke="#333" stroke-opacity="0.55" stroke-width="0.6" fill="none"/>
<path d="M117.50 433.33V435.78M116.00 433.33H119.00" stroke="#2f7fbe" stroke-width="0.6" fill="none"/>
<path d="M117.50 435.78V437.75M116.00 437.75H119.00" stroke="#333" stroke-opacity="0.55" stroke-width="0.6" fill="none"/>
<path d="M134.90 423.53V430.15M133.40 423.53H136.40" stroke="#8a8a8a" stroke-width="0.6" fill="none"/>
<path d="M134.90 430.15V437.01M133.40 437.01H136.40" stroke="#333" stroke-opacity="0.55" stroke-width="0.6" fill="none"/>
<path d="M152.06 386.27V405.88M150.56 386.27H153.56" stroke="#8b0a12" stroke-width="0.6" fill="none"/>
<path d="M152.06 405.88V421.08M150.56 421.08H153.56" stroke="#333" stroke-opacity="0.55" stroke-width="0.6" fill="none"/>
<path d="M169.46 405.88V414.95M167.96 405.88H170.96" stroke="#2f7fbe" stroke-width="0.6" fill="none"/>
<path d="M169.46 414.95V423.53M167.96 423.53H170.96" stroke="#333" stroke-opacity="0.55" stroke-width="0.6" fill="none"/>
<circle cx="83.19" cy="433.33" r="1.7" fill="#fff" stroke="#8a8a8a" stroke-width="0.85"/>
<circle cx="81.47" cy="438.73" r="1.7" fill="#fff" stroke="#8a8a8a" stroke-width="0.85"/>
<circle cx="85.15" cy="438.73" r="1.7" fill="#fff" stroke="#8a8a8a" stroke-width="0.85"/>
<circle cx="100.34" cy="387.50" r="1.7" fill="#fff" stroke="#8b0a12" stroke-width="0.85"/>
<circle cx="96.18" cy="427.21" r="1.7" fill="#fff" stroke="#8b0a12" stroke-width="0.85"/>
<circle cx="104.75" cy="425.98" r="1.7" fill="#fff" stroke="#8b0a12" stroke-width="0.85"/>
<circle cx="114.07" cy="437.50" r="1.7" fill="#fff" stroke="#2f7fbe" stroke-width="0.85"/>
<circle cx="117.75" cy="434.56" r="1.7" fill="#fff" stroke="#2f7fbe" stroke-width="0.85"/>
<circle cx="121.67" cy="434.56" r="1.7" fill="#fff" stroke="#2f7fbe" stroke-width="0.85"/>
<circle cx="134.90" cy="424.75" r="1.7" fill="#fff" stroke="#8a8a8a" stroke-width="0.85"/>
<circle cx="134.90" cy="429.66" r="1.7" fill="#fff" stroke="#8a8a8a" stroke-width="0.85"/>
<circle cx="134.90" cy="437.01" r="1.7" fill="#fff" stroke="#8a8a8a" stroke-width="0.85"/>
<circle cx="152.06" cy="386.27" r="1.7" fill="#fff" stroke="#8b0a12" stroke-width="0.85"/>
<circle cx="152.06" cy="413.24" r="1.7" fill="#fff" stroke="#8b0a12" stroke-width="0.85"/>
<circle cx="152.06" cy="418.63" r="1.7" fill="#fff" stroke="#8b0a12" stroke-width="0.85"/>
<circle cx="169.46" cy="405.15" r="1.7" fill="#fff" stroke="#2f7fbe" stroke-width="0.85"/>
<circle cx="169.46" cy="416.18" r="1.7" fill="#fff" stroke="#2f7fbe" stroke-width="0.85"/>
<circle cx="169.46" cy="422.30" r="1.7" fill="#fff" stroke="#2f7fbe" stroke-width="0.85"/>
<path d="M71.67 369.31V456.62H181.47M71.67 369.61h-3M71.67 391.42h-3M71.67 413.24h-3M71.67 435.05h-3M71.67 456.62h-3M83.19 456.62v3M100.34 456.62v3M117.50 456.62v3M134.90 456.62v3M152.06 456.62v3M169.46 456.62v3" stroke="#161616" stroke-width="1.0" fill="none"/>
<text class="s" x="67.47" y="371.76" font-size="6.1" text-anchor="end" font-weight="bold" stroke="#000" stroke-width="0.18" fill="#000">70</text>
<text class="s" x="67.47" y="393.57" font-size="6.1" text-anchor="end" font-weight="bold" stroke="#000" stroke-width="0.18" fill="#000">60</text>
<text class="s" x="67.47" y="415.39" font-size="6.1" text-anchor="end" font-weight="bold" stroke="#000" stroke-width="0.18" fill="#000">50</text>
<text class="s" x="67.47" y="437.20" font-size="6.1" text-anchor="end" font-weight="bold" stroke="#000" stroke-width="0.18" fill="#000">40</text>
<text class="s" x="67.47" y="458.77" font-size="6.1" text-anchor="end" font-weight="bold" stroke="#000" stroke-width="0.18" fill="#000">30</text>
<text class="s" x="87.19" y="465.72" font-size="6.3" text-anchor="end" font-weight="bold" stroke="#000" stroke-width="0.18" fill="#000" transform="rotate(-45 87.19 465.72)">Sham</text>
<text class="s" x="104.34" y="465.72" font-size="6.3" text-anchor="end" font-weight="bold" stroke="#000" stroke-width="0.18" fill="#000" transform="rotate(-45 104.34 465.72)">MCAO/R</text>
<text class="s" x="121.50" y="465.72" font-size="6.3" text-anchor="end" font-weight="bold" stroke="#000" stroke-width="0.18" fill="#000" transform="rotate(-45 121.50 465.72)">NBP</text>
<text class="s" x="138.90" y="465.72" font-size="6.3" text-anchor="end" font-weight="bold" stroke="#000" stroke-width="0.18" fill="#000" transform="rotate(-45 138.90 465.72)">Sham</text>
<text class="s" x="156.06" y="465.72" font-size="6.3" text-anchor="end" font-weight="bold" stroke="#000" stroke-width="0.18" fill="#000" transform="rotate(-45 156.06 465.72)">MCAO/R</text>
<text class="s" x="173.46" y="465.72" font-size="6.3" text-anchor="end" font-weight="bold" stroke="#000" stroke-width="0.18" fill="#000" transform="rotate(-45 173.46 465.72)">NBP</text>
<path d="M72.89 487.99H118.24" stroke="#161616" stroke-width="1.1"/>
<text class="s" x="96.18" y="495.83" font-size="6.9" text-anchor="middle" fill="#000">AAV-SYN</text>
<path d="M127.55 487.99H169.71" stroke="#161616" stroke-width="1.1"/>
<text class="s" x="148.38" y="495.83" font-size="6.9" text-anchor="middle" fill="#000">AAV-SYN-VIM</text>
<text class="s" x="55.68" y="413.24" font-size="6.9" text-anchor="middle" font-weight="bold" stroke="#000" stroke-width="0.18" fill="#000" transform="rotate(-90 55.68 413.24)">Average Diameter (um)</text>
<path d="M77.79 367.33V365.93H135.39V367.33" stroke="#161616" stroke-width="0.8" fill="none"/>
<text class="s" x="106.47" y="365.03" font-size="6.6" text-anchor="middle" font-style="italic" fill="#000" stroke="#111" stroke-width="0.25">ns</text>
<path d="M114.56 374.68V373.28H173.38V374.68" stroke="#161616" stroke-width="0.8" fill="none"/>
<text class="s" x="142.75" y="372.38" font-size="6.6" text-anchor="middle" font-style="italic" fill="#000" stroke="#111" stroke-width="0.25">ns</text>
<path d="M77.79 384.00V382.60H98.63V384.00" stroke="#161616" stroke-width="0.8" fill="none"/>
<text class="s" x="87.11" y="381.70" font-size="6.6" text-anchor="middle" font-style="italic" fill="#000" stroke="#111" stroke-width="0.25">ns</text>
<path d="M100.34 384.00V382.60H120.69V384.00" stroke="#161616" stroke-width="0.8" fill="none"/>
<text class="s" x="110.88" y="381.70" font-size="6.6" text-anchor="middle" font-style="italic" fill="#000" stroke="#111" stroke-width="0.25">ns</text>
<path d="M130.49 383.26V381.86H150.59V383.26" stroke="#161616" stroke-width="0.8" fill="none"/>
<text class="s" x="139.56" y="380.96" font-size="6.6" text-anchor="middle" font-style="italic" fill="#000" stroke="#111" stroke-width="0.25">ns</text>
<path d="M152.06 383.26V381.86H172.89V383.26" stroke="#161616" stroke-width="0.8" fill="none"/>
<text class="s" x="162.35" y="380.96" font-size="6.6" text-anchor="middle" font-style="italic" fill="#000" stroke="#111" stroke-width="0.25">ns</text>
</g>
<g id="chartJ">
<rect x="241.76" y="397.79" width="11.27" height="61.76" fill="#8a8a8a"/>
<rect x="259.17" y="425.98" width="11.27" height="33.58" fill="#8b0a12"/>
<rect x="276.32" y="395.83" width="11.27" height="63.73" fill="#2f7fbe"/>
<rect x="293.73" y="402.21" width="11.27" height="57.35" fill="#8a8a8a"/>
<rect x="310.88" y="435.78" width="11.27" height="23.77" fill="#8b0a12"/>
<rect x="328.28" y="432.11" width="11.27" height="27.45" fill="#2f7fbe"/>
<path d="M247.40 386.76V397.79M245.90 386.76H248.90" stroke="#8a8a8a" stroke-width="0.6" fill="none"/>
<path d="M247.40 397.79V406.86M245.90 406.86H248.90" stroke="#333" stroke-opacity="0.55" stroke-width="0.6" fill="none"/>
<path d="M264.80 423.53V425.98M263.30 423.53H266.30" stroke="#8b0a12" stroke-width="0.6" fill="none"/>
<path d="M264.80 425.98V427.21M263.30 427.21H266.30" stroke="#333" stroke-opacity="0.55" stroke-width="0.6" fill="none"/>
<path d="M281.96 393.63V395.83M280.46 393.63H283.46" stroke="#2f7fbe" stroke-width="0.6" fill="none"/>
<path d="M281.96 395.83V397.79M280.46 397.79H283.46" stroke="#333" stroke-opacity="0.55" stroke-width="0.6" fill="none"/>
<path d="M299.36 391.67V402.21M297.86 391.67H300.86" stroke="#8a8a8a" stroke-width="0.6" fill="none"/>
<path d="M299.36 402.21V413.73M297.86 413.73H300.86" stroke="#333" stroke-opacity="0.55" stroke-width="0.6" fill="none"/>
<path d="M316.52 421.08V435.78M315.02 421.08H318.02" stroke="#8b0a12" stroke-width="0.6" fill="none"/>
<path d="M316.52 435.78V449.26M315.02 449.26H318.02" stroke="#333" stroke-opacity="0.55" stroke-width="0.6" fill="none"/>
<path d="M333.92 427.94V432.11M332.42 427.94H335.42" stroke="#2f7fbe" stroke-width="0.6" fill="none"/>
<path d="M333.92 432.11V437.01M332.42 437.01H335.42" stroke="#333" stroke-opacity="0.55" stroke-width="0.6" fill="none"/>
<circle cx="247.40" cy="388.48" r="1.7" fill="#fff" stroke="#8a8a8a" stroke-width="0.85"/>
<circle cx="247.40" cy="399.75" r="1.7" fill="#fff" stroke="#8a8a8a" stroke-width="0.85"/>
<circle cx="247.40" cy="405.15" r="1.7" fill="#fff" stroke="#8a8a8a" stroke-width="0.85"/>
<circle cx="261.37" cy="425.98" r="1.7" fill="#fff" stroke="#8b0a12" stroke-width="0.85"/>
<circle cx="264.80" cy="424.26" r="1.7" fill="#fff" stroke="#8b0a12" stroke-width="0.85"/>
<circle cx="268.73" cy="424.75" r="1.7" fill="#fff" stroke="#8b0a12" stroke-width="0.85"/>
<circle cx="278.53" cy="396.57" r="1.7" fill="#fff" stroke="#2f7fbe" stroke-width="0.85"/>
<circle cx="281.96" cy="394.12" r="1.7" fill="#fff" stroke="#2f7fbe" stroke-width="0.85"/>
<circle cx="285.88" cy="395.34" r="1.7" fill="#fff" stroke="#2f7fbe" stroke-width="0.85"/>
<circle cx="299.36" cy="396.08" r="1.7" fill="#fff" stroke="#8a8a8a" stroke-width="0.85"/>
<circle cx="303.28" cy="396.57" r="1.7" fill="#fff" stroke="#8a8a8a" stroke-width="0.85"/>
<circle cx="299.36" cy="413.24" r="1.7" fill="#fff" stroke="#8a8a8a" stroke-width="0.85"/>
<circle cx="316.52" cy="421.81" r="1.7" fill="#fff" stroke="#8b0a12" stroke-width="0.85"/>
<circle cx="316.52" cy="437.01" r="1.7" fill="#fff" stroke="#8b0a12" stroke-width="0.85"/>
<circle cx="316.52" cy="448.04" r="1.7" fill="#fff" stroke="#8b0a12" stroke-width="0.85"/>
<circle cx="333.92" cy="430.39" r="1.7" fill="#fff" stroke="#2f7fbe" stroke-width="0.85"/>
<circle cx="337.60" cy="429.17" r="1.7" fill="#fff" stroke="#2f7fbe" stroke-width="0.85"/>
<circle cx="333.92" cy="436.27" r="1.7" fill="#fff" stroke="#2f7fbe" stroke-width="0.85"/>
<path d="M235.15 372.25V459.56H346.67M235.15 372.55h-3M235.15 387.01h-3M235.15 401.47h-3M235.15 415.93h-3M235.15 430.39h-3M235.15 445.10h-3M235.15 459.56h-3M247.40 459.56v3M264.80 459.56v3M281.96 459.56v3M299.36 459.56v3M316.52 459.56v3M333.92 459.56v3" stroke="#161616" stroke-width="1.0" fill="none"/>
<text class="s" x="230.95" y="374.70" font-size="6.1" text-anchor="end" font-weight="bold" stroke="#000" stroke-width="0.18" fill="#000">0.24</text>
<text class="s" x="230.95" y="389.16" font-size="6.1" text-anchor="end" font-weight="bold" stroke="#000" stroke-width="0.18" fill="#000">0.22</text>
<text class="s" x="230.95" y="403.62" font-size="6.1" text-anchor="end" font-weight="bold" stroke="#000" stroke-width="0.18" fill="#000">0.20</text>
<text class="s" x="230.95" y="418.08" font-size="6.1" text-anchor="end" font-weight="bold" stroke="#000" stroke-width="0.18" fill="#000">0.18</text>
<text class="s" x="230.95" y="432.54" font-size="6.1" text-anchor="end" font-weight="bold" stroke="#000" stroke-width="0.18" fill="#000">0.16</text>
<text class="s" x="230.95" y="447.25" font-size="6.1" text-anchor="end" font-weight="bold" stroke="#000" stroke-width="0.18" fill="#000">0.14</text>
<text class="s" x="230.95" y="461.71" font-size="6.1" text-anchor="end" font-weight="bold" stroke="#000" stroke-width="0.18" fill="#000">0.12</text>
<text class="s" x="251.40" y="468.66" font-size="6.3" text-anchor="end" font-weight="bold" stroke="#000" stroke-width="0.18" fill="#000" transform="rotate(-45 251.40 468.66)">Sham</text>
<text class="s" x="268.80" y="468.66" font-size="6.3" text-anchor="end" font-weight="bold" stroke="#000" stroke-width="0.18" fill="#000" transform="rotate(-45 268.80 468.66)">MCAO/R</text>
<text class="s" x="285.96" y="468.66" font-size="6.3" text-anchor="end" font-weight="bold" stroke="#000" stroke-width="0.18" fill="#000" transform="rotate(-45 285.96 468.66)">NBP</text>
<text class="s" x="303.36" y="468.66" font-size="6.3" text-anchor="end" font-weight="bold" stroke="#000" stroke-width="0.18" fill="#000" transform="rotate(-45 303.36 468.66)">Sham</text>
<text class="s" x="320.52" y="468.66" font-size="6.3" text-anchor="end" font-weight="bold" stroke="#000" stroke-width="0.18" fill="#000" transform="rotate(-45 320.52 468.66)">MCAO/R</text>
<text class="s" x="337.92" y="468.66" font-size="6.3" text-anchor="end" font-weight="bold" stroke="#000" stroke-width="0.18" fill="#000" transform="rotate(-45 337.92 468.66)">NBP</text>
<path d="M236.86 489.71H282.45" stroke="#161616" stroke-width="1.1"/>
<text class="s" x="260.15" y="498.28" font-size="6.9" text-anchor="middle" fill="#000">AAV-SYN</text>
<path d="M291.52 489.71H333.92" stroke="#161616" stroke-width="1.1"/>
<text class="s" x="312.84" y="498.28" font-size="6.9" text-anchor="middle" fill="#000">AAV-SYN-VIM</text>
<text class="s" x="214.26" y="415.69" font-size="6.9" text-anchor="middle" font-weight="bold" stroke="#000" stroke-width="0.18" fill="#000" transform="rotate(-90 214.26 415.69)">Average Skeleton Density</text>
<path d="M243.24 375.91V374.51H300.59V375.91" stroke="#161616" stroke-width="0.8" fill="none"/>
<text class="s" x="272.65" y="373.61" font-size="6.6" text-anchor="middle" font-style="italic" fill="#000" stroke="#111" stroke-width="0.25">ns</text>
<path d="M243.24 386.94V385.54H264.07V386.94" stroke="#161616" stroke-width="0.8" fill="none"/>
<text class="s" x="253.04" y="386.64" font-size="7.2" text-anchor="middle" font-weight="bold" stroke="#000" stroke-width="0.18" fill="#000">*</text>
<path d="M264.80 391.11V389.71H285.39V391.11" stroke="#161616" stroke-width="0.8" fill="none"/>
<text class="s" x="275.10" y="390.81" font-size="7.2" text-anchor="middle" font-weight="bold" stroke="#000" stroke-width="0.18" fill="#000">**</text>
<path d="M279.26 383.26V381.86H337.60V383.26" stroke="#161616" stroke-width="0.8" fill="none"/>
<text class="s" x="306.23" y="382.96" font-size="7.2" text-anchor="middle" font-weight="bold" stroke="#000" stroke-width="0.18" fill="#000">**</text>
<path d="M294.71 391.11V389.71H315.29V391.11" stroke="#161616" stroke-width="0.8" fill="none"/>
<text class="s" x="303.77" y="390.81" font-size="7.2" text-anchor="middle" font-weight="bold" stroke="#000" stroke-width="0.18" fill="#000">**</text>
<path d="M316.52 418.07V416.67H337.60V418.07" stroke="#161616" stroke-width="0.8" fill="none"/>
<text class="s" x="326.32" y="415.77" font-size="6.6" text-anchor="middle" font-style="italic" fill="#000" stroke="#111" stroke-width="0.25">ns</text>
</g>
<g id="chartM">
<rect x="454.17" y="585.27" width="10.78" height="51.50" fill="#8a8a8a"/>
<rect x="471.15" y="614.39" width="10.78" height="22.38" fill="#8b0a12"/>
<rect x="487.87" y="576.37" width="10.78" height="60.39" fill="#2f7fbe"/>
<rect x="504.59" y="600.91" width="10.78" height="35.86" fill="#8a8a8a"/>
<rect x="521.30" y="617.62" width="10.78" height="19.14" fill="#8b0a12"/>
<rect x="538.02" y="617.62" width="10.78" height="19.14" fill="#2f7fbe"/>
<path d="M459.56 577.18V585.27M458.06 577.18H461.06" stroke="#8a8a8a" stroke-width="0.6" fill="none"/>
<path d="M459.56 585.27V593.36M458.06 593.36H461.06" stroke="#333" stroke-opacity="0.55" stroke-width="0.6" fill="none"/>
<path d="M476.55 609.54V614.39M475.05 609.54H478.05" stroke="#8b0a12" stroke-width="0.6" fill="none"/>
<path d="M476.55 614.39V618.97M475.05 618.97H478.05" stroke="#333" stroke-opacity="0.55" stroke-width="0.6" fill="none"/>
<path d="M493.26 561.81V576.37M491.76 561.81H494.76" stroke="#2f7fbe" stroke-width="0.6" fill="none"/>
<path d="M493.26 576.37V591.47M491.76 591.47H494.76" stroke="#333" stroke-opacity="0.55" stroke-width="0.6" fill="none"/>
<path d="M509.98 597.40V600.91M508.48 597.40H511.48" stroke="#8a8a8a" stroke-width="0.6" fill="none"/>
<path d="M509.98 600.91V603.34M508.48 603.34H511.48" stroke="#333" stroke-opacity="0.55" stroke-width="0.6" fill="none"/>
<path d="M526.69 608.19V617.62M525.19 608.19H528.19" stroke="#8b0a12" stroke-width="0.6" fill="none"/>
<path d="M526.69 617.62V624.37M525.19 624.37H528.19" stroke="#333" stroke-opacity="0.55" stroke-width="0.6" fill="none"/>
<path d="M543.41 610.88V617.62M541.91 610.88H544.91" stroke="#2f7fbe" stroke-width="0.6" fill="none"/>
<path d="M543.41 617.62V624.37M541.91 624.37H544.91" stroke="#333" stroke-opacity="0.55" stroke-width="0.6" fill="none"/>
<circle cx="456.06" cy="580.69" r="1.7" fill="#fff" stroke="#8a8a8a" stroke-width="0.85"/>
<circle cx="463.34" cy="579.88" r="1.7" fill="#fff" stroke="#8a8a8a" stroke-width="0.85"/>
<circle cx="460.10" cy="594.71" r="1.7" fill="#fff" stroke="#8a8a8a" stroke-width="0.85"/>
<circle cx="476.55" cy="610.08" r="1.7" fill="#fff" stroke="#8b0a12" stroke-width="0.85"/>
<circle cx="480.32" cy="615.74" r="1.7" fill="#fff" stroke="#8b0a12" stroke-width="0.85"/>
<circle cx="473.58" cy="616.82" r="1.7" fill="#fff" stroke="#8b0a12" stroke-width="0.85"/>
<circle cx="493.26" cy="564.51" r="1.7" fill="#fff" stroke="#2f7fbe" stroke-width="0.85"/>
<circle cx="493.26" cy="570.98" r="1.7" fill="#fff" stroke="#2f7fbe" stroke-width="0.85"/>
<circle cx="493.26" cy="591.47" r="1.7" fill="#fff" stroke="#2f7fbe" stroke-width="0.85"/>
<circle cx="506.47" cy="601.45" r="1.7" fill="#fff" stroke="#8a8a8a" stroke-width="0.85"/>
<circle cx="509.98" cy="598.75" r="1.7" fill="#fff" stroke="#8a8a8a" stroke-width="0.85"/>
<circle cx="514.02" cy="600.91" r="1.7" fill="#fff" stroke="#8a8a8a" stroke-width="0.85"/>
<circle cx="526.69" cy="609.54" r="1.7" fill="#fff" stroke="#8b0a12" stroke-width="0.85"/>
<circle cx="522.92" cy="621.67" r="1.7" fill="#fff" stroke="#8b0a12" stroke-width="0.85"/>
<circle cx="530.74" cy="621.13" r="1.7" fill="#fff" stroke="#8b0a12" stroke-width="0.85"/>
<circle cx="543.41" cy="611.42" r="1.7" fill="#fff" stroke="#2f7fbe" stroke-width="0.85"/>
<circle cx="543.41" cy="617.62" r="1.7" fill="#fff" stroke="#2f7fbe" stroke-width="0.85"/>
<circle cx="543.41" cy="623.02" r="1.7" fill="#fff" stroke="#2f7fbe" stroke-width="0.85"/>
<path d="M447.16 552.08V636.77H554.46M447.16 552.38h-3M447.16 569.36h-3M447.16 586.08h-3M447.16 603.07h-3M447.16 619.78h-3M447.16 636.77h-3M459.56 636.77v3M476.55 636.77v3M493.26 636.77v3M509.98 636.77v3M526.69 636.77v3M543.41 636.77v3" stroke="#161616" stroke-width="1.0" fill="none"/>
<text class="s" x="442.96" y="554.33" font-size="5.55" text-anchor="end" font-weight="bold" stroke="#000" stroke-width="0.18" fill="#000">2.5</text>
<text class="s" x="442.96" y="571.32" font-size="5.55" text-anchor="end" font-weight="bold" stroke="#000" stroke-width="0.18" fill="#000">2.0</text>
<text class="s" x="442.96" y="588.04" font-size="5.55" text-anchor="end" font-weight="bold" stroke="#000" stroke-width="0.18" fill="#000">1.5</text>
<text class="s" x="442.96" y="605.02" font-size="5.55" text-anchor="end" font-weight="bold" stroke="#000" stroke-width="0.18" fill="#000">1.0</text>
<text class="s" x="442.96" y="621.74" font-size="5.55" text-anchor="end" font-weight="bold" stroke="#000" stroke-width="0.18" fill="#000">0.5</text>
<text class="s" x="442.96" y="638.72" font-size="5.55" text-anchor="end" font-weight="bold" stroke="#000" stroke-width="0.18" fill="#000">0.0</text>
<text class="s" x="463.20" y="645.32" font-size="5.73" text-anchor="end" font-weight="bold" stroke="#000" stroke-width="0.18" fill="#000" transform="rotate(-45 463.20 645.32)">Sham</text>
<text class="s" x="480.19" y="645.32" font-size="5.73" text-anchor="end" font-weight="bold" stroke="#000" stroke-width="0.18" fill="#000" transform="rotate(-45 480.19 645.32)">MCAO/R</text>
<text class="s" x="496.90" y="645.32" font-size="5.73" text-anchor="end" font-weight="bold" stroke="#000" stroke-width="0.18" fill="#000" transform="rotate(-45 496.90 645.32)">NBP</text>
<text class="s" x="513.62" y="645.32" font-size="5.73" text-anchor="end" font-weight="bold" stroke="#000" stroke-width="0.18" fill="#000" transform="rotate(-45 513.62 645.32)">Sham</text>
<text class="s" x="530.33" y="645.32" font-size="5.73" text-anchor="end" font-weight="bold" stroke="#000" stroke-width="0.18" fill="#000" transform="rotate(-45 530.33 645.32)">MCAO/R</text>
<text class="s" x="547.05" y="645.32" font-size="5.73" text-anchor="end" font-weight="bold" stroke="#000" stroke-width="0.18" fill="#000" transform="rotate(-45 547.05 645.32)">NBP</text>
<path d="M449.85 666.69H494.61" stroke="#161616" stroke-width="1.1"/>
<text class="s" x="472.23" y="674.24" font-size="6.28" text-anchor="middle" fill="#000">AAV-SYN</text>
<path d="M500.54 666.69H544.49" stroke="#161616" stroke-width="1.1"/>
<text class="s" x="522.65" y="674.24" font-size="6.28" text-anchor="middle" fill="#000">AAV-SYN-VIM</text>
<text class="s" x="431.28" y="594.17" font-size="6.28" text-anchor="middle" font-weight="bold" stroke="#000" stroke-width="0.18" fill="#000" transform="rotate(-90 431.28 594.17)">Average Velocity(mm/s)</text>
<path d="M455.52 546.23V544.83H510.52V546.23" stroke="#161616" stroke-width="0.8" fill="none"/>
<text class="s" x="482.48" y="543.93" font-size="6.6" text-anchor="middle" font-style="italic" fill="#000" stroke="#111" stroke-width="0.25">ns</text>
<path d="M491.11 553.51V552.11H547.19V553.51" stroke="#161616" stroke-width="0.8" fill="none"/>
<text class="s" x="518.07" y="553.21" font-size="7.2" text-anchor="middle" font-weight="bold" stroke="#000" stroke-width="0.18" fill="#000">***</text>
<path d="M476.28 561.60V560.20H496.50V561.60" stroke="#161616" stroke-width="0.8" fill="none"/>
<text class="s" x="486.52" y="561.30" font-size="7.2" text-anchor="middle" font-weight="bold" stroke="#000" stroke-width="0.18" fill="#000">***</text>
<path d="M455.52 575.89V574.49H475.74V575.89" stroke="#161616" stroke-width="0.8" fill="none"/>
<text class="s" x="464.95" y="575.59" font-size="7.2" text-anchor="middle" font-weight="bold" stroke="#000" stroke-width="0.18" fill="#000">**</text>
<path d="M505.93 596.11V594.71H525.62V596.11" stroke="#161616" stroke-width="0.8" fill="none"/>
<text class="s" x="515.37" y="593.81" font-size="6.6" text-anchor="middle" font-style="italic" fill="#000" stroke="#111" stroke-width="0.25">ns</text>
<path d="M526.69 607.70V606.30H547.19V607.70" stroke="#161616" stroke-width="0.8" fill="none"/>
<text class="s" x="536.40" y="605.40" font-size="6.6" text-anchor="middle" font-style="italic" fill="#000" stroke="#111" stroke-width="0.25">ns</text>
</g>
<g id="chartN">
<rect x="638.60" y="593.36" width="10.78" height="42.33" fill="#8a8a8a"/>
<rect x="655.32" y="618.97" width="10.78" height="16.72" fill="#8b0a12"/>
<rect x="671.49" y="587.97" width="10.78" height="47.72" fill="#2f7fbe"/>
<rect x="688.21" y="600.10" width="10.78" height="35.59" fill="#8a8a8a"/>
<rect x="704.92" y="621.67" width="10.78" height="14.02" fill="#8b0a12"/>
<rect x="721.37" y="622.48" width="10.78" height="13.21" fill="#2f7fbe"/>
<path d="M643.99 586.62V593.36M642.49 586.62H645.49" stroke="#8a8a8a" stroke-width="0.6" fill="none"/>
<path d="M643.99 593.36V599.56M642.49 599.56H645.49" stroke="#333" stroke-opacity="0.55" stroke-width="0.6" fill="none"/>
<path d="M660.71 614.93V618.97M659.21 614.93H662.21" stroke="#8b0a12" stroke-width="0.6" fill="none"/>
<path d="M660.71 618.97V621.67M659.21 621.67H662.21" stroke="#333" stroke-opacity="0.55" stroke-width="0.6" fill="none"/>
<path d="M676.88 567.75V587.97M675.38 567.75H678.38" stroke="#2f7fbe" stroke-width="0.6" fill="none"/>
<path d="M676.88 587.97V608.19M675.38 608.19H678.38" stroke="#333" stroke-opacity="0.55" stroke-width="0.6" fill="none"/>
<path d="M693.60 583.92V600.10M692.10 583.92H695.10" stroke="#8a8a8a" stroke-width="0.6" fill="none"/>
<path d="M693.60 600.10V614.93M692.10 614.93H695.10" stroke="#333" stroke-opacity="0.55" stroke-width="0.6" fill="none"/>
<path d="M710.32 613.04V621.67M708.82 613.04H711.82" stroke="#8b0a12" stroke-width="0.6" fill="none"/>
<path d="M710.32 621.67V627.60M708.82 627.60H711.82" stroke="#333" stroke-opacity="0.55" stroke-width="0.6" fill="none"/>
<path d="M726.76 614.12V622.48M725.26 614.12H728.26" stroke="#2f7fbe" stroke-width="0.6" fill="none"/>
<path d="M726.76 622.48V630.30M725.26 630.30H728.26" stroke="#333" stroke-opacity="0.55" stroke-width="0.6" fill="none"/>
<circle cx="643.18" cy="589.32" r="1.7" fill="#fff" stroke="#8a8a8a" stroke-width="0.85"/>
<circle cx="647.23" cy="589.32" r="1.7" fill="#fff" stroke="#8a8a8a" stroke-width="0.85"/>
<circle cx="643.99" cy="600.64" r="1.7" fill="#fff" stroke="#8a8a8a" stroke-width="0.85"/>
<circle cx="660.71" cy="614.93" r="1.7" fill="#fff" stroke="#8b0a12" stroke-width="0.85"/>
<circle cx="657.47" cy="620.32" r="1.7" fill="#fff" stroke="#8b0a12" stroke-width="0.85"/>
<circle cx="663.40" cy="619.78" r="1.7" fill="#fff" stroke="#8b0a12" stroke-width="0.85"/>
<circle cx="676.88" cy="572.33" r="1.7" fill="#fff" stroke="#2f7fbe" stroke-width="0.85"/>
<circle cx="676.88" cy="581.23" r="1.7" fill="#fff" stroke="#2f7fbe" stroke-width="0.85"/>
<circle cx="676.88" cy="609.54" r="1.7" fill="#fff" stroke="#2f7fbe" stroke-width="0.85"/>
<circle cx="693.60" cy="584.46" r="1.7" fill="#fff" stroke="#8a8a8a" stroke-width="0.85"/>
<circle cx="689.83" cy="609.00" r="1.7" fill="#fff" stroke="#8a8a8a" stroke-width="0.85"/>
<circle cx="697.64" cy="606.84" r="1.7" fill="#fff" stroke="#8a8a8a" stroke-width="0.85"/>
<circle cx="710.32" cy="614.12" r="1.7" fill="#fff" stroke="#8b0a12" stroke-width="0.85"/>
<circle cx="706.54" cy="626.25" r="1.7" fill="#fff" stroke="#8b0a12" stroke-width="0.85"/>
<circle cx="713.82" cy="624.37" r="1.7" fill="#fff" stroke="#8b0a12" stroke-width="0.85"/>
<circle cx="726.76" cy="614.39" r="1.7" fill="#fff" stroke="#2f7fbe" stroke-width="0.85"/>
<circle cx="726.76" cy="624.37" r="1.7" fill="#fff" stroke="#2f7fbe" stroke-width="0.85"/>
<circle cx="726.76" cy="629.22" r="1.7" fill="#fff" stroke="#2f7fbe" stroke-width="0.85"/>
<path d="M630.51 551.27V635.69H738.36M630.51 551.57h-3M630.51 579.61h-3M630.51 607.65h-3M630.51 635.69h-3M643.99 635.69v3M660.71 635.69v3M676.88 635.69v3M693.60 635.69v3M710.32 635.69v3M726.76 635.69v3" stroke="#161616" stroke-width="1.0" fill="none"/>
<text class="s" x="626.31" y="553.53" font-size="5.55" text-anchor="end" font-weight="bold" stroke="#000" stroke-width="0.18" fill="#000">0.15</text>
<text class="s" x="626.31" y="581.57" font-size="5.55" text-anchor="end" font-weight="bold" stroke="#000" stroke-width="0.18" fill="#000">0.10</text>
<text class="s" x="626.31" y="609.61" font-size="5.55" text-anchor="end" font-weight="bold" stroke="#000" stroke-width="0.18" fill="#000">0.05</text>
<text class="s" x="626.31" y="637.65" font-size="5.55" text-anchor="end" font-weight="bold" stroke="#000" stroke-width="0.18" fill="#000">0.00</text>
<text class="s" x="647.63" y="644.24" font-size="5.73" text-anchor="end" font-weight="bold" stroke="#000" stroke-width="0.18" fill="#000" transform="rotate(-45 647.63 644.24)">Sham</text>
<text class="s" x="664.35" y="644.24" font-size="5.73" text-anchor="end" font-weight="bold" stroke="#000" stroke-width="0.18" fill="#000" transform="rotate(-45 664.35 644.24)">MCAO/R</text>
<text class="s" x="680.52" y="644.24" font-size="5.73" text-anchor="end" font-weight="bold" stroke="#000" stroke-width="0.18" fill="#000" transform="rotate(-45 680.52 644.24)">NBP</text>
<text class="s" x="697.24" y="644.24" font-size="5.73" text-anchor="end" font-weight="bold" stroke="#000" stroke-width="0.18" fill="#000" transform="rotate(-45 697.24 644.24)">Sham</text>
<text class="s" x="713.96" y="644.24" font-size="5.73" text-anchor="end" font-weight="bold" stroke="#000" stroke-width="0.18" fill="#000" transform="rotate(-45 713.96 644.24)">MCAO/R</text>
<text class="s" x="730.40" y="644.24" font-size="5.73" text-anchor="end" font-weight="bold" stroke="#000" stroke-width="0.18" fill="#000" transform="rotate(-45 730.40 644.24)">NBP</text>
<path d="M633.75 665.35H677.42" stroke="#161616" stroke-width="1.1"/>
<text class="s" x="656.12" y="672.90" font-size="6.28" text-anchor="middle" fill="#000">AAV-SYN</text>
<path d="M685.51 665.35H727.57" stroke="#161616" stroke-width="1.1"/>
<text class="s" x="706.54" y="672.90" font-size="6.28" text-anchor="middle" fill="#000">AAV-SYN-VIM</text>
<text class="s" x="612.20" y="593.36" font-size="6.28" text-anchor="middle" font-weight="bold" stroke="#000" stroke-width="0.18" fill="#000" transform="rotate(-90 612.20 593.36)">Average Volumetric(mm<tspan dy="-2.2" font-size="5" >3</tspan><tspan dy="2.2" font-size="6.9">​</tspan>/s)</text>
<path d="M639.14 549.73V548.33H694.95V549.73" stroke="#161616" stroke-width="0.8" fill="none"/>
<text class="s" x="666.64" y="547.43" font-size="6.6" text-anchor="middle" font-style="italic" fill="#000" stroke="#111" stroke-width="0.25">ns</text>
<path d="M674.19 557.82V556.42H730.27V557.82" stroke="#161616" stroke-width="0.8" fill="none"/>
<text class="s" x="703.04" y="557.52" font-size="7.2" text-anchor="middle" font-weight="bold" stroke="#000" stroke-width="0.18" fill="#000">*</text>
<path d="M660.17 567.26V565.86H680.12V567.26" stroke="#161616" stroke-width="0.8" fill="none"/>
<text class="s" x="669.34" y="566.96" font-size="7.2" text-anchor="middle" font-weight="bold" stroke="#000" stroke-width="0.18" fill="#000">*</text>
<path d="M639.14 586.13V584.73H659.36V586.13" stroke="#161616" stroke-width="0.8" fill="none"/>
<text class="s" x="649.11" y="583.83" font-size="6.6" text-anchor="middle" font-style="italic" fill="#000" stroke="#111" stroke-width="0.25">ns</text>
<path d="M689.56 581.82V580.42H708.70V581.82" stroke="#161616" stroke-width="0.8" fill="none"/>
<text class="s" x="697.91" y="579.52" font-size="6.6" text-anchor="middle" font-style="italic" fill="#000" stroke="#111" stroke-width="0.25">ns</text>
<path d="M710.32 610.94V609.54H730.27V610.94" stroke="#161616" stroke-width="0.8" fill="none"/>
<text class="s" x="720.02" y="608.64" font-size="6.6" text-anchor="middle" font-style="italic" fill="#000" stroke="#111" stroke-width="0.25">ns</text>
</g>
<g id="chartO">
<rect x="79.02" y="734.41" width="10.78" height="57.11" fill="#8a8a8a"/>
<rect x="95.93" y="766.27" width="10.78" height="25.25" fill="#8b0a12"/>
<rect x="112.84" y="741.76" width="10.78" height="49.75" fill="#2f7fbe"/>
<rect x="129.51" y="729.02" width="10.78" height="62.50" fill="#8a8a8a"/>
<rect x="146.18" y="767.75" width="10.78" height="23.77" fill="#8b0a12"/>
<rect x="163.09" y="764.56" width="10.78" height="26.96" fill="#2f7fbe"/>
<path d="M84.41 727.79V734.41M82.91 727.79H85.91" stroke="#8a8a8a" stroke-width="0.6" fill="none"/>
<path d="M84.41 734.41V741.27M82.91 741.27H85.91" stroke="#333" stroke-opacity="0.55" stroke-width="0.6" fill="none"/>
<path d="M101.32 762.11V766.27M99.82 762.11H102.82" stroke="#8b0a12" stroke-width="0.6" fill="none"/>
<path d="M101.32 766.27V770.20M99.82 770.20H102.82" stroke="#333" stroke-opacity="0.55" stroke-width="0.6" fill="none"/>
<path d="M118.24 732.70V741.76M116.74 732.70H119.74" stroke="#2f7fbe" stroke-width="0.6" fill="none"/>
<path d="M118.24 741.76V749.85M116.74 749.85H119.74" stroke="#333" stroke-opacity="0.55" stroke-width="0.6" fill="none"/>
<path d="M134.90 722.89V729.02M133.40 722.89H136.40" stroke="#8a8a8a" stroke-width="0.6" fill="none"/>
<path d="M134.90 729.02V735.15M133.40 735.15H136.40" stroke="#333" stroke-opacity="0.55" stroke-width="0.6" fill="none"/>
<path d="M151.57 764.56V767.75M150.07 764.56H153.07" stroke="#8b0a12" stroke-width="0.6" fill="none"/>
<path d="M151.57 767.75V770.69M150.07 770.69H153.07" stroke="#333" stroke-opacity="0.55" stroke-width="0.6" fill="none"/>
<path d="M168.48 760.88V764.56M166.98 760.88H169.98" stroke="#2f7fbe" stroke-width="0.6" fill="none"/>
<path d="M168.48 764.56V768.73M166.98 768.73H169.98" stroke="#333" stroke-opacity="0.55" stroke-width="0.6" fill="none"/>
<circle cx="85.15" cy="729.75" r="1.7" fill="#fff" stroke="#8a8a8a" stroke-width="0.85"/>
<circle cx="88.82" cy="729.75" r="1.7" fill="#fff" stroke="#8a8a8a" stroke-width="0.85"/>
<circle cx="84.41" cy="739.56" r="1.7" fill="#fff" stroke="#8a8a8a" stroke-width="0.85"/>
<circle cx="101.32" cy="762.11" r="1.7" fill="#fff" stroke="#8b0a12" stroke-width="0.85"/>
<circle cx="98.14" cy="767.75" r="1.7" fill="#fff" stroke="#8b0a12" stroke-width="0.85"/>
<circle cx="104.75" cy="767.01" r="1.7" fill="#fff" stroke="#8b0a12" stroke-width="0.85"/>
<circle cx="118.24" cy="732.21" r="1.7" fill="#fff" stroke="#2f7fbe" stroke-width="0.85"/>
<circle cx="114.56" cy="745.69" r="1.7" fill="#fff" stroke="#2f7fbe" stroke-width="0.85"/>
<circle cx="121.91" cy="744.95" r="1.7" fill="#fff" stroke="#2f7fbe" stroke-width="0.85"/>
<circle cx="134.90" cy="722.89" r="1.7" fill="#fff" stroke="#8a8a8a" stroke-width="0.85"/>
<circle cx="134.90" cy="727.79" r="1.7" fill="#fff" stroke="#8a8a8a" stroke-width="0.85"/>
<circle cx="134.90" cy="734.41" r="1.7" fill="#fff" stroke="#8a8a8a" stroke-width="0.85"/>
<circle cx="151.57" cy="765.78" r="1.7" fill="#fff" stroke="#8b0a12" stroke-width="0.85"/>
<circle cx="148.38" cy="768.73" r="1.7" fill="#fff" stroke="#8b0a12" stroke-width="0.85"/>
<circle cx="155.00" cy="767.75" r="1.7" fill="#fff" stroke="#8b0a12" stroke-width="0.85"/>
<circle cx="172.16" cy="761.37" r="1.7" fill="#fff" stroke="#2f7fbe" stroke-width="0.85"/>
<circle cx="169.22" cy="764.56" r="1.7" fill="#fff" stroke="#2f7fbe" stroke-width="0.85"/>
<circle cx="168.48" cy="767.75" r="1.7" fill="#fff" stroke="#2f7fbe" stroke-width="0.85"/>
<path d="M72.89 706.66V791.52H179.51M72.89 706.96h-3M72.89 728.04h-3M72.89 749.12h-3M72.89 770.44h-3M72.89 791.52h-3M84.41 791.52v3M101.32 791.52v3M118.24 791.52v3M134.90 791.52v3M151.57 791.52v3M168.48 791.52v3" stroke="#161616" stroke-width="1.0" fill="none"/>
<text class="s" x="68.69" y="708.98" font-size="5.73" text-anchor="end" font-weight="bold" stroke="#000" stroke-width="0.18" fill="#000">0.8</text>
<text class="s" x="68.69" y="730.06" font-size="5.73" text-anchor="end" font-weight="bold" stroke="#000" stroke-width="0.18" fill="#000">0.6</text>
<text class="s" x="68.69" y="751.14" font-size="5.73" text-anchor="end" font-weight="bold" stroke="#000" stroke-width="0.18" fill="#000">0.4</text>
<text class="s" x="68.69" y="772.46" font-size="5.73" text-anchor="end" font-weight="bold" stroke="#000" stroke-width="0.18" fill="#000">0.2</text>
<text class="s" x="68.69" y="793.54" font-size="5.73" text-anchor="end" font-weight="bold" stroke="#000" stroke-width="0.18" fill="#000">0.0</text>
<text class="s" x="88.17" y="800.25" font-size="5.92" text-anchor="end" font-weight="bold" stroke="#000" stroke-width="0.18" fill="#000" transform="rotate(-45 88.17 800.25)">Sham</text>
<text class="s" x="105.08" y="800.25" font-size="5.92" text-anchor="end" font-weight="bold" stroke="#000" stroke-width="0.18" fill="#000" transform="rotate(-45 105.08 800.25)">MCAO/R</text>
<text class="s" x="122.00" y="800.25" font-size="5.92" text-anchor="end" font-weight="bold" stroke="#000" stroke-width="0.18" fill="#000" transform="rotate(-45 122.00 800.25)">NBP</text>
<text class="s" x="138.66" y="800.25" font-size="5.92" text-anchor="end" font-weight="bold" stroke="#000" stroke-width="0.18" fill="#000" transform="rotate(-45 138.66 800.25)">Sham</text>
<text class="s" x="155.33" y="800.25" font-size="5.92" text-anchor="end" font-weight="bold" stroke="#000" stroke-width="0.18" fill="#000" transform="rotate(-45 155.33 800.25)">MCAO/R</text>
<text class="s" x="172.24" y="800.25" font-size="5.92" text-anchor="end" font-weight="bold" stroke="#000" stroke-width="0.18" fill="#000" transform="rotate(-45 172.24 800.25)">NBP</text>
<path d="M74.12 820.93H118.24" stroke="#161616" stroke-width="1.1"/>
<text class="s" x="97.40" y="828.77" font-size="6.49" text-anchor="middle" fill="#000">AAV-SYN</text>
<path d="M127.55 820.93H169.22" stroke="#161616" stroke-width="1.1"/>
<text class="s" x="147.65" y="828.77" font-size="6.49" text-anchor="middle" fill="#000">AAV-SYN-VIM</text>
<text class="s" x="56.03" y="748.63" font-size="6.49" text-anchor="middle" font-weight="bold" stroke="#000" stroke-width="0.18" fill="#000" transform="rotate(-90 56.03 748.63)">NeuN<tspan dy="-2.2" font-size="5" >+</tspan><tspan dy="2.2" font-size="6.9">​</tspan>/DAPI<tspan dy="-2.2" font-size="5" >+</tspan><tspan dy="2.2" font-size="6.9">​</tspan> (Fold)</text>
<path d="M80.25 702.97V701.57H136.13V702.97" stroke="#161616" stroke-width="0.8" fill="none"/>
<text class="s" x="107.21" y="700.67" font-size="6.6" text-anchor="middle" font-style="italic" fill="#000" stroke="#111" stroke-width="0.25">ns</text>
<path d="M115.29 711.30V709.90H172.16V711.30" stroke="#161616" stroke-width="0.8" fill="none"/>
<text class="s" x="141.52" y="711.00" font-size="7.2" text-anchor="middle" font-weight="bold" stroke="#000" stroke-width="0.18" fill="#000">**</text>
<path d="M130.00 719.39V717.99H150.59V719.39" stroke="#161616" stroke-width="0.8" fill="none"/>
<text class="s" x="140.29" y="719.09" font-size="7.2" text-anchor="middle" font-weight="bold" stroke="#000" stroke-width="0.18" fill="#000">***</text>
<path d="M80.98 726.74V725.34H100.59V726.74" stroke="#161616" stroke-width="0.8" fill="none"/>
<text class="s" x="90.54" y="726.44" font-size="7.2" text-anchor="middle" font-weight="bold" stroke="#000" stroke-width="0.18" fill="#000">***</text>
<path d="M101.32 730.42V729.02H121.18V730.42" stroke="#161616" stroke-width="0.8" fill="none"/>
<text class="s" x="110.88" y="730.12" font-size="7.2" text-anchor="middle" font-weight="bold" stroke="#000" stroke-width="0.18" fill="#000">**</text>
<path d="M151.57 758.12V756.72H172.16V758.12" stroke="#161616" stroke-width="0.8" fill="none"/>
<text class="s" x="160.64" y="755.82" font-size="6.6" text-anchor="middle" font-style="italic" fill="#000" stroke="#111" stroke-width="0.25">ns</text>
</g>
<g id="chartP">
<rect x="229.75" y="734.41" width="10.78" height="57.11" fill="#8a8a8a"/>
<rect x="246.42" y="776.81" width="10.78" height="14.71" fill="#8b0a12"/>
<rect x="263.33" y="752.79" width="10.78" height="38.73" fill="#2f7fbe"/>
<rect x="280.00" y="736.37" width="10.78" height="55.15" fill="#8a8a8a"/>
<rect x="296.67" y="773.14" width="10.78" height="18.38" fill="#8b0a12"/>
<rect x="313.58" y="774.36" width="10.78" height="17.16" fill="#2f7fbe"/>
<path d="M235.15 730.25V734.41M233.65 730.25H236.65" stroke="#8a8a8a" stroke-width="0.6" fill="none"/>
<path d="M235.15 734.41V738.33M233.65 738.33H236.65" stroke="#333" stroke-opacity="0.55" stroke-width="0.6" fill="none"/>
<path d="M251.81 774.36V776.81M250.31 774.36H253.31" stroke="#8b0a12" stroke-width="0.6" fill="none"/>
<path d="M251.81 776.81V779.26M250.31 779.26H253.31" stroke="#333" stroke-opacity="0.55" stroke-width="0.6" fill="none"/>
<path d="M268.73 751.08V752.79M267.23 751.08H270.23" stroke="#2f7fbe" stroke-width="0.6" fill="none"/>
<path d="M268.73 752.79V754.02M267.23 754.02H270.23" stroke="#333" stroke-opacity="0.55" stroke-width="0.6" fill="none"/>
<path d="M285.39 725.34V736.37M283.89 725.34H286.89" stroke="#8a8a8a" stroke-width="0.6" fill="none"/>
<path d="M285.39 736.37V746.67M283.89 746.67H286.89" stroke="#333" stroke-opacity="0.55" stroke-width="0.6" fill="none"/>
<path d="M302.06 771.18V773.14M300.56 771.18H303.56" stroke="#8b0a12" stroke-width="0.6" fill="none"/>
<path d="M302.06 773.14V775.59M300.56 775.59H303.56" stroke="#333" stroke-opacity="0.55" stroke-width="0.6" fill="none"/>
<path d="M318.97 770.69V774.36M317.47 770.69H320.47" stroke="#2f7fbe" stroke-width="0.6" fill="none"/>
<path d="M318.97 774.36V777.55M317.47 777.55H320.47" stroke="#333" stroke-opacity="0.55" stroke-width="0.6" fill="none"/>
<circle cx="235.15" cy="730.25" r="1.7" fill="#fff" stroke="#8a8a8a" stroke-width="0.85"/>
<circle cx="231.47" cy="736.37" r="1.7" fill="#fff" stroke="#8a8a8a" stroke-width="0.85"/>
<circle cx="238.82" cy="735.88" r="1.7" fill="#fff" stroke="#8a8a8a" stroke-width="0.85"/>
<circle cx="251.81" cy="773.87" r="1.7" fill="#fff" stroke="#8b0a12" stroke-width="0.85"/>
<circle cx="248.63" cy="777.55" r="1.7" fill="#fff" stroke="#8b0a12" stroke-width="0.85"/>
<circle cx="255.25" cy="776.81" r="1.7" fill="#fff" stroke="#8b0a12" stroke-width="0.85"/>
<circle cx="265.05" cy="752.79" r="1.7" fill="#fff" stroke="#2f7fbe" stroke-width="0.85"/>
<circle cx="268.73" cy="751.81" r="1.7" fill="#fff" stroke="#2f7fbe" stroke-width="0.85"/>
<circle cx="272.40" cy="752.79" r="1.7" fill="#fff" stroke="#2f7fbe" stroke-width="0.85"/>
<circle cx="285.39" cy="726.57" r="1.7" fill="#fff" stroke="#8a8a8a" stroke-width="0.85"/>
<circle cx="285.39" cy="736.86" r="1.7" fill="#fff" stroke="#8a8a8a" stroke-width="0.85"/>
<circle cx="285.39" cy="746.18" r="1.7" fill="#fff" stroke="#8a8a8a" stroke-width="0.85"/>
<circle cx="298.38" cy="774.36" r="1.7" fill="#fff" stroke="#8b0a12" stroke-width="0.85"/>
<circle cx="302.06" cy="772.65" r="1.7" fill="#fff" stroke="#8b0a12" stroke-width="0.85"/>
<circle cx="305.74" cy="772.65" r="1.7" fill="#fff" stroke="#8b0a12" stroke-width="0.85"/>
<circle cx="318.97" cy="771.91" r="1.7" fill="#fff" stroke="#2f7fbe" stroke-width="0.85"/>
<circle cx="315.54" cy="775.59" r="1.7" fill="#fff" stroke="#2f7fbe" stroke-width="0.85"/>
<circle cx="322.65" cy="774.36" r="1.7" fill="#fff" stroke="#2f7fbe" stroke-width="0.85"/>
<path d="M223.63 706.66V791.52H330.00M223.63 706.96h-3M223.63 728.04h-3M223.63 749.12h-3M223.63 770.44h-3M223.63 791.52h-3M235.15 791.52v3M251.81 791.52v3M268.73 791.52v3M285.39 791.52v3M302.06 791.52v3M318.97 791.52v3" stroke="#161616" stroke-width="1.0" fill="none"/>
<text class="s" x="219.43" y="708.98" font-size="5.73" text-anchor="end" font-weight="bold" stroke="#000" stroke-width="0.18" fill="#000">0.8</text>
<text class="s" x="219.43" y="730.06" font-size="5.73" text-anchor="end" font-weight="bold" stroke="#000" stroke-width="0.18" fill="#000">0.6</text>
<text class="s" x="219.43" y="751.14" font-size="5.73" text-anchor="end" font-weight="bold" stroke="#000" stroke-width="0.18" fill="#000">0.4</text>
<text class="s" x="219.43" y="772.46" font-size="5.73" text-anchor="end" font-weight="bold" stroke="#000" stroke-width="0.18" fill="#000">0.2</text>
<text class="s" x="219.43" y="793.54" font-size="5.73" text-anchor="end" font-weight="bold" stroke="#000" stroke-width="0.18" fill="#000">0.0</text>
<text class="s" x="238.91" y="800.25" font-size="5.92" text-anchor="end" font-weight="bold" stroke="#000" stroke-width="0.18" fill="#000" transform="rotate(-45 238.91 800.25)">Sham</text>
<text class="s" x="255.57" y="800.25" font-size="5.92" text-anchor="end" font-weight="bold" stroke="#000" stroke-width="0.18" fill="#000" transform="rotate(-45 255.57 800.25)">MCAO/R</text>
<text class="s" x="272.49" y="800.25" font-size="5.92" text-anchor="end" font-weight="bold" stroke="#000" stroke-width="0.18" fill="#000" transform="rotate(-45 272.49 800.25)">NBP</text>
<text class="s" x="289.15" y="800.25" font-size="5.92" text-anchor="end" font-weight="bold" stroke="#000" stroke-width="0.18" fill="#000" transform="rotate(-45 289.15 800.25)">Sham</text>
<text class="s" x="305.82" y="800.25" font-size="5.92" text-anchor="end" font-weight="bold" stroke="#000" stroke-width="0.18" fill="#000" transform="rotate(-45 305.82 800.25)">MCAO/R</text>
<text class="s" x="322.73" y="800.25" font-size="5.92" text-anchor="end" font-weight="bold" stroke="#000" stroke-width="0.18" fill="#000" transform="rotate(-45 322.73 800.25)">NBP</text>
<path d="M224.85 820.93H268.73" stroke="#161616" stroke-width="1.1"/>
<text class="s" x="247.89" y="828.77" font-size="6.49" text-anchor="middle" fill="#000">AAV-SYN</text>
<path d="M278.04 820.93H319.71" stroke="#161616" stroke-width="1.1"/>
<text class="s" x="298.38" y="828.77" font-size="6.49" text-anchor="middle" fill="#000">AAV-SYN-VIM</text>
<text class="s" x="206.77" y="748.63" font-size="6.49" text-anchor="middle" font-weight="bold" stroke="#000" stroke-width="0.18" fill="#000" transform="rotate(-90 206.77 748.63)">CD31<tspan dy="-2.2" font-size="5" >+</tspan><tspan dy="2.2" font-size="6.9">​</tspan>/DAPI<tspan dy="-2.2" font-size="5" >+</tspan><tspan dy="2.2" font-size="6.9">​</tspan> (Fold)</text>
<path d="M229.75 707.87V706.47H285.39V707.87" stroke="#161616" stroke-width="0.8" fill="none"/>
<text class="s" x="257.21" y="705.57" font-size="6.6" text-anchor="middle" font-style="italic" fill="#000" stroke="#111" stroke-width="0.25">ns</text>
<path d="M265.29 716.94V715.54H322.65V716.94" stroke="#161616" stroke-width="0.8" fill="none"/>
<text class="s" x="291.52" y="716.64" font-size="7.2" text-anchor="middle" font-weight="bold" stroke="#000" stroke-width="0.18" fill="#000">***</text>
<path d="M280.00 725.52V724.12H300.59V725.52" stroke="#161616" stroke-width="0.8" fill="none"/>
<text class="s" x="290.29" y="725.22" font-size="7.2" text-anchor="middle" font-weight="bold" stroke="#000" stroke-width="0.18" fill="#000">***</text>
<path d="M230.25 726.74V725.34H250.34V726.74" stroke="#161616" stroke-width="0.8" fill="none"/>
<text class="s" x="240.05" y="726.44" font-size="7.2" text-anchor="middle" font-weight="bold" stroke="#000" stroke-width="0.18" fill="#000">***</text>
<path d="M251.32 748.80V747.40H271.91V748.80" stroke="#161616" stroke-width="0.8" fill="none"/>
<text class="s" x="261.62" y="748.50" font-size="7.2" text-anchor="middle" font-weight="bold" stroke="#000" stroke-width="0.18" fill="#000">***</text>
<path d="M302.06 767.67V766.27H322.65V767.67" stroke="#161616" stroke-width="0.8" fill="none"/>
<text class="s" x="311.62" y="765.37" font-size="6.6" text-anchor="middle" font-style="italic" fill="#000" stroke="#111" stroke-width="0.25">ns</text>
</g>
<g id="chartQ">
<rect x="384.66" y="723.63" width="10.78" height="64.71" fill="#8a8a8a"/>
<rect x="401.81" y="785.88" width="10.78" height="2.45" fill="#8b0a12"/>
<rect x="418.48" y="738.09" width="10.78" height="50.25" fill="#2f7fbe"/>
<rect x="434.90" y="719.95" width="10.78" height="68.38" fill="#8a8a8a"/>
<rect x="452.06" y="785.88" width="10.78" height="2.45" fill="#8b0a12"/>
<rect x="468.73" y="785.88" width="10.78" height="2.45" fill="#2f7fbe"/>
<path d="M390.05 717.99V723.63M388.55 717.99H391.55" stroke="#8a8a8a" stroke-width="0.6" fill="none"/>
<path d="M390.05 723.63V729.02M388.55 729.02H391.55" stroke="#333" stroke-opacity="0.55" stroke-width="0.6" fill="none"/>
<path d="M407.21 782.94V785.88M405.71 782.94H408.71" stroke="#8b0a12" stroke-width="0.6" fill="none"/>
<path d="M407.21 785.88V787.84M405.71 787.84H408.71" stroke="#333" stroke-opacity="0.55" stroke-width="0.6" fill="none"/>
<path d="M423.87 732.70V738.09M422.37 732.70H425.37" stroke="#2f7fbe" stroke-width="0.6" fill="none"/>
<path d="M423.87 738.09V743.73M422.37 743.73H425.37" stroke="#333" stroke-opacity="0.55" stroke-width="0.6" fill="none"/>
<path d="M440.29 708.92V719.95M438.79 708.92H441.79" stroke="#8a8a8a" stroke-width="0.6" fill="none"/>
<path d="M440.29 719.95V727.79M438.79 727.79H441.79" stroke="#333" stroke-opacity="0.55" stroke-width="0.6" fill="none"/>
<path d="M457.45 784.17V785.88M455.95 784.17H458.95" stroke="#8b0a12" stroke-width="0.6" fill="none"/>
<path d="M457.45 785.88V787.35M455.95 787.35H458.95" stroke="#333" stroke-opacity="0.55" stroke-width="0.6" fill="none"/>
<path d="M474.12 783.43V785.88M472.62 783.43H475.62" stroke="#2f7fbe" stroke-width="0.6" fill="none"/>
<path d="M474.12 785.88V787.35M472.62 787.35H475.62" stroke="#333" stroke-opacity="0.55" stroke-width="0.6" fill="none"/>
<circle cx="390.05" cy="719.22" r="1.7" fill="#fff" stroke="#8a8a8a" stroke-width="0.85"/>
<circle cx="390.05" cy="724.12" r="1.7" fill="#fff" stroke="#8a8a8a" stroke-width="0.85"/>
<circle cx="390.05" cy="728.53" r="1.7" fill="#fff" stroke="#8a8a8a" stroke-width="0.85"/>
<circle cx="407.21" cy="781.72" r="1.7" fill="#fff" stroke="#8b0a12" stroke-width="0.85"/>
<circle cx="403.53" cy="786.62" r="1.7" fill="#fff" stroke="#8b0a12" stroke-width="0.85"/>
<circle cx="410.88" cy="786.62" r="1.7" fill="#fff" stroke="#8b0a12" stroke-width="0.85"/>
<circle cx="423.87" cy="732.70" r="1.7" fill="#fff" stroke="#2f7fbe" stroke-width="0.85"/>
<circle cx="423.87" cy="737.60" r="1.7" fill="#fff" stroke="#2f7fbe" stroke-width="0.85"/>
<circle cx="423.87" cy="743.24" r="1.7" fill="#fff" stroke="#2f7fbe" stroke-width="0.85"/>
<circle cx="440.29" cy="711.37" r="1.7" fill="#fff" stroke="#8a8a8a" stroke-width="0.85"/>
<circle cx="440.29" cy="721.18" r="1.7" fill="#fff" stroke="#8a8a8a" stroke-width="0.85"/>
<circle cx="440.29" cy="726.57" r="1.7" fill="#fff" stroke="#8a8a8a" stroke-width="0.85"/>
<circle cx="453.77" cy="785.88" r="1.7" fill="#fff" stroke="#8b0a12" stroke-width="0.85"/>
<circle cx="457.45" cy="784.66" r="1.7" fill="#fff" stroke="#8b0a12" stroke-width="0.85"/>
<circle cx="461.13" cy="785.88" r="1.7" fill="#fff" stroke="#8b0a12" stroke-width="0.85"/>
<circle cx="474.12" cy="783.43" r="1.7" fill="#fff" stroke="#2f7fbe" stroke-width="0.85"/>
<circle cx="470.44" cy="786.62" r="1.7" fill="#fff" stroke="#2f7fbe" stroke-width="0.85"/>
<circle cx="477.79" cy="785.88" r="1.7" fill="#fff" stroke="#2f7fbe" stroke-width="0.85"/>
<path d="M379.02 704.21V788.33H485.64M379.02 704.51h-3M379.02 732.45h-3M379.02 760.39h-3M379.02 788.33h-3M390.05 788.33v3M407.21 788.33v3M423.87 788.33v3M440.29 788.33v3M457.45 788.33v3M474.12 788.33v3" stroke="#161616" stroke-width="1.0" fill="none"/>
<text class="s" x="374.82" y="706.53" font-size="5.73" text-anchor="end" font-weight="bold" stroke="#000" stroke-width="0.18" fill="#000">0.6</text>
<text class="s" x="374.82" y="734.47" font-size="5.73" text-anchor="end" font-weight="bold" stroke="#000" stroke-width="0.18" fill="#000">0.4</text>
<text class="s" x="374.82" y="762.41" font-size="5.73" text-anchor="end" font-weight="bold" stroke="#000" stroke-width="0.18" fill="#000">0.2</text>
<text class="s" x="374.82" y="790.35" font-size="5.73" text-anchor="end" font-weight="bold" stroke="#000" stroke-width="0.18" fill="#000">0.0</text>
<text class="s" x="393.81" y="797.07" font-size="5.92" text-anchor="end" font-weight="bold" stroke="#000" stroke-width="0.18" fill="#000" transform="rotate(-45 393.81 797.07)">Sham</text>
<text class="s" x="410.97" y="797.07" font-size="5.92" text-anchor="end" font-weight="bold" stroke="#000" stroke-width="0.18" fill="#000" transform="rotate(-45 410.97 797.07)">MCAO/R</text>
<text class="s" x="427.63" y="797.07" font-size="5.92" text-anchor="end" font-weight="bold" stroke="#000" stroke-width="0.18" fill="#000" transform="rotate(-45 427.63 797.07)">NBP</text>
<text class="s" x="444.05" y="797.07" font-size="5.92" text-anchor="end" font-weight="bold" stroke="#000" stroke-width="0.18" fill="#000" transform="rotate(-45 444.05 797.07)">Sham</text>
<text class="s" x="461.21" y="797.07" font-size="5.92" text-anchor="end" font-weight="bold" stroke="#000" stroke-width="0.18" fill="#000" transform="rotate(-45 461.21 797.07)">MCAO/R</text>
<text class="s" x="477.88" y="797.07" font-size="5.92" text-anchor="end" font-weight="bold" stroke="#000" stroke-width="0.18" fill="#000" transform="rotate(-45 477.88 797.07)">NBP</text>
<path d="M380.74 818.48H424.85" stroke="#161616" stroke-width="1.1"/>
<text class="s" x="402.79" y="826.32" font-size="6.49" text-anchor="middle" fill="#000">AAV-SYN</text>
<path d="M432.94 818.48H474.12" stroke="#161616" stroke-width="1.1"/>
<text class="s" x="453.28" y="826.32" font-size="6.49" text-anchor="middle" fill="#000">AAV-SYN-VIM</text>
<text class="s" x="362.16" y="746.18" font-size="6.49" text-anchor="middle" font-weight="bold" stroke="#000" stroke-width="0.18" fill="#000" transform="rotate(-90 362.16 746.18)">Ki67<tspan dy="-2.2" font-size="5" >+</tspan><tspan dy="2.2" font-size="6.9">​</tspan>/DAPI<tspan dy="-2.2" font-size="5" >+</tspan><tspan dy="2.2" font-size="6.9">​</tspan> (Fold)</text>
<path d="M385.15 693.65V692.25H441.52V693.65" stroke="#161616" stroke-width="0.8" fill="none"/>
<text class="s" x="414.07" y="691.35" font-size="6.6" text-anchor="middle" font-style="italic" fill="#000" stroke="#111" stroke-width="0.25">ns</text>
<path d="M420.69 701.01V699.61H477.79V701.01" stroke="#161616" stroke-width="0.8" fill="none"/>
<text class="s" x="448.38" y="700.71" font-size="7.2" text-anchor="middle" font-weight="bold" stroke="#000" stroke-width="0.18" fill="#000">***</text>
<path d="M435.88 709.59V708.19H455.74V709.59" stroke="#161616" stroke-width="0.8" fill="none"/>
<text class="s" x="445.69" y="709.29" font-size="7.2" text-anchor="middle" font-weight="bold" stroke="#000" stroke-width="0.18" fill="#000">***</text>
<path d="M385.88 717.67V716.27H406.47V717.67" stroke="#161616" stroke-width="0.8" fill="none"/>
<text class="s" x="395.69" y="717.37" font-size="7.2" text-anchor="middle" font-weight="bold" stroke="#000" stroke-width="0.18" fill="#000">***</text>
<path d="M407.21 728.70V727.30H427.30V728.70" stroke="#161616" stroke-width="0.8" fill="none"/>
<text class="s" x="417.01" y="728.40" font-size="7.2" text-anchor="middle" font-weight="bold" stroke="#000" stroke-width="0.18" fill="#000">***</text>
<path d="M457.45 778.95V777.55H477.79V778.95" stroke="#161616" stroke-width="0.8" fill="none"/>
<text class="s" x="467.25" y="776.65" font-size="6.6" text-anchor="middle" font-style="italic" fill="#000" stroke="#111" stroke-width="0.25">ns</text>
</g>
<g id="chartS">
<rect x="75.49" y="893.04" width="11.76" height="40.44" fill="#8a8a8a"/>
<rect x="92.89" y="907.75" width="11.76" height="25.74" fill="#8b0a12"/>
<rect x="111.03" y="905.05" width="11.76" height="28.43" fill="#5aa4cf"/>
<rect x="128.92" y="880.78" width="11.76" height="52.70" fill="#8a8a8a"/>
<rect x="146.57" y="894.75" width="11.76" height="38.73" fill="#8b0a12"/>
<rect x="164.46" y="875.15" width="11.76" height="58.33" fill="#5aa4cf"/>
<path d="M81.37 881.76V893.04M79.87 881.76H82.87" stroke="#8a8a8a" stroke-width="0.6" fill="none"/>
<path d="M81.37 893.04V903.33M79.87 903.33H82.87" stroke="#333" stroke-opacity="0.55" stroke-width="0.6" fill="none"/>
<path d="M98.77 900.88V907.75M97.27 900.88H100.27" stroke="#8b0a12" stroke-width="0.6" fill="none"/>
<path d="M98.77 907.75V915.59M97.27 915.59H100.27" stroke="#333" stroke-opacity="0.55" stroke-width="0.6" fill="none"/>
<path d="M116.91 897.21V905.05M115.41 897.21H118.41" stroke="#5aa4cf" stroke-width="0.6" fill="none"/>
<path d="M116.91 905.05V912.65M115.41 912.65H118.41" stroke="#333" stroke-opacity="0.55" stroke-width="0.6" fill="none"/>
<path d="M134.80 876.86V880.78M133.30 876.86H136.30" stroke="#8a8a8a" stroke-width="0.6" fill="none"/>
<path d="M134.80 880.78V884.95M133.30 884.95H136.30" stroke="#333" stroke-opacity="0.55" stroke-width="0.6" fill="none"/>
<path d="M152.45 884.95V894.75M150.95 884.95H153.95" stroke="#8b0a12" stroke-width="0.6" fill="none"/>
<path d="M152.45 894.75V902.11M150.95 902.11H153.95" stroke="#333" stroke-opacity="0.55" stroke-width="0.6" fill="none"/>
<path d="M170.34 869.02V875.15M168.84 869.02H171.84" stroke="#5aa4cf" stroke-width="0.6" fill="none"/>
<path d="M170.34 875.15V880.78M168.84 880.78H171.84" stroke="#333" stroke-opacity="0.55" stroke-width="0.6" fill="none"/>
<circle cx="81.37" cy="881.27" r="1.7" fill="#fff" stroke="#8a8a8a" stroke-width="0.85"/>
<circle cx="81.37" cy="895.98" r="1.7" fill="#fff" stroke="#8a8a8a" stroke-width="0.85"/>
<circle cx="81.37" cy="900.88" r="1.7" fill="#fff" stroke="#8a8a8a" stroke-width="0.85"/>
<circle cx="98.77" cy="902.60" r="1.7" fill="#fff" stroke="#8b0a12" stroke-width="0.85"/>
<circle cx="98.77" cy="908.24" r="1.7" fill="#fff" stroke="#8b0a12" stroke-width="0.85"/>
<circle cx="98.77" cy="914.36" r="1.7" fill="#fff" stroke="#8b0a12" stroke-width="0.85"/>
<circle cx="116.91" cy="897.21" r="1.7" fill="#fff" stroke="#5aa4cf" stroke-width="0.85"/>
<circle cx="116.91" cy="907.01" r="1.7" fill="#fff" stroke="#5aa4cf" stroke-width="0.85"/>
<circle cx="116.91" cy="911.91" r="1.7" fill="#fff" stroke="#5aa4cf" stroke-width="0.85"/>
<circle cx="134.80" cy="878.33" r="1.7" fill="#fff" stroke="#8a8a8a" stroke-width="0.85"/>
<circle cx="138.97" cy="878.33" r="1.7" fill="#fff" stroke="#8a8a8a" stroke-width="0.85"/>
<circle cx="134.80" cy="884.22" r="1.7" fill="#fff" stroke="#8a8a8a" stroke-width="0.85"/>
<circle cx="152.45" cy="885.69" r="1.7" fill="#fff" stroke="#8b0a12" stroke-width="0.85"/>
<circle cx="149.02" cy="899.17" r="1.7" fill="#fff" stroke="#8b0a12" stroke-width="0.85"/>
<circle cx="156.13" cy="899.17" r="1.7" fill="#fff" stroke="#8b0a12" stroke-width="0.85"/>
<circle cx="170.34" cy="869.51" r="1.7" fill="#fff" stroke="#5aa4cf" stroke-width="0.85"/>
<circle cx="166.67" cy="878.09" r="1.7" fill="#fff" stroke="#5aa4cf" stroke-width="0.85"/>
<circle cx="174.02" cy="877.60" r="1.7" fill="#fff" stroke="#5aa4cf" stroke-width="0.85"/>
<path d="M69.85 852.30V933.48H180.15M69.85 852.60h-3M69.85 879.56h-3M69.85 906.52h-3M69.85 933.48h-3M81.37 933.48v3M98.77 933.48v3M116.91 933.48v3M134.80 933.48v3M152.45 933.48v3M170.34 933.48v3" stroke="#161616" stroke-width="1.0" fill="none"/>
<text class="s" x="65.65" y="854.75" font-size="6.1" text-anchor="end" font-weight="bold" stroke="#000" stroke-width="0.18" fill="#000">150</text>
<text class="s" x="65.65" y="881.71" font-size="6.1" text-anchor="end" font-weight="bold" stroke="#000" stroke-width="0.18" fill="#000">100</text>
<text class="s" x="65.65" y="908.67" font-size="6.1" text-anchor="end" font-weight="bold" stroke="#000" stroke-width="0.18" fill="#000">50</text>
<text class="s" x="65.65" y="935.63" font-size="6.1" text-anchor="end" font-weight="bold" stroke="#000" stroke-width="0.18" fill="#000">0</text>
<text class="s" x="85.05" y="942.09" font-size="5.8" text-anchor="end" font-weight="bold" stroke="#000" stroke-width="0.18" fill="#000" transform="rotate(-45 85.05 942.09)">Sham</text>
<text class="s" x="102.45" y="942.09" font-size="5.8" text-anchor="end" font-weight="bold" stroke="#000" stroke-width="0.18" fill="#000" transform="rotate(-45 102.45 942.09)">MCAO/R</text>
<text class="s" x="120.59" y="942.09" font-size="5.8" text-anchor="end" font-weight="bold" stroke="#000" stroke-width="0.18" fill="#000" transform="rotate(-45 120.59 942.09)">NBP</text>
<text class="s" x="138.48" y="942.09" font-size="5.8" text-anchor="end" font-weight="bold" stroke="#000" stroke-width="0.18" fill="#000" transform="rotate(-45 138.48 942.09)">Sham</text>
<text class="s" x="156.13" y="942.09" font-size="5.8" text-anchor="end" font-weight="bold" stroke="#000" stroke-width="0.18" fill="#000" transform="rotate(-45 156.13 942.09)">MCAO/R</text>
<text class="s" x="174.02" y="942.09" font-size="5.8" text-anchor="end" font-weight="bold" stroke="#000" stroke-width="0.18" fill="#000" transform="rotate(-45 174.02 942.09)">NBP</text>
<path d="M72.30 963.87H118.87" stroke="#161616" stroke-width="1.1"/>
<text class="s" x="96.32" y="973.19" font-size="6.9" text-anchor="middle" fill="#000">AAV-SYN-VIM</text>
<path d="M126.23 963.87H171.57" stroke="#161616" stroke-width="1.1"/>
<text class="s" x="150.74" y="973.19" font-size="6.9" text-anchor="middle" fill="#000">AAV-SYN</text>
<text class="s" x="42.84" y="893.04" font-size="6.9" text-anchor="middle" font-weight="bold" stroke="#000" stroke-width="0.18" fill="#000" transform="rotate(-90 42.84 893.04)">Notch1/β-actin</text>
<text class="s" x="52.15" y="893.04" font-size="6.9" text-anchor="middle" font-weight="bold" stroke="#000" stroke-width="0.18" fill="#000" transform="rotate(-90 52.15 893.04)">(% of β-actin)</text>
<path d="M78.43 865.52V864.12H131.13V865.52" stroke="#161616" stroke-width="0.8" fill="none"/>
<text class="s" x="104.17" y="863.22" font-size="6.6" text-anchor="middle" font-style="italic" fill="#000" stroke="#111" stroke-width="0.25">ns</text>
<path d="M117.65 855.22V853.82H170.34V855.22" stroke="#161616" stroke-width="0.8" fill="none"/>
<text class="s" x="141.67" y="854.92" font-size="7.2" text-anchor="middle" font-weight="bold" stroke="#000" stroke-width="0.18" fill="#000">**</text>
<path d="M132.35 873.61V872.21H151.47V873.61" stroke="#161616" stroke-width="0.8" fill="none"/>
<text class="s" x="141.67" y="871.31" font-size="6.6" text-anchor="middle" font-style="italic" fill="#000" stroke="#111" stroke-width="0.25">ns</text>
<path d="M153.19 865.03V863.63H174.51V865.03" stroke="#161616" stroke-width="0.8" fill="none"/>
<text class="s" x="162.50" y="864.73" font-size="7.2" text-anchor="middle" font-weight="bold" stroke="#000" stroke-width="0.18" fill="#000">*</text>
<path d="M78.43 876.55V875.15H98.04V876.55" stroke="#161616" stroke-width="0.8" fill="none"/>
<text class="s" x="87.75" y="874.25" font-size="6.6" text-anchor="middle" font-style="italic" fill="#000" stroke="#111" stroke-width="0.25">ns</text>
<path d="M98.77 893.21V891.81H119.36V893.21" stroke="#161616" stroke-width="0.8" fill="none"/>
<text class="s" x="108.58" y="890.91" font-size="6.6" text-anchor="middle" font-style="italic" fill="#000" stroke="#111" stroke-width="0.25">ns</text>
</g>
<g id="chartT">
<rect x="224.46" y="905.78" width="11.76" height="28.68" fill="#8a8a8a"/>
<rect x="241.86" y="915.59" width="11.76" height="18.87" fill="#8b0a12"/>
<rect x="260.00" y="916.81" width="11.76" height="17.65" fill="#5aa4cf"/>
<rect x="277.89" y="886.18" width="11.76" height="48.28" fill="#8a8a8a"/>
<rect x="295.54" y="906.27" width="11.76" height="28.19" fill="#8b0a12"/>
<rect x="313.43" y="884.22" width="11.76" height="50.25" fill="#5aa4cf"/>
<path d="M230.34 902.11V905.78M228.84 902.11H231.84" stroke="#8a8a8a" stroke-width="0.6" fill="none"/>
<path d="M230.34 905.78V909.46M228.84 909.46H231.84" stroke="#333" stroke-opacity="0.55" stroke-width="0.6" fill="none"/>
<path d="M247.75 910.20V915.59M246.25 910.20H249.25" stroke="#8b0a12" stroke-width="0.6" fill="none"/>
<path d="M247.75 915.59V921.72M246.25 921.72H249.25" stroke="#333" stroke-opacity="0.55" stroke-width="0.6" fill="none"/>
<path d="M265.88 908.73V916.81M264.38 908.73H267.38" stroke="#5aa4cf" stroke-width="0.6" fill="none"/>
<path d="M265.88 916.81V925.39M264.38 925.39H267.38" stroke="#333" stroke-opacity="0.55" stroke-width="0.6" fill="none"/>
<path d="M283.77 880.78V886.18M282.27 880.78H285.27" stroke="#8a8a8a" stroke-width="0.6" fill="none"/>
<path d="M283.77 886.18V891.08M282.27 891.08H285.27" stroke="#333" stroke-opacity="0.55" stroke-width="0.6" fill="none"/>
<path d="M301.42 902.11V906.27M299.92 902.11H302.92" stroke="#8b0a12" stroke-width="0.6" fill="none"/>
<path d="M301.42 906.27V910.69M299.92 910.69H302.92" stroke="#333" stroke-opacity="0.55" stroke-width="0.6" fill="none"/>
<path d="M319.31 869.02V884.22M317.81 869.02H320.81" stroke="#5aa4cf" stroke-width="0.6" fill="none"/>
<path d="M319.31 884.22V897.94M317.81 897.94H320.81" stroke="#333" stroke-opacity="0.55" stroke-width="0.6" fill="none"/>
<circle cx="230.34" cy="902.11" r="1.7" fill="#fff" stroke="#8a8a8a" stroke-width="0.85"/>
<circle cx="233.53" cy="906.27" r="1.7" fill="#fff" stroke="#8a8a8a" stroke-width="0.85"/>
<circle cx="227.40" cy="907.01" r="1.7" fill="#fff" stroke="#8a8a8a" stroke-width="0.85"/>
<circle cx="247.75" cy="910.69" r="1.7" fill="#fff" stroke="#8b0a12" stroke-width="0.85"/>
<circle cx="247.75" cy="915.59" r="1.7" fill="#fff" stroke="#8b0a12" stroke-width="0.85"/>
<circle cx="247.75" cy="920.49" r="1.7" fill="#fff" stroke="#8b0a12" stroke-width="0.85"/>
<circle cx="265.88" cy="909.46" r="1.7" fill="#fff" stroke="#5aa4cf" stroke-width="0.85"/>
<circle cx="265.88" cy="914.36" r="1.7" fill="#fff" stroke="#5aa4cf" stroke-width="0.85"/>
<circle cx="265.88" cy="925.39" r="1.7" fill="#fff" stroke="#5aa4cf" stroke-width="0.85"/>
<circle cx="283.77" cy="880.78" r="1.7" fill="#fff" stroke="#8a8a8a" stroke-width="0.85"/>
<circle cx="286.96" cy="885.69" r="1.7" fill="#fff" stroke="#8a8a8a" stroke-width="0.85"/>
<circle cx="283.77" cy="890.59" r="1.7" fill="#fff" stroke="#8a8a8a" stroke-width="0.85"/>
<circle cx="301.42" cy="902.11" r="1.7" fill="#fff" stroke="#8b0a12" stroke-width="0.85"/>
<circle cx="299.71" cy="907.01" r="1.7" fill="#fff" stroke="#8b0a12" stroke-width="0.85"/>
<circle cx="302.16" cy="910.20" r="1.7" fill="#fff" stroke="#8b0a12" stroke-width="0.85"/>
<circle cx="319.31" cy="868.53" r="1.7" fill="#fff" stroke="#5aa4cf" stroke-width="0.85"/>
<circle cx="315.64" cy="892.30" r="1.7" fill="#fff" stroke="#5aa4cf" stroke-width="0.85"/>
<circle cx="322.99" cy="891.08" r="1.7" fill="#fff" stroke="#5aa4cf" stroke-width="0.85"/>
<path d="M218.82 853.28V934.46H327.89M218.82 853.58h-3M218.82 880.54h-3M218.82 907.50h-3M218.82 934.46h-3M230.34 934.46v3M247.75 934.46v3M265.88 934.46v3M283.77 934.46v3M301.42 934.46v3M319.31 934.46v3" stroke="#161616" stroke-width="1.0" fill="none"/>
<text class="s" x="214.62" y="855.73" font-size="6.1" text-anchor="end" font-weight="bold" stroke="#000" stroke-width="0.18" fill="#000">150</text>
<text class="s" x="214.62" y="882.69" font-size="6.1" text-anchor="end" font-weight="bold" stroke="#000" stroke-width="0.18" fill="#000">100</text>
<text class="s" x="214.62" y="909.65" font-size="6.1" text-anchor="end" font-weight="bold" stroke="#000" stroke-width="0.18" fill="#000">50</text>
<text class="s" x="214.62" y="936.61" font-size="6.1" text-anchor="end" font-weight="bold" stroke="#000" stroke-width="0.18" fill="#000">0</text>
<text class="s" x="234.02" y="943.07" font-size="5.8" text-anchor="end" font-weight="bold" stroke="#000" stroke-width="0.18" fill="#000" transform="rotate(-45 234.02 943.07)">Sham</text>
<text class="s" x="251.43" y="943.07" font-size="5.8" text-anchor="end" font-weight="bold" stroke="#000" stroke-width="0.18" fill="#000" transform="rotate(-45 251.43 943.07)">MCAO/R</text>
<text class="s" x="269.56" y="943.07" font-size="5.8" text-anchor="end" font-weight="bold" stroke="#000" stroke-width="0.18" fill="#000" transform="rotate(-45 269.56 943.07)">NBP</text>
<text class="s" x="287.45" y="943.07" font-size="5.8" text-anchor="end" font-weight="bold" stroke="#000" stroke-width="0.18" fill="#000" transform="rotate(-45 287.45 943.07)">Sham</text>
<text class="s" x="305.10" y="943.07" font-size="5.8" text-anchor="end" font-weight="bold" stroke="#000" stroke-width="0.18" fill="#000" transform="rotate(-45 305.10 943.07)">MCAO/R</text>
<text class="s" x="322.99" y="943.07" font-size="5.8" text-anchor="end" font-weight="bold" stroke="#000" stroke-width="0.18" fill="#000" transform="rotate(-45 322.99 943.07)">NBP</text>
<path d="M221.27 965.10H267.84" stroke="#161616" stroke-width="1.1"/>
<text class="s" x="245.78" y="974.41" font-size="6.9" text-anchor="middle" fill="#000">AAV-SYN-VIM</text>
<path d="M274.71 965.10H320.54" stroke="#161616" stroke-width="1.1"/>
<text class="s" x="299.71" y="974.41" font-size="6.9" text-anchor="middle" fill="#000">AAV-SYN</text>
<text class="s" x="192.30" y="894.02" font-size="6.9" text-anchor="middle" font-weight="bold" stroke="#000" stroke-width="0.18" fill="#000" transform="rotate(-90 192.30 894.02)">Jagged1/β-actin</text>
<text class="s" x="201.13" y="894.02" font-size="6.9" text-anchor="middle" font-weight="bold" stroke="#000" stroke-width="0.18" fill="#000" transform="rotate(-90 201.13 894.02)">(% of β-actin)</text>
<path d="M227.40 869.19V867.79H280.10V869.19" stroke="#161616" stroke-width="0.8" fill="none"/>
<text class="s" x="251.91" y="866.89" font-size="6.6" text-anchor="middle" font-style="italic" fill="#000" stroke="#111" stroke-width="0.25">ns</text>
<path d="M265.88 857.67V856.27H319.80V857.67" stroke="#161616" stroke-width="0.8" fill="none"/>
<text class="s" x="291.62" y="857.37" font-size="7.2" text-anchor="middle" font-weight="bold" stroke="#000" stroke-width="0.18" fill="#000">**</text>
<path d="M281.32 878.26V876.86H300.44V878.26" stroke="#161616" stroke-width="0.8" fill="none"/>
<text class="s" x="290.64" y="877.96" font-size="7.2" text-anchor="middle" font-weight="bold" stroke="#000" stroke-width="0.18" fill="#000">*</text>
<path d="M302.16 865.03V863.63H321.27V865.03" stroke="#161616" stroke-width="0.8" fill="none"/>
<text class="s" x="311.47" y="864.73" font-size="7.2" text-anchor="middle" font-weight="bold" stroke="#000" stroke-width="0.18" fill="#000">*</text>
<path d="M227.40 899.10V897.70H247.01V899.10" stroke="#161616" stroke-width="0.8" fill="none"/>
<text class="s" x="237.21" y="896.80" font-size="6.6" text-anchor="middle" font-style="italic" fill="#000" stroke="#111" stroke-width="0.25">ns</text>
<path d="M247.75 905.96V904.56H267.84V905.96" stroke="#161616" stroke-width="0.8" fill="none"/>
<text class="s" x="257.30" y="903.66" font-size="6.6" text-anchor="middle" font-style="italic" fill="#000" stroke="#111" stroke-width="0.25">ns</text>
</g>
<g id="chartU">
<rect x="372.01" y="915.10" width="11.76" height="22.06" fill="#8a8a8a"/>
<rect x="389.90" y="922.94" width="11.76" height="14.22" fill="#8b0a12"/>
<rect x="407.79" y="925.88" width="11.76" height="11.27" fill="#5aa4cf"/>
<rect x="425.44" y="886.67" width="11.76" height="50.49" fill="#8a8a8a"/>
<rect x="443.33" y="917.30" width="11.76" height="19.85" fill="#8b0a12"/>
<rect x="460.98" y="881.76" width="11.76" height="55.39" fill="#5aa4cf"/>
<path d="M377.89 909.46V915.10M376.39 909.46H379.39" stroke="#8a8a8a" stroke-width="0.6" fill="none"/>
<path d="M377.89 915.10V920.98M376.39 920.98H379.39" stroke="#333" stroke-opacity="0.55" stroke-width="0.6" fill="none"/>
<path d="M395.78 910.69V922.94M394.28 910.69H397.28" stroke="#8b0a12" stroke-width="0.6" fill="none"/>
<path d="M395.78 922.94V935.20M394.28 935.20H397.28" stroke="#333" stroke-opacity="0.55" stroke-width="0.6" fill="none"/>
<path d="M413.68 922.94V925.88M412.18 922.94H415.18" stroke="#5aa4cf" stroke-width="0.6" fill="none"/>
<path d="M413.68 925.88V927.35M412.18 927.35H415.18" stroke="#333" stroke-opacity="0.55" stroke-width="0.6" fill="none"/>
<path d="M431.32 878.82V886.67M429.82 878.82H432.82" stroke="#8a8a8a" stroke-width="0.6" fill="none"/>
<path d="M431.32 886.67V893.53M429.82 893.53H432.82" stroke="#333" stroke-opacity="0.55" stroke-width="0.6" fill="none"/>
<path d="M449.22 899.66V917.30M447.72 899.66H450.72" stroke="#8b0a12" stroke-width="0.6" fill="none"/>
<path d="M449.22 917.30V935.20M447.72 935.20H450.72" stroke="#333" stroke-opacity="0.55" stroke-width="0.6" fill="none"/>
<path d="M466.86 866.57V881.76M465.36 866.57H468.36" stroke="#5aa4cf" stroke-width="0.6" fill="none"/>
<path d="M466.86 881.76V895.98M465.36 895.98H468.36" stroke="#333" stroke-opacity="0.55" stroke-width="0.6" fill="none"/>
<circle cx="377.89" cy="910.20" r="1.7" fill="#fff" stroke="#8a8a8a" stroke-width="0.85"/>
<circle cx="374.95" cy="916.08" r="1.7" fill="#fff" stroke="#8a8a8a" stroke-width="0.85"/>
<circle cx="381.08" cy="915.59" r="1.7" fill="#fff" stroke="#8a8a8a" stroke-width="0.85"/>
<circle cx="395.78" cy="911.18" r="1.7" fill="#fff" stroke="#8b0a12" stroke-width="0.85"/>
<circle cx="392.11" cy="928.33" r="1.7" fill="#fff" stroke="#8b0a12" stroke-width="0.85"/>
<circle cx="399.46" cy="927.84" r="1.7" fill="#fff" stroke="#8b0a12" stroke-width="0.85"/>
<circle cx="413.68" cy="922.21" r="1.7" fill="#fff" stroke="#5aa4cf" stroke-width="0.85"/>
<circle cx="410.00" cy="925.39" r="1.7" fill="#fff" stroke="#5aa4cf" stroke-width="0.85"/>
<circle cx="417.11" cy="925.39" r="1.7" fill="#fff" stroke="#5aa4cf" stroke-width="0.85"/>
<circle cx="431.32" cy="879.56" r="1.7" fill="#fff" stroke="#8a8a8a" stroke-width="0.85"/>
<circle cx="427.65" cy="888.14" r="1.7" fill="#fff" stroke="#8a8a8a" stroke-width="0.85"/>
<circle cx="431.81" cy="892.30" r="1.7" fill="#fff" stroke="#8a8a8a" stroke-width="0.85"/>
<circle cx="449.22" cy="900.15" r="1.7" fill="#fff" stroke="#8b0a12" stroke-width="0.85"/>
<circle cx="445.54" cy="925.88" r="1.7" fill="#fff" stroke="#8b0a12" stroke-width="0.85"/>
<circle cx="452.89" cy="925.39" r="1.7" fill="#fff" stroke="#8b0a12" stroke-width="0.85"/>
<circle cx="466.86" cy="866.57" r="1.7" fill="#fff" stroke="#5aa4cf" stroke-width="0.85"/>
<circle cx="466.86" cy="887.40" r="1.7" fill="#fff" stroke="#5aa4cf" stroke-width="0.85"/>
<circle cx="466.86" cy="894.26" r="1.7" fill="#fff" stroke="#5aa4cf" stroke-width="0.85"/>
<path d="M366.37 855.97V937.16H479.12M366.37 856.27h-3M366.37 883.24h-3M366.37 910.20h-3M366.37 937.16h-3M377.89 937.16v3M395.78 937.16v3M413.68 937.16v3M431.32 937.16v3M449.22 937.16v3M466.86 937.16v3" stroke="#161616" stroke-width="1.0" fill="none"/>
<text class="s" x="362.17" y="858.42" font-size="6.1" text-anchor="end" font-weight="bold" stroke="#000" stroke-width="0.18" fill="#000">150</text>
<text class="s" x="362.17" y="885.39" font-size="6.1" text-anchor="end" font-weight="bold" stroke="#000" stroke-width="0.18" fill="#000">100</text>
<text class="s" x="362.17" y="912.35" font-size="6.1" text-anchor="end" font-weight="bold" stroke="#000" stroke-width="0.18" fill="#000">50</text>
<text class="s" x="362.17" y="939.31" font-size="6.1" text-anchor="end" font-weight="bold" stroke="#000" stroke-width="0.18" fill="#000">0</text>
<text class="s" x="381.57" y="945.77" font-size="5.8" text-anchor="end" font-weight="bold" stroke="#000" stroke-width="0.18" fill="#000" transform="rotate(-45 381.57 945.77)">Sham</text>
<text class="s" x="399.46" y="945.77" font-size="5.8" text-anchor="end" font-weight="bold" stroke="#000" stroke-width="0.18" fill="#000" transform="rotate(-45 399.46 945.77)">MCAO/R</text>
<text class="s" x="417.36" y="945.77" font-size="5.8" text-anchor="end" font-weight="bold" stroke="#000" stroke-width="0.18" fill="#000" transform="rotate(-45 417.36 945.77)">NBP</text>
<text class="s" x="435.00" y="945.77" font-size="5.8" text-anchor="end" font-weight="bold" stroke="#000" stroke-width="0.18" fill="#000" transform="rotate(-45 435.00 945.77)">Sham</text>
<text class="s" x="452.90" y="945.77" font-size="5.8" text-anchor="end" font-weight="bold" stroke="#000" stroke-width="0.18" fill="#000" transform="rotate(-45 452.90 945.77)">MCAO/R</text>
<text class="s" x="470.54" y="945.77" font-size="5.8" text-anchor="end" font-weight="bold" stroke="#000" stroke-width="0.18" fill="#000" transform="rotate(-45 470.54 945.77)">NBP</text>
<path d="M368.82 967.79H415.39" stroke="#161616" stroke-width="1.1"/>
<text class="s" x="393.33" y="976.86" font-size="6.9" text-anchor="middle" fill="#000">AAV-SYN-VIM</text>
<path d="M422.75 967.79H468.82" stroke="#161616" stroke-width="1.1"/>
<text class="s" x="447.25" y="976.86" font-size="6.9" text-anchor="middle" fill="#000">AAV-SYN</text>
<text class="s" x="340.59" y="896.72" font-size="6.9" text-anchor="middle" font-weight="bold" stroke="#000" stroke-width="0.18" fill="#000" transform="rotate(-90 340.59 896.72)">HES1/β-actin</text>
<text class="s" x="349.16" y="896.72" font-size="6.9" text-anchor="middle" font-weight="bold" stroke="#000" stroke-width="0.18" fill="#000" transform="rotate(-90 349.16 896.72)">(% of β-actin)</text>
<path d="M374.95 868.70V867.30H428.87V868.70" stroke="#161616" stroke-width="0.8" fill="none"/>
<text class="s" x="401.18" y="868.40" font-size="7.2" text-anchor="middle" font-weight="bold" stroke="#000" stroke-width="0.18" fill="#000">*</text>
<path d="M414.17 855.71V854.31H466.86V855.71" stroke="#161616" stroke-width="0.8" fill="none"/>
<text class="s" x="439.90" y="855.41" font-size="7.2" text-anchor="middle" font-weight="bold" stroke="#000" stroke-width="0.18" fill="#000">**</text>
<path d="M428.87 876.55V875.15H448.48V876.55" stroke="#161616" stroke-width="0.8" fill="none"/>
<text class="s" x="439.17" y="876.25" font-size="7.2" text-anchor="middle" font-weight="bold" stroke="#000" stroke-width="0.18" fill="#000">*</text>
<path d="M449.71 865.03V863.63H469.31V865.03" stroke="#161616" stroke-width="0.8" fill="none"/>
<text class="s" x="458.28" y="864.73" font-size="7.2" text-anchor="middle" font-weight="bold" stroke="#000" stroke-width="0.18" fill="#000">**</text>
<path d="M374.95 906.45V905.05H394.56V906.45" stroke="#161616" stroke-width="0.8" fill="none"/>
<text class="s" x="385.25" y="904.15" font-size="6.6" text-anchor="middle" font-style="italic" fill="#000" stroke="#111" stroke-width="0.25">ns</text>
<path d="M394.56 906.45V905.05H415.88V906.45" stroke="#161616" stroke-width="0.8" fill="none"/>
<text class="s" x="405.59" y="904.15" font-size="6.6" text-anchor="middle" font-style="italic" fill="#000" stroke="#111" stroke-width="0.25">ns</text>
</g>
<g id="chartV">
<rect x="524.46" y="893.53" width="11.76" height="44.61" fill="#8a8a8a"/>
<rect x="542.35" y="913.14" width="11.76" height="25.00" fill="#8b0a12"/>
<rect x="560.00" y="908.73" width="11.76" height="29.41" fill="#5aa4cf"/>
<rect x="577.89" y="872.21" width="11.76" height="65.93" fill="#8a8a8a"/>
<rect x="595.78" y="908.24" width="11.76" height="29.90" fill="#8b0a12"/>
<rect x="613.43" y="875.15" width="11.76" height="62.99" fill="#5aa4cf"/>
<path d="M530.34 878.82V893.53M528.84 878.82H531.84" stroke="#8a8a8a" stroke-width="0.6" fill="none"/>
<path d="M530.34 893.53V908.24M528.84 908.24H531.84" stroke="#333" stroke-opacity="0.55" stroke-width="0.6" fill="none"/>
<path d="M548.24 904.56V913.14M546.74 904.56H549.74" stroke="#8b0a12" stroke-width="0.6" fill="none"/>
<path d="M548.24 913.14V919.26M546.74 919.26H549.74" stroke="#333" stroke-opacity="0.55" stroke-width="0.6" fill="none"/>
<path d="M565.88 890.59V908.73M564.38 890.59H567.38" stroke="#5aa4cf" stroke-width="0.6" fill="none"/>
<path d="M565.88 908.73V927.11M564.38 927.11H567.38" stroke="#333" stroke-opacity="0.55" stroke-width="0.6" fill="none"/>
<path d="M583.77 859.22V872.21M582.27 859.22H585.27" stroke="#8a8a8a" stroke-width="0.6" fill="none"/>
<path d="M583.77 872.21V884.95M582.27 884.95H585.27" stroke="#333" stroke-opacity="0.55" stroke-width="0.6" fill="none"/>
<path d="M601.67 899.66V908.24M600.17 899.66H603.17" stroke="#8b0a12" stroke-width="0.6" fill="none"/>
<path d="M601.67 908.24V915.59M600.17 915.59H603.17" stroke="#333" stroke-opacity="0.55" stroke-width="0.6" fill="none"/>
<path d="M619.31 861.67V875.15M617.81 861.67H620.81" stroke="#5aa4cf" stroke-width="0.6" fill="none"/>
<path d="M619.31 875.15V888.14M617.81 888.14H620.81" stroke="#333" stroke-opacity="0.55" stroke-width="0.6" fill="none"/>
<circle cx="526.18" cy="884.46" r="1.7" fill="#fff" stroke="#8a8a8a" stroke-width="0.85"/>
<circle cx="530.34" cy="886.67" r="1.7" fill="#fff" stroke="#8a8a8a" stroke-width="0.85"/>
<circle cx="530.34" cy="909.46" r="1.7" fill="#fff" stroke="#8a8a8a" stroke-width="0.85"/>
<circle cx="548.24" cy="905.29" r="1.7" fill="#fff" stroke="#8b0a12" stroke-width="0.85"/>
<circle cx="544.56" cy="917.55" r="1.7" fill="#fff" stroke="#8b0a12" stroke-width="0.85"/>
<circle cx="552.40" cy="916.32" r="1.7" fill="#fff" stroke="#8b0a12" stroke-width="0.85"/>
<circle cx="565.88" cy="890.59" r="1.7" fill="#fff" stroke="#5aa4cf" stroke-width="0.85"/>
<circle cx="565.88" cy="909.46" r="1.7" fill="#fff" stroke="#5aa4cf" stroke-width="0.85"/>
<circle cx="565.88" cy="925.88" r="1.7" fill="#fff" stroke="#5aa4cf" stroke-width="0.85"/>
<circle cx="583.77" cy="859.95" r="1.7" fill="#fff" stroke="#8a8a8a" stroke-width="0.85"/>
<circle cx="583.77" cy="873.92" r="1.7" fill="#fff" stroke="#8a8a8a" stroke-width="0.85"/>
<circle cx="583.77" cy="882.50" r="1.7" fill="#fff" stroke="#8a8a8a" stroke-width="0.85"/>
<circle cx="601.67" cy="900.15" r="1.7" fill="#fff" stroke="#8b0a12" stroke-width="0.85"/>
<circle cx="598.97" cy="912.65" r="1.7" fill="#fff" stroke="#8b0a12" stroke-width="0.85"/>
<circle cx="605.83" cy="911.42" r="1.7" fill="#fff" stroke="#8b0a12" stroke-width="0.85"/>
<circle cx="619.31" cy="862.40" r="1.7" fill="#fff" stroke="#5aa4cf" stroke-width="0.85"/>
<circle cx="619.31" cy="875.88" r="1.7" fill="#fff" stroke="#5aa4cf" stroke-width="0.85"/>
<circle cx="619.31" cy="886.18" r="1.7" fill="#fff" stroke="#5aa4cf" stroke-width="0.85"/>
<path d="M518.82 852.79V938.14H630.34M518.82 853.09h-3M518.82 881.52h-3M518.82 909.71h-3M518.82 938.14h-3M530.34 938.14v3M548.24 938.14v3M565.88 938.14v3M583.77 938.14v3M601.67 938.14v3M619.31 938.14v3" stroke="#161616" stroke-width="1.0" fill="none"/>
<text class="s" x="514.62" y="855.24" font-size="6.1" text-anchor="end" font-weight="bold" stroke="#000" stroke-width="0.18" fill="#000">150</text>
<text class="s" x="514.62" y="883.67" font-size="6.1" text-anchor="end" font-weight="bold" stroke="#000" stroke-width="0.18" fill="#000">100</text>
<text class="s" x="514.62" y="911.86" font-size="6.1" text-anchor="end" font-weight="bold" stroke="#000" stroke-width="0.18" fill="#000">50</text>
<text class="s" x="514.62" y="940.29" font-size="6.1" text-anchor="end" font-weight="bold" stroke="#000" stroke-width="0.18" fill="#000">0</text>
<text class="s" x="534.02" y="946.75" font-size="5.8" text-anchor="end" font-weight="bold" stroke="#000" stroke-width="0.18" fill="#000" transform="rotate(-45 534.02 946.75)">Sham</text>
<text class="s" x="551.92" y="946.75" font-size="5.8" text-anchor="end" font-weight="bold" stroke="#000" stroke-width="0.18" fill="#000" transform="rotate(-45 551.92 946.75)">MCAO/R</text>
<text class="s" x="569.56" y="946.75" font-size="5.8" text-anchor="end" font-weight="bold" stroke="#000" stroke-width="0.18" fill="#000" transform="rotate(-45 569.56 946.75)">NBP</text>
<text class="s" x="587.45" y="946.75" font-size="5.8" text-anchor="end" font-weight="bold" stroke="#000" stroke-width="0.18" fill="#000" transform="rotate(-45 587.45 946.75)">Sham</text>
<text class="s" x="605.35" y="946.75" font-size="5.8" text-anchor="end" font-weight="bold" stroke="#000" stroke-width="0.18" fill="#000" transform="rotate(-45 605.35 946.75)">MCAO/R</text>
<text class="s" x="622.99" y="946.75" font-size="5.8" text-anchor="end" font-weight="bold" stroke="#000" stroke-width="0.18" fill="#000" transform="rotate(-45 622.99 946.75)">NBP</text>
<path d="M521.27 968.28H567.84" stroke="#161616" stroke-width="1.1"/>
<text class="s" x="545.78" y="977.35" font-size="6.9" text-anchor="middle" fill="#000">AAV-SYN-VIM</text>
<path d="M575.20 968.28H621.27" stroke="#161616" stroke-width="1.1"/>
<text class="s" x="599.71" y="977.35" font-size="6.9" text-anchor="middle" fill="#000">AAV-SYN</text>
<text class="s" x="493.04" y="895.49" font-size="6.9" text-anchor="middle" font-weight="bold" stroke="#000" stroke-width="0.18" fill="#000" transform="rotate(-90 493.04 895.49)">HEY1/β-actin</text>
<text class="s" x="501.62" y="895.49" font-size="6.9" text-anchor="middle" font-weight="bold" stroke="#000" stroke-width="0.18" fill="#000" transform="rotate(-90 501.62 895.49)">(% of β-actin)</text>
<path d="M527.40 848.85V847.45H580.59V848.85" stroke="#161616" stroke-width="0.8" fill="none"/>
<text class="s" x="551.18" y="846.55" font-size="6.6" text-anchor="middle" font-style="italic" fill="#000" stroke="#111" stroke-width="0.25">ns</text>
<path d="M565.88 842.23V840.83H619.80V842.23" stroke="#161616" stroke-width="0.8" fill="none"/>
<text class="s" x="594.31" y="841.93" font-size="7.2" text-anchor="middle" font-weight="bold" stroke="#000" stroke-width="0.18" fill="#000">*</text>
<path d="M581.81 856.45V855.05H600.93V856.45" stroke="#161616" stroke-width="0.8" fill="none"/>
<text class="s" x="591.13" y="856.15" font-size="7.2" text-anchor="middle" font-weight="bold" stroke="#000" stroke-width="0.18" fill="#000">*</text>
<path d="M602.16 856.45V855.05H621.76V856.45" stroke="#161616" stroke-width="0.8" fill="none"/>
<text class="s" x="611.47" y="856.15" font-size="7.2" text-anchor="middle" font-weight="bold" stroke="#000" stroke-width="0.18" fill="#000">*</text>
<path d="M527.40 878.26V876.86H547.50V878.26" stroke="#161616" stroke-width="0.8" fill="none"/>
<text class="s" x="537.21" y="875.96" font-size="6.6" text-anchor="middle" font-style="italic" fill="#000" stroke="#111" stroke-width="0.25">ns</text>
<path d="M548.24 887.58V886.18H568.58V887.58" stroke="#161616" stroke-width="0.8" fill="none"/>
<text class="s" x="557.55" y="885.28" font-size="6.6" text-anchor="middle" font-style="italic" fill="#000" stroke="#111" stroke-width="0.25">ns</text>
</g>
<g id="chartW">
<rect x="675.80" y="913.63" width="11.76" height="22.79" fill="#8a8a8a"/>
<rect x="693.45" y="922.45" width="11.76" height="13.97" fill="#8b0a12"/>
<rect x="711.10" y="916.81" width="11.76" height="19.61" fill="#5aa4cf"/>
<rect x="728.99" y="876.37" width="11.76" height="60.05" fill="#8a8a8a"/>
<rect x="746.88" y="910.69" width="11.76" height="25.74" fill="#8b0a12"/>
<rect x="764.53" y="870.25" width="11.76" height="66.18" fill="#5aa4cf"/>
<path d="M681.69 904.56V913.63M680.19 904.56H683.19" stroke="#8a8a8a" stroke-width="0.6" fill="none"/>
<path d="M681.69 913.63V921.72M680.19 921.72H683.19" stroke="#333" stroke-opacity="0.55" stroke-width="0.6" fill="none"/>
<path d="M699.33 920.00V922.45M697.83 920.00H700.83" stroke="#8b0a12" stroke-width="0.6" fill="none"/>
<path d="M699.33 922.45V924.17M697.83 924.17H700.83" stroke="#333" stroke-opacity="0.55" stroke-width="0.6" fill="none"/>
<path d="M716.98 905.78V916.81M715.48 905.78H718.48" stroke="#5aa4cf" stroke-width="0.6" fill="none"/>
<path d="M716.98 916.81V929.07M715.48 929.07H718.48" stroke="#333" stroke-opacity="0.55" stroke-width="0.6" fill="none"/>
<path d="M734.87 862.89V876.37M733.37 862.89H736.37" stroke="#8a8a8a" stroke-width="0.6" fill="none"/>
<path d="M734.87 876.37V891.08M733.37 891.08H736.37" stroke="#333" stroke-opacity="0.55" stroke-width="0.6" fill="none"/>
<path d="M752.76 900.88V910.69M751.26 900.88H754.26" stroke="#8b0a12" stroke-width="0.6" fill="none"/>
<path d="M752.76 910.69V919.26M751.26 919.26H754.26" stroke="#333" stroke-opacity="0.55" stroke-width="0.6" fill="none"/>
<path d="M770.41 861.67V870.25M768.91 861.67H771.91" stroke="#5aa4cf" stroke-width="0.6" fill="none"/>
<path d="M770.41 870.25V880.05M768.91 880.05H771.91" stroke="#333" stroke-opacity="0.55" stroke-width="0.6" fill="none"/>
<circle cx="681.69" cy="905.05" r="1.7" fill="#fff" stroke="#8a8a8a" stroke-width="0.85"/>
<circle cx="681.69" cy="916.81" r="1.7" fill="#fff" stroke="#8a8a8a" stroke-width="0.85"/>
<circle cx="681.69" cy="920.00" r="1.7" fill="#fff" stroke="#8a8a8a" stroke-width="0.85"/>
<circle cx="695.66" cy="922.94" r="1.7" fill="#fff" stroke="#8b0a12" stroke-width="0.85"/>
<circle cx="699.33" cy="920.98" r="1.7" fill="#fff" stroke="#8b0a12" stroke-width="0.85"/>
<circle cx="703.01" cy="921.72" r="1.7" fill="#fff" stroke="#8b0a12" stroke-width="0.85"/>
<circle cx="716.98" cy="910.69" r="1.7" fill="#fff" stroke="#5aa4cf" stroke-width="0.85"/>
<circle cx="721.39" cy="910.69" r="1.7" fill="#fff" stroke="#5aa4cf" stroke-width="0.85"/>
<circle cx="716.98" cy="927.84" r="1.7" fill="#fff" stroke="#5aa4cf" stroke-width="0.85"/>
<circle cx="734.87" cy="864.85" r="1.7" fill="#fff" stroke="#8a8a8a" stroke-width="0.85"/>
<circle cx="734.87" cy="871.96" r="1.7" fill="#fff" stroke="#8a8a8a" stroke-width="0.85"/>
<circle cx="734.87" cy="891.08" r="1.7" fill="#fff" stroke="#8a8a8a" stroke-width="0.85"/>
<circle cx="752.76" cy="901.37" r="1.7" fill="#fff" stroke="#8b0a12" stroke-width="0.85"/>
<circle cx="749.58" cy="916.32" r="1.7" fill="#fff" stroke="#8b0a12" stroke-width="0.85"/>
<circle cx="755.71" cy="915.10" r="1.7" fill="#fff" stroke="#8b0a12" stroke-width="0.85"/>
<circle cx="770.41" cy="862.16" r="1.7" fill="#fff" stroke="#5aa4cf" stroke-width="0.85"/>
<circle cx="770.41" cy="869.02" r="1.7" fill="#fff" stroke="#5aa4cf" stroke-width="0.85"/>
<circle cx="770.41" cy="878.82" r="1.7" fill="#fff" stroke="#5aa4cf" stroke-width="0.85"/>
<path d="M670.41 851.56V936.42H782.67M670.41 851.86h-3M670.41 880.05h-3M670.41 908.24h-3M670.41 936.42h-3M681.69 936.42v3M699.33 936.42v3M716.98 936.42v3M734.87 936.42v3M752.76 936.42v3M770.41 936.42v3" stroke="#161616" stroke-width="1.0" fill="none"/>
<text class="s" x="666.21" y="854.01" font-size="6.1" text-anchor="end" font-weight="bold" stroke="#000" stroke-width="0.18" fill="#000">150</text>
<text class="s" x="666.21" y="882.20" font-size="6.1" text-anchor="end" font-weight="bold" stroke="#000" stroke-width="0.18" fill="#000">100</text>
<text class="s" x="666.21" y="910.39" font-size="6.1" text-anchor="end" font-weight="bold" stroke="#000" stroke-width="0.18" fill="#000">50</text>
<text class="s" x="666.21" y="938.57" font-size="6.1" text-anchor="end" font-weight="bold" stroke="#000" stroke-width="0.18" fill="#000">0</text>
<text class="s" x="685.37" y="945.03" font-size="5.8" text-anchor="end" font-weight="bold" stroke="#000" stroke-width="0.18" fill="#000" transform="rotate(-45 685.37 945.03)">Sham</text>
<text class="s" x="703.01" y="945.03" font-size="5.8" text-anchor="end" font-weight="bold" stroke="#000" stroke-width="0.18" fill="#000" transform="rotate(-45 703.01 945.03)">MCAO/R</text>
<text class="s" x="720.66" y="945.03" font-size="5.8" text-anchor="end" font-weight="bold" stroke="#000" stroke-width="0.18" fill="#000" transform="rotate(-45 720.66 945.03)">NBP</text>
<text class="s" x="738.55" y="945.03" font-size="5.8" text-anchor="end" font-weight="bold" stroke="#000" stroke-width="0.18" fill="#000" transform="rotate(-45 738.55 945.03)">Sham</text>
<text class="s" x="756.44" y="945.03" font-size="5.8" text-anchor="end" font-weight="bold" stroke="#000" stroke-width="0.18" fill="#000" transform="rotate(-45 756.44 945.03)">MCAO/R</text>
<text class="s" x="774.09" y="945.03" font-size="5.8" text-anchor="end" font-weight="bold" stroke="#000" stroke-width="0.18" fill="#000" transform="rotate(-45 774.09 945.03)">NBP</text>
<path d="M672.86 967.06H718.45" stroke="#161616" stroke-width="1.1"/>
<text class="s" x="696.88" y="976.13" font-size="6.9" text-anchor="middle" fill="#000">AAV-SYN-VIM</text>
<path d="M726.29 967.06H772.37" stroke="#161616" stroke-width="1.1"/>
<text class="s" x="751.29" y="976.13" font-size="6.9" text-anchor="middle" fill="#000">AAV-SYN</text>
<text class="s" x="644.14" y="894.02" font-size="6.9" text-anchor="middle" font-weight="bold" stroke="#000" stroke-width="0.18" fill="#000" transform="rotate(-90 644.14 894.02)">HES5/β-actin</text>
<text class="s" x="653.20" y="894.02" font-size="6.9" text-anchor="middle" font-weight="bold" stroke="#000" stroke-width="0.18" fill="#000" transform="rotate(-90 653.20 894.02)">(% of β-actin)</text>
<path d="M679.24 852.53V851.13H731.93V852.53" stroke="#161616" stroke-width="0.8" fill="none"/>
<text class="s" x="702.27" y="852.23" font-size="7.2" text-anchor="middle" font-weight="bold" stroke="#000" stroke-width="0.18" fill="#000">**</text>
<path d="M717.72 845.91V844.51H770.90V845.91" stroke="#161616" stroke-width="0.8" fill="none"/>
<text class="s" x="745.41" y="845.61" font-size="7.2" text-anchor="middle" font-weight="bold" stroke="#000" stroke-width="0.18" fill="#000">***</text>
<path d="M732.42 859.88V858.48H751.54V859.88" stroke="#161616" stroke-width="0.8" fill="none"/>
<text class="s" x="741.49" y="859.58" font-size="7.2" text-anchor="middle" font-weight="bold" stroke="#000" stroke-width="0.18" fill="#000">**</text>
<path d="M753.25 859.39V857.99H772.86V859.39" stroke="#161616" stroke-width="0.8" fill="none"/>
<text class="s" x="762.57" y="859.09" font-size="7.2" text-anchor="middle" font-weight="bold" stroke="#000" stroke-width="0.18" fill="#000">**</text>
<path d="M679.24 901.55V900.15H698.60V901.55" stroke="#161616" stroke-width="0.8" fill="none"/>
<text class="s" x="688.79" y="899.25" font-size="6.6" text-anchor="middle" font-style="italic" fill="#000" stroke="#111" stroke-width="0.25">ns</text>
<path d="M698.60 901.55V900.15H719.43V901.55" stroke="#161616" stroke-width="0.8" fill="none"/>
<text class="s" x="709.14" y="899.25" font-size="6.6" text-anchor="middle" font-style="italic" fill="#000" stroke="#111" stroke-width="0.25">ns</text>
</g>
</svg></body></html>
